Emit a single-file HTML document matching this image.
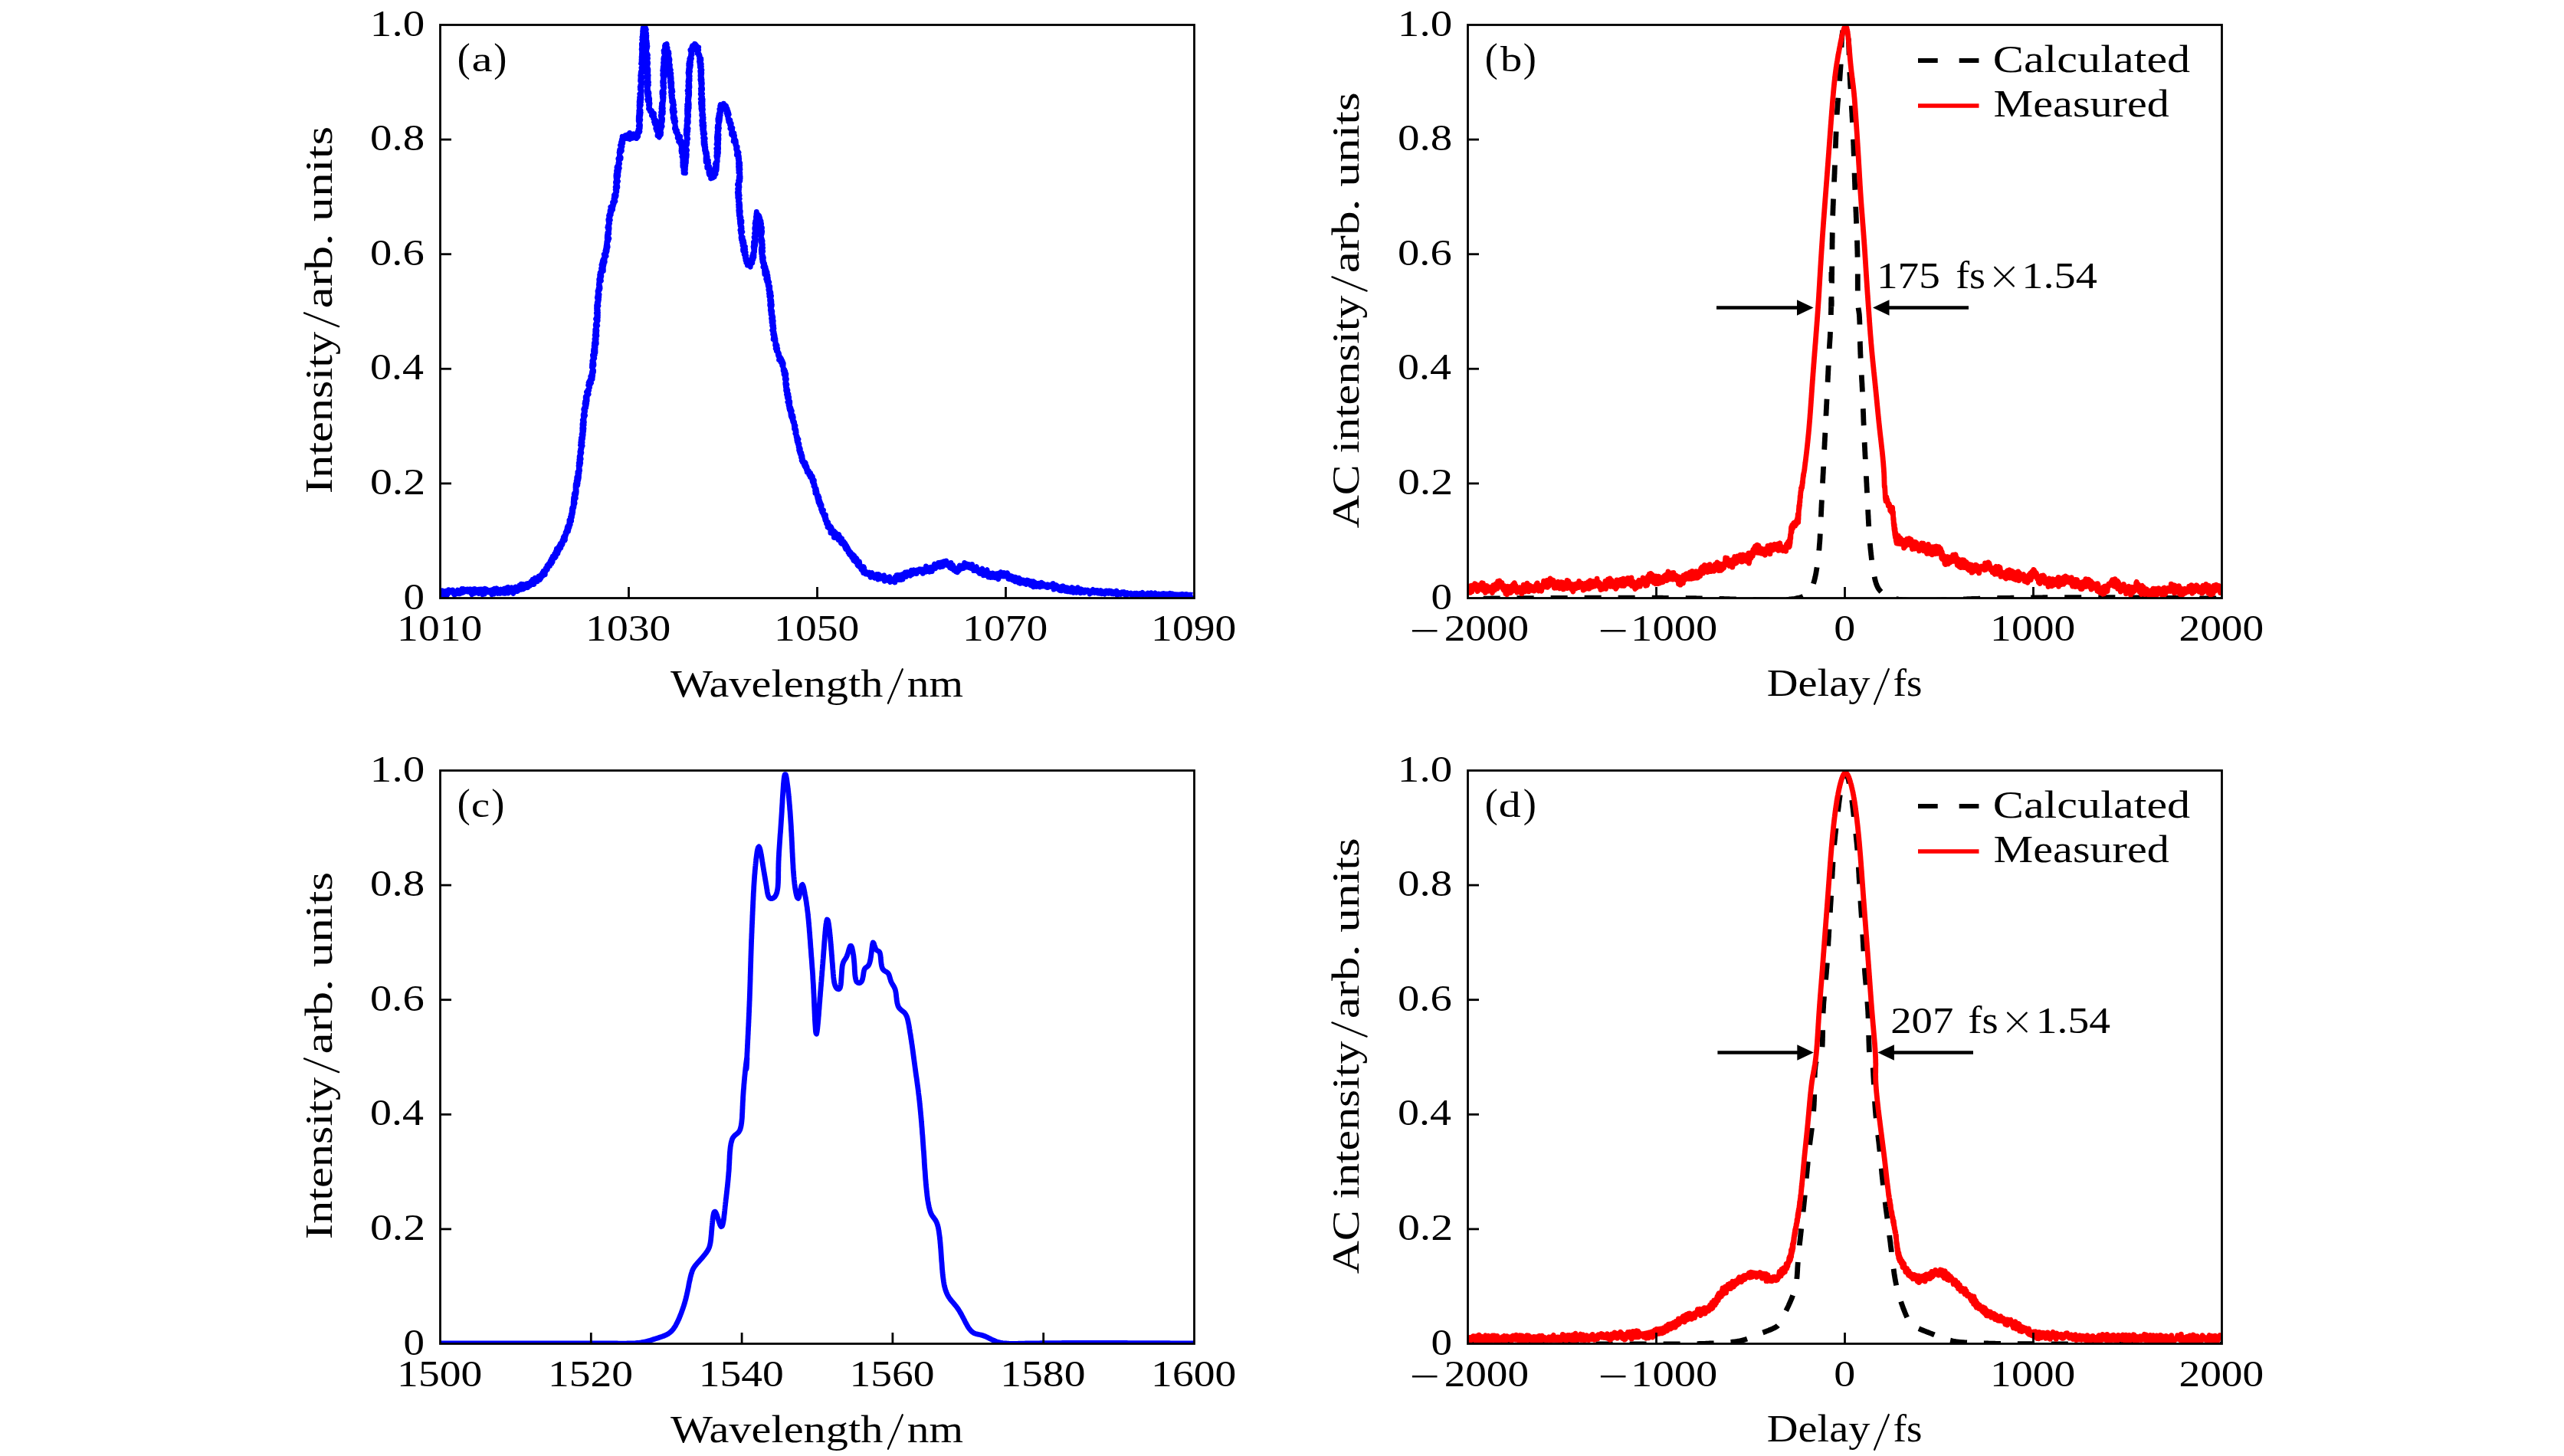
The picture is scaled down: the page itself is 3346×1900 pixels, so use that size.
<!DOCTYPE html>
<html><head><meta charset="utf-8"><style>
html,body{margin:0;padding:0;background:#fff;overflow:hidden}
svg{display:block}
text{font-family:"Liberation Serif",serif}
</style></head><body>
<svg width="3346" height="1900" viewBox="0 0 3346 1900"><defs>
<clipPath id="ca"><rect x="574.5" y="32.5" width="984.0" height="748.0"/></clipPath>
<clipPath id="cb"><rect x="1915.5" y="32.5" width="984.0" height="748.0"/></clipPath>
<clipPath id="cc"><rect x="574.5" y="1005.5" width="984.0" height="748.0"/></clipPath>
<clipPath id="cd"><rect x="1915.5" y="1005.5" width="984.0" height="748.0"/></clipPath>
</defs>
<path clip-path="url(#ca)" d="M574.0 772.9L574.6 772.3 575.2 775.8 575.8 774.4 576.4 771.9 577.0 770.9 577.6 774.1 578.2 771.0 578.8 774.2 579.4 776.9 580.0 771.6 580.6 775.4 581.2 773.9 581.8 771.1 582.4 771.5 583.0 777.4 583.6 773.9 584.2 773.8 584.8 774.9 585.4 769.7 586.0 770.3 586.6 770.5 587.2 771.3 587.8 772.6 588.4 771.2 589.0 772.3 589.6 771.1 590.2 769.8 590.8 769.8 591.4 773.9 592.0 775.1 592.6 772.3 593.2 776.2 593.8 773.8 594.4 775.2 595.0 774.9 595.6 772.6 596.2 774.7 596.8 773.6 597.4 770.0 598.0 772.8 598.6 772.0 599.2 771.3 599.8 774.9 600.4 771.4 601.0 771.3 601.6 772.4 602.2 773.6 602.8 768.3 603.4 773.7 604.0 769.9 604.6 768.4 605.2 772.9 605.8 770.6 606.4 771.3 607.0 771.6 607.6 770.6 608.2 769.2 608.8 771.2 609.4 771.9 610.0 768.9 610.6 771.7 611.2 770.4 611.8 770.1 612.4 772.3 613.0 768.9 613.6 771.9 614.2 768.9 614.8 774.2 615.4 769.9 616.0 775.8 616.6 769.7 617.2 774.8 617.8 772.7 618.4 768.6 619.0 774.4 619.6 770.3 620.2 768.6 620.8 773.5 621.4 771.4 622.0 772.6 622.6 770.2 623.2 770.9 623.8 772.7 624.4 769.2 625.0 774.6 625.6 771.9 626.2 772.6 626.8 768.9 627.4 769.4 628.0 769.7 628.6 769.2 629.2 774.4 629.8 775.9 630.4 771.3 631.0 770.2 631.6 770.4 632.2 775.1 632.8 768.2 633.4 771.2 634.0 768.5 634.6 768.9 635.2 773.0 635.8 769.7 636.4 772.3 637.0 770.5 637.6 772.9 638.2 771.3 638.8 770.5 639.4 771.3 640.0 770.2 640.6 772.4 641.2 774.2 641.8 775.8 642.4 769.6 643.0 775.2 643.6 769.2 644.2 773.9 644.8 775.0 645.4 768.1 646.0 772.0 646.6 771.1 647.2 772.4 647.8 772.0 648.4 767.8 649.0 771.9 649.6 774.5 650.2 769.6 650.8 771.3 651.4 771.2 652.0 773.1 652.6 774.4 653.2 773.4 653.8 769.0 654.4 772.9 655.0 771.3 655.6 772.6 656.2 772.5 656.8 774.1 657.4 773.6 658.0 768.2 658.6 770.3 659.2 774.4 659.8 771.2 660.4 770.4 661.0 767.3 661.5 771.7 662.1 766.5 662.7 766.2 663.3 774.0 663.9 770.9 664.5 773.1 665.1 772.2 665.7 767.1 666.3 768.6 666.9 769.7 667.5 766.6 668.0 767.3 668.6 767.8 669.2 772.7 669.8 774.5 670.4 770.8 671.0 770.8 671.6 770.5 672.1 768.3 672.7 765.9 673.3 770.3 673.9 771.7 674.5 769.5 675.1 771.6 675.6 771.5 676.2 769.5 676.8 769.3 677.4 768.7 677.9 764.0 678.5 766.7 679.1 763.7 679.7 769.4 680.2 762.1 680.8 767.1 681.4 765.2 681.9 764.6 682.5 762.6 683.1 768.9 683.6 764.8 684.2 762.8 684.8 767.5 685.3 766.1 685.9 763.0 686.5 762.5 687.0 765.8 687.6 761.6 688.1 765.3 688.7 766.6 689.3 762.8 689.8 763.6 690.4 760.9 690.9 762.0 691.5 764.4 692.0 762.2 692.5 762.6 693.1 758.8 693.6 759.2 694.2 758.6 694.7 762.5 695.2 756.2 695.7 757.3 696.3 756.6 696.8 762.6 697.3 759.5 697.8 757.4 698.3 754.2 698.8 757.4 699.3 755.3 699.8 757.5 700.2 755.1 700.7 755.2 701.2 758.9 701.6 757.1 702.1 754.4 702.5 753.6 702.9 751.9 703.5 755.5 703.8 753.9 704.4 755.7 704.6 756.6 705.1 754.0 705.5 755.4 706.0 754.1 706.3 750.0 706.9 751.6 707.0 749.9 707.6 752.2 707.9 747.5 708.3 750.7 708.6 751.4 708.8 747.3 709.2 745.1 709.8 749.3 709.8 747.7 710.3 749.4 710.7 746.5 711.3 749.8 711.3 746.6 711.9 746.2 712.1 741.9 712.1 742.9 712.6 745.0 713.3 741.6 713.2 743.4 713.9 738.2 713.9 740.7 714.6 737.7 714.4 743.1 715.3 737.0 715.2 737.4 715.6 736.2 715.7 737.6 716.1 738.4 716.9 737.2 717.0 736.5 717.6 738.5 717.7 733.3 717.7 735.0 718.5 734.9 718.2 732.1 718.6 735.6 719.1 732.6 719.5 729.5 719.7 735.4 719.6 730.1 720.2 731.9 721.1 726.1 721.1 733.2 721.4 726.5 721.9 726.7 721.7 727.5 722.1 727.2 723.0 726.7 723.2 725.6 723.7 722.6 723.6 724.7 723.6 726.1 724.1 728.2 724.8 724.5 724.3 727.0 725.3 726.6 725.1 721.0 725.5 719.0 725.7 719.2 726.2 723.2 726.2 718.4 726.4 716.1 727.1 722.9 727.2 720.0 728.0 722.2 727.6 716.0 728.9 713.8 729.1 714.1 729.2 718.6 730.0 712.6 729.3 718.4 729.7 712.9 730.8 715.5 731.2 709.3 730.3 712.1 731.1 712.3 731.6 715.3 731.8 715.0 732.4 710.4 732.3 710.2 732.5 709.7 733.4 711.3 732.8 710.9 734.1 710.2 734.4 706.5 734.1 709.1 733.6 706.4 734.4 704.2 734.1 704.7 734.8 704.6 735.4 702.8 734.7 703.9 736.3 703.2 735.2 701.1 736.5 699.2 737.0 705.3 737.4 699.9 737.6 703.8 737.2 699.5 738.1 699.6 737.3 698.2 737.4 700.3 738.3 694.5 738.2 694.6 739.2 693.5 739.0 693.1 739.0 697.1 739.8 693.8 739.4 692.0 738.7 693.9 740.1 693.7 739.6 692.8 739.5 693.5 740.2 688.1 741.4 690.1 740.7 686.8 741.5 693.4 741.2 690.0 741.0 687.8 741.9 691.6 742.5 684.4 741.5 686.5 742.9 684.5 742.6 684.6 743.1 687.9 742.8 681.7 742.8 687.3 742.7 683.6 743.5 684.9 742.9 679.0 744.3 684.4 743.9 682.2 744.6 678.1 743.1 679.3 744.5 677.1 743.5 680.1 743.8 678.0 745.4 680.3 745.7 679.9 744.9 674.9 744.6 679.0 745.4 674.0 744.5 674.6 746.2 675.5 744.6 678.1 746.5 674.2 745.2 671.5 746.6 667.3 747.0 669.9 745.8 669.8 746.5 667.7 746.4 667.5 747.3 670.9 747.0 666.0 746.1 666.8 746.9 670.1 747.1 666.5 747.7 668.1 746.4 664.1 747.8 665.8 748.3 662.2 746.7 663.8 747.2 667.3 747.4 664.9 746.9 662.1 749.0 660.0 748.9 661.9 748.4 658.8 748.1 658.4 749.0 660.4 749.2 658.3 748.9 658.7 748.1 658.0 748.9 654.3 749.9 657.4 749.3 652.1 750.1 656.5 748.1 655.4 748.4 657.1 749.9 652.7 748.3 654.1 748.6 649.3 749.5 650.4 749.2 650.5 749.7 651.3 750.3 645.7 749.6 647.2 751.1 646.2 750.6 645.8 751.3 650.0 749.2 644.9 749.7 643.4 750.1 645.2 750.8 642.1 749.8 645.6 751.0 644.7 751.5 645.6 750.9 644.0 752.3 641.0 751.9 644.5 752.2 639.1 751.9 640.5 751.0 636.5 752.2 641.3 751.0 639.0 751.3 637.0 751.3 636.1 752.1 636.5 751.5 634.7 751.0 636.2 751.1 632.9 752.0 635.6 751.2 631.6 751.8 632.1 752.7 632.9 753.8 633.1 753.7 632.3 752.1 630.3 754.2 630.6 752.3 630.2 754.2 628.1 752.1 627.7 752.9 625.5 752.7 630.3 752.7 622.9 754.0 628.7 753.3 624.4 753.1 624.5 753.0 625.4 753.0 627.1 755.0 626.0 755.0 620.3 754.5 620.9 755.4 623.9 755.5 617.4 755.4 618.7 754.2 618.5 753.9 618.3 755.9 617.0 755.5 616.4 755.5 617.9 754.0 615.7 755.7 616.6 754.8 614.4 754.0 616.9 754.9 615.9 755.7 610.0 756.2 611.6 755.5 609.3 755.3 611.8 756.6 614.1 756.1 612.0 755.9 607.3 755.3 610.6 757.2 605.4 755.0 607.8 755.3 608.7 755.9 610.7 756.0 605.4 757.1 607.3 757.5 602.4 755.7 602.9 755.2 604.2 757.7 603.8 755.8 600.0 757.3 604.9 756.5 600.3 757.6 598.7 755.9 600.3 756.0 599.5 756.6 602.3 756.3 595.9 756.1 595.4 756.2 600.3 757.0 594.7 758.2 598.8 756.3 595.4 757.5 594.8 757.3 589.2 757.0 593.4 757.1 596.3 757.1 595.2 757.3 591.3 756.8 589.2 757.4 594.9 758.9 590.7 757.2 588.6 757.2 588.3 757.6 589.5 759.0 585.0 758.2 584.0 757.0 589.1 758.1 587.2 758.7 584.7 758.4 588.1 757.6 585.8 759.7 581.1 759.6 582.5 757.5 580.9 759.5 580.7 758.3 582.0 760.1 581.5 759.1 580.9 759.8 576.7 758.7 579.3 757.7 577.8 757.9 576.5 760.0 572.2 759.8 577.3 760.0 577.6 758.1 574.2 758.9 573.2 758.6 573.8 759.7 571.9 759.3 571.9 759.3 573.2 759.2 572.9 759.5 569.9 760.5 572.3 758.4 571.3 761.0 568.4 760.3 566.3 760.7 570.4 761.1 564.7 759.7 569.3 761.2 567.6 761.0 562.6 760.5 563.9 759.1 566.6 760.7 562.3 760.1 563.6 759.8 561.7 761.0 561.5 761.6 563.2 761.8 559.6 760.7 558.7 760.4 560.9 762.0 559.1 761.0 556.7 761.0 556.8 759.7 559.0 760.8 553.3 760.1 553.6 762.2 554.6 761.4 553.1 761.4 554.8 762.4 550.9 759.9 554.8 760.0 552.9 760.4 551.8 762.0 548.2 760.7 549.4 761.9 550.5 761.9 549.9 760.3 548.1 761.2 547.1 762.1 543.9 761.5 548.8 761.7 546.1 761.5 543.8 761.1 541.6 761.5 545.5 761.9 542.9 761.3 541.4 762.7 544.5 762.9 540.4 761.4 540.4 763.6 542.1 762.3 540.1 762.5 542.9 762.8 542.3 762.3 538.7 763.6 536.0 763.4 537.7 762.8 539.4 761.7 534.0 763.4 537.4 762.4 532.3 762.2 535.6 763.2 535.6 762.9 533.8 763.8 530.7 764.0 530.2 764.3 532.2 764.4 531.5 764.6 532.1 763.0 526.6 764.3 527.5 765.1 529.2 764.6 528.2 763.2 528.0 763.9 528.4 764.8 527.3 765.7 526.4 765.0 528.8 765.2 523.1 763.5 523.6 764.8 522.6 766.2 523.3 766.1 519.8 765.5 520.7 765.6 518.3 766.2 518.4 764.6 521.8 764.2 519.7 764.2 517.5 766.9 514.7 766.2 517.8 766.0 513.3 765.6 516.5 766.8 515.0 765.6 516.7 767.5 513.0 765.9 512.2 766.1 510.8 765.5 511.5 768.2 514.4 766.7 509.6 766.3 513.1 768.5 509.7 766.2 510.6 766.2 512.9 767.5 510.0 768.1 507.4 767.2 509.0 769.3 505.5 768.9 505.3 769.5 506.0 769.2 504.5 769.3 503.9 767.7 502.8 769.0 501.4 770.4 501.6 768.0 499.3 769.0 497.5 770.0 497.9 770.2 501.5 771.0 499.1 769.9 498.5 771.5 499.8 769.7 499.6 769.4 496.6 771.8 495.0 770.9 495.5 770.1 495.5 771.0 493.3 771.0 497.5 772.5 494.3 771.8 491.1 770.7 491.4 771.4 491.9 773.1 495.1 772.3 492.2 773.1 493.4 773.7 489.3 772.9 489.1 772.9 491.9 771.8 489.9 772.6 484.8 773.9 485.6 773.8 484.7 774.3 483.4 774.3 485.8 773.1 486.6 774.1 485.5 774.4 484.8 774.5 485.7 774.6 483.4 772.4 479.3 773.3 480.8 773.0 479.5 773.1 479.1 774.3 478.0 772.7 478.8 774.7 476.7 772.7 479.8 773.4 474.3 772.5 476.5 775.0 476.3 774.8 473.9 772.7 475.3 774.9 476.6 772.7 474.6 773.1 472.7 774.4 470.5 773.9 474.3 773.8 469.0 772.9 470.8 774.1 468.5 773.9 469.5 773.2 470.4 775.8 467.5 774.5 464.3 774.8 467.7 774.0 467.0 773.4 463.6 775.3 463.3 776.1 462.7 776.2 463.0 775.5 462.2 776.0 462.6 775.6 458.8 776.1 460.0 774.7 464.8 774.6 456.4 774.4 458.3 775.8 457.6 774.9 460.3 776.9 454.8 777.0 459.9 776.8 458.2 776.9 458.8 775.0 456.0 775.6 455.8 777.1 451.3 774.8 455.5 777.0 453.3 775.1 451.5 776.2 454.4 775.3 448.3 775.9 449.2 776.9 450.4 777.1 451.3 777.7 446.6 776.7 448.6 775.8 446.7 777.3 446.3 777.3 447.1 776.3 446.8 777.7 442.3 778.3 448.2 776.3 444.8 777.2 444.6 775.9 442.4 777.4 446.7 776.2 442.8 777.2 438.2 778.2 442.6 776.2 437.3 776.9 438.9 777.1 439.6 776.7 439.0 777.6 439.4 778.4 434.4 778.9 438.0 779.0 438.0 777.0 437.6 776.7 431.9 777.9 430.5 778.7 433.6 777.1 430.1 776.7 433.3 777.3 429.9 776.8 432.4 777.2 429.3 776.8 429.9 779.0 431.5 778.1 428.3 779.4 424.7 778.2 428.6 777.7 424.5 778.6 424.7 777.7 426.6 779.1 422.5 777.9 426.2 779.7 424.8 777.2 423.8 778.0 421.1 779.0 421.0 777.4 425.3 778.2 422.5 778.5 421.3 780.2 418.5 780.0 416.1 777.5 416.3 778.2 417.0 779.0 419.1 780.3 414.4 779.8 414.4 778.5 414.1 778.3 416.8 779.1 416.0 778.4 416.1 778.8 414.0 779.4 413.0 780.0 410.8 778.3 408.4 780.3 413.4 779.8 406.8 780.4 411.2 779.6 406.4 778.8 411.3 779.1 404.3 779.8 408.1 780.3 405.1 778.6 405.0 780.5 408.0 778.9 401.9 778.8 404.2 778.5 402.3 779.5 401.7 779.0 402.1 779.9 404.0 779.9 399.2 778.6 401.4 778.6 398.5 779.9 397.4 778.7 398.3 780.9 399.2 779.7 399.4 780.5 396.1 780.7 393.9 780.2 398.1 780.4 395.6 779.1 395.5 780.4 396.6 781.5 390.8 779.8 396.0 780.1 394.9 779.4 394.3 780.6 391.2 779.3 388.2 780.3 391.6 781.7 387.5 779.5 389.0 779.8 390.2 781.0 388.5 782.1 384.2 781.5 387.3 780.1 388.5 781.7 387.7 779.9 385.6 781.3 379.7 780.0 380.0 780.6 380.2 781.4 379.9 780.5 382.2 780.2 382.0 780.1 379.4 781.8 378.0 783.0 375.0 782.0 376.5 781.9 378.7 783.1 376.4 782.6 378.1 781.4 377.6 782.1 375.4 781.0 376.6 781.9 374.0 782.9 374.0 781.7 374.2 782.4 371.6 782.4 373.4 781.8 369.3 782.4 371.7 782.2 371.2 781.4 371.9 781.7 368.8 782.2 369.6 781.7 364.6 782.4 365.6 782.2 366.8 782.9 364.6 784.5 366.4 782.9 362.0 782.4 364.6 782.7 363.2 782.6 361.1 783.3 362.9 784.9 360.2 784.0 363.4 782.6 358.7 783.7 360.4 783.3 360.6 784.2 357.5 783.2 355.8 785.3 356.1 784.0 356.6 784.4 356.7 783.8 359.5 785.2 352.4 785.0 351.8 784.5 353.0 786.6 353.2 785.9 353.3 784.5 350.3 785.4 348.8 785.9 352.9 785.0 350.8 787.2 347.4 787.4 353.4 784.9 345.7 785.4 347.7 785.4 347.8 787.0 349.6 788.1 345.2 785.7 343.4 787.5 347.2 787.8 343.5 786.1 342.5 786.1 341.3 787.0 344.3 786.9 338.6 786.4 340.3 788.6 341.5 789.2 342.1 789.3 341.0 787.6 337.6 788.9 336.2 789.3 338.0 789.4 336.9 788.2 337.2 789.0 333.9 790.2 333.9 790.1 331.5 789.8 335.2 788.2 331.9 790.3 330.9 788.8 333.7 790.2 332.1 791.1 334.1 789.3 332.3 790.1 330.1 790.4 327.0 791.1 329.5 791.9 327.7 789.8 327.4 791.2 330.2 792.2 327.4 790.4 325.3 790.6 326.5 791.1 320.8 791.5 323.2 791.1 322.3 792.3 324.9 790.5 324.7 790.6 325.3 791.7 321.6 791.8 322.2 792.6 320.5 792.6 322.2 793.2 322.2 792.7 319.2 792.3 316.6 792.4 318.2 791.3 320.5 791.9 315.3 792.2 316.5 792.7 312.1 791.8 315.5 793.6 312.7 793.7 314.4 792.7 312.7 793.7 312.7 794.0 311.5 794.1 313.2 792.2 311.2 792.3 307.4 794.8 311.1 794.2 310.2 792.8 303.6 793.2 310.0 793.4 309.1 792.7 305.4 794.7 304.8 794.2 302.7 793.8 303.5 794.1 304.4 794.3 303.1 794.9 298.8 794.1 304.8 795.1 298.3 793.3 298.3 793.7 298.9 794.6 298.3 792.9 296.8 795.0 296.7 793.9 295.3 793.7 296.0 793.3 294.5 793.3 297.2 794.7 296.9 794.5 290.6 795.3 291.2 793.8 294.2 795.5 291.8 794.2 292.4 794.8 290.9 794.9 294.0 793.8 286.8 795.3 289.2 794.8 292.2 794.1 287.9 794.2 286.8 795.5 284.9 794.6 284.3 796.3 287.0 795.5 286.0 796.2 282.4 795.0 285.4 795.4 281.2 794.5 281.5 796.4 280.8 795.1 279.9 795.7 279.1 797.2 280.3 795.0 282.0 795.1 280.1 795.2 280.6 795.9 281.4 796.1 279.6 796.0 275.9 796.1 274.6 798.1 274.8 797.0 276.2 797.7 277.1 796.6 275.8 796.3 277.2 797.7 271.1 796.8 270.1 799.0 272.5 797.2 274.2 799.5 267.6 799.6 273.5 798.4 269.6 799.5 268.0 799.4 270.4 800.3 269.0 799.5 264.1 801.0 266.4 799.7 268.1 801.5 264.8 800.8 265.7 799.6 266.9 800.4 265.7 801.5 261.1 800.8 264.7 800.8 262.1 801.4 262.0 803.0 262.6 801.6 260.6 801.0 259.5 801.9 260.7 802.9 258.4 801.5 257.6 802.1 259.2 801.3 257.3 802.7 256.3 801.4 254.5 802.4 253.2 802.9 258.1 803.7 256.7 804.2 255.4 803.9 252.7 803.5 252.9 802.0 255.0 803.7 250.8 804.8 250.3 802.8 252.6 804.8 248.3 804.7 248.6 804.8 249.5 803.7 248.8 803.1 247.6 805.4 243.9 803.6 244.9 803.6 243.3 803.1 244.0 803.8 242.7 805.1 242.3 805.2 239.8 804.3 244.1 805.9 244.2 805.5 241.2 805.3 239.3 803.8 239.8 803.5 238.3 803.6 237.6 803.6 237.4 806.1 237.1 805.1 235.8 806.5 236.5 805.0 238.5 804.2 236.1 804.9 236.2 806.3 237.0 805.4 234.5 805.7 232.8 806.0 231.1 804.3 228.5 804.7 230.1 804.9 228.6 804.7 229.3 804.5 228.5 804.7 228.3 806.4 230.9 804.7 225.2 806.3 228.7 805.1 222.8 806.7 227.1 805.2 223.9 806.1 223.1 807.3 222.8 804.8 225.4 805.2 223.3 807.4 222.1 807.1 225.0 805.4 217.2 805.4 222.9 806.9 220.9 804.9 218.3 806.2 223.5 807.2 224.2 805.6 221.1 805.3 226.3 804.5 222.6 804.8 227.5 804.7 224.4 806.8 224.4 806.2 225.2 805.9 228.9 804.0 227.4 805.2 229.9 804.6 231.3 804.4 227.2 805.6 226.7 803.8 229.4 805.1 231.2 805.0 230.8 804.9 232.0 803.9 230.8 804.2 233.6 804.5 229.1 806.5 228.7 805.7 227.9 805.9 228.0 806.9 229.3 806.5 225.6 806.0 227.5 806.3 227.4 805.2 222.2 806.4 226.2 806.9 222.8 806.5 221.2 806.8 225.7 805.3 221.9 805.5 224.2 807.9 218.5 806.5 220.9 807.0 216.7 808.3 219.5 806.8 219.6 807.6 217.4 807.3 215.8 806.7 219.1 806.0 217.6 806.0 216.5 807.6 216.2 807.7 212.9 808.6 213.5 807.0 217.0 806.9 212.7 808.1 208.4 806.9 212.7 808.1 212.1 806.8 207.2 808.3 208.3 806.9 206.6 808.1 211.5 807.8 210.2 807.5 210.5 809.3 207.2 808.0 210.4 809.9 205.1 809.6 204.7 810.1 207.1 809.2 204.6 810.2 205.3 808.3 202.5 808.8 200.3 808.8 201.8 808.1 198.6 808.0 199.0 810.5 198.2 810.8 197.1 808.4 196.7 808.3 199.0 808.4 199.0 808.6 195.1 810.5 193.3 809.7 194.9 809.6 194.3 809.9 193.6 811.4 196.7 810.4 191.9 811.1 196.9 811.1 192.1 809.4 189.6 811.3 193.0 810.3 190.1 811.9 191.3 810.1 191.1 810.4 186.0 811.8 187.7 810.9 185.9 811.8 182.3 812.1 185.2 812.8 187.2 812.8 184.4 812.3 186.5 811.2 183.1 812.3 187.2 811.5 181.8 811.7 183.3 812.8 185.4 812.1 178.2 814.9 179.7 814.3 181.2 815.2 180.4 814.5 181.5 815.7 177.4 815.5 177.0 816.2 176.5 817.0 178.2 816.4 180.0 818.6 177.5 818.8 180.9 818.9 177.0 820.4 178.3 819.1 175.6 820.0 178.4 822.0 181.6 821.6 179.3 821.8 173.5 822.0 180.3 824.5 177.8 824.2 179.7 823.8 176.9 826.5 174.9 825.3 180.3 827.2 178.0 826.8 177.6 827.4 176.5 829.2 178.5 829.7 178.2 830.9 176.5 830.6 179.8 830.5 180.7 832.6 178.2 830.8 178.7 831.1 175.4 831.6 172.6 832.7 177.9 832.4 176.3 832.8 175.3 833.5 172.5 832.8 170.2 832.4 173.6 834.1 171.7 835.0 171.5 833.8 171.9 834.5 172.4 832.9 168.8 833.0 170.3 835.4 163.9 833.3 164.5 834.0 164.4 834.1 165.3 835.2 168.0 835.5 163.2 834.2 167.6 835.2 164.0 834.6 159.4 835.4 163.2 835.4 162.9 833.6 163.3 834.9 161.7 833.8 157.6 835.5 157.6 833.8 161.0 833.9 159.3 835.1 157.2 835.4 155.9 835.7 156.2 835.4 156.0 833.8 157.5 833.2 158.0 833.3 151.6 835.1 153.2 835.2 153.0 835.9 149.7 834.6 151.5 835.3 153.7 833.5 151.8 835.5 148.8 836.2 147.1 833.7 148.9 834.3 150.0 835.2 150.0 834.4 148.6 835.2 149.1 833.8 146.7 834.7 145.0 835.5 143.3 833.9 145.4 833.8 144.3 836.1 144.3 834.5 144.3 834.7 139.3 834.3 138.9 834.8 138.2 834.0 137.3 834.4 138.1 834.2 140.8 834.1 137.3 834.9 133.9 835.5 139.1 836.4 136.9 834.4 134.5 834.2 135.4 834.1 132.4 836.6 133.2 834.4 131.3 835.4 130.3 834.5 130.1 835.5 129.8 834.7 128.2 835.9 127.7 835.7 130.4 835.1 129.3 835.2 130.8 836.9 130.1 837.0 126.6 835.5 130.8 835.0 125.1 835.9 124.9 834.6 127.0 836.6 122.1 835.7 126.7 836.3 121.0 837.0 120.4 834.8 122.4 836.9 124.6 836.5 119.3 836.5 117.9 837.3 118.7 835.8 117.6 836.3 118.5 835.3 116.4 835.8 115.8 837.3 118.3 835.2 113.4 836.3 117.0 836.2 115.2 836.7 111.3 835.8 112.7 837.6 110.4 836.5 114.1 837.0 114.0 835.9 110.9 836.5 110.6 836.2 112.6 837.9 107.3 837.0 107.1 836.7 106.9 837.9 108.2 837.7 108.2 835.8 105.1 837.5 107.8 836.2 105.8 837.1 105.3 835.6 105.4 836.1 100.1 836.8 103.6 838.2 101.8 837.3 102.1 836.1 102.2 837.1 99.5 835.8 98.6 836.9 98.7 837.3 99.9 835.8 99.0 835.8 99.2 836.2 97.9 836.5 93.2 836.0 97.2 838.3 93.9 837.2 92.0 837.4 94.9 837.0 94.0 837.9 91.1 837.3 92.8 836.3 94.1 838.6 94.0 836.9 88.5 837.3 89.4 838.6 92.6 837.0 88.2 838.5 89.4 837.8 86.3 837.6 88.6 838.0 84.8 838.9 87.0 838.9 86.7 838.6 82.4 838.6 81.7 836.5 83.0 837.9 80.7 838.9 84.8 838.1 81.0 837.6 78.3 839.0 82.5 837.0 80.6 837.4 80.0 837.1 75.1 837.1 73.9 838.0 75.2 837.9 73.8 837.5 75.9 837.0 78.0 839.2 75.3 838.2 70.8 838.0 76.8 839.4 71.3 837.4 70.0 837.5 73.2 839.6 70.7 839.1 71.9 838.2 69.3 838.3 67.5 838.0 67.1 839.3 65.4 838.5 66.7 837.5 63.8 837.6 69.1 838.3 67.0 837.5 65.1 839.0 67.8 838.0 63.8 837.1 64.5 837.6 61.9 839.4 66.3 839.3 63.5 838.4 63.0 837.3 57.3 837.5 60.2 838.1 58.4 839.1 54.8 839.8 56.9 839.5 57.4 839.3 59.3 839.7 54.9 839.0 53.3 839.1 53.1 838.3 55.0 838.3 54.4 839.5 52.0 839.6 54.3 837.8 51.9 839.3 51.0 840.3 52.4 838.7 52.4 840.2 49.6 839.6 46.9 839.9 50.1 840.3 44.6 837.9 48.4 839.5 49.8 838.6 47.6 838.3 48.2 838.6 43.0 840.5 41.7 839.8 43.7 840.7 45.6 838.6 40.8 840.8 44.6 839.9 38.1 840.9 42.0 840.3 40.1 838.9 37.6 838.9 41.0 840.9 39.7 840.4 37.6 840.9 37.1 839.4 35.7 840.7 35.4 839.8 37.1 842.1 32.8 840.3 38.6 840.5 36.6 840.2 37.0 841.5 37.3 841.6 40.8 841.8 34.9 843.3 38.6 841.2 37.8 841.3 43.4 841.4 40.4 841.2 40.1 842.1 40.3 842.9 43.8 842.2 39.7 843.6 43.7 841.8 45.3 843.0 47.1 842.6 47.5 843.1 46.7 842.6 47.7 842.6 45.1 842.0 48.6 842.2 50.0 843.1 46.2 843.8 46.7 842.6 47.8 843.8 49.3 842.2 52.8 842.5 50.8 843.2 55.3 842.1 50.3 844.1 53.2 844.3 56.1 842.7 55.1 842.6 52.7 843.7 58.2 844.6 57.5 844.3 55.5 843.0 59.7 843.1 59.0 843.9 58.9 843.4 61.5 843.7 64.4 844.4 63.2 844.9 60.5 843.9 62.8 843.5 62.7 843.1 61.8 842.9 66.4 843.6 61.8 844.1 62.2 842.9 66.2 842.8 67.6 843.0 67.5 843.8 66.0 842.9 68.6 844.9 70.3 843.5 72.7 845.4 71.6 844.1 71.2 844.5 69.5 844.7 70.5 843.1 72.0 843.2 73.5 843.3 72.0 844.6 75.7 844.5 71.7 845.5 76.2 844.0 75.7 845.1 77.3 844.3 79.5 844.9 79.1 843.9 76.9 845.4 82.2 843.3 79.2 845.0 82.1 844.9 81.4 843.8 80.3 844.1 83.1 844.6 83.2 845.1 80.5 844.3 85.8 845.6 82.9 845.6 81.7 845.2 84.8 844.3 83.1 844.2 87.4 844.0 89.4 845.6 90.8 844.5 86.4 844.9 91.4 845.0 87.7 845.1 92.2 844.1 88.2 844.6 92.0 844.4 91.7 845.4 93.8 844.7 91.5 845.8 94.6 845.9 90.4 844.3 95.7 845.4 97.5 845.2 97.2 845.7 96.8 844.7 98.1 845.6 97.5 844.5 98.3 845.6 100.4 846.2 98.5 843.6 99.4 845.9 104.5 845.9 99.4 843.8 100.9 845.6 101.0 845.8 102.9 844.0 106.2 845.0 105.4 845.0 108.2 845.7 102.3 845.4 109.3 845.1 108.2 845.9 109.9 843.8 107.7 844.9 106.6 845.5 110.5 846.5 107.5 844.9 112.4 845.4 110.2 844.5 110.6 844.8 110.6 846.4 111.1 844.5 111.9 845.3 113.7 844.0 113.5 845.4 114.7 845.4 117.9 844.1 116.6 844.9 119.7 844.2 116.3 845.6 117.9 844.4 119.8 845.2 117.7 846.1 121.9 844.3 121.1 847.0 122.0 845.6 119.3 844.4 122.3 846.1 123.9 846.8 120.5 845.5 123.4 844.8 125.0 846.5 123.6 847.0 126.4 844.8 129.8 846.4 130.2 846.5 125.7 846.9 128.5 845.3 128.8 845.8 131.8 846.8 131.4 847.5 132.1 847.7 128.8 845.5 132.1 847.6 131.7 847.1 132.4 848.0 134.8 847.4 134.8 847.4 135.3 846.4 137.0 847.2 133.5 846.9 134.6 846.7 138.2 847.0 140.6 846.5 141.9 847.8 136.7 847.4 138.1 846.8 137.1 847.6 140.3 848.3 145.2 847.8 143.9 849.5 144.0 848.1 144.4 848.7 143.4 848.0 144.1 848.8 143.3 849.5 146.2 850.5 144.2 851.7 147.1 851.6 147.0 850.8 148.2 850.3 150.6 850.6 151.0 851.3 148.1 853.5 148.2 851.5 151.8 853.5 148.8 852.5 154.4 852.6 151.4 853.3 151.8 853.9 152.8 853.9 153.1 853.2 154.9 854.9 156.3 853.4 155.6 855.7 156.8 853.6 159.1 856.4 158.4 856.1 157.8 856.7 159.5 854.8 160.0 854.6 157.9 855.3 162.3 854.5 161.8 855.3 161.6 855.1 161.0 855.4 161.3 857.4 164.4 856.4 164.6 855.4 162.9 857.9 166.9 855.8 168.0 855.7 167.7 856.1 165.6 858.4 168.4 857.5 165.8 858.3 170.1 858.8 167.4 858.3 167.9 856.9 170.6 859.2 169.9 858.4 171.4 857.8 170.1 859.6 174.2 859.6 171.1 858.9 170.9 858.0 176.8 859.8 177.0 858.7 174.6 859.0 176.8 861.2 176.5 861.6 176.6 860.2 179.1 860.7 174.4 861.8 174.6 860.1 175.6 860.4 174.4 862.5 175.8 862.3 170.4 861.5 170.3 862.7 172.9 862.2 172.2 860.7 171.5 862.2 167.2 863.0 167.9 862.3 166.3 862.3 165.9 861.3 169.1 863.7 165.5 861.3 166.2 861.6 168.9 861.8 166.4 862.5 167.4 864.1 164.9 861.7 165.6 863.5 162.9 863.5 159.8 861.7 163.2 861.7 159.8 864.3 158.3 863.7 160.0 862.2 161.6 862.8 155.3 863.4 157.1 862.4 158.0 864.3 158.9 864.6 155.2 864.3 153.6 862.9 153.1 862.5 153.0 862.5 151.2 862.3 150.9 862.8 150.7 863.0 152.4 862.7 151.3 863.5 150.7 862.6 146.6 864.7 147.5 864.7 148.4 865.0 145.0 864.4 147.3 864.8 148.7 864.2 146.5 862.9 141.7 865.2 144.0 865.3 147.9 864.3 142.3 865.4 145.3 864.2 144.7 865.2 141.8 864.7 142.9 865.4 141.2 864.4 140.1 864.4 141.0 863.8 137.7 863.9 137.0 863.2 140.2 863.1 139.1 863.7 139.9 863.4 134.9 865.2 133.8 864.9 138.6 865.2 133.8 864.9 134.1 865.1 130.0 864.5 135.0 864.3 133.9 864.5 132.9 865.9 126.3 865.9 127.1 865.4 129.2 865.6 132.3 866.1 126.5 864.2 125.9 865.1 129.9 864.6 128.6 865.9 126.9 865.5 125.9 866.2 122.8 864.8 121.4 866.2 119.9 864.2 121.7 866.2 123.3 865.7 122.0 866.4 122.3 863.9 122.7 863.9 119.5 864.0 119.2 865.7 119.8 865.8 119.3 865.6 116.7 866.6 114.5 866.2 115.8 865.4 113.6 865.7 112.8 866.6 113.6 866.1 111.4 866.5 115.3 866.3 111.8 864.7 111.6 866.5 112.1 864.8 108.5 866.4 107.7 866.2 109.4 864.7 107.1 866.7 108.5 864.7 105.6 865.0 109.4 865.6 105.0 864.9 108.4 866.3 108.6 866.0 103.9 866.4 107.8 865.4 102.2 865.7 103.6 866.4 103.8 865.7 100.4 865.2 98.4 865.4 98.1 866.4 101.1 864.8 98.3 867.2 99.2 867.1 98.1 866.9 100.0 865.1 95.4 867.1 98.6 864.7 92.1 866.3 96.5 864.8 96.4 866.7 92.3 865.2 91.9 867.4 96.0 865.2 94.0 865.2 89.7 865.7 88.0 867.5 92.7 865.2 91.8 865.0 90.2 866.3 90.8 865.5 87.9 867.4 83.8 867.3 86.4 867.6 86.8 867.6 86.3 866.3 82.2 867.5 83.9 865.2 87.5 866.7 82.1 865.8 83.6 867.1 84.4 866.4 83.1 867.5 82.0 865.5 81.6 866.3 80.8 866.8 82.6 867.5 75.5 867.1 73.8 865.8 77.9 868.2 77.6 867.9 76.2 867.7 76.0 866.9 76.1 865.8 76.4 866.4 74.2 866.9 74.8 867.4 73.5 867.8 71.8 867.8 71.1 868.5 69.1 866.6 69.7 868.3 67.7 866.0 66.2 868.7 71.1 866.4 69.0 867.7 67.7 866.7 67.2 867.2 64.3 868.3 64.4 868.2 68.0 867.5 62.4 868.0 63.1 866.9 65.8 868.3 61.3 869.0 60.0 868.1 58.3 868.9 59.6 867.4 59.7 870.1 57.3 870.3 58.4 869.3 61.8 869.5 61.9 869.5 63.3 870.1 62.1 871.1 62.5 869.1 66.5 869.2 64.1 870.0 67.0 871.1 67.0 871.1 64.6 871.4 69.6 872.1 67.3 870.6 69.7 870.2 69.1 872.3 72.3 871.4 70.3 872.7 67.8 870.7 71.1 873.1 69.9 871.9 73.2 870.9 75.5 872.8 73.1 872.7 73.3 871.8 73.6 871.7 77.4 872.1 72.1 873.8 76.8 871.8 75.1 872.0 77.0 873.2 80.1 873.0 76.4 873.4 77.2 873.5 80.9 873.1 78.3 872.6 82.4 873.1 84.2 874.0 77.9 873.0 83.9 873.4 82.2 873.6 83.7 874.4 84.7 872.9 83.9 872.9 86.7 874.4 87.7 873.5 84.2 872.5 90.0 872.9 90.0 873.0 86.2 873.6 86.3 872.6 88.3 872.8 87.8 872.8 88.3 873.9 94.1 873.7 89.0 875.3 91.3 873.1 90.5 874.3 94.8 873.4 97.1 874.6 94.5 875.8 95.7 874.1 95.7 875.2 96.3 874.0 96.0 875.4 99.6 874.5 95.9 873.9 101.0 874.8 100.0 873.9 99.8 875.6 97.9 876.2 102.9 875.9 99.6 874.6 103.4 874.9 102.1 875.4 104.1 874.4 105.2 876.1 103.8 875.0 107.0 874.3 106.9 876.0 104.9 876.9 108.4 874.8 110.6 875.9 108.2 875.3 108.4 875.8 111.3 875.7 110.1 876.7 107.6 876.7 115.2 875.8 113.1 874.8 113.9 876.0 112.3 876.4 116.0 875.9 116.8 876.4 110.7 876.9 117.8 877.4 116.8 876.1 115.6 876.5 116.6 876.7 115.9 875.4 120.3 876.0 117.2 875.9 117.2 876.3 117.6 876.3 122.0 877.8 119.5 876.5 119.9 876.5 124.7 877.3 124.3 875.9 121.3 876.2 127.5 877.5 124.7 875.8 124.5 876.7 126.2 876.5 126.8 877.6 128.1 877.1 131.1 877.5 127.6 876.8 129.1 876.8 128.0 878.5 130.7 879.0 133.4 876.6 131.4 877.1 128.6 878.7 133.0 878.5 130.8 878.5 135.3 877.0 133.4 876.7 133.0 879.0 136.6 879.0 135.6 878.6 134.3 877.5 140.1 878.7 135.1 879.6 137.0 879.0 138.4 877.0 143.1 879.1 142.1 877.7 139.7 877.2 144.6 878.1 143.7 879.8 141.9 877.5 146.4 879.4 146.3 878.7 142.7 877.9 147.8 880.2 146.0 878.4 148.1 879.5 148.1 880.5 145.8 878.8 145.3 878.4 151.2 878.3 151.5 879.8 151.9 879.5 149.6 878.1 153.7 880.2 151.8 878.8 156.0 879.3 155.6 880.7 154.5 881.0 154.3 879.7 153.7 881.0 157.5 880.4 159.7 881.2 158.7 880.8 158.8 879.4 159.3 880.2 155.7 881.3 157.7 880.2 160.4 880.3 158.2 881.1 159.9 881.7 158.5 880.9 160.2 881.3 164.1 880.9 164.5 881.1 167.5 880.5 167.1 881.2 167.3 882.0 167.8 882.2 168.5 880.5 168.0 881.1 167.8 881.2 169.1 881.7 169.9 881.9 166.4 881.6 171.8 883.4 169.9 881.7 170.9 883.1 170.6 883.0 171.2 883.6 174.6 884.5 174.3 882.3 171.8 884.7 173.9 884.0 176.0 882.8 173.4 884.8 177.0 884.3 176.6 884.6 179.8 885.4 179.7 884.1 179.8 884.8 178.8 886.5 178.4 884.9 179.7 886.0 180.9 887.8 178.2 885.6 184.8 886.5 181.4 886.8 183.4 887.7 182.8 887.5 186.9 888.7 186.6 887.9 187.4 889.4 183.9 889.5 184.3 888.8 184.1 889.8 190.4 888.4 188.1 888.7 189.5 889.0 189.7 889.6 190.7 889.1 191.1 889.8 192.5 891.0 194.1 888.8 189.6 889.6 191.4 888.9 196.8 890.3 196.0 889.2 193.8 891.5 194.5 891.7 194.5 891.6 193.5 890.6 195.3 889.8 195.2 891.2 199.9 889.3 199.2 892.0 198.6 891.9 201.2 890.3 198.0 890.3 198.5 892.4 199.7 892.3 205.0 892.3 201.2 892.4 201.0 890.8 204.8 891.4 204.9 890.7 203.4 890.0 204.2 892.0 205.3 891.7 209.2 890.8 208.9 891.4 209.9 893.0 212.5 890.5 205.6 891.8 209.6 891.8 211.2 892.2 213.6 892.7 210.1 892.4 210.2 890.7 211.6 891.0 214.4 890.8 215.5 892.5 212.1 892.1 211.0 890.9 217.3 891.1 215.7 893.5 216.7 891.1 217.8 893.5 217.3 892.9 219.1 893.7 223.2 891.3 215.8 892.1 221.0 892.2 222.3 892.1 218.8 891.9 222.7 893.7 222.0 894.1 223.2 892.6 225.5 892.4 224.8 892.1 225.6 894.6 225.8 892.1 221.0 892.8 222.3 892.5 221.4 892.5 222.1 892.9 222.0 893.3 216.8 892.9 221.3 894.8 216.3 894.1 217.9 894.5 214.8 894.4 221.7 893.8 217.4 894.3 214.7 894.4 214.6 895.3 211.5 893.8 212.8 894.4 211.0 894.1 210.0 895.4 212.8 895.5 208.5 893.4 214.1 894.3 207.0 893.4 212.5 894.8 210.0 893.5 209.5 895.1 208.0 895.4 207.9 894.0 208.5 895.5 203.4 896.0 205.7 896.3 201.5 894.8 202.5 895.0 204.7 895.7 202.5 893.9 201.5 895.1 198.0 895.1 201.5 895.9 198.1 894.7 198.8 895.0 202.7 895.0 199.0 894.1 199.0 896.2 196.9 895.2 196.4 894.3 193.1 894.9 192.6 894.9 192.8 896.6 196.0 894.9 192.4 894.7 190.0 895.3 193.1 894.4 191.6 894.4 191.6 896.6 188.8 895.9 186.3 894.9 189.4 895.0 187.0 896.5 184.6 895.9 185.4 895.2 190.6 896.1 187.4 895.4 186.5 896.3 187.5 896.2 186.8 894.9 185.4 896.9 186.6 896.0 183.9 896.3 181.6 897.3 180.3 897.0 180.2 896.1 180.4 896.7 178.8 897.6 181.1 895.2 175.5 897.3 181.0 896.0 178.3 897.3 175.3 895.4 173.8 896.5 173.1 897.1 172.0 897.5 172.1 895.3 172.0 896.6 174.3 897.3 169.6 895.2 169.4 895.6 172.9 897.8 170.1 897.1 168.3 896.8 166.1 895.9 168.7 897.3 167.5 895.6 170.8 897.8 171.4 896.2 165.1 898.0 167.7 896.1 165.8 896.2 162.8 895.8 167.1 897.1 163.5 896.0 162.9 895.9 164.4 898.2 160.2 896.2 161.3 897.9 157.6 896.0 157.7 896.3 158.1 897.1 161.7 898.3 158.6 896.4 156.1 896.6 155.4 898.2 157.1 897.3 152.5 897.6 157.6 896.6 153.8 896.9 155.0 898.6 151.5 897.9 154.9 897.6 152.9 896.3 155.5 898.2 148.3 896.7 147.6 897.0 149.5 896.6 148.6 898.5 149.6 896.8 148.6 896.8 150.4 897.7 148.7 898.5 145.0 896.6 148.1 896.5 141.9 898.3 143.6 896.6 144.8 898.0 144.4 898.5 141.7 898.6 140.4 897.5 139.2 898.7 143.9 897.5 137.2 899.2 141.0 896.7 138.8 898.0 139.8 899.2 139.6 896.7 136.4 899.1 138.9 899.3 136.4 898.7 133.0 897.5 132.5 898.0 133.1 897.3 136.0 898.2 128.9 899.2 135.1 897.6 133.8 897.3 130.9 898.9 129.0 898.7 129.3 897.4 131.3 898.5 130.0 897.7 126.1 898.4 128.5 897.3 128.9 898.3 124.2 899.2 126.4 898.3 126.7 899.0 123.0 899.3 122.8 899.2 126.5 899.7 123.4 897.5 122.3 898.1 123.0 898.9 118.7 897.0 118.2 899.7 122.0 899.6 118.4 898.2 114.4 899.4 115.0 898.6 118.3 899.2 118.9 898.4 115.7 898.9 113.1 899.5 115.6 897.8 112.0 898.7 116.4 898.4 115.3 899.6 108.4 900.0 113.8 899.0 109.9 899.5 113.5 899.7 109.0 897.8 111.6 898.4 109.1 898.1 107.9 898.9 105.1 899.7 110.7 898.5 110.0 898.2 109.9 898.4 103.3 897.9 106.4 898.6 103.0 900.2 103.0 899.2 104.0 900.1 105.2 898.8 104.2 899.4 102.0 900.2 99.5 898.9 99.7 898.0 95.0 898.5 97.0 898.7 100.5 900.1 100.0 899.5 94.3 899.8 95.7 898.9 99.9 900.5 92.7 899.7 92.3 900.5 93.0 899.2 93.9 898.4 92.5 898.7 89.4 899.2 92.7 898.8 89.8 898.6 90.1 898.7 90.9 898.6 91.5 899.3 85.9 900.0 87.1 900.5 89.7 901.2 86.8 900.4 85.2 899.7 88.7 898.7 85.5 900.9 84.0 901.4 84.6 898.8 83.1 901.5 81.3 899.6 83.4 900.2 79.4 899.2 81.0 901.6 78.4 899.4 80.7 901.7 77.8 901.0 78.0 899.9 76.7 901.6 78.2 900.2 78.9 899.7 80.1 899.9 76.8 901.7 72.7 900.8 75.8 902.5 76.1 900.5 75.1 901.6 75.0 901.8 68.9 901.2 75.0 901.8 69.8 903.1 71.4 902.4 66.9 900.8 65.0 901.3 67.0 902.5 65.7 901.8 65.8 902.4 65.5 903.0 66.6 901.6 67.1 902.5 66.2 902.9 64.5 904.0 62.9 903.3 60.5 902.9 61.4 903.2 60.5 903.4 59.7 904.6 59.6 905.2 61.3 906.2 60.7 905.1 60.1 905.6 59.8 906.5 57.2 908.5 59.7 907.3 57.5 907.3 61.4 909.2 63.6 910.0 61.9 909.0 59.6 910.7 63.5 910.0 62.9 910.7 64.9 911.7 61.7 909.5 66.6 909.5 66.6 911.2 63.6 910.0 68.4 911.7 65.2 910.1 69.5 911.4 69.7 910.5 69.1 911.2 70.5 912.9 71.7 911.5 69.1 911.7 72.2 912.5 72.3 911.4 69.2 911.9 71.5 912.6 71.1 913.4 75.2 913.3 76.9 913.3 73.3 912.6 76.5 912.7 76.2 914.5 78.8 914.1 78.8 914.8 76.4 913.4 81.1 912.4 80.2 913.4 77.8 914.9 78.4 912.6 79.1 913.1 83.5 914.7 82.1 913.1 80.3 915.3 83.7 913.4 85.6 915.3 87.1 914.4 87.0 914.7 89.3 914.0 86.6 914.6 87.7 914.4 89.5 915.3 87.0 913.4 87.9 915.9 91.2 914.1 91.6 914.1 92.5 915.0 90.0 915.3 92.4 915.3 90.0 915.8 95.6 914.1 95.4 914.6 92.6 913.7 92.4 914.3 97.0 914.5 97.5 915.7 96.3 915.6 95.9 915.4 98.7 915.2 97.0 915.1 97.2 915.3 100.6 913.9 98.0 914.1 100.4 914.3 98.1 914.9 102.3 915.7 101.8 914.7 106.4 913.8 103.8 914.3 105.8 915.4 107.9 916.1 104.1 915.5 109.2 915.2 107.5 916.4 108.6 916.2 110.5 916.2 107.5 914.7 109.0 914.9 108.8 915.0 113.0 915.0 111.4 915.8 112.2 916.1 114.9 915.3 110.5 915.6 110.8 916.1 114.9 914.4 115.9 916.6 116.5 914.6 116.1 916.4 117.4 916.0 116.6 916.5 115.0 915.2 121.6 916.5 122.3 914.5 118.5 915.5 122.4 914.2 122.5 915.1 122.3 915.6 120.7 915.5 122.5 916.6 122.7 915.0 123.1 915.1 125.9 915.9 122.7 915.2 124.8 916.2 126.9 914.7 128.8 916.4 127.0 916.3 127.3 914.3 129.1 916.6 126.9 916.1 127.8 916.3 130.5 915.8 131.5 917.1 129.8 914.5 133.5 917.1 132.1 914.4 135.2 915.1 137.1 917.0 134.7 915.0 132.4 915.6 136.5 916.5 138.0 914.9 137.3 915.1 140.2 916.8 138.0 916.2 139.3 916.6 139.2 917.2 137.7 917.2 137.4 916.5 142.6 914.9 141.7 915.7 145.3 916.7 144.9 917.1 141.6 914.9 141.3 917.3 142.4 917.5 143.0 916.4 144.2 917.2 147.0 916.5 145.9 917.0 145.8 915.9 149.4 917.2 147.1 916.6 151.8 915.8 149.0 916.7 149.3 917.3 150.4 917.7 149.8 915.7 150.6 918.0 155.6 916.3 151.4 916.8 156.8 917.0 152.6 918.1 153.3 917.7 154.4 916.2 157.1 916.0 157.8 917.8 159.6 917.6 157.9 915.9 159.2 917.1 162.0 915.7 157.5 918.5 160.3 915.9 163.3 917.8 160.1 916.1 160.7 916.5 164.9 917.4 163.8 916.3 164.2 917.3 165.2 918.8 164.1 916.5 165.4 918.3 167.7 916.7 164.6 918.7 166.2 918.2 170.3 917.4 171.7 916.6 168.5 918.2 170.4 917.0 171.0 919.1 171.9 918.1 170.7 918.4 173.6 918.8 171.8 918.5 172.7 918.0 173.9 919.7 174.6 918.2 174.0 917.1 174.4 918.9 179.3 918.8 174.3 918.3 177.8 918.7 178.5 917.8 180.0 919.8 181.5 917.6 179.8 919.2 183.4 919.5 179.8 919.4 180.5 919.6 186.2 918.9 181.0 920.3 181.0 918.0 183.2 918.1 188.3 919.6 183.8 918.1 185.1 920.1 185.3 919.7 190.7 920.2 190.1 918.9 191.0 920.4 188.7 919.2 191.3 919.9 194.5 919.7 192.5 920.0 194.0 920.5 192.2 920.8 192.1 919.9 191.3 921.3 197.0 919.5 193.1 919.5 194.2 919.5 195.9 921.1 195.6 920.9 194.9 920.4 199.8 921.7 199.2 922.1 202.0 921.3 198.3 922.1 198.6 920.3 198.8 921.3 202.9 922.6 200.0 922.5 201.2 922.1 200.2 922.7 203.2 921.2 204.0 922.5 208.3 923.2 204.9 921.0 206.3 921.1 211.3 921.3 207.2 921.1 205.5 921.1 205.2 923.2 208.7 921.8 208.7 923.9 211.4 922.0 211.9 923.3 209.3 924.4 209.5 922.4 211.4 923.9 212.4 923.7 215.2 924.6 212.4 923.9 212.1 922.6 217.4 923.8 219.7 925.4 217.5 922.9 219.5 925.7 217.2 925.1 220.3 924.6 218.6 925.2 221.0 923.6 218.2 924.2 219.1 926.5 223.6 926.2 220.3 925.9 220.3 926.6 222.0 927.0 223.1 927.1 222.0 924.8 224.3 925.2 227.3 927.1 226.4 926.1 228.8 927.9 229.9 926.6 226.0 928.4 229.4 928.1 231.0 927.6 233.0 929.2 232.3 928.3 229.5 929.2 231.5 930.7 228.7 930.3 232.0 931.9 227.9 932.2 230.8 931.2 228.0 930.4 230.4 931.7 229.0 932.3 227.7 931.8 225.7 932.6 228.4 931.6 225.2 931.9 224.6 934.1 227.1 932.3 224.2 933.9 223.7 932.6 227.0 932.2 223.5 934.9 222.8 932.5 221.6 935.0 220.1 932.6 219.5 933.1 217.9 935.2 222.1 935.6 214.7 934.6 219.6 934.6 219.1 934.8 215.8 933.3 213.9 933.6 213.8 934.8 213.0 934.6 217.4 935.1 214.1 933.8 213.5 934.0 215.6 934.2 212.2 935.8 212.3 936.2 209.1 936.3 210.3 935.4 206.0 936.1 206.1 936.0 208.9 935.6 206.9 936.0 209.2 936.3 205.9 935.3 203.8 935.1 202.6 935.8 203.6 934.8 203.0 936.2 200.2 937.0 203.6 935.0 204.7 936.4 203.7 935.1 199.7 936.4 201.6 936.5 198.3 937.4 200.5 937.3 196.2 935.1 197.5 935.1 200.0 937.4 198.3 934.8 194.0 937.5 199.5 936.3 192.9 935.4 196.4 935.8 193.3 937.2 192.0 936.9 192.8 937.7 194.5 937.4 190.7 935.1 188.2 936.6 188.6 936.6 192.1 937.1 191.3 937.7 187.4 937.1 188.5 937.3 185.6 937.6 185.6 935.6 185.3 936.5 184.7 937.5 182.4 937.4 183.9 936.3 181.0 937.3 182.5 937.9 182.5 938.0 180.2 935.4 178.4 935.5 182.2 936.6 181.7 937.9 175.9 936.0 177.6 936.0 176.4 935.6 176.4 936.8 178.5 937.8 177.8 937.6 176.7 936.5 177.1 938.1 176.2 937.9 175.3 935.9 174.9 937.1 172.8 936.2 173.0 937.8 170.3 936.1 173.5 936.0 172.1 936.3 172.6 937.8 170.8 936.5 169.3 936.3 167.9 936.1 166.5 937.2 168.5 938.5 167.1 936.5 163.7 937.6 163.5 937.4 167.1 938.2 162.8 937.9 165.7 937.0 165.6 937.6 161.5 937.9 159.7 937.5 156.7 938.2 161.6 937.6 162.6 937.8 157.3 938.7 160.1 939.2 157.7 937.0 158.7 936.8 155.1 939.0 158.1 938.2 159.7 938.0 155.6 939.2 157.9 939.8 152.2 937.3 154.2 937.6 154.1 937.6 151.4 939.8 149.5 939.6 149.4 940.2 150.2 938.5 150.3 940.4 147.0 940.0 147.3 938.0 148.8 939.4 145.9 938.5 150.5 939.3 143.0 938.9 142.5 939.3 142.8 939.0 145.8 940.7 143.5 939.1 145.6 940.1 140.7 941.6 142.8 939.7 138.7 942.2 140.9 941.4 143.7 942.0 137.3 940.2 136.5 942.5 138.3 941.2 141.2 941.6 139.8 942.6 137.4 943.7 140.0 944.3 135.1 944.3 137.0 943.8 136.7 944.1 135.2 944.4 136.3 945.2 136.9 947.2 137.9 946.6 139.8 946.1 137.5 947.7 138.3 947.5 144.1 947.7 140.9 946.6 139.2 949.0 141.7 947.3 142.0 946.9 142.4 949.5 145.1 948.6 147.6 948.8 145.5 950.1 144.8 948.0 147.6 949.6 144.0 950.9 147.9 949.5 148.7 948.6 148.7 950.0 145.9 949.1 146.8 951.2 149.4 949.3 151.2 950.6 149.1 950.0 154.1 951.3 155.7 950.2 155.9 952.8 156.7 950.8 158.0 950.7 155.8 951.1 156.6 951.1 155.7 950.8 158.7 951.1 157.6 951.9 156.0 952.9 156.8 952.5 162.2 952.2 158.2 952.2 156.8 953.9 163.1 952.9 162.5 952.4 162.5 953.0 161.5 954.2 162.3 953.9 163.0 954.3 161.0 952.8 167.7 953.8 163.8 955.7 167.8 954.7 170.0 955.9 167.0 955.5 167.0 954.7 169.7 953.8 167.9 955.3 170.5 955.8 170.3 955.2 173.9 955.2 168.6 954.5 173.3 954.5 175.4 955.1 172.6 957.0 173.9 955.7 172.6 957.6 176.4 956.1 177.0 957.3 176.4 957.9 173.7 957.0 178.4 956.3 177.0 958.6 177.1 957.4 175.5 958.2 182.3 957.9 179.8 957.9 180.0 957.1 184.3 957.5 184.1 958.1 184.0 958.8 180.9 958.9 185.7 960.5 186.3 959.2 183.0 960.2 183.3 960.5 188.8 959.1 185.0 959.9 187.5 958.9 184.5 960.0 189.7 959.6 188.1 959.8 189.0 960.0 189.4 961.8 192.8 961.3 193.2 960.2 190.0 960.8 192.0 960.6 194.8 961.1 195.2 962.0 193.5 962.2 191.7 961.0 195.6 963.1 197.7 962.1 199.8 962.0 196.2 961.5 196.7 962.1 198.7 961.3 202.2 961.5 201.1 964.0 199.0 962.6 198.8 961.7 199.1 964.2 203.1 964.5 204.8 963.0 206.2 963.8 203.9 963.0 201.9 964.7 206.9 963.7 204.4 964.0 205.5 964.7 207.7 962.7 203.8 964.6 206.4 964.6 209.1 964.0 210.6 963.3 207.6 963.7 210.5 965.2 212.1 964.6 209.6 963.5 214.0 964.4 215.4 964.9 214.4 965.7 212.8 964.7 212.8 965.8 215.5 963.5 212.7 965.5 218.6 963.5 217.1 963.7 219.0 963.7 216.3 963.9 221.5 965.6 218.6 964.5 218.2 965.6 220.6 966.0 221.0 964.8 223.5 963.9 222.0 964.3 221.9 965.8 225.1 963.9 224.8 965.2 223.4 964.8 226.2 965.5 228.0 964.9 222.2 965.8 226.9 964.9 225.2 965.9 230.6 966.1 230.7 964.3 230.2 965.8 232.3 965.9 228.5 964.3 232.1 965.1 230.7 965.9 233.0 965.9 236.0 965.5 232.1 966.1 232.6 965.2 233.5 965.3 234.9 963.6 235.6 965.1 236.7 964.0 235.8 963.1 240.3 964.6 235.9 964.2 238.9 965.1 236.8 964.4 239.0 962.5 241.0 964.0 240.4 962.5 240.3 964.5 240.1 965.0 244.5 963.1 245.5 964.6 244.6 963.5 244.3 964.5 247.6 962.6 246.5 963.8 247.6 962.9 249.3 963.7 250.0 963.4 246.7 962.3 251.3 964.4 251.5 964.2 248.9 964.5 252.7 963.0 251.9 964.6 251.6 964.5 253.3 962.7 250.2 964.6 253.8 964.3 252.8 965.2 255.0 962.8 256.3 962.6 253.0 963.0 254.2 963.3 256.8 963.0 257.7 965.2 259.5 964.3 260.7 962.8 258.0 963.5 258.4 963.4 259.5 963.5 261.4 963.6 260.4 963.9 263.0 964.3 262.7 963.4 263.0 965.0 264.1 964.7 267.8 963.7 263.6 965.4 264.5 965.5 269.7 963.6 267.2 964.0 267.8 965.4 266.6 965.7 267.2 965.7 272.3 964.1 272.0 963.7 269.9 964.4 269.4 964.0 276.5 965.4 271.4 963.8 274.4 965.1 275.8 964.8 273.4 966.1 276.1 965.8 278.3 964.2 278.2 964.5 275.8 964.3 281.0 965.4 277.4 966.4 275.4 965.7 281.8 965.5 281.7 966.0 278.5 965.6 277.4 965.1 284.3 967.1 283.8 965.6 285.9 965.1 285.8 965.9 282.4 965.0 285.0 965.7 284.3 966.5 282.4 965.2 284.9 967.2 288.3 965.4 288.1 965.5 290.6 967.6 289.9 966.8 286.6 966.1 288.1 968.0 288.3 967.6 289.4 966.1 294.5 966.7 290.6 965.8 292.1 967.9 290.7 967.5 291.2 965.6 292.0 968.1 298.1 966.2 295.0 967.6 296.0 965.9 300.2 968.0 300.0 967.2 296.1 968.0 296.0 966.4 301.7 966.3 301.1 968.8 302.7 967.6 304.0 966.6 303.4 967.5 300.6 966.5 299.8 966.8 302.7 967.1 303.2 966.7 304.2 967.1 304.2 968.0 309.9 967.5 306.7 967.0 310.2 967.6 311.2 968.4 310.6 968.4 311.5 968.4 310.5 967.4 312.8 968.1 308.8 969.2 309.4 967.9 312.1 969.0 315.3 969.9 313.0 968.6 314.3 969.3 315.5 969.7 315.7 970.1 315.3 970.5 314.5 968.3 316.4 969.0 317.9 970.9 318.2 971.1 317.4 969.8 320.4 969.0 320.3 970.3 318.7 971.2 323.0 971.0 320.1 971.1 326.1 969.5 325.1 969.6 327.0 971.7 326.6 972.5 322.0 971.0 326.6 972.5 325.2 972.6 325.3 971.4 324.3 971.8 326.5 971.8 327.9 973.2 329.2 971.1 332.3 971.2 329.2 971.4 329.8 973.1 329.6 972.5 333.0 972.0 330.3 972.5 332.7 972.3 336.0 973.2 333.8 973.1 333.8 973.9 333.6 972.5 335.5 973.2 335.3 974.3 337.6 972.9 339.8 972.9 337.8 973.6 335.6 974.7 339.3 975.6 339.3 974.6 343.4 974.0 343.0 974.5 342.5 976.6 342.6 976.6 339.1 976.1 341.5 975.4 346.2 976.7 345.2 976.9 343.1 978.3 346.5 977.3 346.5 977.9 344.2 979.3 348.3 979.4 344.7 979.2 344.9 980.2 343.1 978.9 344.8 979.7 344.3 981.8 341.6 981.9 343.2 980.1 344.3 980.2 340.8 981.8 340.9 981.4 343.1 981.8 338.0 981.2 339.1 981.7 337.3 982.7 339.1 981.5 335.9 982.9 338.0 981.3 338.8 983.0 338.0 981.5 334.7 984.0 335.6 983.7 333.3 982.2 332.4 984.1 332.4 983.1 331.6 983.3 331.9 982.7 330.4 983.4 331.6 984.5 326.2 984.2 327.6 983.5 329.9 984.6 327.5 984.6 328.4 984.2 327.4 984.7 325.6 983.8 324.5 983.0 321.9 983.8 325.7 984.2 324.8 984.2 321.4 984.5 320.2 983.7 326.2 985.0 323.2 983.8 321.3 983.5 318.9 984.5 318.9 984.0 321.0 983.4 316.2 985.2 321.3 985.7 320.5 985.9 317.1 985.7 316.5 985.7 313.5 984.4 317.6 986.3 315.1 984.6 314.5 986.5 312.5 985.5 311.4 985.9 312.5 985.9 309.9 985.5 312.1 984.1 309.4 984.8 309.5 984.9 312.3 985.8 308.1 984.3 310.5 985.7 305.5 984.5 304.6 985.8 307.5 985.9 308.4 984.9 304.6 985.0 304.9 986.3 307.0 986.3 304.1 985.9 302.1 986.4 301.7 985.2 300.7 985.4 304.7 986.0 301.6 984.9 297.1 985.5 297.9 984.8 298.6 985.9 296.9 984.8 297.2 987.1 294.6 987.4 296.8 986.2 294.2 986.6 291.7 986.7 291.4 985.6 295.1 985.5 292.2 987.6 292.2 986.3 288.7 985.1 291.4 987.2 287.8 985.9 289.9 987.4 288.9 985.7 288.2 987.1 287.5 987.6 289.1 987.6 288.0 986.8 288.9 986.4 283.0 988.0 284.5 987.0 282.0 988.3 282.7 988.3 283.8 987.8 284.3 987.6 278.9 988.5 284.9 986.9 279.5 988.9 282.4 987.0 280.7 987.3 276.3 987.7 280.4 988.5 279.1 990.7 282.2 990.4 281.1 988.8 281.7 990.7 281.4 991.8 285.0 989.9 284.1 990.3 283.6 991.5 285.9 990.2 287.2 990.0 284.0 991.3 287.3 991.6 290.4 991.0 289.5 992.2 287.1 993.1 288.6 991.3 291.4 993.1 290.8 992.4 288.8 992.3 288.7 991.7 288.9 993.6 291.7 993.6 292.4 991.7 294.0 993.4 293.4 992.2 295.4 991.6 298.1 992.8 295.8 992.1 299.6 992.7 295.9 994.4 296.8 993.5 301.5 994.5 297.5 992.2 297.0 992.7 299.4 993.7 299.8 992.2 300.1 992.6 304.2 993.3 297.2 994.7 302.0 992.2 302.7 994.2 304.9 992.3 305.8 993.2 302.2 993.1 309.6 994.7 302.2 993.8 306.6 993.5 307.3 992.7 307.4 992.6 308.6 994.2 312.8 993.5 310.9 993.1 313.3 993.1 309.9 993.8 313.3 993.8 310.2 995.1 314.4 993.2 313.7 994.4 316.5 995.0 314.2 994.6 315.5 995.0 314.5 994.6 319.0 995.4 319.5 994.5 315.2 994.1 316.5 993.2 316.3 995.0 320.0 994.7 318.9 993.7 317.8 994.2 323.1 994.2 319.5 994.6 323.1 995.3 324.6 993.7 326.2 993.2 325.2 993.4 328.8 995.6 323.4 993.4 323.3 995.0 325.9 993.7 328.2 993.4 328.0 994.4 330.7 995.7 328.0 993.6 331.1 994.3 332.7 993.5 329.5 995.2 332.8 995.4 333.5 994.2 334.6 995.4 333.6 995.2 335.8 994.6 334.9 996.1 338.5 996.4 336.1 995.1 332.5 995.3 337.1 996.3 336.7 994.6 335.6 994.3 337.6 995.1 340.5 996.6 341.2 995.6 339.4 994.9 340.1 995.3 339.4 996.1 340.9 995.7 343.2 996.0 342.2 994.9 341.6 997.1 345.1 997.6 343.9 995.9 348.3 997.6 344.0 997.1 349.2 997.3 346.5 998.3 347.0 997.8 347.2 998.2 346.6 997.6 352.3 997.7 351.1 999.1 348.5 999.3 352.7 997.5 353.1 997.5 353.2 999.9 351.9 997.6 353.4 997.5 352.0 997.8 357.9 998.8 355.2 999.3 354.5 1000.5 354.0 999.7 358.3 999.9 359.6 1001.2 355.3 1000.2 360.9 999.7 364.0 1001.0 362.0 1002.0 359.2 1001.8 362.9 1000.5 362.4 1000.9 363.3 1001.3 367.6 1002.4 362.9 1000.7 367.2 1002.5 366.0 1003.1 368.2 1002.7 365.8 1001.4 367.0 1001.7 364.6 1002.5 367.7 1001.7 366.1 1003.7 368.2 1001.6 368.3 1002.3 373.3 1002.6 372.1 1003.0 370.6 1002.1 370.3 1003.2 370.9 1004.7 376.3 1004.7 375.7 1003.5 377.3 1004.8 373.7 1004.6 375.7 1003.3 376.4 1003.4 379.4 1003.2 379.2 1004.9 381.2 1002.8 377.8 1004.6 374.4 1004.9 381.2 1004.4 377.6 1005.4 383.9 1003.5 383.0 1005.8 381.1 1005.0 384.1 1005.9 382.7 1004.0 384.4 1003.8 386.9 1004.5 388.2 1004.7 385.3 1004.8 387.8 1005.0 386.6 1005.3 388.3 1006.6 386.1 1005.6 389.4 1005.6 389.6 1004.6 391.2 1005.7 391.9 1005.3 390.5 1005.6 393.9 1006.9 393.7 1005.2 394.1 1004.7 393.0 1006.7 391.5 1007.0 394.5 1004.7 396.9 1005.0 398.4 1005.9 398.4 1004.7 398.2 1007.3 397.8 1005.9 396.1 1007.4 397.5 1006.7 396.2 1006.2 401.9 1007.2 399.5 1005.6 402.4 1005.6 403.0 1005.5 400.6 1005.7 402.4 1005.9 401.8 1006.9 406.8 1005.4 404.7 1007.0 404.1 1007.8 406.2 1005.8 407.1 1005.6 404.9 1007.7 408.0 1006.3 410.6 1008.0 411.1 1006.0 410.0 1006.4 410.7 1006.1 409.1 1006.2 408.9 1007.3 409.6 1006.3 410.9 1008.4 414.6 1007.9 411.7 1008.8 415.1 1008.8 413.6 1006.6 415.4 1007.6 414.5 1008.7 416.9 1007.8 414.3 1007.3 417.9 1007.0 420.7 1007.2 415.6 1009.2 418.7 1006.8 416.8 1007.7 419.2 1008.7 419.7 1008.9 418.7 1009.3 425.1 1008.7 423.3 1009.7 425.3 1009.2 426.9 1008.6 424.6 1009.2 430.0 1007.6 424.7 1007.8 424.6 1009.6 425.4 1008.8 425.6 1009.0 429.1 1007.7 430.9 1010.0 428.7 1009.0 431.5 1008.8 431.5 1008.8 430.9 1008.5 431.1 1008.7 433.6 1009.5 435.2 1009.6 434.0 1010.2 433.2 1010.2 433.6 1008.7 436.2 1010.7 437.0 1010.4 438.0 1011.3 439.4 1010.7 436.0 1010.2 435.4 1009.1 442.7 1009.6 439.6 1011.6 441.7 1009.4 442.7 1010.0 441.8 1012.0 443.8 1010.6 440.4 1011.8 441.7 1011.2 441.7 1012.0 444.3 1010.8 442.1 1012.7 448.5 1011.1 443.3 1012.1 444.7 1011.6 445.7 1011.9 448.1 1011.6 450.3 1012.6 450.1 1012.8 450.2 1012.5 454.1 1012.0 448.1 1013.9 453.9 1012.1 454.9 1013.7 450.3 1012.5 451.0 1014.2 451.2 1012.4 452.5 1014.3 457.5 1013.7 455.3 1014.7 454.7 1013.2 454.6 1013.2 457.6 1014.2 456.1 1015.2 458.7 1013.4 458.0 1015.0 458.4 1014.5 457.8 1015.7 460.4 1016.4 460.8 1016.7 462.6 1016.2 465.2 1015.6 464.2 1015.2 462.1 1015.5 461.6 1016.1 464.4 1017.5 464.9 1017.5 469.7 1017.4 466.6 1016.5 469.7 1018.5 469.1 1018.8 471.7 1017.6 467.7 1018.3 469.6 1019.1 470.8 1019.7 472.1 1019.1 467.2 1021.0 471.4 1019.2 473.0 1021.3 471.7 1020.9 470.7 1019.6 470.2 1021.9 473.6 1021.6 474.6 1022.1 476.5 1020.6 473.7 1020.7 476.9 1022.3 473.9 1021.9 479.4 1022.0 479.2 1023.0 481.8 1022.2 480.4 1022.2 481.5 1022.1 483.6 1023.9 482.4 1023.7 484.1 1022.3 481.9 1024.5 484.4 1023.3 482.5 1022.9 484.8 1023.5 485.6 1023.3 483.4 1023.0 488.2 1023.9 485.5 1025.2 488.1 1024.9 485.0 1023.5 488.1 1024.2 488.1 1024.1 490.7 1025.8 488.0 1023.6 486.2 1024.7 493.6 1024.9 489.1 1025.8 488.7 1025.3 494.3 1024.4 490.3 1025.4 491.1 1025.0 494.1 1026.4 494.6 1024.2 494.6 1026.2 494.4 1026.3 495.3 1024.5 494.8 1025.4 496.9 1024.8 499.6 1024.8 501.3 1025.8 499.3 1026.9 501.9 1025.0 498.6 1025.3 504.6 1025.3 499.2 1025.3 504.8 1026.1 504.8 1025.2 501.9 1026.3 501.8 1025.6 509.3 1026.9 506.1 1027.3 507.9 1025.7 505.9 1026.7 507.4 1027.3 508.2 1025.9 506.1 1026.9 508.5 1026.2 511.1 1028.0 509.0 1026.8 515.1 1027.3 513.2 1027.9 515.4 1027.2 510.2 1027.1 514.1 1026.5 514.8 1026.9 515.3 1027.5 519.2 1027.4 514.9 1029.0 514.8 1027.7 516.5 1029.0 514.1 1028.5 519.4 1028.6 516.8 1028.6 520.6 1028.1 519.6 1029.6 523.3 1027.9 524.6 1029.3 523.9 1029.7 518.3 1029.1 523.6 1028.8 525.6 1029.8 523.5 1030.1 527.9 1030.4 523.9 1029.1 529.4 1028.9 526.4 1029.3 525.5 1030.8 523.8 1030.6 529.2 1029.5 527.4 1029.8 532.8 1030.0 531.5 1030.4 530.5 1030.3 534.7 1031.7 533.5 1030.4 529.2 1031.9 535.3 1031.8 535.3 1031.8 532.2 1031.5 537.3 1032.4 533.4 1032.4 538.3 1031.9 534.2 1031.1 533.4 1033.4 536.1 1032.6 540.1 1032.9 535.8 1032.5 538.3 1031.8 539.6 1032.3 543.5 1032.1 542.5 1032.8 544.0 1032.7 543.6 1032.9 544.8 1033.3 542.2 1034.8 542.1 1033.6 541.5 1034.8 548.2 1035.3 544.9 1034.9 547.2 1034.9 546.4 1034.2 548.3 1034.5 548.6 1035.4 551.1 1034.9 550.8 1035.6 551.3 1036.0 553.1 1035.0 550.0 1036.6 550.8 1035.6 549.1 1036.5 551.0 1036.6 557.5 1036.0 552.9 1036.7 551.1 1036.8 555.2 1036.8 557.2 1037.7 555.7 1037.3 558.3 1036.3 555.5 1038.0 555.7 1036.5 559.8 1036.9 556.5 1038.0 560.1 1038.0 563.8 1038.3 561.3 1038.4 560.2 1038.8 564.3 1038.0 559.7 1038.4 559.9 1039.2 564.2 1038.4 563.1 1037.8 565.7 1039.0 561.4 1038.5 564.9 1038.3 562.8 1038.9 567.6 1039.2 570.8 1039.7 571.2 1039.5 570.8 1040.4 571.6 1040.0 568.9 1039.8 572.9 1040.0 568.9 1041.1 572.3 1040.1 574.8 1039.8 574.1 1040.8 573.4 1041.5 572.7 1042.0 573.3 1040.2 576.2 1041.9 578.0 1041.7 579.5 1041.0 578.7 1041.9 580.3 1040.8 577.0 1041.9 577.1 1042.2 578.9 1043.0 580.1 1043.0 579.4 1041.8 580.8 1042.7 581.9 1043.3 585.4 1042.2 583.6 1042.9 583.4 1042.6 587.2 1043.2 583.2 1044.3 585.5 1044.4 586.5 1043.5 588.9 1043.5 586.1 1044.2 585.5 1043.5 590.0 1044.0 587.2 1044.4 590.4 1044.5 589.3 1044.8 590.0 1044.6 593.2 1044.2 592.3 1045.9 590.9 1045.5 596.6 1045.4 595.0 1046.4 594.4 1045.4 596.7 1045.8 595.0 1045.3 593.8 1047.2 598.3 1047.0 594.9 1047.0 597.0 1046.1 601.1 1046.5 597.4 1047.3 603.1 1046.9 598.9 1047.5 600.8 1047.5 599.1 1048.2 601.7 1047.6 602.7 1048.6 603.0 1049.3 603.7 1048.4 602.7 1049.3 605.1 1049.2 606.6 1050.7 609.6 1051.1 608.6 1051.1 608.7 1051.3 604.4 1050.3 608.5 1050.7 603.5 1052.0 611.8 1052.5 608.0 1052.4 612.6 1052.5 613.2 1053.0 609.0 1053.7 614.0 1053.4 611.6 1053.2 616.0 1054.3 615.3 1053.8 613.3 1054.5 614.3 1055.4 615.2 1055.4 614.6 1055.4 616.2 1055.7 616.6 1056.8 619.2 1055.8 619.7 1056.0 618.1 1056.0 616.5 1056.3 619.7 1057.7 617.2 1057.4 622.5 1058.6 620.6 1057.3 621.4 1058.5 623.8 1058.7 620.3 1059.3 620.5 1059.7 625.7 1059.9 623.1 1060.1 628.0 1059.7 621.8 1060.4 621.9 1060.8 628.5 1061.1 628.7 1059.7 625.9 1060.7 630.0 1060.4 624.7 1060.8 628.7 1062.0 632.3 1062.4 626.8 1061.7 626.8 1062.3 634.4 1061.9 634.6 1062.9 632.0 1062.0 631.7 1063.1 632.0 1063.0 634.0 1063.4 633.7 1062.9 635.6 1064.1 638.9 1063.4 636.4 1064.4 639.9 1063.5 639.9 1064.1 638.7 1063.7 637.3 1064.7 639.8 1063.9 643.5 1065.2 637.5 1065.6 641.8 1064.6 640.6 1064.6 643.7 1065.5 639.4 1065.7 643.2 1066.1 647.2 1065.5 643.2 1066.1 642.1 1065.8 644.6 1067.1 649.6 1067.0 648.8 1066.8 650.3 1066.6 646.4 1066.8 645.7 1067.6 652.7 1068.0 646.8 1067.4 648.4 1067.2 651.4 1068.9 649.9 1067.6 652.8 1068.0 655.6 1069.0 649.4 1068.6 652.2 1069.4 652.9 1068.8 656.6 1069.1 653.6 1069.7 653.7 1069.4 655.2 1070.6 660.2 1069.7 659.5 1070.4 655.4 1069.9 659.5 1071.2 657.2 1071.0 657.9 1070.4 658.7 1071.5 661.2 1072.1 659.2 1072.0 665.7 1071.4 664.2 1072.1 659.2 1071.7 659.8 1072.4 664.0 1073.0 665.8 1072.3 665.3 1072.6 667.9 1074.0 670.0 1074.1 669.7 1074.1 670.4 1073.4 667.3 1074.1 667.1 1074.5 665.7 1073.7 668.1 1075.2 673.4 1074.1 668.5 1075.3 671.5 1075.4 672.0 1076.1 671.0 1075.2 672.0 1076.1 673.9 1076.2 675.4 1076.9 677.1 1076.5 674.5 1076.6 677.6 1077.5 672.0 1077.1 679.1 1077.3 677.8 1076.8 674.4 1077.3 677.0 1078.2 677.1 1077.7 677.7 1078.8 683.8 1078.5 683.4 1079.0 681.7 1079.3 683.4 1079.6 683.1 1079.7 682.0 1080.2 684.8 1080.0 682.3 1080.7 681.4 1080.0 687.8 1081.2 686.3 1080.4 684.7 1081.4 687.0 1081.6 688.0 1081.7 685.8 1081.6 688.8 1082.7 685.8 1083.2 688.9 1083.7 689.5 1084.0 693.0 1083.9 695.3 1083.7 689.8 1084.3 691.7 1084.5 687.5 1085.5 689.6 1085.5 693.8 1086.4 696.3 1086.8 694.6 1087.4 694.2 1087.5 696.6 1088.2 692.9 1088.4 701.5 1088.4 700.5 1089.2 696.1 1089.9 694.4 1089.5 700.2 1090.7 697.2 1091.5 701.8 1091.0 695.9 1091.4 696.1 1092.5 697.4 1092.6 697.8 1093.6 701.3 1094.1 704.6 1094.5 699.5 1094.7 697.4 1095.3 699.9 1095.6 702.2 1095.6 701.1 1096.7 702.6 1096.4 700.9 1096.8 702.7 1097.4 702.2 1097.4 708.6 1098.6 702.9 1098.4 709.5 1098.6 708.5 1099.4 706.1 1099.9 709.1 1100.1 706.1 1100.9 708.9 1100.6 708.2 1101.5 711.2 1101.2 707.0 1102.3 712.8 1102.7 708.8 1102.8 710.8 1102.9 714.7 1103.0 713.4 1103.2 709.4 1104.1 711.7 1103.8 716.5 1104.9 712.2 1105.4 716.7 1105.0 717.2 1106.1 718.1 1106.1 717.3 1105.9 714.2 1107.0 716.7 1107.0 718.2 1106.9 720.6 1108.2 718.3 1108.3 723.1 1108.8 721.0 1108.9 723.3 1109.5 720.4 1109.6 724.5 1109.6 723.7 1110.0 722.5 1110.9 724.7 1110.4 720.9 1111.0 723.1 1111.6 727.3 1112.0 723.4 1112.7 725.2 1112.9 723.6 1112.9 724.3 1113.6 730.6 1113.9 731.5 1113.8 728.4 1114.9 726.0 1114.5 729.2 1114.8 725.1 1115.7 731.9 1116.2 730.3 1116.7 733.2 1117.1 730.5 1117.4 732.8 1117.4 728.1 1118.2 729.5 1118.1 733.5 1118.8 733.9 1118.9 737.0 1118.8 735.4 1119.4 733.8 1119.9 738.3 1120.5 737.9 1120.3 734.9 1121.4 737.7 1121.2 739.1 1121.5 733.0 1122.0 736.5 1122.2 740.1 1122.5 738.2 1122.8 740.6 1123.8 740.7 1124.4 740.9 1124.0 743.2 1124.3 743.2 1125.3 741.0 1125.9 745.5 1126.0 741.0 1126.7 741.1 1127.0 739.5 1126.8 747.6 1127.8 741.3 1127.7 747.2 1128.1 747.4 1129.0 745.8 1129.6 746.7 1129.8 745.9 1129.9 749.2 1130.3 746.0 1131.0 747.0 1131.7 747.1 1132.5 747.7 1133.0 749.5 1132.9 747.8 1133.7 750.1 1134.2 750.4 1134.7 747.0 1135.6 748.3 1136.0 753.3 1136.5 748.6 1136.8 748.6 1137.9 747.7 1138.5 751.1 1138.6 748.6 1139.2 752.9 1140.3 751.5 1140.5 752.7 1141.2 754.1 1141.8 750.4 1141.9 753.8 1142.5 751.4 1143.8 749.6 1143.9 752.9 1144.1 752.2 1145.1 754.3 1145.7 756.0 1146.1 749.3 1147.3 749.8 1147.2 753.0 1147.9 753.5 1148.5 753.3 1148.9 755.2 1150.2 754.7 1150.3 754.4 1150.9 752.7 1151.3 755.0 1152.4 754.7 1152.7 751.0 1153.7 750.8 1154.2 754.2 1154.4 758.4 1154.9 757.3 1155.7 753.5 1156.3 756.4 1156.9 754.8 1157.5 753.7 1157.8 754.8 1158.6 757.4 1159.6 755.1 1159.9 756.2 1160.8 752.6 1160.9 756.5 1161.8 758.5 1161.9 759.6 1162.9 757.6 1163.1 758.9 1164.3 757.2 1165.0 755.9 1165.1 757.1 1165.8 757.3 1166.2 757.1 1167.2 756.2 1167.8 760.0 1168.1 753.2 1168.7 754.8 1169.7 754.3 1170.0 750.7 1170.9 752.9 1171.3 756.5 1171.8 750.4 1172.1 755.3 1173.2 752.8 1173.7 756.7 1174.3 751.2 1174.4 750.4 1174.7 752.3 1175.8 756.6 1175.8 750.7 1176.5 751.5 1176.9 749.8 1177.8 752.9 1178.1 756.0 1178.7 749.5 1179.9 749.4 1180.0 748.4 1180.9 749.8 1181.3 746.8 1181.7 752.3 1182.6 752.6 1183.0 751.6 1182.9 749.4 1183.8 748.0 1184.3 746.6 1185.0 749.5 1185.6 749.9 1186.3 746.6 1187.0 748.8 1187.1 748.7 1188.0 751.2 1188.4 749.7 1188.9 747.1 1189.3 744.1 1190.4 746.2 1190.6 749.5 1191.2 749.1 1191.9 745.1 1192.1 747.2 1192.7 743.8 1193.3 747.7 1194.2 744.7 1194.8 745.7 1195.6 745.1 1196.2 748.6 1196.6 743.8 1197.5 745.9 1198.2 745.6 1198.1 743.7 1198.7 744.0 1199.6 742.7 1199.8 742.8 1200.4 744.1 1201.1 742.9 1201.6 745.9 1202.8 745.4 1203.2 745.3 1203.6 742.9 1204.3 748.3 1204.6 745.8 1205.5 746.7 1206.1 745.4 1206.9 744.0 1207.3 746.5 1207.9 744.4 1208.4 739.0 1208.9 746.0 1209.3 741.1 1210.0 743.0 1211.0 743.1 1211.6 744.3 1212.2 741.0 1212.5 742.5 1213.2 746.2 1213.9 744.8 1214.2 745.5 1214.6 740.2 1215.1 743.1 1215.9 743.7 1216.3 745.7 1216.6 743.5 1217.6 740.4 1218.2 741.4 1219.0 738.5 1218.9 737.3 1219.5 736.0 1220.7 741.9 1221.1 740.9 1221.7 740.0 1221.9 739.2 1222.8 738.2 1222.9 736.9 1223.7 737.2 1224.3 734.4 1224.8 738.3 1225.6 737.8 1225.8 734.7 1226.3 734.3 1226.7 740.1 1227.8 739.2 1228.5 735.7 1228.9 733.7 1229.1 733.7 1229.9 734.1 1230.3 739.3 1230.8 736.1 1231.5 732.7 1232.4 736.0 1233.2 736.6 1233.2 734.6 1233.9 735.8 1234.6 737.2 1234.9 732.0 1235.5 733.3 1236.1 737.3 1237.3 735.9 1237.7 737.7 1238.2 737.2 1238.6 739.1 1239.4 740.7 1239.6 738.6 1240.4 735.9 1240.4 737.1 1241.1 735.8 1241.0 734.4 1241.4 741.6 1242.4 736.8 1242.3 742.2 1242.7 741.0 1243.5 739.3 1243.5 737.1 1244.4 740.5 1244.8 744.1 1244.9 741.1 1245.6 740.7 1245.9 742.3 1246.9 745.6 1247.2 744.9 1247.6 745.9 1248.7 742.4 1249.2 742.8 1249.5 746.8 1250.3 744.3 1250.6 741.3 1251.5 744.6 1251.8 739.1 1252.3 737.9 1253.1 740.6 1253.3 740.9 1253.7 740.1 1254.8 738.4 1255.0 742.0 1255.3 740.4 1256.0 739.2 1257.0 740.2 1257.2 739.4 1257.5 741.6 1258.3 739.0 1258.7 734.4 1259.8 739.2 1260.0 736.2 1261.0 737.7 1261.2 740.0 1261.8 735.9 1262.5 738.2 1263.0 740.0 1263.9 737.4 1264.5 736.6 1265.2 740.8 1265.6 738.9 1266.3 738.5 1266.4 741.4 1267.4 739.4 1267.9 738.1 1268.0 741.8 1268.6 736.3 1269.6 742.4 1269.9 739.5 1270.6 741.1 1270.8 744.7 1271.4 741.7 1272.3 741.0 1272.8 744.6 1272.9 742.7 1273.6 740.9 1274.4 739.7 1274.6 740.9 1275.1 744.2 1275.8 745.4 1276.3 746.2 1277.1 743.4 1277.6 743.4 1278.3 748.2 1278.6 745.4 1279.4 745.6 1279.5 748.6 1280.1 743.5 1280.7 743.1 1281.1 743.7 1281.9 742.0 1282.2 746.8 1283.3 750.8 1283.5 747.1 1284.4 750.5 1284.5 747.9 1285.5 748.6 1285.8 750.6 1286.6 744.8 1286.9 747.5 1287.3 744.2 1288.1 743.6 1288.4 750.4 1289.4 749.9 1289.8 753.1 1290.4 747.3 1290.7 749.9 1291.4 749.4 1291.9 750.4 1292.7 753.5 1293.5 750.9 1293.8 749.9 1294.7 751.8 1294.9 753.3 1295.4 748.0 1296.2 753.3 1296.7 749.9 1297.2 751.8 1297.8 751.5 1298.5 753.7 1299.2 751.6 1299.9 748.6 1300.7 748.8 1301.3 750.2 1301.7 754.5 1302.3 753.7 1302.9 755.7 1303.6 752.0 1303.8 747.8 1304.6 752.6 1305.1 751.4 1305.8 747.0 1306.0 746.7 1307.1 747.8 1307.2 747.0 1307.9 749.5 1308.7 749.9 1309.0 752.0 1310.0 750.2 1310.2 747.3 1311.1 752.1 1311.3 749.0 1312.2 751.1 1312.6 752.0 1313.2 752.1 1313.8 749.6 1314.3 747.6 1314.8 748.3 1315.6 749.4 1315.9 755.2 1316.5 752.9 1317.2 755.7 1317.8 752.9 1318.5 753.1 1318.8 751.6 1319.7 753.7 1320.2 751.7 1320.5 756.3 1321.1 756.8 1321.9 754.7 1322.6 756.3 1322.9 752.8 1323.4 754.9 1324.0 758.4 1324.6 758.8 1325.3 753.1 1325.8 754.5 1326.3 754.5 1326.9 756.8 1327.6 757.5 1328.1 759.1 1328.7 760.1 1329.2 756.2 1329.9 754.2 1330.1 760.3 1331.1 761.3 1331.6 761.4 1332.2 756.1 1332.5 757.1 1333.2 760.1 1333.6 759.1 1334.0 760.0 1334.7 759.7 1335.6 756.9 1335.8 758.7 1336.4 761.4 1337.3 760.3 1337.9 759.5 1338.5 758.0 1338.7 760.5 1339.3 762.6 1340.0 760.2 1340.6 757.0 1341.2 761.7 1341.7 757.5 1342.2 760.5 1343.1 759.1 1343.8 758.5 1344.1 759.5 1344.8 763.5 1345.6 758.6 1346.0 762.4 1346.4 763.4 1347.4 764.9 1347.8 765.1 1348.4 758.7 1349.0 765.9 1349.7 764.0 1350.2 759.9 1350.5 764.2 1351.2 762.3 1351.8 760.9 1352.3 765.5 1353.0 764.3 1353.9 762.1 1354.4 765.2 1354.7 763.5 1355.6 763.1 1355.9 761.3 1356.6 762.5 1357.4 766.0 1357.9 760.9 1358.3 762.7 1359.2 760.2 1359.5 762.9 1360.3 761.2 1361.0 765.1 1361.4 762.8 1362.1 762.2 1362.7 764.1 1363.3 764.7 1363.7 763.0 1364.3 765.1 1365.2 764.6 1365.4 766.0 1366.4 762.9 1366.9 762.8 1367.4 766.7 1368.0 764.1 1368.4 764.0 1369.0 764.5 1369.6 763.5 1370.1 765.3 1370.9 764.8 1371.4 765.5 1372.0 764.1 1372.6 763.5 1373.4 762.5 1373.7 761.6 1374.2 761.5 1375.2 769.2 1375.8 767.2 1376.2 763.1 1376.7 764.2 1377.3 763.8 1377.9 767.8 1378.5 763.5 1379.2 764.5 1379.8 766.0 1380.4 768.6 1380.8 768.8 1381.4 767.8 1382.1 769.7 1382.7 765.9 1383.4 770.5 1383.8 770.3 1384.5 769.6 1385.1 769.2 1385.4 770.8 1386.2 764.8 1386.6 768.7 1387.4 764.8 1388.1 766.4 1388.6 766.0 1389.0 768.6 1389.6 768.3 1390.4 771.3 1390.8 771.1 1391.4 766.7 1392.1 771.6 1392.6 771.5 1393.2 766.8 1393.7 771.9 1394.6 768.8 1395.2 768.7 1395.7 771.4 1396.3 772.2 1397.0 772.3 1397.3 768.5 1398.0 767.9 1398.8 766.5 1399.3 769.7 1399.7 770.2 1400.3 769.7 1400.9 773.3 1401.8 767.9 1402.4 770.6 1402.9 769.0 1403.3 769.3 1403.9 771.7 1404.6 769.8 1405.1 773.2 1405.8 769.3 1406.4 766.6 1407.0 770.6 1407.8 770.3 1408.3 770.3 1408.8 771.2 1409.5 770.3 1410.0 773.9 1410.5 772.1 1411.1 768.8 1411.8 770.7 1412.4 769.6 1413.0 772.6 1413.7 771.2 1414.3 773.2 1414.7 770.6 1415.5 773.2 1416.1 769.9 1416.6 770.3 1417.3 770.9 1417.9 770.9 1418.3 770.5 1419.0 771.2 1419.5 770.1 1420.0 770.4 1420.9 773.3 1421.4 773.3 1422.0 775.0 1422.6 773.5 1423.2 771.1 1423.6 772.9 1424.3 771.4 1424.9 773.4 1425.6 770.2 1426.2 769.4 1426.8 770.2 1427.4 770.1 1428.1 772.9 1428.6 773.6 1429.1 770.7 1429.7 772.3 1430.5 770.9 1430.9 770.5 1431.4 773.1 1432.1 770.4 1432.8 774.0 1433.4 772.4 1433.9 770.9 1434.6 774.3 1435.2 774.2 1435.7 771.8 1436.4 770.5 1436.9 773.8 1437.4 771.1 1438.2 774.8 1438.7 772.7 1439.3 773.1 1439.9 772.2 1440.6 773.1 1441.1 773.5 1441.7 775.2 1442.2 773.2 1443.0 771.4 1443.5 772.9 1444.2 771.0 1444.6 773.5 1445.3 772.3 1446.0 774.1 1446.5 771.4 1447.0 774.4 1447.6 770.9 1448.2 772.7 1449.0 771.5 1449.4 773.9 1450.1 771.2 1450.8 772.1 1451.4 774.9 1452.0 773.7 1452.5 773.7 1453.1 774.0 1453.6 774.9 1454.3 772.1 1454.8 771.9 1455.6 773.2 1456.1 774.5 1456.7 773.3 1457.2 771.0 1457.9 776.7 1458.4 773.6 1459.1 773.4 1459.6 773.3 1460.2 773.5 1460.9 775.2 1461.4 774.2 1462.1 774.4 1462.6 775.4 1463.2 775.1 1463.8 772.6 1464.5 772.6 1465.0 772.6 1465.7 774.4 1466.3 774.5 1466.9 772.5 1467.5 774.0 1468.1 776.0 1468.7 775.0 1469.2 773.8 1469.9 777.5 1470.5 774.6 1471.1 773.6 1471.7 774.9 1472.3 774.3 1472.9 775.0 1473.4 775.1 1474.2 775.1 1474.7 774.9 1475.3 774.7 1475.9 774.0 1476.6 776.5 1477.0 775.7 1477.7 774.9 1478.3 776.8 1479.0 775.4 1479.5 775.0 1480.1 775.4 1480.7 774.2 1481.3 774.4 1481.9 775.9 1482.5 776.7 1483.0 774.1 1483.7 774.8 1484.2 776.8 1484.9 775.7 1485.5 776.9 1486.1 774.7 1486.7 775.0 1487.3 774.6 1487.9 775.3 1488.5 775.8 1489.1 775.6 1489.7 774.6 1490.3 775.3 1490.9 773.2 1491.4 776.3 1492.1 775.8 1492.7 774.9 1493.3 775.0 1493.8 775.1 1494.5 775.3 1495.1 776.2 1495.7 775.9 1496.3 775.7 1496.9 774.7 1497.5 776.0 1498.1 774.1 1498.7 774.7 1499.3 774.8 1499.9 776.5 1500.5 776.1 1501.1 775.2 1501.7 776.7 1502.3 773.6 1502.9 775.4 1503.5 775.5 1504.1 775.5 1504.6 776.3 1505.3 776.6 1505.9 775.2 1506.5 776.4 1507.0 775.0 1507.6 773.9 1508.2 775.6 1508.9 775.6 1509.5 776.2 1510.1 777.5 1510.7 777.1 1511.3 777.4 1511.8 774.9 1512.4 775.1 1513.1 776.8 1513.6 775.6 1514.3 776.3 1514.9 776.2 1515.5 776.4 1516.1 775.0 1516.6 777.1 1517.3 776.5 1517.9 776.3 1518.5 774.5 1519.1 776.7 1519.7 775.5 1520.3 775.1 1520.9 776.8 1521.5 776.8 1522.1 775.4 1522.7 777.0 1523.3 775.1 1523.9 776.6 1524.5 777.1 1525.1 775.5 1525.7 775.7 1526.3 776.3 1526.9 774.3 1527.5 776.9 1528.1 775.5 1528.7 777.4 1529.3 774.8 1529.9 776.7 1530.5 775.0 1531.1 777.5 1531.7 775.4 1532.3 775.6 1532.9 776.3 1533.5 777.1 1534.1 775.7 1534.7 776.3 1535.3 776.6 1535.9 775.8 1536.5 777.0 1537.1 775.9 1537.7 775.8 1538.3 776.9 1538.9 776.4 1539.5 777.6 1540.1 775.9 1540.7 775.7 1541.3 776.6 1541.9 775.8 1542.5 775.4 1543.1 776.1 1543.7 775.9 1544.3 777.1 1544.9 775.9 1545.5 776.6 1546.1 776.3 1546.7 775.9 1547.3 777.6 1547.9 775.4 1548.5 775.4 1549.1 776.4 1549.7 777.1 1550.3 775.9 1550.9 776.1 1551.5 776.8 1552.1 776.1 1552.7 776.3 1553.3 776.0 1553.9 776.4 1554.5 776.4 1555.1 776.7 1555.7 776.1 1556.3 776.2" fill="none" stroke="#0000ff" stroke-width="6.8" stroke-linejoin="round"/>
<path clip-path="url(#cc)" d="M565.1 1753.0L566.6 1753.0 568.1 1753.0 569.6 1753.0 571.1 1753.0 572.6 1753.0 574.1 1753.0 575.6 1753.0 577.1 1753.0 578.6 1753.0 580.1 1753.0 581.6 1753.0 583.1 1753.0 584.6 1753.0 586.1 1753.0 587.6 1753.0 589.1 1753.0 590.6 1753.0 592.1 1753.0 593.6 1753.0 595.1 1753.0 596.6 1753.0 598.1 1753.0 599.6 1753.0 601.1 1753.0 602.6 1753.0 604.1 1753.0 605.6 1753.0 607.1 1753.0 608.6 1752.9 610.1 1752.9 611.6 1752.9 613.1 1752.9 614.6 1752.9 616.1 1752.9 617.6 1752.9 619.1 1752.9 620.6 1752.9 622.1 1752.9 623.6 1752.9 625.1 1752.9 626.6 1752.9 628.1 1752.9 629.6 1752.9 631.1 1752.9 632.6 1752.9 634.1 1752.9 635.6 1752.9 637.1 1752.9 638.6 1752.9 640.1 1752.9 641.6 1752.9 643.1 1752.9 644.6 1752.9 646.1 1752.9 647.6 1752.9 649.1 1752.9 650.6 1752.9 652.1 1752.9 653.6 1752.9 655.1 1752.9 656.6 1752.9 658.1 1752.9 659.7 1752.9 661.2 1752.9 662.7 1752.9 664.2 1752.9 665.7 1752.9 667.2 1752.9 668.7 1752.9 670.2 1752.9 671.7 1752.9 673.2 1752.9 674.7 1752.9 676.2 1752.9 677.7 1752.9 679.2 1752.9 680.7 1752.9 682.2 1752.9 683.7 1752.9 685.2 1752.9 686.7 1752.9 688.2 1752.9 689.7 1752.9 691.2 1752.9 692.7 1752.9 694.2 1752.9 695.7 1752.9 697.2 1752.9 698.7 1752.9 700.2 1752.9 701.7 1752.9 703.2 1752.9 704.7 1752.9 706.2 1752.9 707.7 1752.9 709.2 1752.9 710.7 1752.9 712.2 1752.9 713.7 1752.9 715.2 1752.9 716.7 1752.9 718.2 1752.9 719.7 1752.9 721.2 1752.9 722.7 1752.9 724.2 1752.9 725.7 1752.9 727.2 1752.9 728.7 1752.9 730.2 1752.9 731.7 1752.9 733.2 1752.9 734.7 1752.9 736.2 1752.9 737.7 1752.9 739.2 1752.9 740.7 1752.9 742.2 1752.9 743.7 1752.9 745.2 1752.9 746.7 1752.9 748.2 1752.9 749.7 1752.9 751.2 1752.9 752.7 1752.9 754.2 1752.9 755.7 1752.9 757.2 1752.9 758.7 1752.9 760.2 1752.9 761.7 1752.9 763.2 1752.9 764.7 1752.9 766.2 1752.9 767.7 1752.9 769.2 1752.9 770.7 1752.9 772.2 1752.9 773.7 1752.9 775.2 1752.9 776.7 1752.9 778.2 1752.9 779.7 1752.9 781.2 1752.9 782.7 1752.9 784.3 1752.9 785.8 1752.9 787.3 1753.0 788.8 1753.0 790.3 1753.0 791.8 1753.0 793.3 1753.0 794.8 1753.0 796.3 1753.0 797.8 1753.0 799.3 1753.0 800.8 1753.0 802.3 1753.0 803.8 1753.0 805.3 1753.0 806.8 1753.1 808.3 1753.1 809.8 1753.1 811.3 1753.1 812.8 1753.1 814.3 1753.1 815.8 1753.1 817.3 1753.1 818.8 1753.0 820.3 1753.0 821.8 1753.0 823.3 1752.9 824.8 1752.9 826.3 1752.8 827.8 1752.8 829.3 1752.7 830.8 1752.5 832.3 1752.4 833.8 1752.3 835.3 1752.1 836.7 1751.9 838.2 1751.6 839.7 1751.3 841.2 1751.0 842.6 1750.7 844.1 1750.4 845.5 1750.0 847.0 1749.6 848.4 1749.2 849.9 1748.7 851.3 1748.3 852.7 1747.8 854.2 1747.4 855.6 1746.9 857.0 1746.4 858.4 1746.0 859.9 1745.5 861.3 1745.0 862.7 1744.6 864.1 1744.1 865.6 1743.6 867.0 1743.0 868.3 1742.4 869.7 1741.8 871.0 1741.1 872.3 1740.3 873.5 1739.4 874.7 1738.5 875.8 1737.5 876.9 1736.4 877.8 1735.3 878.8 1734.1 879.6 1732.9 880.5 1731.6 881.3 1730.4 882.0 1729.1 882.7 1727.7 883.4 1726.4 884.1 1725.1 884.7 1723.7 885.4 1722.3 886.0 1721.0 886.6 1719.6 887.1 1718.2 887.7 1716.8 888.2 1715.4 888.8 1714.0 889.3 1712.6 889.8 1711.2 890.3 1709.8 890.8 1708.4 891.3 1707.0 891.8 1705.5 892.3 1704.1 892.7 1702.7 893.2 1701.2 893.6 1699.8 894.0 1698.4 894.4 1696.9 894.8 1695.5 895.2 1694.0 895.5 1692.5 895.9 1691.1 896.2 1689.6 896.5 1688.2 896.9 1686.7 897.2 1685.2 897.5 1683.8 897.8 1682.3 898.1 1680.8 898.4 1679.3 898.7 1677.9 898.9 1676.4 899.2 1674.9 899.5 1673.4 899.8 1672.0 900.2 1670.5 900.5 1669.0 900.8 1667.6 901.1 1666.1 901.5 1664.7 901.9 1663.2 902.3 1661.8 902.8 1660.3 903.2 1658.9 903.8 1657.5 904.4 1656.2 905.1 1654.8 905.9 1653.6 906.8 1652.3 907.7 1651.1 908.7 1650.0 909.6 1648.8 910.6 1647.7 911.6 1646.6 912.6 1645.5 913.6 1644.4 914.6 1643.2 915.6 1642.1 916.6 1641.0 917.6 1639.8 918.5 1638.7 919.5 1637.5 920.4 1636.3 921.3 1635.1 922.2 1633.9 923.0 1632.7 923.8 1631.4 924.5 1630.1 925.1 1628.7 925.7 1627.3 926.1 1625.9 926.5 1624.4 926.8 1622.9 927.1 1621.5 927.3 1620.0 927.5 1618.5 927.7 1617.0 927.8 1615.5 928.0 1614.0 928.1 1612.5 928.3 1611.0 928.4 1609.5 928.5 1608.0 928.6 1606.5 928.8 1605.0 928.9 1603.5 929.0 1602.1 929.1 1600.6 929.3 1599.1 929.4 1597.6 929.6 1596.1 929.7 1594.6 929.9 1593.1 930.0 1591.6 930.2 1590.1 930.4 1588.6 930.6 1587.1 930.9 1585.7 931.2 1584.2 931.6 1582.7 932.2 1581.4 933.4 1581.2 934.2 1582.5 934.8 1583.9 935.4 1585.3 935.8 1586.7 936.3 1588.1 936.8 1589.6 937.2 1591.0 937.7 1592.4 938.1 1593.9 938.6 1595.3 939.1 1596.7 939.6 1598.1 940.2 1599.5 941.1 1600.7 942.3 1600.2 942.9 1598.8 943.3 1597.4 943.6 1595.9 943.9 1594.5 944.1 1593.0 944.4 1591.5 944.6 1590.0 944.8 1588.5 944.9 1587.0 945.1 1585.5 945.3 1584.0 945.5 1582.5 945.6 1581.1 945.8 1579.6 945.9 1578.1 946.1 1576.6 946.2 1575.1 946.4 1573.6 946.6 1572.1 946.7 1570.6 946.9 1569.1 947.1 1567.6 947.2 1566.1 947.4 1564.6 947.6 1563.2 947.8 1561.7 947.9 1560.2 948.1 1558.7 948.3 1557.2 948.4 1555.7 948.6 1554.2 948.8 1552.7 948.9 1551.2 949.1 1549.7 949.3 1548.2 949.4 1546.7 949.6 1545.2 949.7 1543.8 949.9 1542.3 950.0 1540.8 950.2 1539.3 950.3 1537.8 950.4 1536.3 950.6 1534.8 950.7 1533.3 950.8 1531.8 950.9 1530.3 951.1 1528.8 951.2 1527.3 951.3 1525.8 951.4 1524.3 951.4 1522.8 951.5 1521.3 951.6 1519.8 951.7 1518.3 951.8 1516.8 951.8 1515.3 951.9 1513.8 952.0 1512.3 952.1 1510.8 952.1 1509.3 952.2 1507.8 952.3 1506.3 952.4 1504.8 952.5 1503.3 952.7 1501.8 952.8 1500.3 953.0 1498.8 953.1 1497.4 953.3 1495.9 953.6 1494.4 953.8 1492.9 954.1 1491.4 954.5 1490.0 954.9 1488.5 955.3 1487.1 955.9 1485.7 956.6 1484.4 957.5 1483.2 958.5 1482.1 959.6 1481.1 960.8 1480.1 962.0 1479.2 963.1 1478.2 964.1 1477.1 964.9 1475.8 965.6 1474.5 966.1 1473.1 966.5 1471.6 966.9 1470.2 967.2 1468.7 967.4 1467.2 967.7 1465.7 967.8 1464.2 968.0 1462.7 968.1 1461.3 968.3 1459.8 968.4 1458.3 968.5 1456.8 968.5 1455.3 968.6 1453.8 968.7 1452.3 968.8 1450.8 968.8 1449.3 968.9 1447.8 969.0 1446.3 969.0 1444.8 969.1 1443.3 969.2 1441.8 969.2 1440.3 969.3 1438.8 969.4 1437.3 969.5 1435.8 969.6 1434.3 969.6 1432.8 969.7 1431.3 969.8 1429.8 969.9 1428.3 970.0 1426.8 970.1 1425.3 970.2 1423.8 970.3 1422.3 970.5 1420.8 970.6 1419.3 970.7 1417.8 970.8 1416.3 970.9 1414.8 971.1 1413.3 971.2 1411.8 971.3 1410.3 971.5 1408.8 971.6 1407.3 971.7 1405.8 971.9 1404.3 972.0 1402.8 972.2 1401.4 972.3 1399.9 972.5 1398.4 972.6 1396.9 972.8 1395.4 972.9 1393.9 973.1 1392.4 973.3 1390.9 973.4 1389.4 973.6 1387.9 973.8 1386.4 974.0 1384.9 974.2 1383.4 974.4 1382.0 974.6 1380.5 974.9 1380.5 974.9 1382.0 974.8 1383.5 974.7 1385.0 974.7 1386.5 974.6 1388.0 974.5 1389.5 974.4 1391.0 974.3 1392.5 974.2 1394.0 974.0 1395.0 974.1 1393.5 974.1 1392.0 974.2 1390.5 974.3 1389.0 974.3 1387.5 974.4 1386.0 974.5 1384.5 974.6 1383.0 974.6 1381.5 974.7 1380.0 974.8 1378.5 974.9 1377.0 974.9 1375.5 975.0 1374.0 975.1 1372.5 975.2 1371.0 975.2 1369.5 975.3 1368.0 975.4 1366.5 975.4 1365.0 975.5 1363.5 975.6 1362.0 975.7 1360.5 975.7 1359.0 975.8 1357.5 975.9 1356.0 976.0 1354.5 976.0 1353.0 976.1 1351.5 976.2 1350.0 976.3 1348.5 976.3 1347.0 976.4 1345.5 976.5 1344.0 976.5 1342.5 976.6 1341.0 976.7 1339.5 976.8 1338.0 976.8 1336.5 976.9 1335.0 977.0 1333.5 977.0 1332.0 977.1 1330.5 977.2 1329.0 977.2 1327.5 977.3 1326.0 977.4 1324.5 977.4 1323.0 977.5 1321.5 977.6 1320.0 977.6 1318.5 977.7 1317.0 977.7 1315.5 977.8 1314.0 977.9 1312.5 977.9 1311.0 978.0 1309.5 978.0 1308.0 978.1 1306.5 978.2 1305.0 978.2 1303.5 978.3 1302.0 978.3 1300.5 978.4 1299.0 978.4 1297.5 978.5 1296.0 978.5 1294.5 978.6 1293.0 978.6 1291.5 978.7 1290.0 978.7 1288.5 978.8 1287.0 978.8 1285.5 978.9 1284.0 978.9 1282.5 979.0 1281.0 979.0 1279.5 979.1 1278.0 979.1 1276.5 979.1 1275.0 979.2 1273.5 979.2 1272.0 979.3 1270.5 979.3 1269.0 979.4 1267.5 979.4 1266.0 979.4 1264.5 979.5 1263.0 979.5 1261.5 979.6 1260.0 979.6 1258.5 979.7 1257.0 979.7 1255.5 979.8 1254.0 979.8 1252.5 979.8 1251.0 979.9 1249.5 979.9 1248.0 980.0 1246.5 980.0 1245.0 980.1 1243.5 980.1 1242.0 980.2 1240.5 980.2 1239.0 980.3 1237.5 980.3 1236.0 980.4 1234.5 980.4 1233.0 980.5 1231.5 980.5 1230.0 980.6 1228.5 980.6 1227.0 980.7 1225.5 980.8 1224.0 980.8 1222.5 980.9 1221.0 980.9 1219.5 981.0 1218.0 981.1 1216.5 981.1 1215.0 981.2 1213.5 981.2 1212.0 981.3 1210.5 981.4 1209.0 981.4 1207.5 981.5 1206.0 981.6 1204.5 981.6 1203.0 981.7 1201.5 981.8 1200.0 981.8 1198.5 981.9 1197.0 981.9 1195.5 982.0 1194.0 982.1 1192.5 982.1 1191.0 982.2 1189.5 982.3 1188.0 982.3 1186.5 982.4 1185.0 982.5 1183.5 982.5 1182.0 982.6 1180.5 982.7 1179.0 982.7 1177.5 982.8 1176.0 982.9 1174.5 983.0 1173.0 983.0 1171.5 983.1 1170.0 983.2 1168.5 983.2 1167.0 983.3 1165.5 983.4 1164.0 983.5 1162.5 983.6 1161.0 983.7 1159.5 983.7 1158.0 983.8 1156.5 983.9 1155.0 984.0 1153.5 984.1 1152.0 984.2 1150.5 984.3 1149.0 984.4 1147.5 984.5 1146.0 984.6 1144.5 984.7 1143.0 984.8 1141.5 985.0 1140.0 985.1 1138.5 985.2 1137.0 985.3 1135.5 985.5 1134.1 985.6 1132.6 985.7 1131.1 985.9 1129.6 986.0 1128.1 986.2 1126.6 986.3 1125.1 986.5 1123.6 986.6 1122.1 986.8 1120.6 987.0 1119.1 987.2 1117.6 987.4 1116.1 987.6 1114.7 987.8 1113.2 988.0 1111.7 988.3 1110.2 988.6 1108.7 989.0 1107.3 989.4 1105.9 990.4 1104.9 991.2 1106.2 991.7 1107.6 992.1 1109.0 992.4 1110.5 992.7 1112.0 993.0 1113.5 993.3 1114.9 993.5 1116.4 993.8 1117.9 994.0 1119.4 994.3 1120.9 994.5 1122.3 994.7 1123.8 995.0 1125.3 995.2 1126.8 995.4 1128.3 995.7 1129.7 995.9 1131.2 996.2 1132.7 996.4 1134.2 996.7 1135.7 996.9 1137.1 997.2 1138.6 997.4 1140.1 997.7 1141.6 997.9 1143.1 998.2 1144.5 998.4 1146.0 998.7 1147.5 998.9 1149.0 999.2 1150.5 999.4 1151.9 999.7 1153.4 999.9 1154.9 1000.2 1156.4 1000.4 1157.9 1000.6 1159.4 1000.9 1160.8 1001.1 1162.3 1001.3 1163.8 1001.6 1165.3 1001.9 1166.7 1002.3 1168.2 1002.8 1169.6 1003.5 1170.9 1004.6 1172.0 1005.9 1172.6 1007.4 1172.5 1008.8 1172.0 1010.1 1171.2 1011.2 1170.2 1012.0 1168.9 1012.7 1167.6 1013.3 1166.2 1013.8 1164.8 1014.1 1163.3 1014.4 1161.9 1014.7 1160.4 1014.9 1158.9 1015.1 1157.4 1015.2 1155.9 1015.3 1154.4 1015.4 1152.9 1015.5 1151.4 1015.5 1149.9 1015.6 1148.4 1015.6 1146.9 1015.7 1145.4 1015.7 1143.9 1015.7 1142.4 1015.7 1140.9 1015.7 1139.4 1015.7 1137.9 1015.8 1136.4 1015.8 1134.9 1015.8 1133.4 1015.8 1131.9 1015.9 1130.4 1015.9 1128.9 1015.9 1127.4 1016.0 1125.9 1016.0 1124.4 1016.1 1122.9 1016.2 1121.4 1016.2 1119.9 1016.3 1118.4 1016.4 1116.9 1016.5 1115.4 1016.5 1113.9 1016.6 1112.4 1016.7 1110.9 1016.8 1109.4 1016.9 1107.9 1017.0 1106.4 1017.1 1104.9 1017.2 1103.4 1017.3 1101.9 1017.4 1100.4 1017.5 1098.9 1017.6 1097.4 1017.7 1095.9 1017.8 1094.4 1017.9 1092.9 1018.0 1091.4 1018.1 1089.9 1018.2 1088.4 1018.4 1086.9 1018.5 1085.5 1018.6 1084.0 1018.7 1082.5 1018.8 1081.0 1018.9 1079.5 1019.0 1078.0 1019.1 1076.5 1019.2 1075.0 1019.3 1073.5 1019.4 1072.0 1019.5 1070.5 1019.6 1069.0 1019.7 1067.5 1019.8 1066.0 1019.9 1064.5 1020.0 1063.0 1020.1 1061.5 1020.2 1060.0 1020.3 1058.5 1020.3 1057.0 1020.4 1055.5 1020.5 1054.0 1020.6 1052.5 1020.7 1051.0 1020.8 1049.5 1020.9 1048.0 1021.0 1046.5 1021.0 1045.0 1021.1 1043.5 1021.2 1042.0 1021.3 1040.5 1021.4 1039.0 1021.5 1037.5 1021.6 1036.0 1021.7 1034.5 1021.8 1033.0 1021.9 1031.5 1022.0 1030.0 1022.1 1028.5 1022.2 1027.0 1022.3 1025.5 1022.4 1024.0 1022.5 1022.5 1022.7 1021.0 1022.8 1019.5 1023.0 1018.0 1023.1 1016.6 1023.3 1015.1 1023.5 1013.6 1023.8 1012.1 1024.2 1010.7 1025.2 1010.6 1025.7 1012.0 1026.0 1013.5 1026.3 1015.0 1026.6 1016.4 1026.8 1017.9 1027.0 1019.4 1027.2 1020.9 1027.4 1022.4 1027.6 1023.9 1027.8 1025.3 1028.0 1026.8 1028.2 1028.3 1028.3 1029.8 1028.5 1031.3 1028.7 1032.8 1028.8 1034.3 1029.0 1035.8 1029.1 1037.3 1029.3 1038.8 1029.4 1040.3 1029.6 1041.8 1029.7 1043.3 1029.8 1044.8 1030.0 1046.3 1030.1 1047.8 1030.2 1049.2 1030.4 1050.7 1030.5 1052.2 1030.6 1053.7 1030.7 1055.2 1030.8 1056.7 1031.0 1058.2 1031.1 1059.7 1031.2 1061.2 1031.3 1062.7 1031.4 1064.2 1031.5 1065.7 1031.6 1067.2 1031.7 1068.7 1031.8 1070.2 1031.9 1071.7 1032.0 1073.2 1032.1 1074.7 1032.2 1076.2 1032.3 1077.7 1032.4 1079.2 1032.4 1080.7 1032.5 1082.2 1032.6 1083.7 1032.7 1085.2 1032.8 1086.7 1032.9 1088.2 1032.9 1089.7 1033.0 1091.2 1033.1 1092.7 1033.2 1094.2 1033.2 1095.7 1033.3 1097.2 1033.4 1098.7 1033.5 1100.2 1033.5 1101.7 1033.6 1103.2 1033.7 1104.7 1033.7 1106.2 1033.8 1107.7 1033.9 1109.2 1033.9 1110.7 1034.0 1112.2 1034.1 1113.7 1034.2 1115.2 1034.2 1116.7 1034.3 1118.2 1034.4 1119.7 1034.5 1121.2 1034.5 1122.7 1034.6 1124.2 1034.7 1125.7 1034.8 1127.2 1034.9 1128.7 1035.0 1130.2 1035.0 1131.7 1035.1 1133.2 1035.2 1134.7 1035.3 1136.2 1035.4 1137.7 1035.6 1139.2 1035.7 1140.7 1035.8 1142.1 1035.9 1143.6 1036.1 1145.1 1036.2 1146.6 1036.3 1148.1 1036.5 1149.6 1036.7 1151.1 1036.8 1152.6 1037.0 1154.1 1037.2 1155.6 1037.4 1157.1 1037.6 1158.6 1037.8 1160.0 1038.1 1161.5 1038.3 1163.0 1038.6 1164.5 1038.9 1166.0 1039.2 1167.4 1039.6 1168.9 1040.0 1170.3 1040.6 1171.7 1041.7 1172.4 1042.5 1171.1 1042.9 1169.7 1043.3 1168.2 1043.6 1166.8 1043.9 1165.3 1044.2 1163.8 1044.4 1162.4 1044.7 1160.9 1045.0 1159.4 1045.4 1157.9 1045.7 1156.5 1046.2 1155.1 1047.2 1154.3 1047.9 1155.6 1048.4 1157.0 1048.8 1158.4 1049.1 1159.9 1049.4 1161.4 1049.7 1162.8 1050.0 1164.3 1050.3 1165.8 1050.5 1167.3 1050.8 1168.8 1051.1 1170.2 1051.3 1171.7 1051.6 1173.2 1051.8 1174.7 1052.1 1176.2 1052.3 1177.6 1052.5 1179.1 1052.7 1180.6 1052.9 1182.1 1053.2 1183.6 1053.4 1185.1 1053.5 1186.6 1053.7 1188.0 1053.9 1189.5 1054.1 1191.0 1054.3 1192.5 1054.4 1194.0 1054.6 1195.5 1054.7 1197.0 1054.9 1198.5 1055.0 1200.0 1055.2 1201.5 1055.3 1203.0 1055.4 1204.5 1055.6 1206.0 1055.7 1207.5 1055.8 1209.0 1056.0 1210.4 1056.1 1211.9 1056.2 1213.4 1056.3 1214.9 1056.4 1216.4 1056.6 1217.9 1056.7 1219.4 1056.8 1220.9 1056.9 1222.4 1057.0 1223.9 1057.1 1225.4 1057.3 1226.9 1057.4 1228.4 1057.5 1229.9 1057.6 1231.4 1057.7 1232.9 1057.8 1234.4 1057.9 1235.9 1058.0 1237.4 1058.2 1238.9 1058.3 1240.4 1058.4 1241.9 1058.5 1243.4 1058.6 1244.9 1058.7 1246.4 1058.8 1247.9 1058.9 1249.4 1059.1 1250.9 1059.2 1252.4 1059.3 1253.9 1059.4 1255.4 1059.5 1256.9 1059.6 1258.3 1059.7 1259.8 1059.8 1261.3 1059.9 1262.8 1060.0 1264.3 1060.2 1265.8 1060.3 1267.3 1060.4 1268.8 1060.5 1270.3 1060.6 1271.8 1060.7 1273.3 1060.8 1274.8 1060.8 1276.3 1060.9 1277.8 1061.0 1279.3 1061.1 1280.8 1061.2 1282.3 1061.3 1283.8 1061.4 1285.3 1061.5 1286.8 1061.5 1288.3 1061.6 1289.8 1061.7 1291.3 1061.8 1292.8 1061.8 1294.3 1061.9 1295.8 1062.0 1297.3 1062.1 1298.8 1062.1 1300.3 1062.2 1301.8 1062.3 1303.3 1062.3 1304.8 1062.4 1306.3 1062.4 1307.8 1062.5 1309.3 1062.6 1310.8 1062.6 1312.3 1062.7 1313.8 1062.8 1315.3 1062.8 1316.8 1062.9 1318.3 1063.0 1319.8 1063.0 1321.3 1063.1 1322.8 1063.2 1324.3 1063.2 1325.8 1063.3 1327.3 1063.4 1328.8 1063.4 1330.3 1063.5 1331.8 1063.6 1333.3 1063.7 1334.8 1063.8 1336.3 1063.9 1337.8 1064.0 1339.3 1064.1 1340.8 1064.2 1342.3 1064.3 1343.8 1064.4 1345.3 1064.6 1346.8 1064.9 1348.3 1065.5 1349.3 1065.9 1347.8 1066.2 1346.4 1066.4 1344.9 1066.6 1343.4 1066.8 1341.9 1066.9 1340.4 1067.1 1338.9 1067.2 1337.4 1067.4 1335.9 1067.5 1334.4 1067.6 1332.9 1067.8 1331.4 1067.9 1329.9 1068.0 1328.5 1068.1 1327.0 1068.3 1325.5 1068.4 1324.0 1068.5 1322.5 1068.6 1321.0 1068.7 1319.5 1068.8 1318.0 1069.0 1316.5 1069.1 1315.0 1069.2 1313.5 1069.3 1312.0 1069.4 1310.5 1069.5 1309.0 1069.7 1307.5 1069.8 1306.0 1069.9 1304.5 1070.0 1303.0 1070.1 1301.5 1070.3 1300.0 1070.4 1298.5 1070.5 1297.0 1070.6 1295.5 1070.7 1294.0 1070.9 1292.5 1071.0 1291.0 1071.1 1289.5 1071.2 1288.0 1071.4 1286.6 1071.5 1285.1 1071.6 1283.6 1071.7 1282.1 1071.9 1280.6 1072.0 1279.1 1072.1 1277.6 1072.2 1276.1 1072.3 1274.6 1072.5 1273.1 1072.6 1271.6 1072.7 1270.1 1072.8 1268.6 1072.9 1267.1 1073.1 1265.6 1073.2 1264.1 1073.3 1262.6 1073.4 1261.1 1073.5 1259.6 1073.7 1258.1 1073.8 1256.6 1073.9 1255.1 1074.0 1253.6 1074.1 1252.1 1074.3 1250.6 1074.4 1249.1 1074.5 1247.6 1074.6 1246.1 1074.7 1244.7 1074.8 1243.2 1074.9 1241.7 1075.0 1240.2 1075.2 1238.7 1075.3 1237.2 1075.4 1235.7 1075.5 1234.2 1075.6 1232.7 1075.7 1231.2 1075.8 1229.7 1075.9 1228.2 1076.1 1226.7 1076.2 1225.2 1076.3 1223.7 1076.4 1222.2 1076.5 1220.7 1076.7 1219.2 1076.8 1217.7 1076.9 1216.2 1077.1 1214.7 1077.2 1213.2 1077.3 1211.7 1077.5 1210.2 1077.7 1208.7 1077.8 1207.3 1078.0 1205.8 1078.3 1204.3 1078.5 1202.8 1078.8 1201.3 1079.3 1199.9 1080.2 1200.5 1080.7 1201.9 1081.0 1203.4 1081.2 1204.9 1081.5 1206.3 1081.7 1207.8 1081.9 1209.3 1082.1 1210.8 1082.3 1212.3 1082.4 1213.8 1082.6 1215.3 1082.8 1216.8 1082.9 1218.3 1083.1 1219.8 1083.2 1221.2 1083.4 1222.7 1083.5 1224.2 1083.7 1225.7 1083.8 1227.2 1083.9 1228.7 1084.1 1230.2 1084.2 1231.7 1084.3 1233.2 1084.5 1234.7 1084.6 1236.2 1084.7 1237.7 1084.8 1239.2 1085.0 1240.7 1085.1 1242.2 1085.2 1243.7 1085.3 1245.2 1085.4 1246.7 1085.6 1248.2 1085.7 1249.7 1085.8 1251.2 1085.9 1252.7 1086.0 1254.2 1086.1 1255.7 1086.3 1257.1 1086.4 1258.6 1086.5 1260.1 1086.6 1261.6 1086.7 1263.1 1086.8 1264.6 1087.0 1266.1 1087.1 1267.6 1087.2 1269.1 1087.3 1270.6 1087.5 1272.1 1087.6 1273.6 1087.7 1275.1 1087.9 1276.6 1088.1 1278.1 1088.3 1279.6 1088.5 1281.1 1088.8 1282.5 1089.2 1284.0 1089.6 1285.4 1090.1 1286.8 1090.8 1288.2 1091.7 1289.4 1092.8 1290.4 1094.2 1290.9 1095.5 1290.3 1096.3 1289.0 1096.7 1287.6 1097.0 1286.1 1097.3 1284.6 1097.4 1283.1 1097.6 1281.6 1097.7 1280.1 1097.8 1278.6 1097.9 1277.1 1098.0 1275.6 1098.1 1274.1 1098.2 1272.6 1098.3 1271.1 1098.4 1269.7 1098.5 1268.2 1098.6 1266.7 1098.7 1265.2 1098.9 1263.7 1099.0 1262.2 1099.2 1260.7 1099.5 1259.2 1099.9 1257.8 1100.3 1256.3 1100.9 1254.9 1101.6 1253.6 1102.4 1252.4 1103.3 1251.1 1104.1 1249.8 1104.8 1248.5 1105.4 1247.1 1105.9 1245.7 1106.3 1244.3 1106.8 1242.9 1107.2 1241.4 1107.6 1240.0 1108.0 1238.5 1108.5 1237.1 1109.0 1235.7 1109.6 1234.3 1110.8 1234.4 1111.5 1235.8 1112.0 1237.2 1112.3 1238.7 1112.7 1240.1 1112.9 1241.6 1113.2 1243.1 1113.4 1244.6 1113.7 1246.1 1113.9 1247.5 1114.0 1249.0 1114.2 1250.5 1114.4 1252.0 1114.5 1253.5 1114.6 1255.0 1114.8 1256.5 1114.9 1258.0 1115.0 1259.5 1115.1 1261.0 1115.2 1262.5 1115.2 1264.0 1115.3 1265.5 1115.4 1267.0 1115.5 1268.5 1115.6 1270.0 1115.7 1271.5 1115.9 1273.0 1116.1 1274.5 1116.3 1275.9 1116.6 1277.4 1117.0 1278.9 1117.5 1280.3 1118.3 1281.5 1119.5 1282.5 1120.9 1282.8 1122.4 1282.5 1123.6 1281.6 1124.5 1280.5 1125.1 1279.1 1125.6 1277.7 1125.9 1276.2 1126.2 1274.7 1126.5 1273.3 1126.7 1271.8 1126.9 1270.3 1127.1 1268.8 1127.4 1267.3 1127.8 1265.9 1128.3 1264.5 1129.2 1263.3 1130.4 1262.4 1131.7 1261.5 1132.8 1260.5 1133.6 1259.3 1134.3 1258.0 1134.8 1256.5 1135.2 1255.1 1135.6 1253.6 1135.9 1252.2 1136.1 1250.7 1136.4 1249.2 1136.6 1247.7 1136.8 1246.2 1137.0 1244.8 1137.2 1243.3 1137.4 1241.8 1137.6 1240.3 1137.7 1238.8 1137.9 1237.3 1138.1 1235.8 1138.3 1234.3 1138.5 1232.8 1138.8 1231.4 1139.3 1230.0 1140.2 1230.9 1140.7 1232.4 1141.1 1233.8 1141.6 1235.2 1142.1 1236.6 1142.7 1238.0 1143.4 1239.3 1144.5 1240.3 1145.9 1241.0 1147.2 1241.7 1148.0 1242.9 1148.5 1244.3 1148.8 1245.8 1149.0 1247.3 1149.2 1248.8 1149.3 1250.3 1149.5 1251.8 1149.6 1253.3 1149.7 1254.7 1149.9 1256.2 1150.1 1257.7 1150.3 1259.2 1150.6 1260.7 1151.0 1262.1 1151.5 1263.6 1152.2 1264.9 1153.2 1266.0 1154.3 1266.9 1155.6 1267.7 1157.0 1268.4 1158.2 1269.3 1159.2 1270.4 1159.9 1271.7 1160.5 1273.1 1160.9 1274.5 1161.3 1276.0 1161.7 1277.4 1162.2 1278.8 1162.6 1280.3 1163.2 1281.7 1163.9 1283.0 1164.6 1284.3 1165.4 1285.6 1166.2 1286.9 1166.9 1288.2 1167.5 1289.5 1168.1 1290.9 1168.5 1292.4 1168.8 1293.9 1169.1 1295.3 1169.3 1296.8 1169.5 1298.3 1169.6 1299.8 1169.8 1301.3 1170.0 1302.8 1170.1 1304.3 1170.3 1305.8 1170.6 1307.2 1170.8 1308.7 1171.2 1310.2 1171.6 1311.6 1172.1 1313.0 1172.8 1314.4 1173.7 1315.6 1174.7 1316.7 1175.8 1317.7 1176.9 1318.7 1178.1 1319.6 1179.3 1320.6 1180.4 1321.6 1181.3 1322.7 1182.1 1324.0 1182.8 1325.3 1183.4 1326.7 1183.9 1328.1 1184.3 1329.6 1184.7 1331.0 1185.0 1332.5 1185.3 1334.0 1185.6 1335.4 1185.9 1336.9 1186.2 1338.4 1186.4 1339.9 1186.7 1341.4 1186.9 1342.8 1187.2 1344.3 1187.4 1345.8 1187.6 1347.3 1187.9 1348.8 1188.1 1350.2 1188.4 1351.7 1188.6 1353.2 1188.8 1354.7 1189.0 1356.2 1189.3 1357.7 1189.5 1359.1 1189.7 1360.6 1189.9 1362.1 1190.2 1363.6 1190.4 1365.1 1190.6 1366.6 1190.8 1368.1 1191.0 1369.5 1191.2 1371.0 1191.4 1372.5 1191.6 1374.0 1191.8 1375.5 1192.0 1377.0 1192.2 1378.5 1192.4 1380.0 1192.6 1381.4 1192.8 1382.9 1193.0 1384.4 1193.2 1385.9 1193.4 1387.4 1193.6 1388.9 1193.8 1390.4 1194.0 1391.9 1194.2 1393.4 1194.4 1394.8 1194.6 1396.3 1194.8 1397.8 1195.0 1399.3 1195.2 1400.8 1195.4 1402.3 1195.6 1403.8 1195.8 1405.2 1196.1 1406.7 1196.3 1408.2 1196.5 1409.7 1196.7 1411.2 1196.9 1412.7 1197.1 1414.2 1197.3 1415.7 1197.5 1417.1 1197.7 1418.6 1197.9 1420.1 1198.1 1421.6 1198.3 1423.1 1198.5 1424.6 1198.6 1426.1 1198.8 1427.6 1199.0 1429.1 1199.2 1430.5 1199.4 1432.0 1199.5 1433.5 1199.7 1435.0 1199.9 1436.5 1200.0 1438.0 1200.2 1439.5 1200.3 1441.0 1200.5 1442.5 1200.6 1444.0 1200.8 1445.5 1200.9 1447.0 1201.1 1448.5 1201.2 1450.0 1201.4 1451.5 1201.5 1452.9 1201.6 1454.4 1201.8 1455.9 1201.9 1457.4 1202.0 1458.9 1202.2 1460.4 1202.3 1461.9 1202.4 1463.4 1202.6 1464.9 1202.7 1466.4 1202.8 1467.9 1202.9 1469.4 1203.0 1470.9 1203.2 1472.4 1203.3 1473.9 1203.4 1475.4 1203.5 1476.9 1203.6 1478.4 1203.7 1479.9 1203.9 1481.4 1204.0 1482.9 1204.1 1484.4 1204.2 1485.9 1204.3 1487.4 1204.4 1488.9 1204.5 1490.4 1204.6 1491.9 1204.7 1493.4 1204.8 1494.8 1204.9 1496.3 1205.0 1497.8 1205.1 1499.3 1205.2 1500.8 1205.4 1502.3 1205.5 1503.8 1205.6 1505.3 1205.7 1506.8 1205.8 1508.3 1205.9 1509.8 1206.0 1511.3 1206.1 1512.8 1206.2 1514.3 1206.2 1515.8 1206.3 1517.3 1206.4 1518.8 1206.5 1520.3 1206.6 1521.8 1206.7 1523.3 1206.8 1524.8 1206.9 1526.3 1207.1 1527.8 1207.2 1529.3 1207.3 1530.8 1207.4 1532.3 1207.5 1533.8 1207.6 1535.3 1207.7 1536.8 1207.8 1538.3 1207.9 1539.8 1208.1 1541.3 1208.2 1542.8 1208.3 1544.3 1208.4 1545.8 1208.6 1547.3 1208.7 1548.7 1208.9 1550.2 1209.0 1551.7 1209.2 1553.2 1209.3 1554.7 1209.5 1556.2 1209.7 1557.7 1209.8 1559.2 1210.0 1560.7 1210.2 1562.2 1210.4 1563.7 1210.6 1565.2 1210.8 1566.6 1211.1 1568.1 1211.3 1569.6 1211.6 1571.1 1211.9 1572.6 1212.2 1574.0 1212.5 1575.5 1212.9 1576.9 1213.2 1578.4 1213.7 1579.8 1214.1 1581.3 1214.6 1582.7 1215.2 1584.1 1215.9 1585.4 1216.7 1586.7 1217.6 1587.9 1218.5 1589.1 1219.4 1590.3 1220.2 1591.5 1221.1 1592.8 1221.8 1594.1 1222.4 1595.5 1222.9 1596.9 1223.4 1598.3 1223.8 1599.7 1224.2 1601.2 1224.5 1602.7 1224.8 1604.1 1225.0 1605.6 1225.3 1607.1 1225.5 1608.6 1225.7 1610.1 1225.9 1611.6 1226.1 1613.0 1226.3 1614.5 1226.4 1616.0 1226.6 1617.5 1226.8 1619.0 1226.9 1620.5 1227.0 1622.0 1227.2 1623.5 1227.3 1625.0 1227.4 1626.5 1227.5 1628.0 1227.7 1629.5 1227.8 1631.0 1227.9 1632.5 1228.0 1634.0 1228.1 1635.5 1228.2 1637.0 1228.3 1638.5 1228.4 1640.0 1228.5 1641.5 1228.6 1643.0 1228.7 1644.5 1228.8 1646.0 1229.0 1647.4 1229.1 1648.9 1229.2 1650.4 1229.3 1651.9 1229.4 1653.4 1229.5 1654.9 1229.6 1656.4 1229.8 1657.9 1229.9 1659.4 1230.0 1660.9 1230.2 1662.4 1230.3 1663.9 1230.5 1665.4 1230.7 1666.9 1230.9 1668.4 1231.1 1669.9 1231.3 1671.4 1231.5 1672.8 1231.8 1674.3 1232.0 1675.8 1232.3 1677.3 1232.6 1678.7 1233.0 1680.2 1233.4 1681.6 1233.8 1683.1 1234.3 1684.5 1234.8 1685.9 1235.4 1687.3 1236.0 1688.7 1236.6 1690.0 1237.4 1691.3 1238.1 1692.6 1239.0 1693.9 1239.8 1695.1 1240.7 1696.3 1241.7 1697.5 1242.7 1698.6 1243.6 1699.7 1244.6 1700.9 1245.6 1702.0 1246.5 1703.2 1247.5 1704.3 1248.4 1705.5 1249.3 1706.7 1250.2 1708.0 1251.0 1709.2 1251.8 1710.5 1252.6 1711.8 1253.3 1713.1 1254.1 1714.4 1254.8 1715.7 1255.5 1717.0 1256.2 1718.3 1256.9 1719.7 1257.6 1721.0 1258.3 1722.3 1259.0 1723.7 1259.6 1725.0 1260.3 1726.3 1261.1 1727.7 1261.8 1729.0 1262.5 1730.3 1263.3 1731.6 1264.1 1732.8 1265.0 1734.1 1265.9 1735.2 1266.9 1736.4 1267.9 1737.4 1269.1 1738.4 1270.4 1739.2 1271.7 1739.9 1273.1 1740.4 1274.5 1740.8 1276.0 1741.2 1277.5 1741.5 1278.9 1741.8 1280.4 1742.1 1281.9 1742.5 1283.3 1743.0 1284.7 1743.5 1286.1 1744.0 1287.5 1744.7 1288.8 1745.3 1290.2 1746.0 1291.5 1746.7 1292.8 1747.3 1294.2 1748.0 1295.5 1748.6 1296.9 1749.3 1298.3 1749.8 1299.7 1750.4 1301.1 1750.9 1302.5 1751.3 1304.0 1751.7 1305.4 1752.1 1306.9 1752.3 1308.4 1752.6 1309.9 1752.8 1311.4 1752.9 1312.9 1753.0 1314.4 1753.1 1315.9 1753.2 1317.4 1753.3 1318.9 1753.3 1320.4 1753.3 1321.9 1753.3 1323.4 1753.3 1324.9 1753.3 1326.4 1753.3 1327.9 1753.3 1329.4 1753.2 1330.9 1753.2 1332.4 1753.2 1333.9 1753.1 1335.4 1753.1 1336.9 1753.1 1338.4 1753.0 1339.9 1753.0 1341.4 1753.0 1342.9 1753.0 1344.4 1752.9 1345.9 1752.9 1347.4 1752.9 1348.9 1752.9 1350.4 1752.8 1351.9 1752.8 1353.4 1752.8 1354.9 1752.8 1356.4 1752.8 1357.9 1752.7 1359.4 1752.7 1360.9 1752.7 1362.4 1752.7 1363.9 1752.7 1365.4 1752.7 1366.9 1752.7 1368.4 1752.6 1369.9 1752.6 1371.4 1752.6 1372.9 1752.6 1374.4 1752.6 1375.9 1752.6 1377.4 1752.6 1378.9 1752.6 1380.4 1752.6 1381.9 1752.6 1383.4 1752.6 1384.9 1752.6 1386.4 1752.5 1387.9 1752.5 1389.4 1752.5 1390.9 1752.5 1392.4 1752.5 1393.9 1752.5 1395.4 1752.5 1396.9 1752.5 1398.4 1752.5 1399.9 1752.5 1401.4 1752.5 1402.9 1752.5 1404.4 1752.5 1405.9 1752.5 1407.4 1752.5 1408.9 1752.5 1410.4 1752.5 1411.9 1752.5 1413.5 1752.5 1415.0 1752.5 1416.5 1752.5 1418.0 1752.5 1419.5 1752.5 1421.0 1752.5 1422.5 1752.5 1424.0 1752.5 1425.5 1752.5 1427.0 1752.5 1428.5 1752.5 1430.0 1752.5 1431.5 1752.5 1433.0 1752.5 1434.5 1752.5 1436.0 1752.5 1437.5 1752.5 1439.0 1752.5 1440.5 1752.5 1442.0 1752.5 1443.5 1752.5 1445.0 1752.5 1446.5 1752.5 1448.0 1752.5 1449.5 1752.5 1451.0 1752.5 1452.5 1752.5 1454.0 1752.5 1455.5 1752.5 1457.0 1752.5 1458.5 1752.5 1460.0 1752.5 1461.5 1752.5 1463.0 1752.5 1464.5 1752.5 1466.0 1752.5 1467.5 1752.5 1469.0 1752.5 1470.5 1752.5 1472.0 1752.6 1473.5 1752.6 1475.0 1752.6 1476.5 1752.6 1478.0 1752.6 1479.5 1752.6 1481.0 1752.6 1482.5 1752.6 1484.0 1752.6 1485.5 1752.6 1487.0 1752.6 1488.5 1752.6 1490.0 1752.6 1491.5 1752.6 1493.0 1752.6 1494.5 1752.6 1496.0 1752.6 1497.5 1752.6 1499.0 1752.6 1500.5 1752.6 1502.0 1752.7 1503.5 1752.7 1505.0 1752.7 1506.5 1752.7 1508.0 1752.7 1509.5 1752.7 1511.0 1752.7 1512.5 1752.7 1514.0 1752.7 1515.5 1752.7 1517.0 1752.7 1518.5 1752.7 1520.0 1752.7 1521.5 1752.7 1523.0 1752.7 1524.5 1752.7 1526.0 1752.7 1527.5 1752.8 1529.0 1752.8 1530.5 1752.8 1532.0 1752.8 1533.5 1752.8 1535.0 1752.8 1536.5 1752.8 1538.0 1752.8 1539.6 1752.8 1541.1 1752.8 1542.6 1752.8 1544.1 1752.8 1545.6 1752.8 1547.1 1752.8 1548.6 1752.8 1550.1 1752.9 1551.6 1752.9 1553.1 1752.9 1554.6 1752.9 1556.1 1752.9 1557.6 1752.9 1559.1 1752.9 1560.6 1752.9 1562.1 1752.9 1563.6 1752.9 1565.1 1752.9 1566.6 1752.9 1568.1 1752.9 1569.6 1752.9 1571.1 1753.0 1572.6 1753.0 1574.1 1753.0 1575.6 1753.0 1577.1 1753.0 1578.6 1753.0 1580.1 1753.0 1581.6 1753.0 1583.1 1753.0" fill="none" stroke="#0000ff" stroke-width="6.8" stroke-linejoin="round"/>
<path clip-path="url(#cb)" d="M1891.7 781.6L1893.2 781.6 1894.7 781.5 1896.2 781.5 1897.7 781.5 1899.2 781.5 1900.7 781.5 1902.2 781.5 1903.7 781.4 1905.2 781.4 1906.7 781.4 1908.2 781.4 1909.7 781.4 1911.2 781.4 1912.7 781.4 1914.2 781.3 1915.7 781.3 1917.2 781.3 1918.7 781.3 1920.2 781.3 1921.7 781.3 1923.2 781.3 1924.7 781.2 1926.2 781.2 1927.7 781.2 1929.2 781.2 1930.7 781.2 1932.2 781.2 1933.7 781.2 1935.2 781.1 1936.7 781.1 1938.2 781.1 1939.7 781.1 1941.2 781.1 1942.7 781.1 1944.2 781.1 1945.7 781.0 1947.2 781.0 1948.7 781.0 1950.2 781.0 1951.7 781.0 1953.2 781.0 1954.7 781.0 1956.2 780.9 1957.7 780.9 1959.2 780.9 1960.7 780.9 1962.2 780.9 1963.7 780.9 1965.2 780.9 1966.7 780.9 1968.2 780.8 1969.7 780.8 1971.2 780.8 1972.7 780.8 1974.2 780.8 1975.7 780.8 1977.2 780.8 1978.7 780.8 1980.2 780.7 1981.7 780.7 1983.2 780.7 1984.7 780.7 1986.2 780.7 1987.7 780.7 1989.2 780.7 1990.7 780.7 1992.2 780.6 1993.7 780.6 1995.2 780.6 1996.7 780.6 1998.2 780.6 1999.7 780.6 2001.2 780.6 2002.7 780.6 2004.2 780.5 2005.8 780.5 2007.3 780.5 2008.8 780.5 2010.3 780.5 2011.8 780.5 2013.3 780.5 2014.8 780.5 2016.3 780.5 2017.8 780.4 2019.3 780.4 2020.8 780.4 2022.3 780.4 2023.8 780.4 2025.3 780.4 2026.8 780.4 2028.3 780.4 2029.8 780.4 2031.3 780.4 2032.8 780.3 2034.3 780.3 2035.8 780.3 2037.3 780.3 2038.8 780.3 2040.3 780.3 2041.8 780.3 2043.3 780.3 2044.8 780.3 2046.3 780.3 2047.8 780.3 2049.3 780.2 2050.8 780.2 2052.3 780.2 2053.8 780.2 2055.3 780.2 2056.8 780.2 2058.3 780.2 2059.8 780.2 2061.3 780.2 2062.8 780.2 2064.3 780.2 2065.8 780.2 2067.3 780.2 2068.8 780.2 2070.3 780.2 2071.8 780.1 2073.3 780.1 2074.8 780.1 2076.3 780.1 2077.8 780.1 2079.3 780.1 2080.8 780.1 2082.3 780.1 2083.8 780.1 2085.3 780.1 2086.8 780.1 2088.3 780.1 2089.8 780.1 2091.3 780.1 2092.8 780.1 2094.3 780.1 2095.8 780.1 2097.3 780.1 2098.8 780.1 2100.3 780.1 2101.8 780.1 2103.3 780.1 2104.8 780.1 2106.3 780.1 2107.8 780.1 2109.3 780.1 2110.8 780.1 2112.3 780.1 2113.8 780.1 2115.3 780.1 2116.8 780.1 2118.3 780.1 2119.8 780.1 2121.3 780.1 2122.8 780.1 2124.3 780.1 2125.8 780.1 2127.3 780.1 2128.8 780.1 2130.4 780.1 2131.9 780.1 2133.4 780.1 2134.9 780.1 2136.4 780.1 2137.9 780.1 2139.4 780.1 2140.9 780.1 2142.4 780.1 2143.9 780.1 2145.4 780.1 2146.9 780.1 2148.4 780.1 2149.9 780.1 2151.4 780.1 2152.9 780.1 2154.4 780.1 2155.9 780.2 2157.4 780.2 2158.9 780.2 2160.4 780.2 2161.9 780.2 2163.4 780.2 2164.9 780.2 2166.4 780.2 2167.9 780.2 2169.4 780.2 2170.9 780.3 2172.4 780.3 2173.9 780.3 2175.4 780.3 2176.9 780.3 2178.4 780.3 2179.9 780.3 2181.4 780.3 2182.9 780.4 2184.4 780.4 2185.9 780.4 2187.4 780.4 2188.9 780.4 2190.4 780.4 2191.9 780.5 2193.4 780.5 2194.9 780.5 2196.4 780.5 2197.9 780.5 2199.4 780.5 2200.9 780.6 2202.4 780.6 2203.9 780.6 2205.4 780.6 2206.9 780.6 2208.4 780.7 2209.9 780.7 2211.4 780.7 2212.9 780.7 2214.4 780.8 2215.9 780.8 2217.4 780.8 2218.9 780.8 2220.4 780.9 2221.9 780.9 2223.4 780.9 2224.9 781.0 2226.4 781.0 2227.9 781.0 2229.4 781.1 2230.9 781.1 2232.4 781.1 2233.9 781.2 2235.4 781.2 2236.9 781.2 2238.4 781.3 2239.9 781.3 2241.4 781.3 2242.9 781.4 2244.4 781.4 2245.9 781.5 2247.4 781.5 2248.9 781.5 2250.4 781.6 2251.9 781.6 2253.4 781.7 2254.9 781.7 2256.4 781.7 2257.9 781.8 2259.4 781.8 2260.9 781.9 2262.4 781.9 2263.9 782.0 2265.4 782.0 2266.9 782.1 2268.4 782.1 2269.9 782.1 2271.4 782.2 2272.9 782.2 2274.4 782.3 2275.9 782.3 2277.4 782.4 2278.9 782.4 2280.4 782.5 2281.9 782.5 2283.4 782.5 2285.0 782.6 2286.5 782.6 2288.0 782.7 2289.5 782.7 2291.0 782.7 2292.5 782.8 2294.0 782.8 2295.5 782.8 2297.0 782.9 2298.5 782.9 2300.0 782.9 2301.5 782.9 2303.0 782.9 2304.5 783.0 2306.0 783.0 2307.5 783.0 2309.0 783.0 2310.5 783.0 2312.0 783.0 2313.5 783.0 2315.0 783.0 2316.5 783.0 2318.0 782.9 2319.5 782.9 2321.0 782.9 2322.5 782.8 2324.0 782.8 2325.5 782.7 2327.0 782.7 2328.5 782.6 2330.0 782.5 2331.5 782.4 2333.0 782.3 2334.5 782.2 2336.0 782.0 2337.5 781.9 2338.9 781.7 2340.4 781.5 2341.9 781.3 2343.4 781.0 2344.9 780.7 2346.3 780.4 2347.8 780.1 2349.2 779.7 2350.7 779.2 2352.1 778.7 2353.4 778.1 2354.8 777.4 2356.1 776.6 2357.3 775.8 2358.5 774.9 2359.6 773.8 2360.6 772.7 2361.6 771.6 2362.4 770.4 2363.2 769.1 2364.0 767.8 2364.6 766.4 2365.2 765.0 2365.8 763.6 2366.3 762.2 2366.7 760.8 2367.2 759.4 2367.6 757.9 2368.0 756.5 2368.3 755.0 2368.7 753.5 2369.0 752.1 2369.3 750.6 2369.6 749.1 2369.9 747.7 2370.1 746.2 2370.4 744.7 2370.6 743.2 2370.9 741.7 2371.1 740.3 2371.4 738.8 2371.6 737.3 2371.8 735.8 2372.0 734.3 2372.2 732.8 2372.4 731.3 2372.6 729.9 2372.7 728.4 2372.9 726.9 2373.1 725.4 2373.2 723.9 2373.4 722.4 2373.5 720.9 2373.7 719.4 2373.8 717.9 2374.0 716.4 2374.1 714.9 2374.2 713.4 2374.3 711.9 2374.4 710.4 2374.6 708.9 2374.7 707.4 2374.8 705.9 2374.9 704.4 2375.0 702.9 2375.1 701.4 2375.1 699.9 2375.2 698.4 2375.3 697.0 2375.4 695.5 2375.5 694.0 2375.5 692.5 2375.6 691.0 2375.7 689.5 2375.8 688.0 2375.8 686.5 2375.9 685.0 2376.0 683.5 2376.0 682.0 2376.1 680.5 2376.2 679.0 2376.2 677.5 2376.3 676.0 2376.4 674.5 2376.4 673.0 2376.5 671.5 2376.6 670.0 2376.6 668.5 2376.7 667.0 2376.8 665.5 2376.8 664.0 2376.9 662.5 2377.0 661.0 2377.0 659.5 2377.1 658.0 2377.2 656.5 2377.3 655.0 2377.3 653.5 2377.4 652.0 2377.5 650.5 2377.6 649.0 2377.6 647.5 2377.7 646.0 2377.8 644.5 2377.9 643.0 2377.9 641.5 2378.0 640.0 2378.1 638.5 2378.2 637.0 2378.2 635.5 2378.3 634.0 2378.4 632.5 2378.5 631.0 2378.6 629.5 2378.6 628.0 2378.7 626.5 2378.8 625.0 2378.9 623.5 2378.9 622.0 2379.0 620.5 2379.1 619.0 2379.2 617.5 2379.3 616.0 2379.3 614.5 2379.4 613.0 2379.5 611.5 2379.6 610.0 2379.6 608.5 2379.7 607.0 2379.8 605.5 2379.9 604.0 2379.9 602.5 2380.0 601.0 2380.1 599.5 2380.2 598.0 2380.2 596.5 2380.3 595.0 2380.4 593.5 2380.5 592.0 2380.5 590.5 2380.6 589.0 2380.7 587.5 2380.8 586.0 2380.8 584.5 2380.9 583.0 2381.0 581.5 2381.1 580.0 2381.1 578.5 2381.2 577.0 2381.3 575.5 2381.4 574.0 2381.4 572.5 2381.5 571.0 2381.6 569.5 2381.7 568.0 2381.7 566.5 2381.8 565.0 2381.9 563.5 2382.0 562.0 2382.0 560.5 2382.1 559.0 2382.2 557.5 2382.3 556.0 2382.3 554.5 2382.4 553.0 2382.5 551.5 2382.6 550.0 2382.6 548.5 2382.7 547.0 2382.8 545.5 2382.9 544.0 2382.9 542.5 2383.0 541.0 2383.1 539.5 2383.2 538.0 2383.2 536.5 2383.3 535.0 2383.4 533.5 2383.5 532.0 2383.5 530.5 2383.6 529.0 2383.7 527.5 2383.8 526.0 2383.8 524.5 2383.9 523.0 2384.0 521.5 2384.1 520.0 2384.1 518.5 2384.2 517.0 2384.3 515.5 2384.4 514.0 2384.4 512.5 2384.5 511.0 2384.6 509.5 2384.7 508.0 2384.7 506.5 2384.8 505.0 2384.9 503.5 2384.9 502.0 2385.0 500.5 2385.1 499.0 2385.2 497.5 2385.2 496.0 2385.3 494.5 2385.4 493.0 2385.4 491.5 2385.5 490.0 2385.6 488.5 2385.7 487.0 2385.7 485.5 2385.8 484.0 2385.9 482.5 2385.9 481.0 2386.0 479.5 2386.1 478.0 2386.2 476.5 2386.2 475.0 2386.3 473.5 2386.4 472.0 2386.5 470.5 2386.5 469.0 2386.6 467.5 2386.7 466.0 2386.8 464.5 2386.8 463.0 2386.9 461.5 2387.0 460.0 2387.1 458.5 2387.2 457.0 2387.3 455.5 2387.3 454.1 2387.4 452.6 2387.5 451.1 2387.6 449.6 2387.7 448.1 2387.8 446.6 2387.9 445.1 2388.0 443.6 2388.1 442.1 2388.2 440.6 2388.3 439.1 2388.3 437.6 2388.4 436.1 2388.5 434.6 2388.6 433.1 2388.7 431.6 2388.7 430.1 2388.8 428.6 2388.9 427.1 2388.9 425.6 2389.0 424.1 2389.0 422.6 2389.1 421.1 2389.1 419.6 2389.2 418.1 2389.2 416.6 2389.3 415.1 2389.3 413.6 2389.4 412.1 2389.4 410.6 2389.4 409.1 2389.4 407.6 2389.5 406.1 2389.5 404.6 2389.5 403.1 2389.6 401.6 2389.6 400.1 2389.6 398.6 2389.6 397.1 2389.6 395.6 2389.7 394.1 2389.7 392.6 2389.7 391.1 2389.7 389.6 2389.7 388.1 2389.7 386.5 2389.8 385.0 2389.8 383.5 2389.8 382.0 2389.8 380.5 2389.8 379.0 2389.8 377.5 2389.8 376.0 2389.8 374.5 2389.8 373.0 2389.9 371.5 2389.9 370.0 2389.9 368.5 2389.9 367.0 2389.9 365.5 2389.9 364.0 2389.9 362.5 2389.9 361.0 2389.9 359.5 2389.9 358.0 2389.9 356.5 2389.9 355.0 2390.0 355.5 2390.0 357.0 2390.0 358.5 2390.0 360.0 2390.0 361.5 2390.0 363.0 2390.0 364.5 2390.0 366.0 2390.0 367.5 2390.0 369.0 2390.0 370.5 2390.0 372.0 2390.0 373.5 2390.0 375.0 2390.0 376.5 2390.0 378.0 2390.0 379.5 2390.0 381.0 2390.0 382.5 2390.0 384.0 2390.0 385.5 2390.0 387.0 2390.0 388.5 2390.0 390.0 2390.0 391.5 2390.0 393.0 2390.0 394.5 2390.0 396.0 2390.0 397.5 2390.0 399.0 2390.1 400.2 2390.1 398.7 2390.2 397.2 2390.2 395.7 2390.2 394.2 2390.2 392.7 2390.2 391.2 2390.2 389.7 2390.3 388.2 2390.3 386.7 2390.3 385.2 2390.3 383.7 2390.3 382.2 2390.3 380.7 2390.4 379.2 2390.4 377.7 2390.4 376.2 2390.4 374.7 2390.4 373.2 2390.4 371.7 2390.4 370.2 2390.5 368.7 2390.5 367.2 2390.5 365.7 2390.5 364.2 2390.5 362.7 2390.5 361.2 2390.5 359.7 2390.6 358.2 2390.6 356.7 2390.6 355.2 2390.6 353.7 2390.6 352.2 2390.6 350.7 2390.7 349.2 2390.7 347.7 2390.7 346.2 2390.7 344.7 2390.7 343.2 2390.7 341.6 2390.8 340.1 2390.8 338.6 2390.8 337.1 2390.8 335.6 2390.8 334.1 2390.8 332.6 2390.9 331.1 2390.9 329.6 2390.9 328.1 2390.9 326.6 2390.9 325.1 2391.0 323.6 2391.0 322.1 2391.0 320.6 2391.0 319.1 2391.0 317.6 2391.1 316.1 2391.1 314.6 2391.1 313.1 2391.1 311.6 2391.2 310.1 2391.2 308.6 2391.2 307.1 2391.2 305.6 2391.2 304.1 2391.3 302.6 2391.3 301.1 2391.3 299.6 2391.4 298.1 2391.4 296.6 2391.4 295.1 2391.5 293.6 2391.5 292.1 2391.5 290.6 2391.6 289.1 2391.6 287.6 2391.6 286.1 2391.7 284.6 2391.7 283.1 2391.7 281.6 2391.8 280.1 2391.8 278.6 2391.9 277.1 2391.9 275.6 2392.0 274.1 2392.0 272.6 2392.1 271.1 2392.1 269.6 2392.2 268.1 2392.3 266.6 2392.3 265.1 2392.4 263.6 2392.4 262.1 2392.5 260.6 2392.6 259.1 2392.7 257.6 2392.7 256.1 2392.8 254.6 2392.9 253.1 2392.9 251.6 2393.0 250.1 2393.1 248.6 2393.1 247.1 2393.2 245.6 2393.3 244.1 2393.4 242.6 2393.4 241.1 2393.5 239.6 2393.6 238.1 2393.6 236.6 2393.7 235.1 2393.7 233.6 2393.8 232.1 2393.9 230.6 2393.9 229.1 2394.0 227.6 2394.1 226.1 2394.1 224.6 2394.2 223.1 2394.2 221.6 2394.3 220.1 2394.3 218.6 2394.4 217.1 2394.5 215.6 2394.5 214.1 2394.6 212.6 2394.6 211.1 2394.7 209.6 2394.8 208.1 2394.8 206.6 2394.9 205.1 2394.9 203.6 2395.0 202.1 2395.0 200.6 2395.1 199.1 2395.2 197.6 2395.2 196.1 2395.3 194.6 2395.3 193.1 2395.4 191.6 2395.4 190.1 2395.5 188.6 2395.6 187.1 2395.6 185.6 2395.7 184.1 2395.7 182.6 2395.8 181.1 2395.8 179.6 2395.9 178.1 2396.0 176.6 2396.0 175.1 2396.1 173.6 2396.1 172.1 2396.2 170.6 2396.3 169.1 2396.3 167.6 2396.4 166.1 2396.5 164.6 2396.5 163.1 2396.6 161.6 2396.7 160.1 2396.8 158.6 2396.8 157.1 2396.9 155.6 2397.0 154.1 2397.1 152.6 2397.2 151.1 2397.2 149.6 2397.3 148.1 2397.4 146.6 2397.5 145.1 2397.6 143.6 2397.7 142.1 2397.8 140.6 2397.9 139.1 2398.0 137.6 2398.1 136.1 2398.2 134.6 2398.3 133.1 2398.5 131.6 2398.6 130.1 2398.7 128.7 2398.8 127.2 2398.9 125.7 2399.1 124.2 2399.2 122.7 2399.3 121.2 2399.5 119.7 2399.6 118.2 2399.7 116.7 2399.9 115.2 2400.0 113.7 2400.1 112.2 2400.2 110.7 2400.4 109.2 2400.5 107.7 2400.6 106.2 2400.7 104.7 2400.9 103.2 2401.0 101.7 2401.1 100.2 2401.2 98.7 2401.3 97.2 2401.4 95.7 2401.5 94.2 2401.6 92.7 2401.7 91.2 2401.8 89.7 2401.9 88.2 2402.0 86.7 2402.1 85.2 2402.1 83.7 2402.2 82.2 2402.3 80.7 2402.4 79.3 2402.4 77.8 2402.5 76.2 2402.5 74.7 2402.6 73.2 2402.6 71.7 2402.7 70.2 2402.7 68.7 2402.8 67.2 2402.8 65.7 2402.9 64.2 2402.9 62.7 2403.0 61.2 2403.1 59.7 2403.1 58.2 2403.2 56.7 2403.3 55.2 2403.3 53.7 2403.4 52.3 2403.5 50.8 2403.7 49.3 2403.8 47.8 2403.9 46.3 2404.1 44.8 2404.3 43.3 2404.5 41.8 2404.8 40.3 2405.2 38.9 2405.7 37.4 2406.3 36.1 2407.5 35.2 2408.9 35.7 2409.7 36.9 2410.3 38.3 2410.7 39.7 2411.0 41.2 2411.3 42.7 2411.5 44.2 2411.7 45.6 2411.9 47.1 2412.0 48.6 2412.1 50.1 2412.3 51.6 2412.4 53.1 2412.4 54.6 2412.5 56.1 2412.6 57.6 2412.7 59.1 2412.7 60.6 2412.8 62.1 2412.8 63.6 2412.9 65.1 2412.9 66.6 2413.0 68.1 2413.0 69.6 2413.1 71.1 2413.1 72.6 2413.2 74.1 2413.2 75.6 2413.2 77.1 2413.3 78.6 2413.3 80.1 2413.4 81.6 2413.4 83.1 2413.5 84.6 2413.5 86.1 2413.6 87.6 2413.6 89.1 2413.7 90.6 2413.7 92.1 2413.8 93.6 2413.9 95.1 2413.9 96.6 2414.0 98.1 2414.1 99.6 2414.2 101.1 2414.2 102.6 2414.3 104.1 2414.4 105.6 2414.5 107.1 2414.5 108.6 2414.6 110.1 2414.7 111.6 2414.8 113.1 2414.9 114.6 2415.0 116.1 2415.0 117.6 2415.1 119.1 2415.2 120.6 2415.3 122.1 2415.4 123.6 2415.5 125.1 2415.6 126.6 2415.7 128.1 2415.7 129.6 2415.8 131.1 2415.9 132.6 2416.0 134.1 2416.1 135.6 2416.2 137.1 2416.3 138.6 2416.4 140.1 2416.4 141.6 2416.5 143.1 2416.6 144.6 2416.7 146.1 2416.8 147.6 2416.9 149.1 2416.9 150.6 2417.0 152.1 2417.1 153.6 2417.2 155.1 2417.3 156.6 2417.3 158.1 2417.4 159.6 2417.5 161.1 2417.6 162.6 2417.6 164.1 2417.7 165.6 2417.8 167.1 2417.9 168.6 2417.9 170.1 2418.0 171.6 2418.1 173.1 2418.1 174.6 2418.2 176.1 2418.3 177.6 2418.4 179.1 2418.4 180.6 2418.5 182.1 2418.5 183.6 2418.6 185.1 2418.7 186.6 2418.7 188.1 2418.8 189.6 2418.9 191.1 2418.9 192.6 2419.0 194.1 2419.0 195.6 2419.1 197.1 2419.1 198.6 2419.2 200.1 2419.3 201.6 2419.3 203.1 2419.4 204.6 2419.4 206.1 2419.5 207.6 2419.5 209.1 2419.6 210.6 2419.6 212.1 2419.7 213.6 2419.7 215.1 2419.8 216.6 2419.8 218.1 2419.9 219.6 2419.9 221.1 2420.0 222.6 2420.0 224.1 2420.1 225.6 2420.1 227.1 2420.2 228.6 2420.2 230.1 2420.3 231.6 2420.3 233.1 2420.4 234.6 2420.4 236.1 2420.5 237.6 2420.5 239.1 2420.6 240.6 2420.6 242.1 2420.7 243.6 2420.7 245.1 2420.8 246.6 2420.9 248.1 2420.9 249.6 2421.0 251.1 2421.0 252.6 2421.1 254.1 2421.1 255.6 2421.2 257.1 2421.3 258.6 2421.3 260.1 2421.4 261.6 2421.4 263.1 2421.5 264.6 2421.6 266.1 2421.6 267.6 2421.7 269.1 2421.7 270.6 2421.8 272.1 2421.9 273.6 2421.9 275.1 2422.0 276.6 2422.1 278.1 2422.1 279.6 2422.2 281.1 2422.2 282.6 2422.3 284.1 2422.4 285.6 2422.4 287.1 2422.5 288.6 2422.5 290.1 2422.6 291.6 2422.7 293.1 2422.7 294.6 2422.8 296.1 2422.8 297.6 2422.9 299.1 2423.0 300.6 2423.0 302.1 2423.1 303.6 2423.1 305.1 2423.2 306.6 2423.2 308.1 2423.3 309.6 2423.4 311.1 2423.4 312.6 2423.5 314.1 2423.5 315.6 2423.6 317.1 2423.6 318.6 2423.6 320.1 2423.7 321.6 2423.7 323.1 2423.8 324.6 2423.8 326.1 2423.9 327.6 2423.9 329.1 2423.9 330.6 2424.0 332.1 2424.0 333.6 2424.0 335.1 2424.1 336.6 2424.1 338.1 2424.1 339.6 2424.2 341.1 2424.2 342.6 2424.2 344.1 2424.2 345.6 2424.2 347.1 2424.3 348.6 2424.3 350.1 2424.3 351.6 2424.3 353.1 2424.3 354.6 2424.3 356.1 2424.3 357.6 2424.3 359.1 2424.3 360.6 2424.3 362.1 2424.3 363.6 2424.3 365.1 2424.3 366.6 2424.3 368.1 2424.3 369.6 2424.3 371.1 2424.3 372.6 2424.3 374.1 2424.3 375.6 2424.3 377.1 2424.3 378.6 2424.3 380.1 2424.4 381.6 2424.4 383.1 2424.4 384.6 2424.4 386.1 2424.4 387.6 2424.4 389.1 2424.5 390.6 2424.5 392.1 2424.5 393.6 2424.6 395.1 2424.7 396.6 2424.7 398.1 2424.9 399.6 2425.0 401.1 2425.2 402.6 2425.4 404.1 2425.7 405.6 2425.9 407.1 2426.1 408.6 2426.3 410.1 2426.4 411.5 2426.5 413.0 2426.6 414.5 2426.6 416.0 2426.7 417.5 2426.8 419.0 2426.8 420.5 2426.9 422.0 2426.9 423.5 2426.9 425.0 2427.0 426.5 2427.0 428.0 2427.0 429.5 2427.1 431.0 2427.1 432.5 2427.1 434.1 2427.2 435.6 2427.2 437.1 2427.2 438.6 2427.2 440.1 2427.3 441.6 2427.3 443.1 2427.3 444.6 2427.4 446.1 2427.4 447.6 2427.4 449.1 2427.5 450.6 2427.5 452.1 2427.6 453.6 2427.6 455.1 2427.7 456.6 2427.7 458.1 2427.8 459.6 2427.8 461.1 2427.9 462.6 2428.0 464.1 2428.0 465.6 2428.1 467.1 2428.2 468.6 2428.2 470.1 2428.3 471.6 2428.4 473.1 2428.5 474.6 2428.5 476.1 2428.6 477.6 2428.7 479.1 2428.8 480.6 2428.9 482.1 2428.9 483.6 2429.0 485.1 2429.1 486.6 2429.2 488.0 2429.3 489.5 2429.4 491.0 2429.5 492.5 2429.5 494.0 2429.6 495.5 2429.7 497.0 2429.8 498.5 2429.9 500.0 2430.0 501.5 2430.0 503.0 2430.1 504.5 2430.2 506.0 2430.3 507.5 2430.3 509.0 2430.4 510.5 2430.5 512.0 2430.5 513.5 2430.6 515.0 2430.7 516.5 2430.7 518.0 2430.8 519.5 2430.9 521.0 2430.9 522.5 2431.0 524.0 2431.0 525.5 2431.1 527.0 2431.2 528.5 2431.2 530.0 2431.3 531.5 2431.3 533.0 2431.4 534.5 2431.4 536.0 2431.5 537.5 2431.6 539.0 2431.6 540.5 2431.7 542.0 2431.7 543.5 2431.8 545.0 2431.8 546.5 2431.9 548.0 2431.9 549.5 2432.0 551.0 2432.1 552.5 2432.1 554.0 2432.2 555.5 2432.2 557.0 2432.3 558.5 2432.4 560.0 2432.4 561.5 2432.5 563.0 2432.6 564.5 2432.6 566.0 2432.7 567.5 2432.8 569.0 2432.8 570.5 2432.9 572.0 2433.0 573.5 2433.0 575.0 2433.1 576.5 2433.2 578.0 2433.3 579.5 2433.3 581.0 2433.4 582.5 2433.5 584.0 2433.6 585.5 2433.6 587.0 2433.7 588.5 2433.8 590.0 2433.9 591.5 2433.9 593.0 2434.0 594.5 2434.1 596.0 2434.2 597.5 2434.3 599.0 2434.3 600.5 2434.4 602.0 2434.5 603.5 2434.6 605.0 2434.7 606.5 2434.7 608.0 2434.8 609.5 2434.9 611.0 2435.0 612.5 2435.1 614.0 2435.1 615.5 2435.2 617.0 2435.3 618.5 2435.4 620.0 2435.4 621.5 2435.5 623.0 2435.6 624.5 2435.7 626.0 2435.7 627.5 2435.8 629.0 2435.9 630.5 2436.0 632.0 2436.0 633.5 2436.1 635.0 2436.2 636.5 2436.3 638.0 2436.3 639.5 2436.4 641.0 2436.5 642.5 2436.6 644.0 2436.6 645.5 2436.7 647.0 2436.8 648.5 2436.9 650.0 2436.9 651.5 2437.0 653.0 2437.1 654.5 2437.2 656.0 2437.2 657.5 2437.3 659.0 2437.4 660.5 2437.5 662.0 2437.5 663.5 2437.6 665.0 2437.7 666.5 2437.8 668.0 2437.8 669.5 2437.9 671.0 2438.0 672.5 2438.1 674.0 2438.1 675.5 2438.2 677.0 2438.3 678.5 2438.4 680.0 2438.4 681.5 2438.5 683.0 2438.6 684.5 2438.7 686.0 2438.8 687.5 2438.9 689.0 2439.0 690.5 2439.1 692.0 2439.2 693.5 2439.3 695.0 2439.4 696.5 2439.5 698.0 2439.6 699.5 2439.7 701.0 2439.8 702.5 2439.9 704.0 2440.0 705.5 2440.1 706.9 2440.3 708.4 2440.4 709.9 2440.5 711.4 2440.7 712.9 2440.8 714.4 2440.9 715.9 2441.1 717.4 2441.2 718.9 2441.4 720.4 2441.6 721.9 2441.7 723.4 2441.9 724.9 2442.1 726.4 2442.2 727.9 2442.4 729.3 2442.6 730.8 2442.8 732.3 2443.0 733.8 2443.2 735.3 2443.4 736.8 2443.6 738.3 2443.9 739.8 2444.1 741.2 2444.3 742.7 2444.6 744.2 2444.8 745.7 2445.1 747.2 2445.3 748.6 2445.6 750.1 2445.9 751.6 2446.2 753.1 2446.5 754.5 2446.8 756.0 2447.2 757.5 2447.6 758.9 2448.0 760.3 2448.5 761.8 2449.0 763.2 2449.6 764.6 2450.2 765.9 2450.9 767.2 2451.7 768.5 2452.6 769.7 2453.5 770.9 2454.5 772.0 2455.6 773.1 2456.7 774.1 2457.9 775.0 2459.1 775.9 2460.4 776.7 2461.7 777.4 2463.0 778.1 2464.4 778.7 2465.8 779.3 2467.2 779.8 2468.6 780.2 2470.1 780.6 2471.5 781.0 2473.0 781.3 2474.5 781.6 2476.0 781.8 2477.4 782.1 2478.9 782.3 2480.4 782.5 2481.9 782.6 2483.4 782.8 2484.9 782.9 2486.4 783.0 2487.9 783.1 2489.4 783.2 2490.9 783.3 2492.4 783.4 2493.9 783.4 2495.4 783.5 2496.9 783.5 2498.4 783.6 2499.9 783.6 2501.4 783.6 2502.9 783.6 2504.4 783.6 2505.9 783.6 2507.4 783.6 2508.9 783.6 2510.4 783.6 2511.9 783.6 2513.4 783.6 2514.9 783.6 2516.4 783.5 2517.9 783.5 2519.4 783.5 2520.9 783.4 2522.4 783.4 2523.9 783.3 2525.4 783.3 2526.9 783.3 2528.4 783.2 2529.9 783.2 2531.4 783.1 2532.9 783.1 2534.4 783.0 2535.9 783.0 2537.4 782.9 2538.9 782.8 2540.4 782.8 2541.9 782.7 2543.4 782.7 2544.9 782.6 2546.4 782.6 2547.9 782.5 2549.4 782.4 2550.9 782.4 2552.4 782.3 2553.9 782.3 2555.4 782.2 2556.9 782.1 2558.4 782.1 2559.9 782.0 2561.4 782.0 2562.9 781.9 2564.4 781.9 2565.9 781.8 2567.4 781.7 2568.9 781.7 2570.4 781.6 2571.9 781.6 2573.4 781.5 2574.9 781.5 2576.4 781.4 2577.9 781.4 2579.4 781.3 2580.9 781.3 2582.4 781.2 2583.9 781.2 2585.4 781.1 2586.9 781.1 2588.4 781.0 2589.9 781.0 2591.4 781.0 2592.9 780.9 2594.4 780.9 2595.9 780.8 2597.4 780.8 2598.9 780.8 2600.4 780.7 2601.9 780.7 2603.4 780.6 2604.9 780.6 2606.4 780.6 2607.9 780.5 2609.4 780.5 2610.9 780.5 2612.4 780.5 2613.9 780.4 2615.4 780.4 2616.9 780.4 2618.4 780.3 2619.9 780.3 2621.4 780.3 2622.9 780.3 2624.4 780.2 2625.9 780.2 2627.4 780.2 2628.9 780.2 2630.4 780.1 2631.9 780.1 2633.4 780.1 2634.9 780.1 2636.4 780.0 2637.9 780.0 2639.4 780.0 2640.9 780.0 2642.4 780.0 2643.9 780.0 2645.4 779.9 2647.0 779.9 2648.5 779.9 2650.0 779.9 2651.5 779.9 2653.0 779.9 2654.5 779.8 2656.0 779.8 2657.5 779.8 2659.0 779.8 2660.5 779.8 2662.0 779.8 2663.5 779.8 2665.0 779.8 2666.5 779.7 2668.0 779.7 2669.5 779.7 2671.0 779.7 2672.5 779.7 2674.0 779.7 2675.5 779.7 2677.0 779.7 2678.5 779.7 2680.0 779.7 2681.5 779.7 2683.0 779.7 2684.5 779.6 2686.0 779.6 2687.5 779.6 2689.0 779.6 2690.5 779.6 2692.0 779.6 2693.5 779.6 2695.0 779.6 2696.5 779.6 2698.0 779.6 2699.5 779.6 2701.0 779.6 2702.5 779.6 2704.0 779.6 2705.5 779.6 2707.0 779.6 2708.5 779.6 2710.0 779.6 2711.5 779.6 2713.0 779.6 2714.5 779.6 2716.0 779.6 2717.5 779.6 2719.0 779.6 2720.5 779.6 2722.0 779.6 2723.5 779.6 2725.0 779.6 2726.5 779.6 2728.0 779.6 2729.5 779.6 2731.0 779.6 2732.5 779.6 2734.0 779.6 2735.5 779.6 2737.0 779.6 2738.5 779.7 2740.0 779.7 2741.5 779.7 2743.0 779.7 2744.5 779.7 2746.0 779.7 2747.5 779.7 2749.0 779.7 2750.5 779.7 2752.0 779.7 2753.5 779.7 2755.0 779.7 2756.5 779.7 2758.0 779.7 2759.5 779.7 2761.0 779.8 2762.5 779.8 2764.0 779.8 2765.5 779.8 2767.0 779.8 2768.5 779.8 2770.1 779.8 2771.6 779.8 2773.1 779.8 2774.6 779.8 2776.1 779.8 2777.6 779.9 2779.1 779.9 2780.6 779.9 2782.1 779.9 2783.6 779.9 2785.1 779.9 2786.6 779.9 2788.1 779.9 2789.6 779.9 2791.1 780.0 2792.6 780.0 2794.1 780.0 2795.6 780.0 2797.1 780.0 2798.6 780.0 2800.1 780.0 2801.6 780.0 2803.1 780.1 2804.6 780.1 2806.1 780.1 2807.6 780.1 2809.1 780.1 2810.6 780.1 2812.1 780.1 2813.6 780.2 2815.1 780.2 2816.6 780.2 2818.1 780.2 2819.6 780.2 2821.1 780.2 2822.6 780.2 2824.1 780.3 2825.6 780.3 2827.1 780.3 2828.6 780.3 2830.1 780.3 2831.6 780.3 2833.1 780.3 2834.6 780.4 2836.1 780.4 2837.6 780.4 2839.1 780.4 2840.6 780.4 2842.1 780.4 2843.6 780.5 2845.1 780.5 2846.6 780.5 2848.1 780.5 2849.6 780.5 2851.1 780.5 2852.6 780.6 2854.1 780.6 2855.6 780.6 2857.1 780.6 2858.6 780.6 2860.1 780.6 2861.6 780.7 2863.1 780.7 2864.6 780.7 2866.1 780.7 2867.6 780.7 2869.1 780.7 2870.6 780.8 2872.1 780.8 2873.6 780.8 2875.1 780.8 2876.6 780.8 2878.1 780.8 2879.6 780.9 2881.1 780.9 2882.6 780.9 2884.1 780.9 2885.6 780.9 2887.1 781.0 2888.6 781.0 2890.1 781.0 2891.6 781.0 2893.1 781.0 2894.6 781.0 2896.1 781.1 2897.6 781.1 2899.1 781.1 2900.7 781.1 2902.2 781.1 2903.7 781.2 2905.2 781.2 2906.7 781.2 2908.2 781.2 2909.7 781.2 2911.2 781.2 2912.7 781.3 2914.2 781.3 2915.7 781.3 2917.2 781.3 2918.7 781.3 2920.2 781.4 2921.7 781.4 2923.2 781.4 2924.7 781.4 2926.2 781.4 2927.7 781.5 2929.2 781.5 2930.7 781.5 2932.2 781.5 2933.7 781.5 2935.2 781.5 2936.7 781.6" fill="none" stroke="#000" stroke-width="6.8" stroke-dasharray="22 22"/>
<path clip-path="url(#cb)" d="M1916.8 765.0L1917.4 769.1 1918.0 765.0 1918.6 773.4 1919.2 767.5 1919.8 770.3 1920.4 764.2 1921.0 772.1 1921.6 769.4 1922.2 767.2 1922.8 766.9 1923.4 764.6 1924.0 766.1 1924.6 761.7 1925.2 768.5 1925.8 762.2 1926.4 764.1 1927.0 768.1 1927.6 765.0 1928.2 771.6 1928.8 764.2 1929.4 768.4 1930.0 763.7 1930.6 764.6 1931.2 767.3 1931.8 769.0 1932.4 768.7 1933.0 763.4 1933.6 760.6 1934.2 764.9 1934.8 767.8 1935.4 761.2 1936.0 770.5 1936.6 764.0 1937.2 770.5 1937.8 766.5 1938.4 773.4 1939.0 771.0 1939.6 770.8 1940.2 764.5 1940.8 768.3 1941.4 769.7 1942.0 771.3 1942.6 767.5 1943.2 766.0 1943.8 770.2 1944.4 769.3 1945.0 768.8 1945.6 771.6 1946.2 769.9 1946.8 767.5 1947.4 773.5 1948.0 766.6 1948.6 763.8 1949.2 766.7 1949.8 764.2 1950.4 770.1 1951.0 764.8 1951.6 768.3 1952.2 761.8 1952.8 766.7 1953.4 767.9 1954.0 768.1 1954.6 758.7 1955.2 759.1 1955.8 762.7 1956.4 762.5 1957.0 757.9 1957.6 763.4 1958.2 763.3 1958.8 764.6 1959.4 765.5 1960.0 760.3 1960.6 767.2 1961.2 768.1 1961.8 769.3 1962.4 770.1 1963.0 764.3 1963.6 768.8 1964.2 765.1 1964.8 774.6 1965.4 769.1 1966.0 767.8 1966.6 775.7 1967.2 768.8 1967.8 765.3 1968.4 773.2 1969.0 772.3 1969.6 769.8 1970.2 773.2 1970.8 765.5 1971.4 773.5 1972.0 769.2 1972.6 770.7 1973.2 767.9 1973.8 771.3 1974.4 762.8 1975.0 769.0 1975.6 763.6 1976.2 760.6 1976.8 761.8 1977.4 765.0 1978.0 764.1 1978.6 768.6 1979.2 770.8 1979.8 773.0 1980.4 767.9 1981.0 772.0 1981.6 768.0 1982.2 768.2 1982.8 768.5 1983.4 766.8 1984.0 772.7 1984.6 770.5 1985.2 768.6 1985.8 774.7 1986.4 768.2 1987.0 771.3 1987.6 771.5 1988.2 763.2 1988.8 766.3 1989.4 772.2 1990.0 763.1 1990.6 765.7 1991.2 769.1 1991.8 767.7 1992.4 768.5 1993.0 761.2 1993.6 762.4 1994.2 763.0 1994.8 771.8 1995.4 768.4 1996.0 766.6 1996.6 764.0 1997.2 765.6 1997.8 770.3 1998.4 770.3 1999.0 767.1 1999.6 765.6 2000.2 766.8 2000.8 767.1 2001.4 766.2 2002.0 771.2 2002.6 766.8 2003.2 769.1 2003.8 768.5 2004.4 769.0 2005.0 762.4 2005.6 768.2 2006.2 760.9 2006.8 766.5 2007.4 769.4 2008.0 771.0 2008.6 763.6 2009.2 765.5 2009.8 766.2 2010.4 766.2 2011.0 770.5 2011.6 771.2 2012.2 767.5 2012.8 763.3 2013.4 762.9 2014.0 764.7 2014.6 758.1 2015.2 763.1 2015.8 760.8 2016.4 765.9 2017.0 760.9 2017.6 757.9 2018.2 761.3 2018.8 757.4 2019.4 766.3 2020.0 760.6 2020.6 759.7 2021.2 764.8 2021.8 757.2 2022.3 757.2 2022.9 754.9 2023.5 756.7 2024.1 761.4 2024.7 760.3 2025.3 757.4 2025.9 757.0 2026.5 758.2 2027.1 757.3 2027.7 764.5 2028.3 767.4 2028.9 765.8 2029.5 764.0 2030.1 764.8 2030.7 760.7 2031.3 767.0 2031.9 764.0 2032.5 759.8 2033.1 759.4 2033.7 763.4 2034.3 763.6 2034.9 764.6 2035.5 767.9 2036.1 761.3 2036.7 767.2 2037.3 759.6 2037.9 766.3 2038.5 764.2 2039.1 761.6 2039.7 760.2 2040.3 768.9 2040.9 766.3 2041.5 767.2 2042.1 766.8 2042.7 766.7 2043.3 762.1 2043.9 764.6 2044.5 767.6 2045.1 757.4 2045.7 767.5 2046.3 759.6 2046.9 758.4 2047.5 761.2 2048.1 765.4 2048.7 764.4 2049.3 762.8 2049.9 763.1 2050.5 762.1 2051.1 769.3 2051.7 768.1 2052.3 770.3 2052.9 772.0 2053.5 765.3 2054.1 762.7 2054.7 764.1 2055.3 762.7 2055.9 762.4 2056.5 762.0 2057.1 767.9 2057.7 763.1 2058.3 763.3 2058.9 761.5 2059.5 766.4 2060.1 766.5 2060.7 758.4 2061.3 762.5 2061.9 765.8 2062.5 761.9 2063.1 764.8 2063.7 761.7 2064.3 765.0 2064.9 761.3 2065.5 764.6 2066.1 770.1 2066.7 765.6 2067.3 769.4 2067.9 766.8 2068.5 764.1 2069.1 761.3 2069.7 768.2 2070.3 761.5 2070.9 764.6 2071.5 765.8 2072.1 764.6 2072.7 759.4 2073.3 764.7 2073.9 768.2 2074.5 761.1 2075.1 757.7 2075.7 758.1 2076.3 766.4 2076.9 759.2 2077.5 765.9 2078.1 766.0 2078.7 765.5 2079.3 758.6 2079.9 760.1 2080.5 764.5 2081.1 764.9 2081.7 762.7 2082.3 758.4 2082.9 759.8 2083.5 764.2 2084.1 755.2 2084.7 761.7 2085.3 764.7 2085.9 761.8 2086.5 759.7 2087.1 765.7 2087.7 764.7 2088.3 761.4 2088.9 769.6 2089.5 766.5 2090.1 763.0 2090.7 767.5 2091.3 768.5 2091.9 765.4 2092.5 764.0 2093.1 764.8 2093.7 763.8 2094.3 764.5 2094.9 758.5 2095.5 768.4 2096.1 760.3 2096.7 759.9 2097.3 761.5 2097.9 764.4 2098.5 756.0 2099.1 756.1 2099.7 759.8 2100.3 764.5 2100.9 755.0 2101.5 765.3 2102.1 756.6 2102.7 761.2 2103.3 757.3 2103.9 765.0 2104.5 763.2 2105.1 759.0 2105.7 765.8 2106.3 764.5 2106.9 761.3 2107.5 760.3 2108.1 764.1 2108.7 768.3 2109.3 766.3 2109.9 757.0 2110.5 765.8 2111.1 763.1 2111.7 762.5 2112.3 759.8 2112.9 760.1 2113.5 758.9 2114.1 759.0 2114.7 756.4 2115.3 761.9 2115.9 764.4 2116.5 764.4 2117.1 760.4 2117.7 762.7 2118.3 755.1 2118.9 761.5 2119.5 764.5 2120.1 756.4 2120.7 756.0 2121.3 758.8 2121.9 756.7 2122.5 762.2 2123.1 759.4 2123.7 761.6 2124.3 754.5 2124.9 760.0 2125.4 754.7 2126.0 761.1 2126.6 762.2 2127.2 758.8 2127.8 761.6 2128.4 761.4 2129.0 753.9 2129.6 764.6 2130.2 759.8 2130.8 761.4 2131.4 759.7 2132.0 759.3 2132.6 763.4 2133.2 766.9 2133.8 768.5 2134.4 762.9 2135.0 765.2 2135.6 767.0 2136.2 764.0 2136.8 764.1 2137.4 763.5 2138.0 758.6 2138.6 757.4 2139.2 763.6 2139.8 758.8 2140.4 765.2 2141.0 759.9 2141.6 760.7 2142.2 760.3 2142.8 761.8 2143.4 758.0 2144.0 754.0 2144.6 756.5 2145.2 756.7 2145.8 754.8 2146.4 756.5 2147.0 755.2 2147.6 764.3 2148.2 757.2 2148.8 760.2 2149.4 763.8 2150.0 762.2 2150.6 752.1 2151.2 757.8 2151.8 759.2 2152.4 749.1 2153.0 757.8 2153.6 756.6 2154.2 748.3 2154.8 749.8 2155.4 750.1 2156.0 749.9 2156.6 750.7 2157.2 759.2 2157.8 751.7 2158.4 760.5 2159.0 756.4 2159.6 761.1 2160.2 761.7 2160.8 752.0 2161.4 759.5 2162.0 756.8 2162.6 760.9 2163.2 758.4 2163.8 761.6 2164.4 752.1 2165.0 755.9 2165.6 761.1 2166.1 753.7 2166.7 760.4 2167.3 758.0 2167.9 757.5 2168.5 758.6 2169.1 759.8 2169.7 753.3 2170.3 759.5 2170.9 754.8 2171.5 755.8 2172.1 751.4 2172.7 755.6 2173.3 750.6 2173.9 750.1 2174.5 752.8 2175.1 757.7 2175.7 754.4 2176.3 749.9 2176.9 745.9 2177.5 751.5 2178.1 755.8 2178.7 752.5 2179.3 753.2 2179.9 754.7 2180.4 750.3 2181.0 755.6 2181.6 754.5 2182.2 747.6 2182.8 749.9 2183.4 756.1 2184.0 747.4 2184.6 754.8 2185.2 753.7 2185.8 752.3 2186.4 751.3 2187.0 750.9 2187.6 751.2 2188.2 756.8 2188.8 752.6 2189.3 757.5 2189.9 753.7 2190.5 761.9 2191.1 752.9 2191.7 758.4 2192.3 753.7 2192.9 763.2 2193.5 758.9 2194.1 757.4 2194.7 758.3 2195.3 755.2 2195.8 753.8 2196.4 761.1 2197.0 750.9 2197.6 753.3 2198.2 750.7 2198.8 756.7 2199.4 752.9 2200.0 749.2 2200.6 748.8 2201.1 751.5 2201.7 752.2 2202.3 752.1 2202.9 755.0 2203.5 751.1 2204.1 755.4 2204.7 749.6 2205.2 747.0 2205.8 753.8 2206.4 750.9 2207.0 755.4 2207.6 754.4 2208.2 745.3 2208.7 751.1 2209.3 754.9 2209.9 747.7 2210.5 752.8 2211.1 751.5 2211.7 754.2 2212.2 747.1 2212.8 752.1 2213.4 745.7 2214.0 747.6 2214.6 748.4 2215.1 754.2 2215.7 749.4 2216.3 753.2 2216.9 748.4 2217.5 745.4 2218.0 745.5 2218.6 751.7 2219.2 744.5 2219.8 741.5 2220.3 740.9 2220.9 740.2 2221.5 747.4 2222.1 742.7 2222.6 748.2 2223.2 745.0 2223.8 740.7 2224.4 737.4 2224.9 742.3 2225.5 738.5 2226.1 738.5 2226.7 745.8 2227.2 740.8 2227.8 738.1 2228.4 746.6 2229.0 739.0 2229.5 745.9 2230.1 745.8 2230.7 741.0 2231.2 736.6 2231.8 745.7 2232.4 745.5 2232.9 744.6 2233.5 745.4 2234.1 742.3 2234.7 744.0 2235.2 738.8 2235.8 745.0 2236.4 743.6 2236.9 745.3 2237.5 738.7 2238.1 736.4 2238.6 740.4 2239.2 737.2 2239.8 736.2 2240.3 737.2 2240.9 733.9 2241.5 739.5 2242.0 738.2 2242.6 737.6 2243.2 744.6 2243.7 735.7 2244.3 739.6 2244.9 738.7 2245.4 743.9 2246.0 744.2 2246.6 737.6 2247.1 743.1 2247.7 736.2 2248.3 741.1 2248.9 738.9 2249.4 741.5 2250.0 739.7 2250.6 734.6 2251.1 735.4 2251.7 727.9 2252.3 735.0 2252.8 736.5 2253.4 730.8 2254.0 728.4 2254.6 735.7 2255.1 734.2 2255.7 731.7 2256.3 734.1 2256.9 738.5 2257.4 731.3 2258.0 736.7 2258.6 735.5 2259.1 733.9 2259.7 735.3 2260.3 730.6 2260.9 740.2 2261.4 730.4 2262.0 731.7 2262.6 732.4 2263.2 729.6 2263.7 726.5 2264.3 733.2 2264.9 735.3 2265.5 730.5 2266.0 734.8 2266.6 730.3 2267.2 725.9 2267.7 732.0 2268.3 728.3 2268.9 732.1 2269.4 728.1 2270.0 730.5 2270.5 729.5 2271.1 724.2 2271.7 725.5 2272.2 731.5 2272.8 733.1 2273.3 730.5 2273.9 732.9 2274.4 723.9 2275.0 730.3 2275.5 730.7 2276.0 727.9 2276.6 729.3 2277.1 725.1 2277.7 726.4 2278.2 731.3 2278.7 732.2 2279.3 724.5 2279.8 727.8 2280.3 730.3 2280.9 728.6 2281.4 727.7 2281.9 722.0 2282.5 735.0 2283.0 732.0 2283.5 722.5 2284.0 726.1 2284.6 723.0 2285.1 728.3 2285.6 725.8 2286.2 720.7 2286.7 722.3 2287.2 726.0 2287.8 717.3 2288.3 717.9 2288.8 720.2 2289.4 715.0 2289.9 717.6 2290.5 712.8 2291.0 716.0 2291.5 713.9 2292.1 712.1 2292.6 721.2 2293.2 711.2 2293.7 711.7 2294.3 721.4 2294.9 711.9 2295.4 714.7 2296.0 720.5 2296.5 714.8 2297.1 721.0 2297.7 721.8 2298.2 720.6 2298.8 719.5 2299.4 716.1 2299.9 719.1 2300.5 722.5 2301.1 716.8 2301.7 721.1 2302.2 720.3 2302.8 717.0 2303.4 724.3 2304.0 716.3 2304.6 721.3 2305.2 721.6 2305.7 721.3 2306.3 720.5 2306.9 712.5 2307.5 717.3 2308.1 713.9 2308.7 715.8 2309.3 714.8 2309.9 722.9 2310.4 716.4 2311.0 711.2 2311.6 714.6 2312.2 716.8 2312.8 716.5 2313.4 716.6 2314.0 717.6 2314.6 715.7 2315.2 711.9 2315.7 710.2 2316.3 714.3 2316.9 711.3 2317.5 716.4 2318.1 716.7 2318.7 714.3 2319.3 712.7 2319.9 710.0 2320.4 711.1 2321.0 718.4 2321.6 714.2 2322.2 711.2 2322.8 708.7 2323.4 717.8 2323.9 715.5 2324.5 712.9 2325.1 713.6 2325.7 716.2 2326.2 717.8 2326.8 718.6 2327.4 717.4 2327.9 717.7 2328.5 717.1 2329.0 715.7 2329.5 713.9 2330.1 714.7 2330.6 719.3 2331.1 711.5 2331.5 709.9 2332.0 710.0 2332.4 709.1 2332.9 713.6 2333.3 712.9 2333.6 707.1 2334.0 714.2 2334.3 714.2 2334.6 708.2 2334.8 708.0 2335.1 705.2 2335.3 713.0 2335.5 707.1 2335.7 710.5 2335.9 702.2 2336.1 708.5 2336.3 704.0 2336.5 697.9 2336.6 703.4 2336.8 702.6 2336.9 698.7 2337.1 694.0 2337.2 696.7 2337.4 689.2 2337.6 688.0 2337.7 693.8 2337.9 690.8 2338.1 694.3 2338.3 688.0 2338.5 690.9 2338.7 685.5 2339.0 688.0 2339.2 689.2 2339.5 689.5 2339.9 687.4 2340.2 686.9 2340.6 682.7 2341.0 682.3 2341.4 684.1 2341.8 685.7 2342.2 683.4 2342.7 686.1 2343.1 681.7 2343.5 684.2 2343.8 684.4 2344.2 684.3 2344.5 680.7 2344.8 678.8 2345.0 682.0 2345.2 681.1 2345.4 678.5 2345.6 676.3 2345.8 676.3 2345.9 674.9 2346.0 677.7 2346.1 677.4 2346.2 671.1 2346.3 673.2 2346.4 671.7 2346.5 674.5 2346.5 672.9 2346.6 672.3 2346.6 678.7 2346.7 681.4 2346.7 677.5 2346.8 677.0 2346.8 676.6 2346.9 674.4 2346.9 673.8 2347.0 677.4 2347.0 673.3 2347.1 672.7 2347.1 672.3 2347.2 672.8 2347.2 669.6 2347.3 668.5 2347.3 664.9 2347.4 666.9 2347.4 664.4 2347.5 663.6 2347.5 664.6 2347.6 662.7 2347.7 660.1 2347.7 662.0 2347.8 660.2 2347.9 663.7 2347.9 663.8 2348.0 662.1 2348.0 662.1 2348.1 662.2 2348.2 659.6 2348.3 658.9 2348.3 657.0 2348.4 656.6 2348.5 659.5 2348.5 654.9 2348.6 657.7 2348.7 653.7 2348.8 653.3 2348.8 654.4 2348.9 655.4 2349.0 650.6 2349.1 649.6 2349.1 648.6 2349.2 647.4 2349.3 647.5 2349.4 647.8 2349.5 649.1 2349.5 647.8 2349.6 646.4 2349.7 645.6 2349.8 642.5 2349.9 642.8 2350.0 641.9 2350.0 642.3 2350.1 641.5 2350.2 639.8 2350.3 638.8 2350.4 637.1 2350.5 638.5 2350.6 638.2 2350.6 637.7 2350.7 637.4 2350.8 639.0 2350.9 638.0 2351.0 636.9 2351.1 637.5 2351.2 635.9 2351.3 636.1 2351.3 636.1 2351.4 634.2 2351.5 635.8 2351.6 633.7 2351.7 636.0 2351.8 633.7 2351.9 632.6 2352.0 633.5 2352.1 631.3 2352.2 629.0 2352.3 630.4 2352.3 629.7 2352.4 630.6 2352.5 629.7 2352.6 626.8 2352.7 626.8 2352.8 624.3 2352.9 624.0 2353.0 622.8 2353.1 623.5 2353.2 620.6 2353.3 620.8 2353.4 621.2 2353.4 619.6 2353.5 619.0 2353.6 620.9 2353.7 618.5 2353.8 617.9 2353.9 617.2 2354.0 617.1 2354.1 616.4 2354.2 616.7 2354.3 616.6 2354.3 615.7 2354.4 615.1 2354.5 614.5 2354.6 613.7 2354.7 614.3 2354.8 613.0 2354.8 612.3 2354.9 612.3 2355.0 611.4 2355.1 610.0 2355.2 609.5 2355.3 608.2 2355.3 608.3 2355.4 607.8 2355.5 606.9 2355.6 606.0 2355.7 605.6 2355.7 605.0 2355.8 604.5 2355.9 603.9 2356.0 603.3 2356.0 602.8 2356.1 602.2 2356.2 601.6 2356.3 601.0 2356.3 600.4 2356.4 599.8 2356.5 599.2 2356.6 598.6 2356.6 598.0 2356.7 597.4 2356.8 596.8 2356.9 596.2 2356.9 595.6 2357.0 595.0 2357.1 594.4 2357.1 593.8 2357.2 593.2 2357.3 592.6 2357.4 592.0 2357.4 591.4 2357.5 590.8 2357.6 590.2 2357.6 589.6 2357.7 589.0 2357.8 588.5 2357.8 587.9 2357.9 587.3 2358.0 586.7 2358.0 586.1 2358.1 585.5 2358.2 584.9 2358.2 584.3 2358.3 583.7 2358.4 583.1 2358.4 582.5 2358.5 581.9 2358.6 581.3 2358.6 580.7 2358.7 580.1 2358.7 579.5 2358.8 578.9 2358.9 578.3 2358.9 577.7 2359.0 577.1 2359.1 576.5 2359.1 575.9 2359.2 575.3 2359.2 574.7 2359.3 574.1 2359.4 573.5 2359.4 572.9 2359.5 572.3 2359.5 571.7 2359.6 571.1 2359.7 570.5 2359.7 569.9 2359.8 569.3 2359.8 568.8 2359.9 568.2 2359.9 567.6 2360.0 567.0 2360.1 566.4 2360.1 565.8 2360.2 565.2 2360.2 564.6 2360.3 564.0 2360.3 563.4 2360.4 562.8 2360.5 562.2 2360.5 561.6 2360.6 561.0 2360.6 560.4 2360.7 559.8 2360.7 559.2 2360.8 558.6 2360.8 558.0 2360.9 557.4 2360.9 556.8 2361.0 556.2 2361.0 555.6 2361.1 555.0 2361.1 554.4 2361.2 553.8 2361.2 553.2 2361.3 552.6 2361.3 552.0 2361.4 551.4 2361.4 550.8 2361.5 550.2 2361.5 549.6 2361.6 549.0 2361.6 548.4 2361.7 547.8 2361.7 547.2 2361.8 546.6 2361.8 546.0 2361.9 545.4 2361.9 544.8 2362.0 544.2 2362.0 543.6 2362.0 543.0 2362.1 542.4 2362.1 541.8 2362.2 541.2 2362.2 540.6 2362.3 540.0 2362.3 539.4 2362.4 538.8 2362.4 538.2 2362.5 537.6 2362.5 537.0 2362.5 536.5 2362.6 535.9 2362.6 535.3 2362.7 534.7 2362.7 534.1 2362.8 533.5 2362.8 532.9 2362.8 532.3 2362.9 531.7 2362.9 531.1 2363.0 530.5 2363.0 529.9 2363.1 529.3 2363.1 528.7 2363.1 528.1 2363.2 527.5 2363.2 526.9 2363.3 526.3 2363.3 525.7 2363.4 525.1 2363.4 524.5 2363.4 523.9 2363.5 523.3 2363.5 522.7 2363.6 522.1 2363.6 521.5 2363.6 520.9 2363.7 520.3 2363.7 519.7 2363.8 519.1 2363.8 518.5 2363.9 517.9 2363.9 517.3 2363.9 516.7 2364.0 516.1 2364.0 515.5 2364.1 514.9 2364.1 514.3 2364.1 513.7 2364.2 513.1 2364.2 512.5 2364.3 511.9 2364.3 511.3 2364.4 510.7 2364.4 510.1 2364.4 509.5 2364.5 508.9 2364.5 508.3 2364.6 507.7 2364.6 507.1 2364.6 506.5 2364.7 505.9 2364.7 505.3 2364.8 504.7 2364.8 504.1 2364.9 503.5 2364.9 502.9 2364.9 502.3 2365.0 501.7 2365.0 501.1 2365.1 500.5 2365.1 499.9 2365.2 499.3 2365.2 498.7 2365.2 498.1 2365.3 497.5 2365.3 496.9 2365.4 496.3 2365.4 495.7 2365.5 495.1 2365.5 494.5 2365.6 493.9 2365.6 493.3 2365.6 492.7 2365.7 492.1 2365.7 491.5 2365.8 490.9 2365.8 490.3 2365.9 489.7 2365.9 489.1 2365.9 488.6 2366.0 488.0 2366.0 487.4 2366.1 486.8 2366.1 486.2 2366.2 485.6 2366.2 485.0 2366.3 484.4 2366.3 483.8 2366.3 483.2 2366.4 482.6 2366.4 482.0 2366.5 481.4 2366.5 480.8 2366.6 480.2 2366.6 479.6 2366.7 479.0 2366.7 478.4 2366.8 477.8 2366.8 477.2 2366.8 476.6 2366.9 476.0 2366.9 475.4 2367.0 474.8 2367.0 474.2 2367.1 473.6 2367.1 473.0 2367.2 472.4 2367.2 471.8 2367.3 471.2 2367.3 470.6 2367.3 470.0 2367.4 469.4 2367.4 468.8 2367.5 468.2 2367.5 467.6 2367.6 467.0 2367.6 466.4 2367.7 465.8 2367.7 465.2 2367.8 464.6 2367.8 464.0 2367.9 463.4 2367.9 462.8 2367.9 462.2 2368.0 461.6 2368.0 461.0 2368.1 460.4 2368.1 459.8 2368.2 459.2 2368.2 458.6 2368.3 458.0 2368.3 457.4 2368.4 456.8 2368.4 456.2 2368.5 455.6 2368.5 455.0 2368.6 454.4 2368.6 453.8 2368.6 453.2 2368.7 452.6 2368.7 452.0 2368.8 451.4 2368.8 450.8 2368.9 450.2 2368.9 449.6 2369.0 449.0 2369.0 448.5 2369.1 447.9 2369.1 447.3 2369.2 446.7 2369.2 446.1 2369.3 445.5 2369.3 444.9 2369.3 444.3 2369.4 443.7 2369.4 443.1 2369.5 442.5 2369.5 441.9 2369.6 441.3 2369.6 440.7 2369.7 440.1 2369.7 439.5 2369.8 438.9 2369.8 438.3 2369.9 437.7 2369.9 437.1 2369.9 436.5 2370.0 435.9 2370.0 435.3 2370.1 434.7 2370.1 434.1 2370.2 433.5 2370.2 432.9 2370.3 432.3 2370.3 431.7 2370.4 431.1 2370.4 430.5 2370.5 429.9 2370.5 429.3 2370.5 428.7 2370.6 428.1 2370.6 427.5 2370.7 426.9 2370.7 426.3 2370.8 425.7 2370.8 425.1 2370.9 424.5 2370.9 423.9 2371.0 423.3 2371.0 422.7 2371.0 422.1 2371.1 421.5 2371.1 420.9 2371.2 420.3 2371.2 419.7 2371.3 419.1 2371.3 418.5 2371.4 417.9 2371.4 417.3 2371.4 416.7 2371.5 416.1 2371.5 415.5 2371.6 414.9 2371.6 414.3 2371.7 413.7 2371.7 413.1 2371.8 412.5 2371.8 411.9 2371.8 411.3 2371.9 410.7 2371.9 410.1 2372.0 409.5 2372.0 408.9 2372.1 408.3 2372.1 407.7 2372.1 407.2 2372.2 406.6 2372.2 406.0 2372.3 405.4 2372.3 404.8 2372.4 404.2 2372.4 403.6 2372.4 403.0 2372.5 402.4 2372.5 401.8 2372.6 401.2 2372.6 400.6 2372.6 400.0 2372.7 399.4 2372.7 398.8 2372.8 398.2 2372.8 397.6 2372.8 397.0 2372.9 396.4 2372.9 395.8 2373.0 395.2 2373.0 394.6 2373.0 394.0 2373.1 393.4 2373.1 392.8 2373.2 392.2 2373.2 391.6 2373.2 391.0 2373.3 390.4 2373.3 389.8 2373.3 389.2 2373.4 388.6 2373.4 388.0 2373.5 387.4 2373.5 386.8 2373.5 386.2 2373.6 385.6 2373.6 385.0 2373.6 384.4 2373.7 383.8 2373.7 383.2 2373.7 382.6 2373.8 382.0 2373.8 381.4 2373.9 380.8 2373.9 380.2 2373.9 379.6 2374.0 379.0 2374.0 378.4 2374.0 377.8 2374.1 377.2 2374.1 376.6 2374.1 376.0 2374.2 375.4 2374.2 374.8 2374.2 374.2 2374.3 373.6 2374.3 373.0 2374.4 372.4 2374.4 371.8 2374.4 371.2 2374.5 370.6 2374.5 370.0 2374.5 369.4 2374.6 368.8 2374.6 368.2 2374.6 367.6 2374.7 367.0 2374.7 366.4 2374.7 365.8 2374.8 365.2 2374.8 364.6 2374.8 364.0 2374.9 363.4 2374.9 362.8 2374.9 362.2 2375.0 361.6 2375.0 361.0 2375.1 360.4 2375.1 359.8 2375.1 359.2 2375.2 358.6 2375.2 358.0 2375.2 357.4 2375.3 356.8 2375.3 356.2 2375.3 355.6 2375.4 355.0 2375.4 354.4 2375.4 353.8 2375.5 353.2 2375.5 352.6 2375.6 352.0 2375.6 351.4 2375.6 350.8 2375.7 350.2 2375.7 349.6 2375.7 349.0 2375.8 348.4 2375.8 347.8 2375.8 347.2 2375.9 346.6 2375.9 346.0 2376.0 345.4 2376.0 344.8 2376.0 344.2 2376.1 343.6 2376.1 343.0 2376.1 342.4 2376.2 341.8 2376.2 341.2 2376.2 340.6 2376.3 340.0 2376.3 339.5 2376.4 338.9 2376.4 338.3 2376.4 337.7 2376.5 337.1 2376.5 336.5 2376.5 335.9 2376.6 335.3 2376.6 334.7 2376.7 334.1 2376.7 333.5 2376.7 332.9 2376.8 332.3 2376.8 331.7 2376.9 331.1 2376.9 330.5 2376.9 329.9 2377.0 329.3 2377.0 328.7 2377.0 328.1 2377.1 327.5 2377.1 326.9 2377.2 326.3 2377.2 325.7 2377.2 325.1 2377.3 324.5 2377.3 323.9 2377.4 323.3 2377.4 322.7 2377.4 322.1 2377.5 321.5 2377.5 320.9 2377.6 320.3 2377.6 319.7 2377.6 319.1 2377.7 318.5 2377.7 317.9 2377.8 317.3 2377.8 316.7 2377.8 316.1 2377.9 315.5 2377.9 314.9 2378.0 314.3 2378.0 313.7 2378.0 313.1 2378.1 312.5 2378.1 311.9 2378.2 311.3 2378.2 310.7 2378.2 310.1 2378.3 309.5 2378.3 308.9 2378.4 308.3 2378.4 307.7 2378.4 307.1 2378.5 306.5 2378.5 305.9 2378.6 305.3 2378.6 304.7 2378.7 304.1 2378.7 303.5 2378.7 302.9 2378.8 302.3 2378.8 301.7 2378.9 301.1 2378.9 300.5 2379.0 299.9 2379.0 299.3 2379.0 298.7 2379.1 298.1 2379.1 297.5 2379.2 296.9 2379.2 296.3 2379.3 295.7 2379.3 295.1 2379.3 294.5 2379.4 293.9 2379.4 293.3 2379.5 292.7 2379.5 292.1 2379.6 291.5 2379.6 290.9 2379.6 290.3 2379.7 289.7 2379.7 289.1 2379.8 288.5 2379.8 287.9 2379.9 287.3 2379.9 286.7 2379.9 286.2 2380.0 285.6 2380.0 285.0 2380.1 284.4 2380.1 283.8 2380.2 283.2 2380.2 282.6 2380.3 282.0 2380.3 281.4 2380.3 280.8 2380.4 280.2 2380.4 279.6 2380.5 279.0 2380.5 278.4 2380.6 277.8 2380.6 277.2 2380.7 276.6 2380.7 276.0 2380.8 275.4 2380.8 274.8 2380.8 274.2 2380.9 273.6 2380.9 273.0 2381.0 272.4 2381.0 271.8 2381.1 271.2 2381.1 270.6 2381.2 270.0 2381.2 269.4 2381.2 268.8 2381.3 268.2 2381.3 267.6 2381.4 267.0 2381.4 266.4 2381.5 265.8 2381.5 265.2 2381.6 264.6 2381.6 264.0 2381.7 263.4 2381.7 262.8 2381.8 262.2 2381.8 261.6 2381.8 261.0 2381.9 260.4 2381.9 259.8 2382.0 259.2 2382.0 258.6 2382.1 258.0 2382.1 257.4 2382.2 256.8 2382.2 256.2 2382.3 255.6 2382.3 255.0 2382.3 254.4 2382.4 253.8 2382.4 253.2 2382.5 252.6 2382.5 252.0 2382.6 251.4 2382.6 250.8 2382.7 250.2 2382.7 249.6 2382.8 249.0 2382.8 248.4 2382.9 247.8 2382.9 247.2 2382.9 246.6 2383.0 246.0 2383.0 245.4 2383.1 244.9 2383.1 244.3 2383.2 243.7 2383.2 243.1 2383.3 242.5 2383.3 241.9 2383.4 241.3 2383.4 240.7 2383.4 240.1 2383.5 239.5 2383.5 238.9 2383.6 238.3 2383.6 237.7 2383.7 237.1 2383.7 236.5 2383.8 235.9 2383.8 235.3 2383.9 234.7 2383.9 234.1 2384.0 233.5 2384.0 232.9 2384.0 232.3 2384.1 231.7 2384.1 231.1 2384.2 230.5 2384.2 229.9 2384.3 229.3 2384.3 228.7 2384.4 228.1 2384.4 227.5 2384.4 226.9 2384.5 226.3 2384.5 225.7 2384.6 225.1 2384.6 224.5 2384.7 223.9 2384.7 223.3 2384.8 222.7 2384.8 222.1 2384.9 221.5 2384.9 220.9 2384.9 220.3 2385.0 219.7 2385.0 219.1 2385.1 218.5 2385.1 217.9 2385.2 217.3 2385.2 216.7 2385.3 216.1 2385.3 215.5 2385.4 214.9 2385.4 214.3 2385.4 213.7 2385.5 213.1 2385.5 212.5 2385.6 211.9 2385.6 211.3 2385.7 210.7 2385.7 210.1 2385.8 209.5 2385.8 208.9 2385.8 208.3 2385.9 207.7 2385.9 207.1 2386.0 206.5 2386.0 205.9 2386.1 205.3 2386.1 204.7 2386.2 204.1 2386.2 203.6 2386.2 203.0 2386.3 202.4 2386.3 201.8 2386.4 201.2 2386.4 200.6 2386.5 200.0 2386.5 199.4 2386.6 198.8 2386.6 198.2 2386.6 197.6 2386.7 197.0 2386.7 196.4 2386.8 195.8 2386.8 195.2 2386.9 194.6 2386.9 194.0 2386.9 193.4 2387.0 192.8 2387.0 192.2 2387.1 191.6 2387.1 191.0 2387.2 190.4 2387.2 189.8 2387.3 189.2 2387.3 188.6 2387.3 188.0 2387.4 187.4 2387.4 186.8 2387.5 186.2 2387.5 185.6 2387.6 185.0 2387.6 184.4 2387.6 183.8 2387.7 183.2 2387.7 182.6 2387.8 182.0 2387.8 181.4 2387.9 180.8 2387.9 180.2 2388.0 179.6 2388.0 179.0 2388.0 178.4 2388.1 177.8 2388.1 177.2 2388.2 176.6 2388.2 176.0 2388.3 175.4 2388.3 174.8 2388.3 174.2 2388.4 173.6 2388.4 173.0 2388.5 172.4 2388.5 171.8 2388.6 171.2 2388.6 170.6 2388.7 170.0 2388.7 169.4 2388.7 168.8 2388.8 168.2 2388.8 167.6 2388.9 167.0 2388.9 166.4 2389.0 165.8 2389.0 165.2 2389.0 164.6 2389.1 164.0 2389.1 163.4 2389.2 162.8 2389.2 162.2 2389.3 161.6 2389.3 161.0 2389.4 160.4 2389.4 159.8 2389.4 159.2 2389.5 158.7 2389.5 158.1 2389.6 157.5 2389.6 156.9 2389.7 156.3 2389.7 155.7 2389.8 155.1 2389.8 154.5 2389.8 153.9 2389.9 153.3 2389.9 152.7 2390.0 152.1 2390.0 151.5 2390.1 150.9 2390.1 150.3 2390.2 149.7 2390.2 149.1 2390.3 148.5 2390.3 147.9 2390.3 147.3 2390.4 146.7 2390.4 146.1 2390.5 145.5 2390.5 144.9 2390.6 144.3 2390.6 143.7 2390.7 143.1 2390.7 142.5 2390.8 141.9 2390.8 141.3 2390.9 140.7 2390.9 140.1 2391.0 139.5 2391.0 138.9 2391.1 138.3 2391.1 137.7 2391.2 137.1 2391.2 136.5 2391.2 135.9 2391.3 135.3 2391.3 134.7 2391.4 134.1 2391.4 133.5 2391.5 132.9 2391.5 132.3 2391.6 131.7 2391.6 131.1 2391.7 130.5 2391.7 129.9 2391.8 129.3 2391.8 128.7 2391.9 128.1 2391.9 127.5 2392.0 126.9 2392.0 126.3 2392.1 125.7 2392.2 125.1 2392.2 124.5 2392.3 123.9 2392.3 123.3 2392.4 122.8 2392.4 122.2 2392.5 121.6 2392.5 121.0 2392.6 120.4 2392.6 119.8 2392.7 119.2 2392.7 118.6 2392.8 118.0 2392.9 117.4 2392.9 116.8 2393.0 116.2 2393.0 115.6 2393.1 115.0 2393.1 114.4 2393.2 113.8 2393.3 113.2 2393.3 112.6 2393.4 112.0 2393.4 111.4 2393.5 110.8 2393.6 110.2 2393.6 109.6 2393.7 109.0 2393.7 108.4 2393.8 107.8 2393.9 107.2 2393.9 106.6 2394.0 106.0 2394.1 105.4 2394.1 104.8 2394.2 104.2 2394.3 103.6 2394.3 103.0 2394.4 102.4 2394.5 101.8 2394.5 101.2 2394.6 100.7 2394.7 100.1 2394.7 99.5 2394.8 98.9 2394.9 98.3 2394.9 97.7 2395.0 97.1 2395.1 96.5 2395.2 95.9 2395.2 95.3 2395.3 94.7 2395.4 94.1 2395.5 93.5 2395.6 92.9 2395.6 92.3 2395.7 91.7 2395.8 91.1 2395.9 90.5 2396.0 89.9 2396.0 89.3 2396.1 88.7 2396.2 88.2 2396.3 87.6 2396.4 87.0 2396.5 86.4 2396.6 85.8 2396.7 85.2 2396.7 84.6 2396.8 84.0 2396.9 83.4 2397.0 82.8 2397.1 82.2 2397.2 81.6 2397.3 81.0 2397.4 80.4 2397.5 79.8 2397.6 79.3 2397.7 78.7 2397.8 78.1 2397.9 77.5 2398.0 76.9 2398.1 76.3 2398.2 75.7 2398.3 75.1 2398.4 74.5 2398.5 73.9 2398.6 73.3 2398.7 72.7 2398.8 72.2 2398.9 71.6 2399.0 71.0 2399.1 70.4 2399.2 69.8 2399.3 69.2 2399.5 68.6 2399.6 68.0 2399.7 67.4 2399.8 66.8 2399.9 66.3 2400.0 65.7 2400.1 65.1 2400.2 64.5 2400.3 63.9 2400.5 63.3 2400.6 62.7 2400.7 62.1 2400.8 61.5 2400.9 60.9 2401.0 60.4 2401.1 59.8 2401.2 59.2 2401.4 58.6 2401.5 58.0 2401.6 57.4 2401.7 56.8 2401.8 56.2 2401.9 55.6 2402.1 55.1 2402.2 54.5 2402.3 53.9 2402.4 53.3 2402.5 52.7 2402.7 52.1 2402.8 51.5 2402.9 50.9 2403.0 50.4 2403.2 49.8 2403.3 49.2 2403.4 48.6 2403.6 48.0 2403.7 47.4 2403.8 46.8 2404.0 46.3 2404.1 45.7 2404.2 45.1 2404.4 44.5 2404.5 43.9 2404.7 43.3 2404.8 42.8 2405.0 42.2 2405.1 41.6 2405.3 41.0 2405.4 40.4 2405.6 39.9 2405.8 39.3 2406.0 38.7 2406.2 38.1 2406.4 37.6 2406.6 37.0 2406.8 36.5 2407.0 35.9 2407.3 35.4 2407.6 34.9 2408.0 34.4 2408.6 34.2 2409.1 34.5 2409.4 35.0 2409.6 35.5 2409.8 36.1 2410.0 36.7 2410.2 37.2 2410.3 37.8 2410.4 38.4 2410.6 39.0 2410.7 39.6 2410.8 40.2 2410.9 40.8 2411.0 41.4 2411.1 42.0 2411.2 42.5 2411.2 43.1 2411.3 43.7 2411.4 44.3 2411.5 44.9 2411.6 45.5 2411.6 46.1 2411.7 46.7 2411.8 47.3 2411.8 47.9 2411.9 48.5 2412.0 49.1 2412.0 49.7 2412.1 50.3 2412.2 50.9 2412.2 51.5 2412.3 52.1 2412.3 52.7 2412.4 53.3 2412.4 53.9 2412.5 54.5 2412.6 55.1 2412.6 55.7 2412.7 56.3 2412.7 56.9 2412.8 57.5 2412.8 58.1 2412.9 58.7 2412.9 59.3 2413.0 59.9 2413.0 60.5 2413.1 61.1 2413.1 61.6 2413.2 62.2 2413.2 62.8 2413.3 63.4 2413.3 64.0 2413.4 64.6 2413.4 65.2 2413.5 65.8 2413.5 66.4 2413.6 67.0 2413.6 67.6 2413.7 68.2 2413.7 68.8 2413.8 69.4 2413.8 70.0 2413.9 70.6 2413.9 71.2 2414.0 71.8 2414.0 72.4 2414.1 73.0 2414.1 73.6 2414.2 74.2 2414.2 74.8 2414.3 75.4 2414.3 76.0 2414.4 76.6 2414.4 77.2 2414.5 77.8 2414.5 78.4 2414.6 79.0 2414.7 79.6 2414.7 80.2 2414.8 80.8 2414.8 81.4 2414.9 82.0 2414.9 82.6 2415.0 83.2 2415.1 83.8 2415.1 84.4 2415.2 85.0 2415.2 85.6 2415.3 86.2 2415.4 86.8 2415.4 87.4 2415.5 88.0 2415.5 88.6 2415.6 89.1 2415.7 89.7 2415.7 90.3 2415.8 90.9 2415.9 91.5 2415.9 92.1 2416.0 92.7 2416.1 93.3 2416.1 93.9 2416.2 94.5 2416.3 95.1 2416.4 95.7 2416.4 96.3 2416.5 96.9 2416.6 97.5 2416.6 98.1 2416.7 98.7 2416.8 99.3 2416.9 99.9 2416.9 100.5 2417.0 101.1 2417.1 101.7 2417.2 102.3 2417.2 102.9 2417.3 103.5 2417.4 104.0 2417.5 104.6 2417.5 105.2 2417.6 105.8 2417.7 106.4 2417.8 107.0 2417.8 107.6 2417.9 108.2 2418.0 108.8 2418.1 109.4 2418.1 110.0 2418.2 110.6 2418.3 111.2 2418.4 111.8 2418.4 112.4 2418.5 113.0 2418.6 113.6 2418.6 114.2 2418.7 114.8 2418.8 115.4 2418.8 116.0 2418.9 116.6 2419.0 117.2 2419.0 117.8 2419.1 118.4 2419.2 119.0 2419.2 119.5 2419.3 120.1 2419.3 120.7 2419.4 121.3 2419.5 121.9 2419.5 122.5 2419.6 123.1 2419.6 123.7 2419.7 124.3 2419.7 124.9 2419.8 125.5 2419.8 126.1 2419.9 126.7 2420.0 127.3 2420.0 127.9 2420.1 128.5 2420.1 129.1 2420.2 129.7 2420.2 130.3 2420.3 130.9 2420.3 131.5 2420.3 132.1 2420.4 132.7 2420.4 133.3 2420.5 133.9 2420.5 134.5 2420.6 135.1 2420.6 135.7 2420.7 136.3 2420.7 136.9 2420.8 137.5 2420.8 138.1 2420.9 138.7 2420.9 139.3 2420.9 139.9 2421.0 140.5 2421.0 141.1 2421.1 141.7 2421.1 142.3 2421.2 142.9 2421.2 143.5 2421.2 144.1 2421.3 144.7 2421.3 145.3 2421.4 145.9 2421.4 146.5 2421.4 147.1 2421.5 147.7 2421.5 148.3 2421.6 148.9 2421.6 149.5 2421.7 150.1 2421.7 150.7 2421.7 151.3 2421.8 151.9 2421.8 152.5 2421.9 153.1 2421.9 153.7 2421.9 154.3 2422.0 154.9 2422.0 155.5 2422.1 156.1 2422.1 156.7 2422.2 157.2 2422.2 157.8 2422.2 158.4 2422.3 159.0 2422.3 159.6 2422.4 160.2 2422.4 160.8 2422.4 161.4 2422.5 162.0 2422.5 162.6 2422.6 163.2 2422.6 163.8 2422.6 164.4 2422.7 165.0 2422.7 165.6 2422.8 166.2 2422.8 166.8 2422.8 167.4 2422.9 168.0 2422.9 168.6 2423.0 169.2 2423.0 169.8 2423.0 170.4 2423.1 171.0 2423.1 171.6 2423.2 172.2 2423.2 172.8 2423.2 173.4 2423.3 174.0 2423.3 174.6 2423.4 175.2 2423.4 175.8 2423.4 176.4 2423.5 177.0 2423.5 177.6 2423.5 178.2 2423.6 178.8 2423.6 179.4 2423.7 180.0 2423.7 180.6 2423.7 181.2 2423.8 181.8 2423.8 182.4 2423.9 183.0 2423.9 183.6 2423.9 184.2 2424.0 184.8 2424.0 185.4 2424.0 186.0 2424.1 186.6 2424.1 187.2 2424.2 187.8 2424.2 188.4 2424.2 189.0 2424.3 189.6 2424.3 190.2 2424.3 190.8 2424.4 191.4 2424.4 192.0 2424.5 192.6 2424.5 193.2 2424.5 193.8 2424.6 194.4 2424.6 195.0 2424.6 195.6 2424.7 196.2 2424.7 196.8 2424.8 197.4 2424.8 198.0 2424.8 198.6 2424.9 199.2 2424.9 199.8 2424.9 200.4 2425.0 201.0 2425.0 201.6 2425.0 202.2 2425.1 202.8 2425.1 203.4 2425.2 204.0 2425.2 204.6 2425.2 205.2 2425.3 205.8 2425.3 206.4 2425.3 207.0 2425.4 207.6 2425.4 208.2 2425.4 208.8 2425.5 209.4 2425.5 210.0 2425.5 210.6 2425.6 211.2 2425.6 211.8 2425.6 212.4 2425.7 213.0 2425.7 213.6 2425.7 214.2 2425.8 214.8 2425.8 215.4 2425.9 216.0 2425.9 216.6 2425.9 217.2 2426.0 217.8 2426.0 218.4 2426.0 219.0 2426.1 219.6 2426.1 220.2 2426.1 220.8 2426.2 221.4 2426.2 222.0 2426.2 222.6 2426.3 223.1 2426.3 223.7 2426.3 224.3 2426.4 224.9 2426.4 225.5 2426.4 226.1 2426.5 226.7 2426.5 227.3 2426.5 227.9 2426.6 228.5 2426.6 229.1 2426.6 229.7 2426.7 230.3 2426.7 230.9 2426.7 231.5 2426.8 232.1 2426.8 232.7 2426.9 233.3 2426.9 233.9 2426.9 234.5 2427.0 235.1 2427.0 235.7 2427.0 236.3 2427.1 236.9 2427.1 237.5 2427.1 238.1 2427.2 238.7 2427.2 239.3 2427.2 239.9 2427.3 240.5 2427.3 241.1 2427.3 241.7 2427.4 242.3 2427.4 242.9 2427.5 243.5 2427.5 244.1 2427.5 244.7 2427.6 245.3 2427.6 245.9 2427.6 246.5 2427.7 247.1 2427.7 247.7 2427.8 248.3 2427.8 248.9 2427.8 249.5 2427.9 250.1 2427.9 250.7 2427.9 251.3 2428.0 251.9 2428.0 252.5 2428.1 253.1 2428.1 253.7 2428.1 254.3 2428.2 254.9 2428.2 255.5 2428.3 256.1 2428.3 256.7 2428.3 257.3 2428.4 257.9 2428.4 258.5 2428.5 259.1 2428.5 259.7 2428.5 260.3 2428.6 260.9 2428.6 261.5 2428.7 262.1 2428.7 262.7 2428.8 263.3 2428.8 263.9 2428.8 264.5 2428.9 265.1 2428.9 265.7 2429.0 266.3 2429.0 266.9 2429.1 267.5 2429.1 268.1 2429.1 268.7 2429.2 269.3 2429.2 269.9 2429.3 270.5 2429.3 271.1 2429.4 271.7 2429.4 272.3 2429.5 272.9 2429.5 273.5 2429.6 274.1 2429.6 274.7 2429.6 275.3 2429.7 275.9 2429.7 276.5 2429.8 277.1 2429.8 277.7 2429.9 278.3 2429.9 278.9 2430.0 279.5 2430.0 280.1 2430.1 280.6 2430.1 281.2 2430.1 281.8 2430.2 282.4 2430.2 283.0 2430.3 283.6 2430.3 284.2 2430.4 284.8 2430.4 285.4 2430.5 286.0 2430.5 286.6 2430.6 287.2 2430.6 287.8 2430.7 288.4 2430.7 289.0 2430.7 289.6 2430.8 290.2 2430.8 290.8 2430.9 291.4 2430.9 292.0 2431.0 292.6 2431.0 293.2 2431.1 293.8 2431.1 294.4 2431.2 295.0 2431.2 295.6 2431.3 296.2 2431.3 296.8 2431.4 297.4 2431.4 298.0 2431.4 298.6 2431.5 299.2 2431.5 299.8 2431.6 300.4 2431.6 301.0 2431.7 301.6 2431.7 302.2 2431.8 302.8 2431.8 303.4 2431.9 304.0 2431.9 304.6 2431.9 305.2 2432.0 305.8 2432.0 306.4 2432.1 307.0 2432.1 307.6 2432.2 308.2 2432.2 308.8 2432.2 309.4 2432.3 310.0 2432.3 310.6 2432.4 311.2 2432.4 311.8 2432.5 312.4 2432.5 313.0 2432.6 313.6 2432.6 314.2 2432.6 314.8 2432.7 315.4 2432.7 316.0 2432.8 316.6 2432.8 317.2 2432.8 317.8 2432.9 318.4 2432.9 319.0 2433.0 319.6 2433.0 320.2 2433.1 320.8 2433.1 321.4 2433.1 322.0 2433.2 322.6 2433.2 323.1 2433.3 323.7 2433.3 324.3 2433.3 324.9 2433.4 325.5 2433.4 326.1 2433.5 326.7 2433.5 327.3 2433.5 327.9 2433.6 328.5 2433.6 329.1 2433.7 329.7 2433.7 330.3 2433.7 330.9 2433.8 331.5 2433.8 332.1 2433.9 332.7 2433.9 333.3 2433.9 333.9 2434.0 334.5 2434.0 335.1 2434.0 335.7 2434.1 336.3 2434.1 336.9 2434.2 337.5 2434.2 338.1 2434.2 338.7 2434.3 339.3 2434.3 339.9 2434.4 340.5 2434.4 341.1 2434.4 341.7 2434.5 342.3 2434.5 342.9 2434.5 343.5 2434.6 344.1 2434.6 344.7 2434.7 345.3 2434.7 345.9 2434.7 346.5 2434.8 347.1 2434.8 347.7 2434.8 348.3 2434.9 348.9 2434.9 349.5 2435.0 350.1 2435.0 350.7 2435.0 351.3 2435.1 351.9 2435.1 352.5 2435.1 353.1 2435.2 353.7 2435.2 354.3 2435.3 354.9 2435.3 355.5 2435.3 356.1 2435.4 356.7 2435.4 357.3 2435.4 357.9 2435.5 358.5 2435.5 359.1 2435.6 359.7 2435.6 360.3 2435.6 360.9 2435.7 361.5 2435.7 362.1 2435.8 362.7 2435.8 363.3 2435.8 363.9 2435.9 364.5 2435.9 365.1 2435.9 365.7 2436.0 366.3 2436.0 366.9 2436.1 367.5 2436.1 368.1 2436.1 368.7 2436.2 369.3 2436.2 369.9 2436.3 370.5 2436.3 371.1 2436.3 371.7 2436.4 372.3 2436.4 372.9 2436.4 373.5 2436.5 374.1 2436.5 374.7 2436.6 375.3 2436.6 375.9 2436.7 376.5 2436.7 377.1 2436.7 377.7 2436.8 378.3 2436.8 378.9 2436.9 379.5 2436.9 380.1 2436.9 380.7 2437.0 381.3 2437.0 381.9 2437.1 382.5 2437.1 383.0 2437.1 383.6 2437.2 384.2 2437.2 384.8 2437.3 385.4 2437.3 386.0 2437.4 386.6 2437.4 387.2 2437.4 387.8 2437.5 388.4 2437.5 389.0 2437.6 389.6 2437.6 390.2 2437.6 390.8 2437.7 391.4 2437.7 392.0 2437.8 392.6 2437.8 393.2 2437.9 393.8 2437.9 394.4 2437.9 395.0 2438.0 395.6 2438.0 396.2 2438.1 396.8 2438.1 397.4 2438.1 398.0 2438.2 398.6 2438.2 399.2 2438.3 399.8 2438.3 400.4 2438.4 401.0 2438.4 401.6 2438.4 402.2 2438.5 402.8 2438.5 403.4 2438.6 404.0 2438.6 404.6 2438.6 405.2 2438.7 405.8 2438.7 406.4 2438.8 407.0 2438.8 407.6 2438.9 408.2 2438.9 408.8 2438.9 409.4 2439.0 410.0 2439.0 410.6 2439.1 411.2 2439.1 411.8 2439.1 412.4 2439.2 413.0 2439.2 413.6 2439.3 414.2 2439.3 414.8 2439.4 415.4 2439.4 416.0 2439.4 416.6 2439.5 417.2 2439.5 417.8 2439.6 418.4 2439.6 419.0 2439.6 419.6 2439.7 420.2 2439.7 420.8 2439.8 421.4 2439.8 422.0 2439.9 422.6 2439.9 423.2 2439.9 423.8 2440.0 424.4 2440.0 425.0 2440.1 425.6 2440.1 426.2 2440.2 426.8 2440.2 427.4 2440.3 428.0 2440.3 428.6 2440.3 429.2 2440.4 429.8 2440.4 430.4 2440.5 431.0 2440.5 431.6 2440.6 432.1 2440.6 432.7 2440.7 433.3 2440.7 433.9 2440.7 434.5 2440.8 435.1 2440.8 435.7 2440.9 436.3 2440.9 436.9 2441.0 437.5 2441.0 438.1 2441.1 438.7 2441.1 439.3 2441.2 439.9 2441.2 440.5 2441.3 441.1 2441.3 441.7 2441.4 442.3 2441.4 442.9 2441.5 443.5 2441.5 444.1 2441.6 444.7 2441.6 445.3 2441.7 445.9 2441.7 446.5 2441.7 447.1 2441.8 447.7 2441.8 448.3 2441.9 448.9 2442.0 449.5 2442.0 450.1 2442.1 450.7 2442.1 451.3 2442.2 451.9 2442.2 452.5 2442.3 453.1 2442.3 453.7 2442.4 454.3 2442.4 454.9 2442.5 455.5 2442.5 456.1 2442.6 456.7 2442.6 457.3 2442.7 457.9 2442.7 458.5 2442.8 459.1 2442.9 459.7 2442.9 460.3 2443.0 460.9 2443.0 461.5 2443.1 462.1 2443.1 462.7 2443.2 463.3 2443.2 463.8 2443.3 464.4 2443.4 465.0 2443.4 465.6 2443.5 466.2 2443.5 466.8 2443.6 467.4 2443.7 468.0 2443.7 468.6 2443.8 469.2 2443.8 469.8 2443.9 470.4 2443.9 471.0 2444.0 471.6 2444.1 472.2 2444.1 472.8 2444.2 473.4 2444.2 474.0 2444.3 474.6 2444.4 475.2 2444.4 475.8 2444.5 476.4 2444.5 477.0 2444.6 477.6 2444.7 478.2 2444.7 478.8 2444.8 479.4 2444.9 480.0 2444.9 480.6 2445.0 481.2 2445.0 481.8 2445.1 482.4 2445.2 483.0 2445.2 483.6 2445.3 484.2 2445.3 484.8 2445.4 485.4 2445.5 485.9 2445.5 486.5 2445.6 487.1 2445.7 487.7 2445.7 488.3 2445.8 488.9 2445.8 489.5 2445.9 490.1 2446.0 490.7 2446.0 491.3 2446.1 491.9 2446.2 492.5 2446.2 493.1 2446.3 493.7 2446.3 494.3 2446.4 494.9 2446.5 495.5 2446.5 496.1 2446.6 496.7 2446.7 497.3 2446.7 497.9 2446.8 498.5 2446.8 499.1 2446.9 499.7 2447.0 500.3 2447.0 500.9 2447.1 501.5 2447.1 502.1 2447.2 502.7 2447.3 503.3 2447.3 503.9 2447.4 504.5 2447.4 505.1 2447.5 505.7 2447.6 506.2 2447.6 506.8 2447.7 507.4 2447.7 508.0 2447.8 508.6 2447.9 509.2 2447.9 509.8 2448.0 510.4 2448.0 511.0 2448.1 511.6 2448.2 512.2 2448.2 512.8 2448.3 513.4 2448.3 514.0 2448.4 514.6 2448.5 515.2 2448.5 515.8 2448.6 516.4 2448.6 517.0 2448.7 517.6 2448.8 518.2 2448.8 518.8 2448.9 519.4 2448.9 520.0 2449.0 520.6 2449.0 521.2 2449.1 521.8 2449.2 522.4 2449.2 523.0 2449.3 523.6 2449.3 524.2 2449.4 524.8 2449.4 525.4 2449.5 526.0 2449.6 526.6 2449.6 527.2 2449.7 527.8 2449.7 528.4 2449.8 528.9 2449.8 529.5 2449.9 530.1 2450.0 530.7 2450.0 531.3 2450.1 531.9 2450.1 532.5 2450.2 533.1 2450.3 533.7 2450.3 534.3 2450.4 534.9 2450.4 535.5 2450.5 536.1 2450.5 536.7 2450.6 537.3 2450.7 537.9 2450.7 538.5 2450.8 539.1 2450.8 539.7 2450.9 540.3 2451.0 540.9 2451.0 541.5 2451.1 542.1 2451.1 542.7 2451.2 543.3 2451.3 543.9 2451.3 544.5 2451.4 545.1 2451.4 545.7 2451.5 546.3 2451.6 546.9 2451.6 547.5 2451.7 548.1 2451.7 548.7 2451.8 549.3 2451.9 549.9 2451.9 550.5 2452.0 551.1 2452.0 551.6 2452.1 552.2 2452.2 552.8 2452.2 553.4 2452.3 554.0 2452.4 554.6 2452.4 555.2 2452.5 555.8 2452.6 556.4 2452.6 557.0 2452.7 557.6 2452.7 558.2 2452.8 558.8 2452.9 559.4 2452.9 560.0 2453.0 560.6 2453.1 561.2 2453.1 561.8 2453.2 562.4 2453.3 563.0 2453.3 563.6 2453.4 564.2 2453.5 564.8 2453.5 565.4 2453.6 566.0 2453.7 566.6 2453.7 567.2 2453.8 567.8 2453.9 568.4 2453.9 569.0 2454.0 569.5 2454.1 570.1 2454.1 570.7 2454.2 571.3 2454.3 571.9 2454.4 572.5 2454.4 573.1 2454.5 573.7 2454.6 574.3 2454.6 574.9 2454.7 575.5 2454.8 576.1 2454.8 576.7 2454.9 577.3 2455.0 577.9 2455.0 578.5 2455.1 579.1 2455.2 579.7 2455.2 580.3 2455.3 580.9 2455.4 581.5 2455.4 582.1 2455.5 582.7 2455.6 583.3 2455.6 583.9 2455.7 584.5 2455.8 585.1 2455.8 585.7 2455.9 586.2 2456.0 586.8 2456.0 587.4 2456.1 588.0 2456.2 588.6 2456.2 589.2 2456.3 589.8 2456.4 590.4 2456.4 591.0 2456.5 591.6 2456.5 592.2 2456.6 592.8 2456.7 593.4 2456.7 594.0 2456.8 594.6 2456.8 595.2 2456.9 595.8 2457.0 596.4 2457.0 597.0 2457.1 597.6 2457.1 598.2 2457.2 598.8 2457.2 599.4 2457.3 600.0 2457.3 600.6 2457.4 601.2 2457.5 601.8 2457.5 602.4 2457.6 603.0 2457.6 603.6 2457.7 604.1 2457.7 604.7 2457.8 605.5 2457.8 605.6 2457.8 606.5 2457.9 606.8 2457.9 608.0 2458.0 608.2 2458.0 608.8 2458.1 609.8 2458.1 609.9 2458.2 610.6 2458.2 611.0 2458.2 611.8 2458.3 611.8 2458.3 612.9 2458.3 612.5 2458.4 614.4 2458.4 615.6 2458.4 615.6 2458.5 615.0 2458.5 615.9 2458.5 616.0 2458.6 616.9 2458.6 618.1 2458.6 617.4 2458.7 618.5 2458.7 619.6 2458.7 619.5 2458.8 620.9 2458.8 622.2 2458.8 623.1 2458.8 622.3 2458.9 622.6 2458.9 625.9 2458.9 626.6 2458.9 626.5 2459.0 628.1 2459.0 627.7 2459.0 629.5 2459.1 632.3 2459.1 632.3 2459.1 633.4 2459.1 632.9 2459.2 635.0 2459.2 634.0 2459.2 634.7 2459.3 635.0 2459.3 634.5 2459.3 634.2 2459.4 635.2 2459.4 635.0 2459.4 635.1 2459.5 634.7 2459.5 635.9 2459.6 636.4 2459.6 635.0 2459.7 637.1 2459.7 635.7 2459.8 638.2 2459.8 638.8 2459.9 638.7 2459.9 639.8 2460.0 641.6 2460.0 642.4 2460.1 643.1 2460.2 645.8 2460.2 645.5 2460.3 649.3 2460.4 646.7 2460.5 647.4 2460.6 651.8 2460.7 651.8 2460.8 652.2 2460.9 649.0 2461.0 654.0 2461.1 649.8 2461.2 650.3 2461.3 650.3 2461.5 649.8 2461.6 649.8 2461.8 652.4 2461.9 648.9 2462.1 652.7 2462.3 652.7 2462.5 652.8 2462.7 655.0 2462.9 651.9 2463.2 653.6 2463.4 655.4 2463.7 657.5 2464.0 656.1 2464.3 660.1 2464.6 657.4 2464.9 660.0 2465.2 657.3 2465.5 658.7 2465.8 659.8 2466.1 661.9 2466.4 662.1 2466.7 666.2 2467.0 666.0 2467.3 662.2 2467.6 666.6 2467.8 665.4 2468.1 667.9 2468.4 663.7 2468.6 662.6 2468.8 663.4 2469.0 666.6 2469.2 667.4 2469.4 662.1 2469.5 662.1 2469.7 663.3 2469.8 670.6 2469.9 669.7 2470.0 668.4 2470.2 670.8 2470.3 670.0 2470.4 671.5 2470.5 668.3 2470.5 669.0 2470.6 675.0 2470.7 678.2 2470.8 678.4 2470.9 676.0 2470.9 678.1 2471.0 675.7 2471.1 683.1 2471.1 683.0 2471.2 677.3 2471.2 679.4 2471.3 680.6 2471.4 682.8 2471.4 686.0 2471.5 684.9 2471.5 685.4 2471.6 682.5 2471.7 683.2 2471.7 682.8 2471.8 685.9 2471.8 688.8 2471.9 690.5 2472.0 686.1 2472.1 686.1 2472.1 691.9 2472.2 684.7 2472.3 689.2 2472.4 689.4 2472.5 692.8 2472.6 695.4 2472.7 691.1 2472.8 697.6 2472.9 695.0 2473.0 689.8 2473.2 696.5 2473.3 700.8 2473.5 700.3 2473.6 695.1 2473.8 700.6 2474.0 695.6 2474.2 704.9 2474.4 701.6 2474.6 706.9 2474.8 700.1 2475.1 709.0 2475.3 700.8 2475.6 702.2 2475.9 707.7 2476.2 704.2 2476.5 704.1 2476.8 709.3 2477.2 699.2 2477.6 704.8 2477.9 703.2 2478.3 701.4 2478.7 709.5 2479.2 701.7 2479.6 708.0 2480.1 702.8 2480.5 702.7 2481.0 705.5 2481.5 710.2 2482.0 704.3 2482.5 710.5 2483.0 706.4 2483.5 708.2 2484.1 706.6 2484.6 715.0 2485.1 705.5 2485.7 713.5 2486.3 709.2 2486.8 712.8 2487.4 710.4 2487.9 708.8 2488.5 703.4 2489.1 710.4 2489.7 706.7 2490.2 704.2 2490.8 705.9 2491.4 702.7 2492.0 704.4 2492.6 711.1 2493.2 705.7 2493.8 703.7 2494.4 707.5 2494.9 710.6 2495.5 716.5 2496.1 710.3 2496.7 708.8 2497.3 707.0 2497.9 709.2 2498.5 709.9 2499.1 716.1 2499.7 707.4 2500.3 714.4 2500.9 708.3 2501.5 715.0 2502.1 713.9 2502.7 714.7 2503.3 715.3 2503.9 715.4 2504.5 718.9 2505.1 716.7 2505.7 717.2 2506.3 715.7 2506.9 711.8 2507.5 708.9 2508.1 717.4 2508.7 715.9 2509.3 714.4 2509.9 709.2 2510.5 718.9 2511.1 711.9 2511.7 714.0 2512.3 718.6 2512.9 719.2 2513.4 718.7 2514.0 719.6 2514.6 722.5 2515.2 721.7 2515.8 717.1 2516.4 710.4 2517.0 721.9 2517.6 715.4 2518.2 722.3 2518.7 713.2 2519.3 715.1 2519.9 715.9 2520.4 714.9 2521.0 721.2 2521.6 723.9 2522.1 715.3 2522.7 713.7 2523.2 715.8 2523.8 721.7 2524.3 720.6 2524.9 721.8 2525.4 722.6 2526.0 713.2 2526.5 720.5 2527.0 712.8 2527.5 715.2 2528.1 717.5 2528.6 722.3 2529.1 715.9 2529.6 720.1 2530.1 713.6 2530.7 719.3 2531.2 719.4 2531.7 721.6 2532.2 715.4 2532.7 716.8 2533.2 718.2 2533.7 728.1 2534.3 720.3 2534.8 729.5 2535.3 724.1 2535.8 727.0 2536.3 726.2 2536.8 725.2 2537.4 731.2 2537.9 735.6 2538.4 731.8 2538.9 736.6 2539.5 734.9 2540.0 728.8 2540.5 727.3 2541.1 727.7 2541.6 726.6 2542.1 735.9 2542.7 727.0 2543.2 729.5 2543.7 729.1 2544.3 730.9 2544.8 734.1 2545.4 731.9 2545.9 727.0 2546.4 732.8 2547.0 727.2 2547.5 727.4 2548.1 727.8 2548.6 724.1 2549.2 731.6 2549.8 724.2 2550.3 732.4 2550.9 724.3 2551.4 727.9 2552.0 723.6 2552.5 726.7 2553.1 733.3 2553.7 728.2 2554.2 737.6 2554.8 737.7 2555.4 733.6 2555.9 729.9 2556.5 734.3 2557.1 739.6 2557.6 734.1 2558.2 736.6 2558.8 740.6 2559.3 739.1 2559.9 734.8 2560.5 730.7 2561.0 740.3 2561.6 739.2 2562.2 738.5 2562.8 730.8 2563.3 740.6 2563.9 732.0 2564.5 733.8 2565.1 738.6 2565.7 733.4 2566.2 733.7 2566.8 736.4 2567.4 735.3 2568.0 742.8 2568.6 742.1 2569.1 737.4 2569.7 744.1 2570.3 736.6 2570.9 743.7 2571.5 737.8 2572.1 744.8 2572.6 737.2 2573.2 747.2 2573.8 747.1 2574.4 746.5 2575.0 740.9 2575.6 740.5 2576.2 738.2 2576.8 740.5 2577.4 744.8 2578.0 744.5 2578.5 737.2 2579.1 738.5 2579.7 740.8 2580.3 738.3 2580.9 745.7 2581.5 739.7 2582.1 743.7 2582.7 747.9 2583.3 744.3 2583.9 740.7 2584.5 740.9 2585.1 741.0 2585.7 739.0 2586.3 742.5 2586.9 740.0 2587.5 742.4 2588.1 740.4 2588.7 739.2 2589.3 741.5 2589.9 743.8 2590.5 734.9 2591.1 743.4 2591.7 737.4 2592.3 737.7 2592.9 735.3 2593.5 739.2 2594.1 740.3 2594.7 734.0 2595.3 741.0 2595.9 734.8 2596.5 737.8 2597.1 739.9 2597.7 743.7 2598.3 743.9 2598.9 743.2 2599.5 741.4 2600.1 746.9 2600.7 741.3 2601.2 745.3 2601.8 743.4 2602.4 748.0 2603.0 749.2 2603.6 748.7 2604.2 740.3 2604.8 739.3 2605.4 741.6 2605.9 747.0 2606.5 749.1 2607.1 747.3 2607.7 744.4 2608.3 739.4 2608.8 743.5 2609.4 744.1 2610.0 740.4 2610.5 744.8 2611.1 752.4 2611.7 746.0 2612.2 750.4 2612.8 751.5 2613.4 749.9 2613.9 747.5 2614.5 747.9 2615.1 750.4 2615.6 747.5 2616.2 753.4 2616.7 748.0 2617.3 753.5 2617.9 755.1 2618.4 749.2 2619.0 745.4 2619.5 744.9 2620.1 747.1 2620.6 745.7 2621.2 753.5 2621.8 745.7 2622.3 743.8 2622.9 754.0 2623.4 745.3 2624.0 745.9 2624.6 749.6 2625.1 749.2 2625.7 745.2 2626.3 750.2 2626.8 750.5 2627.4 755.0 2627.9 753.4 2628.5 746.8 2629.1 755.8 2629.7 754.2 2630.2 748.0 2630.8 748.2 2631.4 756.7 2632.0 750.9 2632.5 751.7 2633.1 752.4 2633.7 745.8 2634.3 752.6 2634.8 757.6 2635.4 747.9 2636.0 754.5 2636.6 752.2 2637.2 750.3 2637.8 754.1 2638.4 750.4 2639.0 752.7 2639.5 755.1 2640.1 750.1 2640.7 749.7 2641.3 753.9 2641.9 758.3 2642.5 754.2 2643.1 755.0 2643.7 759.1 2644.3 758.5 2644.9 756.1 2645.5 758.4 2646.1 760.2 2646.7 752.4 2647.3 750.4 2647.9 756.7 2648.5 756.6 2649.0 756.0 2649.6 748.2 2650.2 756.8 2650.8 748.9 2651.4 746.1 2652.0 748.7 2652.6 753.1 2653.2 752.1 2653.8 743.4 2654.4 743.9 2655.0 746.1 2655.6 746.1 2656.2 749.1 2656.8 748.5 2657.4 747.9 2658.0 750.9 2658.6 755.2 2659.2 754.5 2659.8 753.1 2660.4 760.0 2661.0 756.8 2661.6 752.9 2662.2 761.5 2662.8 755.8 2663.4 757.8 2664.0 751.3 2664.6 751.6 2665.2 751.7 2665.8 756.4 2666.4 750.9 2667.0 759.0 2667.6 752.1 2668.2 758.9 2668.8 761.1 2669.4 761.1 2670.0 757.6 2670.6 755.9 2671.2 761.0 2671.8 760.7 2672.4 757.6 2673.0 765.6 2673.5 761.7 2674.1 755.0 2674.7 759.6 2675.3 762.6 2675.9 764.6 2676.5 763.0 2677.1 763.7 2677.7 764.8 2678.3 760.3 2678.9 755.7 2679.5 763.7 2680.1 757.8 2680.7 758.4 2681.3 761.2 2681.9 759.8 2682.5 757.6 2683.1 761.1 2683.7 756.0 2684.3 762.9 2684.9 758.5 2685.5 758.9 2686.1 753.4 2686.7 765.3 2687.3 761.5 2687.9 756.2 2688.5 761.5 2689.1 761.8 2689.7 754.7 2690.3 761.4 2690.9 762.4 2691.5 754.6 2692.1 755.0 2692.7 760.9 2693.3 762.1 2693.9 753.0 2694.4 758.2 2695.0 756.3 2695.6 751.9 2696.2 757.8 2696.8 759.6 2697.4 756.3 2698.0 759.3 2698.6 753.7 2699.2 755.9 2699.8 757.0 2700.4 758.4 2701.0 756.3 2701.6 760.5 2702.2 759.4 2702.8 757.1 2703.4 753.6 2704.0 763.4 2704.6 765.0 2705.2 760.8 2705.8 761.8 2706.4 757.8 2707.0 760.3 2707.6 760.7 2708.2 765.7 2708.8 756.5 2709.4 764.4 2710.0 759.1 2710.6 756.6 2711.2 760.3 2711.8 765.1 2712.4 762.4 2713.0 765.7 2713.6 762.4 2714.2 763.2 2714.8 760.6 2715.4 768.4 2716.0 768.3 2716.5 760.0 2717.1 768.7 2717.7 765.1 2718.3 765.7 2718.9 760.2 2719.5 763.9 2720.1 758.3 2720.7 765.7 2721.3 765.5 2721.9 755.7 2722.5 760.3 2723.1 765.3 2723.7 762.8 2724.3 757.1 2724.9 763.8 2725.5 756.2 2726.1 756.4 2726.7 759.9 2727.3 761.9 2727.9 766.6 2728.5 758.4 2729.1 769.0 2729.7 759.9 2730.3 767.8 2730.9 767.9 2731.5 767.4 2732.1 762.1 2732.7 764.8 2733.3 765.6 2733.9 762.3 2734.5 767.7 2735.1 765.9 2735.7 763.7 2736.3 762.1 2736.9 771.0 2737.5 761.7 2738.1 763.3 2738.6 772.0 2739.2 769.1 2739.8 770.6 2740.4 769.6 2741.0 773.8 2741.6 772.7 2742.2 773.4 2742.8 773.2 2743.4 773.3 2744.0 775.2 2744.6 766.4 2745.2 766.4 2745.8 774.8 2746.4 765.1 2747.0 765.0 2747.6 766.8 2748.2 767.1 2748.8 766.3 2749.4 766.1 2750.0 771.8 2750.6 766.7 2751.2 764.7 2751.8 762.0 2752.4 763.2 2753.0 764.2 2753.6 762.7 2754.2 763.1 2754.8 761.3 2755.4 758.6 2756.0 760.3 2756.6 756.7 2757.2 761.1 2757.7 759.4 2758.3 764.7 2758.9 758.0 2759.5 765.1 2760.1 755.6 2760.7 765.6 2761.3 759.3 2761.9 762.2 2762.5 762.5 2763.1 758.2 2763.7 768.3 2764.3 759.3 2764.9 762.2 2765.5 767.7 2766.1 763.1 2766.7 767.0 2767.3 772.1 2767.9 771.5 2768.5 766.1 2769.1 763.9 2769.7 768.4 2770.3 763.1 2770.9 767.4 2771.5 762.4 2772.1 764.6 2772.7 770.9 2773.3 771.3 2773.9 769.1 2774.5 774.9 2775.1 772.6 2775.7 772.2 2776.3 773.1 2776.9 773.3 2777.5 771.1 2778.1 765.1 2778.7 766.9 2779.3 767.1 2779.9 770.2 2780.5 776.4 2781.1 768.2 2781.7 767.5 2782.3 766.4 2782.9 773.5 2783.5 767.3 2784.1 768.8 2784.7 766.3 2785.3 771.5 2785.9 767.8 2786.5 769.6 2787.1 769.1 2787.7 760.7 2788.3 759.3 2788.9 765.9 2789.5 765.3 2790.1 762.3 2790.7 762.8 2791.3 768.2 2791.9 771.9 2792.5 767.3 2793.1 768.8 2793.7 768.2 2794.3 775.5 2794.9 764.9 2795.5 764.4 2796.1 774.2 2796.7 774.0 2797.3 766.1 2797.9 770.1 2798.5 769.0 2799.1 775.7 2799.7 772.9 2800.3 770.3 2800.9 772.6 2801.5 768.8 2802.1 770.2 2802.7 773.9 2803.3 772.8 2803.9 774.8 2804.5 774.8 2805.1 780.3 2805.7 778.9 2806.3 773.5 2806.9 775.9 2807.5 770.5 2808.1 770.8 2808.7 776.4 2809.3 773.1 2809.9 768.1 2810.5 776.8 2811.1 771.6 2811.7 769.3 2812.3 778.1 2812.9 774.6 2813.5 768.4 2814.1 773.2 2814.7 776.4 2815.3 775.7 2815.9 772.4 2816.5 769.4 2817.1 767.7 2817.7 772.8 2818.3 772.5 2818.9 769.5 2819.5 769.0 2820.1 770.5 2820.7 775.0 2821.3 774.3 2821.9 777.9 2822.5 771.9 2823.1 774.2 2823.7 767.3 2824.3 767.0 2824.9 774.8 2825.5 775.4 2826.1 774.3 2826.7 769.8 2827.3 771.2 2827.9 769.6 2828.5 770.0 2829.1 767.5 2829.7 771.2 2830.3 767.8 2830.9 771.4 2831.5 771.0 2832.1 770.4 2832.7 771.4 2833.3 762.1 2833.9 767.4 2834.5 765.8 2835.1 768.7 2835.7 766.4 2836.3 767.7 2836.9 763.8 2837.5 773.8 2838.1 763.9 2838.7 765.6 2839.3 768.2 2839.9 773.2 2840.5 769.7 2841.1 769.1 2841.7 770.2 2842.3 767.6 2842.9 769.1 2843.5 764.6 2844.1 771.3 2844.7 775.2 2845.3 768.7 2845.9 767.9 2846.5 777.1 2847.1 777.2 2847.7 774.0 2848.3 772.6 2848.9 775.7 2849.5 768.6 2850.1 772.1 2850.7 770.4 2851.3 768.2 2851.9 773.8 2852.5 772.5 2853.1 770.4 2853.7 772.2 2854.3 769.7 2854.9 768.8 2855.5 772.2 2856.1 770.6 2856.7 765.1 2857.3 768.9 2857.9 767.3 2858.5 767.0 2859.1 771.3 2859.7 763.6 2860.3 770.8 2860.9 774.2 2861.5 767.2 2862.1 771.0 2862.7 764.8 2863.3 772.4 2863.9 768.9 2864.5 769.5 2865.1 765.4 2865.7 765.9 2866.3 763.8 2866.9 764.1 2867.5 769.9 2868.1 767.4 2868.7 770.9 2869.3 766.1 2869.9 772.2 2870.5 766.9 2871.1 768.3 2871.7 771.7 2872.3 769.5 2872.9 769.7 2873.5 774.2 2874.1 766.5 2874.7 764.3 2875.3 772.8 2875.9 766.5 2876.5 765.4 2877.1 766.1 2877.7 770.6 2878.3 769.2 2878.9 762.5 2879.5 765.4 2880.1 763.7 2880.7 765.9 2881.3 766.1 2881.9 774.1 2882.5 764.3 2883.1 769.6 2883.7 774.6 2884.3 769.4 2884.9 776.5 2885.5 768.7 2886.1 773.3 2886.7 772.7 2887.3 773.2 2887.9 775.1 2888.5 768.2 2889.1 764.2 2889.7 771.4 2890.3 769.6 2890.9 771.1 2891.5 769.6 2892.1 763.1 2892.7 769.8 2893.3 769.4 2893.9 764.5 2894.5 767.8 2895.1 766.0 2895.7 764.4 2896.3 770.1 2896.9 771.4 2897.5 773.5 2898.1 767.1" fill="none" stroke="#ff0000" stroke-width="6.8" stroke-linejoin="round"/>
<path clip-path="url(#cd)" d="M1906.6 1754.2L1908.1 1754.2 1909.6 1754.2 1911.1 1754.2 1912.6 1754.2 1914.2 1754.2 1915.7 1754.2 1917.2 1754.2 1918.7 1754.2 1920.2 1754.2 1921.7 1754.2 1923.2 1754.2 1924.7 1754.1 1926.2 1754.1 1927.7 1754.1 1929.2 1754.1 1930.7 1754.1 1932.2 1754.1 1933.7 1754.1 1935.2 1754.1 1936.7 1754.1 1938.2 1754.1 1939.7 1754.1 1941.2 1754.1 1942.7 1754.1 1944.2 1754.1 1945.7 1754.1 1947.2 1754.1 1948.7 1754.1 1950.2 1754.1 1951.7 1754.1 1953.2 1754.1 1954.7 1754.1 1956.2 1754.1 1957.7 1754.1 1959.2 1754.1 1960.7 1754.1 1962.2 1754.1 1963.7 1754.1 1965.2 1754.1 1966.7 1754.1 1968.2 1754.1 1969.7 1754.1 1971.2 1754.1 1972.7 1754.1 1974.2 1754.1 1975.7 1754.1 1977.2 1754.1 1978.7 1754.1 1980.2 1754.1 1981.7 1754.1 1983.2 1754.1 1984.7 1754.1 1986.2 1754.1 1987.7 1754.1 1989.2 1754.1 1990.7 1754.1 1992.2 1754.1 1993.8 1754.1 1995.3 1754.1 1996.8 1754.0 1998.3 1754.0 1999.8 1754.0 2001.3 1754.0 2002.8 1754.0 2004.3 1754.0 2005.8 1754.0 2007.3 1754.0 2008.8 1754.0 2010.3 1754.0 2011.8 1754.0 2013.3 1754.0 2014.8 1754.0 2016.3 1754.0 2017.8 1754.0 2019.3 1754.0 2020.8 1754.0 2022.3 1754.0 2023.8 1754.0 2025.3 1754.0 2026.8 1754.0 2028.3 1754.0 2029.8 1754.0 2031.3 1754.0 2032.8 1754.0 2034.3 1754.0 2035.8 1754.0 2037.3 1754.0 2038.8 1754.0 2040.3 1754.0 2041.8 1754.0 2043.3 1754.0 2044.8 1754.0 2046.3 1754.0 2047.8 1754.0 2049.3 1754.0 2050.8 1754.0 2052.3 1754.0 2053.8 1754.0 2055.3 1754.0 2056.8 1754.0 2058.3 1754.0 2059.8 1754.0 2061.3 1754.0 2062.8 1754.0 2064.3 1754.0 2065.8 1754.0 2067.3 1754.0 2068.8 1754.0 2070.3 1754.0 2071.9 1754.0 2073.4 1754.0 2074.9 1754.0 2076.4 1754.0 2077.9 1754.0 2079.4 1754.0 2080.9 1754.0 2082.4 1754.0 2083.9 1754.0 2085.4 1754.0 2086.9 1754.0 2088.4 1754.0 2089.9 1754.0 2091.4 1754.0 2092.9 1754.0 2094.4 1754.0 2095.9 1754.0 2097.4 1754.0 2098.9 1754.0 2100.4 1754.0 2101.9 1754.0 2103.4 1754.0 2104.9 1754.0 2106.4 1754.0 2107.9 1754.0 2109.4 1754.0 2110.9 1754.0 2112.4 1754.0 2113.9 1754.0 2115.4 1754.0 2116.9 1754.0 2118.4 1754.0 2119.9 1754.0 2121.4 1754.0 2122.9 1754.0 2124.4 1754.0 2125.9 1754.0 2127.4 1754.0 2128.9 1754.0 2130.4 1754.0 2131.9 1754.0 2133.4 1754.0 2134.9 1754.0 2136.4 1754.0 2137.9 1754.0 2139.4 1754.0 2140.9 1754.0 2142.4 1754.0 2143.9 1754.0 2145.4 1754.0 2146.9 1754.0 2148.4 1754.0 2149.9 1754.0 2151.5 1754.0 2153.0 1754.0 2154.5 1754.0 2156.0 1754.0 2157.5 1754.0 2159.0 1754.0 2160.5 1754.0 2162.0 1754.0 2163.5 1754.0 2165.0 1754.0 2166.5 1754.0 2168.0 1754.0 2169.5 1754.0 2171.0 1754.0 2172.5 1754.0 2174.0 1754.0 2175.5 1754.0 2177.0 1754.0 2178.5 1754.0 2180.0 1754.0 2181.5 1754.0 2183.0 1754.0 2184.5 1754.0 2186.0 1754.0 2187.5 1754.0 2189.0 1754.0 2190.5 1754.0 2192.0 1754.0 2193.5 1754.0 2195.0 1753.9 2196.5 1753.9 2198.0 1753.9 2199.5 1753.9 2201.0 1753.9 2202.5 1753.8 2204.0 1753.8 2205.5 1753.8 2207.0 1753.8 2208.5 1753.7 2210.0 1753.7 2211.5 1753.7 2213.0 1753.6 2214.5 1753.6 2216.0 1753.6 2217.5 1753.5 2219.0 1753.5 2220.5 1753.4 2222.0 1753.4 2223.5 1753.3 2225.0 1753.3 2226.5 1753.2 2228.0 1753.2 2229.5 1753.1 2231.0 1753.0 2232.5 1753.0 2234.0 1752.9 2235.5 1752.8 2237.0 1752.8 2238.5 1752.7 2240.0 1752.6 2241.5 1752.5 2243.0 1752.5 2244.5 1752.4 2246.0 1752.3 2247.5 1752.2 2249.0 1752.1 2250.5 1752.0 2252.0 1751.9 2253.5 1751.8 2255.0 1751.7 2256.5 1751.6 2258.0 1751.4 2259.5 1751.3 2261.0 1751.1 2262.5 1751.0 2264.0 1750.8 2265.5 1750.6 2267.0 1750.4 2268.5 1750.1 2269.9 1749.9 2271.4 1749.6 2272.9 1749.2 2274.3 1748.9 2275.8 1748.5 2277.2 1748.1 2278.6 1747.6 2280.1 1747.1 2281.5 1746.6 2282.9 1746.0 2284.3 1745.4 2285.6 1744.9 2287.0 1744.3 2288.4 1743.7 2289.8 1743.1 2291.2 1742.5 2292.6 1742.0 2294.0 1741.4 2295.4 1740.9 2296.8 1740.3 2298.2 1739.8 2299.6 1739.3 2301.0 1738.8 2302.4 1738.2 2303.8 1737.7 2305.2 1737.2 2306.6 1736.6 2308.0 1736.1 2309.4 1735.5 2310.8 1735.0 2312.2 1734.4 2313.6 1733.8 2314.9 1733.1 2316.3 1732.5 2317.6 1731.7 2318.8 1730.9 2320.0 1730.0 2321.0 1728.9 2321.9 1727.7 2322.7 1726.4 2323.4 1725.1 2324.1 1723.8 2324.8 1722.4 2325.5 1721.1 2326.1 1719.7 2326.8 1718.4 2327.5 1717.1 2328.2 1715.7 2328.9 1714.4 2329.5 1713.0 2330.2 1711.7 2330.9 1710.3 2331.5 1709.0 2332.2 1707.6 2332.8 1706.3 2333.5 1704.9 2334.1 1703.6 2334.7 1702.2 2335.3 1700.8 2335.9 1699.5 2336.5 1698.1 2337.1 1696.7 2337.7 1695.3 2338.3 1693.9 2338.8 1692.5 2339.4 1691.1 2339.9 1689.7 2340.4 1688.3 2340.9 1686.9 2341.4 1685.5 2341.8 1684.0 2342.2 1682.6 2342.6 1681.1 2343.0 1679.7 2343.3 1678.2 2343.6 1676.7 2343.9 1675.3 2344.2 1673.8 2344.4 1672.3 2344.6 1670.8 2344.8 1669.3 2344.9 1667.8 2345.1 1666.3 2345.2 1664.8 2345.3 1663.3 2345.4 1661.8 2345.5 1660.3 2345.6 1658.8 2345.7 1657.3 2345.7 1655.8 2345.8 1654.3 2345.9 1652.8 2346.0 1651.3 2346.1 1649.8 2346.2 1648.3 2346.3 1646.8 2346.4 1645.4 2346.5 1643.9 2346.7 1642.4 2346.8 1640.9 2346.9 1639.4 2347.1 1637.9 2347.2 1636.4 2347.3 1634.9 2347.5 1633.4 2347.6 1631.9 2347.8 1630.4 2347.9 1628.9 2348.1 1627.4 2348.3 1625.9 2348.4 1624.4 2348.6 1622.9 2348.7 1621.4 2348.9 1619.9 2349.1 1618.4 2349.2 1617.0 2349.4 1615.5 2349.5 1614.0 2349.7 1612.5 2349.9 1611.0 2350.0 1609.5 2350.2 1608.0 2350.4 1606.5 2350.5 1605.0 2350.7 1603.5 2350.9 1602.0 2351.0 1600.5 2351.2 1599.0 2351.4 1597.5 2351.5 1596.1 2351.7 1594.6 2351.9 1593.1 2352.0 1591.6 2352.2 1590.1 2352.3 1588.6 2352.5 1587.1 2352.6 1585.6 2352.8 1584.1 2353.0 1582.6 2353.1 1581.1 2353.3 1579.6 2353.4 1578.1 2353.6 1576.6 2353.7 1575.1 2353.9 1573.6 2354.0 1572.2 2354.2 1570.7 2354.3 1569.2 2354.5 1567.7 2354.6 1566.2 2354.8 1564.7 2354.9 1563.2 2355.1 1561.7 2355.2 1560.2 2355.3 1558.7 2355.5 1557.2 2355.6 1555.7 2355.8 1554.2 2355.9 1552.7 2356.0 1551.2 2356.2 1549.7 2356.3 1548.2 2356.5 1546.7 2356.6 1545.2 2356.7 1543.7 2356.9 1542.3 2357.0 1540.8 2357.2 1539.3 2357.3 1537.8 2357.4 1536.3 2357.6 1534.8 2357.7 1533.3 2357.8 1531.8 2358.0 1530.3 2358.1 1528.8 2358.3 1527.3 2358.4 1525.8 2358.5 1524.3 2358.7 1522.8 2358.8 1521.3 2359.0 1519.8 2359.1 1518.3 2359.2 1516.8 2359.4 1515.3 2359.5 1513.8 2359.7 1512.3 2359.8 1510.9 2360.0 1509.4 2360.1 1507.9 2360.3 1506.4 2360.4 1504.9 2360.6 1503.4 2360.8 1501.9 2360.9 1500.4 2361.1 1498.9 2361.3 1497.4 2361.4 1495.9 2361.6 1494.4 2361.8 1492.9 2362.0 1491.4 2362.1 1490.0 2362.3 1488.5 2362.5 1487.0 2362.7 1485.5 2362.9 1484.0 2363.1 1482.5 2363.3 1481.0 2363.5 1479.5 2363.7 1478.0 2363.9 1476.5 2364.1 1475.1 2364.3 1473.6 2364.4 1472.1 2364.6 1470.6 2364.8 1469.1 2365.0 1467.6 2365.2 1466.1 2365.3 1464.6 2365.5 1463.1 2365.7 1461.6 2365.8 1460.1 2366.0 1458.6 2366.1 1457.2 2366.2 1455.7 2366.4 1454.2 2366.5 1452.7 2366.6 1451.2 2366.7 1449.7 2366.8 1448.2 2366.9 1446.7 2367.0 1445.2 2367.1 1443.7 2367.2 1442.2 2367.3 1440.7 2367.3 1439.2 2367.4 1437.7 2367.5 1436.2 2367.5 1434.7 2367.6 1433.2 2367.6 1431.7 2367.6 1430.2 2367.7 1428.7 2367.7 1427.2 2367.7 1425.7 2367.8 1424.2 2367.8 1422.7 2367.8 1421.2 2367.8 1419.7 2367.9 1418.2 2367.9 1416.7 2367.9 1415.1 2367.9 1413.6 2368.0 1412.1 2368.0 1410.6 2368.0 1409.1 2368.1 1407.6 2368.1 1406.1 2368.2 1404.6 2368.2 1403.1 2368.3 1401.6 2368.4 1400.1 2368.4 1398.6 2368.5 1397.1 2368.6 1395.6 2368.8 1394.1 2368.9 1392.6 2369.1 1391.2 2369.3 1389.7 2369.5 1388.2 2369.8 1386.7 2370.3 1385.3 2370.9 1383.9 2372.1 1383.1 2373.6 1383.1 2375.0 1382.7 2375.8 1381.4 2376.3 1380.0 2376.7 1378.6 2377.0 1377.1 2377.2 1375.6 2377.4 1374.1 2377.6 1372.6 2377.7 1371.1 2377.8 1369.6 2377.9 1368.1 2378.0 1366.6 2378.1 1365.1 2378.2 1363.6 2378.2 1362.1 2378.3 1360.6 2378.3 1359.1 2378.4 1357.6 2378.4 1356.1 2378.4 1354.6 2378.5 1353.1 2378.5 1351.6 2378.5 1350.1 2378.6 1348.6 2378.6 1347.1 2378.6 1345.6 2378.6 1344.1 2378.7 1342.6 2378.7 1341.1 2378.7 1339.6 2378.7 1338.1 2378.8 1336.6 2378.8 1335.1 2378.8 1333.6 2378.8 1332.1 2378.9 1330.6 2378.9 1329.1 2379.0 1327.6 2379.0 1326.1 2379.1 1324.6 2379.1 1323.1 2379.2 1321.6 2379.2 1320.1 2379.3 1318.6 2379.4 1317.1 2379.5 1315.6 2379.6 1314.1 2379.6 1312.6 2379.7 1311.1 2379.8 1309.6 2379.9 1308.1 2380.0 1306.6 2380.2 1305.1 2380.3 1303.6 2380.4 1302.1 2380.5 1300.6 2380.6 1299.1 2380.8 1297.6 2380.9 1296.1 2381.0 1294.6 2381.2 1293.1 2381.3 1291.6 2381.5 1290.1 2381.6 1288.6 2381.7 1287.1 2381.9 1285.6 2382.0 1284.1 2382.2 1282.7 2382.3 1281.2 2382.5 1279.7 2382.6 1278.2 2382.7 1276.7 2382.9 1275.2 2383.0 1273.7 2383.1 1272.2 2383.3 1270.7 2383.4 1269.2 2383.5 1267.7 2383.6 1266.2 2383.7 1264.7 2383.9 1263.2 2384.0 1261.7 2384.1 1260.2 2384.2 1258.7 2384.3 1257.2 2384.4 1255.7 2384.5 1254.2 2384.6 1252.7 2384.7 1251.2 2384.8 1249.7 2384.9 1248.2 2385.0 1246.7 2385.1 1245.2 2385.1 1243.7 2385.2 1242.2 2385.3 1240.7 2385.4 1239.2 2385.5 1237.7 2385.6 1236.2 2385.7 1234.7 2385.8 1233.2 2385.9 1231.7 2385.9 1230.2 2386.0 1228.7 2386.1 1227.2 2386.2 1225.7 2386.3 1224.2 2386.4 1222.7 2386.5 1221.2 2386.5 1219.7 2386.6 1218.2 2386.7 1216.7 2386.8 1215.2 2386.9 1213.7 2387.0 1212.2 2387.1 1210.7 2387.2 1209.2 2387.3 1207.7 2387.4 1206.2 2387.4 1204.7 2387.5 1203.2 2387.6 1201.7 2387.7 1200.2 2387.8 1198.7 2387.9 1197.2 2388.0 1195.7 2388.1 1194.2 2388.2 1192.7 2388.3 1191.2 2388.4 1189.7 2388.5 1188.2 2388.6 1186.7 2388.6 1185.2 2388.7 1183.7 2388.8 1182.3 2388.9 1180.8 2389.0 1179.3 2389.1 1177.8 2389.2 1176.3 2389.3 1174.8 2389.4 1173.3 2389.4 1171.8 2389.5 1170.3 2389.6 1168.8 2389.7 1167.3 2389.8 1165.8 2389.9 1164.3 2390.0 1162.8 2390.0 1161.3 2390.1 1159.8 2390.2 1158.3 2390.3 1156.8 2390.4 1155.3 2390.4 1153.8 2390.5 1152.3 2390.6 1150.8 2390.7 1149.3 2390.8 1147.8 2390.8 1146.3 2390.9 1144.8 2391.0 1143.3 2391.1 1141.8 2391.2 1140.3 2391.2 1138.8 2391.3 1137.3 2391.4 1135.8 2391.5 1134.3 2391.6 1132.8 2391.7 1131.3 2391.8 1129.8 2391.8 1128.3 2391.9 1126.8 2392.0 1125.3 2392.1 1123.8 2392.2 1122.3 2392.3 1120.8 2392.4 1119.3 2392.5 1117.8 2392.6 1116.3 2392.7 1114.8 2392.8 1113.3 2392.9 1111.8 2393.1 1110.3 2393.2 1108.8 2393.3 1107.3 2393.4 1105.8 2393.6 1104.3 2393.7 1102.8 2393.8 1101.3 2394.0 1099.8 2394.1 1098.3 2394.3 1096.8 2394.4 1095.3 2394.6 1093.8 2394.7 1092.3 2394.9 1090.8 2395.0 1089.4 2395.2 1087.9 2395.4 1086.4 2395.5 1084.9 2395.7 1083.4 2395.9 1081.9 2396.0 1080.4 2396.2 1078.9 2396.4 1077.4 2396.6 1075.9 2396.7 1074.4 2396.9 1072.9 2397.1 1071.4 2397.3 1070.0 2397.4 1068.5 2397.6 1067.0 2397.8 1065.5 2398.0 1064.0 2398.1 1062.5 2398.3 1061.0 2398.5 1059.5 2398.7 1058.0 2398.8 1056.5 2399.0 1055.0 2399.2 1053.5 2399.4 1052.1 2399.5 1050.6 2399.7 1049.1 2399.9 1047.6 2400.1 1046.1 2400.3 1044.6 2400.5 1043.1 2400.7 1041.6 2400.9 1040.1 2401.1 1038.6 2401.3 1037.2 2401.5 1035.7 2401.7 1034.2 2402.0 1032.7 2402.2 1031.2 2402.4 1029.7 2402.7 1028.3 2402.9 1026.8 2403.2 1025.3 2403.4 1023.8 2403.7 1022.3 2404.0 1020.9 2404.3 1019.4 2404.6 1017.9 2405.0 1016.5 2405.3 1015.0 2405.8 1013.6 2406.2 1012.1 2406.8 1010.7 2407.6 1009.5 2408.9 1009.2 2409.8 1010.3 2410.4 1011.7 2410.9 1013.1 2411.4 1014.5 2411.8 1016.0 2412.2 1017.4 2412.5 1018.9 2412.8 1020.4 2413.1 1021.8 2413.4 1023.3 2413.7 1024.8 2414.0 1026.3 2414.3 1027.7 2414.5 1029.2 2414.8 1030.7 2415.0 1032.2 2415.3 1033.7 2415.5 1035.2 2415.7 1036.6 2415.9 1038.1 2416.1 1039.6 2416.3 1041.1 2416.5 1042.6 2416.7 1044.1 2416.9 1045.6 2417.1 1047.1 2417.3 1048.6 2417.5 1050.0 2417.6 1051.5 2417.8 1053.0 2418.0 1054.5 2418.2 1056.0 2418.3 1057.5 2418.5 1059.0 2418.7 1060.5 2418.8 1062.0 2419.0 1063.5 2419.2 1065.0 2419.3 1066.5 2419.5 1067.9 2419.7 1069.4 2419.8 1070.9 2420.0 1072.4 2420.2 1073.9 2420.4 1075.4 2420.5 1076.9 2420.7 1078.4 2420.9 1079.9 2421.1 1081.4 2421.2 1082.9 2421.4 1084.4 2421.6 1085.9 2421.7 1087.3 2421.9 1088.8 2422.1 1090.3 2422.2 1091.8 2422.4 1093.3 2422.5 1094.8 2422.7 1096.3 2422.8 1097.8 2423.0 1099.3 2423.1 1100.8 2423.3 1102.3 2423.4 1103.8 2423.5 1105.3 2423.7 1106.8 2423.8 1108.3 2423.9 1109.8 2424.0 1111.3 2424.1 1112.8 2424.2 1114.3 2424.4 1115.8 2424.5 1117.3 2424.6 1118.8 2424.7 1120.3 2424.8 1121.8 2424.8 1123.3 2424.9 1124.8 2425.0 1126.2 2425.1 1127.7 2425.2 1129.2 2425.3 1130.7 2425.4 1132.2 2425.5 1133.7 2425.5 1135.2 2425.6 1136.7 2425.7 1138.2 2425.8 1139.7 2425.9 1141.2 2425.9 1142.7 2426.0 1144.2 2426.1 1145.7 2426.2 1147.2 2426.3 1148.7 2426.4 1150.2 2426.4 1151.7 2426.5 1153.2 2426.6 1154.7 2426.7 1156.2 2426.8 1157.7 2426.8 1159.2 2426.9 1160.7 2427.0 1162.2 2427.1 1163.7 2427.2 1165.2 2427.3 1166.7 2427.4 1168.2 2427.5 1169.7 2427.6 1171.2 2427.7 1172.7 2427.8 1174.2 2427.9 1175.7 2428.0 1177.2 2428.1 1178.7 2428.2 1180.2 2428.3 1181.7 2428.4 1183.2 2428.5 1184.7 2428.6 1186.2 2428.7 1187.7 2428.8 1189.2 2428.9 1190.7 2429.0 1192.2 2429.1 1193.7 2429.2 1195.2 2429.3 1196.7 2429.4 1198.2 2429.5 1199.7 2429.6 1201.2 2429.7 1202.7 2429.8 1204.2 2429.9 1205.7 2430.0 1207.2 2430.1 1208.7 2430.2 1210.2 2430.3 1211.7 2430.3 1213.2 2430.4 1214.7 2430.5 1216.2 2430.6 1217.7 2430.7 1219.2 2430.8 1220.7 2430.9 1222.2 2431.0 1223.7 2431.1 1225.2 2431.1 1226.7 2431.2 1228.2 2431.3 1229.7 2431.4 1231.2 2431.5 1232.7 2431.5 1234.2 2431.6 1235.7 2431.7 1237.2 2431.8 1238.7 2431.9 1240.2 2432.0 1241.7 2432.0 1243.2 2432.1 1244.7 2432.2 1246.2 2432.3 1247.7 2432.4 1249.2 2432.5 1250.7 2432.5 1252.2 2432.6 1253.7 2432.7 1255.2 2432.8 1256.7 2432.9 1258.2 2433.0 1259.7 2433.1 1261.2 2433.2 1262.7 2433.3 1264.2 2433.4 1265.7 2433.5 1267.2 2433.6 1268.7 2433.7 1270.2 2433.8 1271.7 2434.0 1273.2 2434.1 1274.7 2434.2 1276.2 2434.3 1277.7 2434.5 1279.1 2434.6 1280.6 2434.7 1282.1 2434.9 1283.6 2435.0 1285.1 2435.1 1286.6 2435.3 1288.1 2435.4 1289.6 2435.6 1291.1 2435.7 1292.6 2435.8 1294.1 2436.0 1295.6 2436.1 1297.1 2436.2 1298.6 2436.3 1300.1 2436.5 1301.6 2436.6 1303.1 2436.7 1304.6 2436.8 1306.1 2436.9 1307.6 2437.0 1309.1 2437.1 1310.6 2437.2 1312.1 2437.3 1313.6 2437.4 1315.1 2437.5 1316.6 2437.6 1318.1 2437.7 1319.6 2437.8 1321.1 2437.8 1322.6 2437.9 1324.1 2438.0 1325.6 2438.0 1327.1 2438.1 1328.6 2438.1 1330.1 2438.2 1331.6 2438.2 1333.1 2438.3 1334.6 2438.3 1336.1 2438.4 1337.6 2438.4 1339.1 2438.4 1340.6 2438.5 1342.1 2438.5 1343.6 2438.6 1345.1 2438.6 1346.6 2438.6 1348.1 2438.7 1349.6 2438.7 1351.1 2438.7 1352.6 2438.8 1354.1 2438.8 1355.6 2438.8 1357.1 2438.9 1358.6 2438.9 1360.1 2439.0 1361.6 2439.0 1363.1 2439.1 1364.6 2439.1 1366.1 2439.2 1367.6 2439.2 1369.1 2439.3 1370.6 2439.4 1372.1 2439.5 1373.6 2439.6 1375.1 2439.7 1376.6 2439.8 1378.1 2440.0 1379.6 2440.2 1381.1 2440.5 1382.5 2441.5 1383.2 2442.6 1383.3 2443.1 1384.7 2443.4 1386.2 2443.6 1387.7 2443.8 1389.2 2443.9 1390.7 2444.0 1392.2 2444.2 1393.7 2444.3 1395.2 2444.4 1396.7 2444.5 1398.2 2444.6 1399.7 2444.7 1401.2 2444.7 1402.7 2444.8 1404.2 2444.9 1405.7 2445.0 1407.2 2445.1 1408.7 2445.1 1410.2 2445.2 1411.7 2445.3 1413.2 2445.3 1414.7 2445.4 1416.2 2445.5 1417.7 2445.5 1419.2 2445.6 1420.7 2445.7 1422.2 2445.8 1423.7 2445.8 1425.2 2445.9 1426.7 2446.0 1428.2 2446.0 1429.7 2446.1 1431.2 2446.2 1432.7 2446.3 1434.2 2446.4 1435.7 2446.5 1437.2 2446.6 1438.7 2446.7 1440.2 2446.8 1441.7 2446.9 1443.2 2447.0 1444.7 2447.1 1446.1 2447.2 1447.6 2447.3 1449.1 2447.4 1450.6 2447.6 1452.1 2447.7 1453.6 2447.8 1455.1 2448.0 1456.6 2448.1 1458.1 2448.3 1459.6 2448.4 1461.1 2448.6 1462.6 2448.7 1464.1 2448.9 1465.6 2449.1 1467.1 2449.2 1468.6 2449.4 1470.1 2449.6 1471.6 2449.8 1473.0 2449.9 1474.5 2450.1 1476.0 2450.3 1477.5 2450.5 1479.0 2450.6 1480.5 2450.8 1482.0 2451.0 1483.5 2451.2 1485.0 2451.3 1486.5 2451.5 1488.0 2451.7 1489.5 2451.9 1490.9 2452.0 1492.4 2452.2 1493.9 2452.3 1495.4 2452.5 1496.9 2452.6 1498.4 2452.8 1499.9 2453.0 1501.4 2453.1 1502.9 2453.2 1504.4 2453.4 1505.9 2453.5 1507.4 2453.7 1508.9 2453.8 1510.4 2454.0 1511.9 2454.1 1513.4 2454.3 1514.9 2454.4 1516.4 2454.5 1517.8 2454.7 1519.3 2454.8 1520.8 2455.0 1522.3 2455.1 1523.8 2455.3 1525.3 2455.4 1526.8 2455.6 1528.3 2455.7 1529.8 2455.8 1531.3 2456.0 1532.8 2456.1 1534.3 2456.3 1535.8 2456.4 1537.3 2456.6 1538.8 2456.8 1540.3 2456.9 1541.8 2457.1 1543.3 2457.2 1544.7 2457.4 1546.2 2457.6 1547.7 2457.7 1549.2 2457.9 1550.7 2458.1 1552.2 2458.2 1553.7 2458.4 1555.2 2458.6 1556.7 2458.8 1558.2 2459.0 1559.7 2459.1 1561.2 2459.3 1562.6 2459.5 1564.1 2459.7 1565.6 2459.9 1567.1 2460.1 1568.6 2460.3 1570.1 2460.5 1571.6 2460.7 1573.1 2460.8 1574.6 2461.0 1576.1 2461.2 1577.5 2461.4 1579.0 2461.6 1580.5 2461.8 1582.0 2462.0 1583.5 2462.2 1585.0 2462.4 1586.5 2462.6 1588.0 2462.8 1589.5 2463.0 1590.9 2463.2 1592.4 2463.4 1593.9 2463.6 1595.4 2463.8 1596.9 2464.0 1598.4 2464.1 1599.9 2464.3 1601.4 2464.5 1602.9 2464.7 1604.4 2464.9 1605.8 2465.1 1607.3 2465.3 1608.8 2465.5 1610.3 2465.7 1611.8 2465.8 1613.3 2466.0 1614.8 2466.2 1616.3 2466.4 1617.8 2466.6 1619.3 2466.8 1620.7 2467.0 1622.2 2467.1 1623.7 2467.3 1625.2 2467.5 1626.7 2467.7 1628.2 2467.9 1629.7 2468.1 1631.2 2468.3 1632.7 2468.4 1634.2 2468.6 1635.7 2468.8 1637.1 2469.0 1638.6 2469.2 1640.1 2469.4 1641.6 2469.5 1643.1 2469.7 1644.6 2469.9 1646.1 2470.1 1647.6 2470.3 1649.1 2470.5 1650.6 2470.7 1652.0 2470.8 1653.5 2471.0 1655.0 2471.2 1656.5 2471.4 1658.0 2471.6 1659.5 2471.8 1661.0 2472.0 1662.5 2472.2 1664.0 2472.5 1665.4 2472.7 1666.9 2473.0 1668.4 2473.2 1669.9 2473.5 1671.4 2473.8 1672.8 2474.1 1674.3 2474.4 1675.8 2474.7 1677.2 2475.0 1678.7 2475.4 1680.2 2475.7 1681.6 2476.1 1683.1 2476.5 1684.5 2476.9 1686.0 2477.3 1687.4 2477.7 1688.9 2478.1 1690.3 2478.6 1691.8 2479.0 1693.2 2479.4 1694.6 2479.9 1696.1 2480.4 1697.5 2480.8 1698.9 2481.3 1700.3 2481.8 1701.8 2482.3 1703.2 2482.8 1704.6 2483.3 1706.0 2483.8 1707.4 2484.4 1708.8 2484.9 1710.2 2485.5 1711.6 2486.0 1713.0 2486.6 1714.4 2487.2 1715.8 2487.8 1717.2 2488.4 1718.5 2489.0 1719.9 2489.7 1721.2 2490.4 1722.6 2491.1 1723.9 2491.9 1725.2 2492.8 1726.4 2493.7 1727.5 2494.8 1728.6 2496.0 1729.5 2497.2 1730.4 2498.5 1731.1 2499.9 1731.8 2501.2 1732.5 2502.6 1733.1 2503.9 1733.7 2505.3 1734.3 2506.7 1734.9 2508.1 1735.5 2509.5 1736.0 2510.9 1736.6 2512.3 1737.2 2513.7 1737.7 2515.1 1738.3 2516.5 1738.8 2517.9 1739.3 2519.3 1739.9 2520.7 1740.4 2522.1 1741.0 2523.5 1741.5 2524.9 1742.1 2526.2 1742.6 2527.6 1743.2 2529.0 1743.7 2530.4 1744.3 2531.8 1744.8 2533.2 1745.4 2534.6 1745.9 2536.1 1746.4 2537.5 1746.9 2538.9 1747.4 2540.3 1747.9 2541.8 1748.3 2543.2 1748.7 2544.7 1749.1 2546.1 1749.4 2547.6 1749.8 2549.1 1750.1 2550.5 1750.3 2552.0 1750.6 2553.5 1750.8 2555.0 1751.0 2556.5 1751.2 2558.0 1751.3 2559.5 1751.5 2561.0 1751.6 2562.5 1751.7 2564.0 1751.8 2565.5 1751.9 2567.0 1752.0 2568.5 1752.1 2570.0 1752.2 2571.5 1752.3 2573.0 1752.3 2574.5 1752.4 2576.0 1752.5 2577.5 1752.5 2579.0 1752.6 2580.5 1752.7 2582.0 1752.7 2583.5 1752.8 2585.0 1752.8 2586.5 1752.9 2588.0 1752.9 2589.5 1752.9 2591.0 1753.0 2592.5 1753.0 2594.0 1753.0 2595.5 1753.1 2597.0 1753.1 2598.5 1753.1 2600.0 1753.2 2601.5 1753.2 2603.0 1753.2 2604.5 1753.3 2606.0 1753.3 2607.5 1753.3 2609.0 1753.3 2610.5 1753.3 2612.0 1753.4 2613.5 1753.4 2615.0 1753.4 2616.5 1753.4 2618.0 1753.4 2619.5 1753.5 2621.0 1753.5 2622.5 1753.5 2624.0 1753.5 2625.5 1753.5 2627.0 1753.5 2628.5 1753.5 2630.0 1753.6 2631.5 1753.6 2633.0 1753.6 2634.5 1753.6 2636.0 1753.6 2637.5 1753.6 2639.0 1753.6 2640.5 1753.6 2642.0 1753.6 2643.5 1753.7 2645.0 1753.7 2646.5 1753.7 2648.0 1753.7 2649.5 1753.7 2651.0 1753.7 2652.5 1753.7 2654.0 1753.7 2655.5 1753.7 2657.0 1753.7 2658.5 1753.7 2660.1 1753.7 2661.6 1753.7 2663.1 1753.7 2664.6 1753.8 2666.1 1753.8 2667.6 1753.8 2669.1 1753.8 2670.6 1753.8 2672.1 1753.8 2673.6 1753.8 2675.1 1753.8 2676.6 1753.8 2678.1 1753.8 2679.6 1753.8 2681.1 1753.8 2682.6 1753.8 2684.1 1753.8 2685.6 1753.8 2687.1 1753.8 2688.6 1753.8 2690.1 1753.8 2691.6 1753.8 2693.1 1753.9 2694.6 1753.9 2696.1 1753.9 2697.6 1753.9 2699.1 1753.9 2700.6 1753.9 2702.1 1753.9 2703.6 1753.9 2705.1 1753.9 2706.6 1753.9 2708.1 1753.9 2709.6 1753.9 2711.1 1753.9 2712.6 1753.9 2714.1 1753.9 2715.6 1753.9 2717.1 1753.9 2718.6 1753.9 2720.1 1753.9 2721.6 1753.9 2723.1 1753.9 2724.6 1753.9 2726.1 1753.9 2727.6 1753.9 2729.1 1753.9 2730.6 1753.9 2732.1 1754.0 2733.6 1754.0 2735.1 1754.0 2736.6 1754.0 2738.1 1754.0 2739.7 1754.0 2741.2 1754.0 2742.7 1754.0 2744.2 1754.0 2745.7 1754.0 2747.2 1754.0 2748.7 1754.0 2750.2 1754.0 2751.7 1754.0 2753.2 1754.0 2754.7 1754.0 2756.2 1754.0 2757.7 1754.0 2759.2 1754.0 2760.7 1754.0 2762.2 1754.0 2763.7 1754.0 2765.2 1754.0 2766.7 1754.0 2768.2 1754.0 2769.7 1754.0 2771.2 1754.0 2772.7 1754.0 2774.2 1754.0 2775.7 1754.0 2777.2 1754.0 2778.7 1754.0 2780.2 1754.0 2781.7 1754.0 2783.2 1754.0 2784.7 1754.0 2786.2 1754.0 2787.7 1754.1 2789.2 1754.1 2790.7 1754.1 2792.2 1754.1 2793.7 1754.1 2795.2 1754.1 2796.7 1754.1 2798.2 1754.1 2799.7 1754.1 2801.2 1754.1 2802.7 1754.1 2804.2 1754.1 2805.7 1754.1 2807.2 1754.1 2808.7 1754.1 2810.2 1754.1 2811.7 1754.1 2813.2 1754.1 2814.7 1754.1 2816.2 1754.1 2817.8 1754.1 2819.3 1754.1 2820.8 1754.1 2822.3 1754.1 2823.8 1754.1 2825.3 1754.1 2826.8 1754.1 2828.3 1754.1 2829.8 1754.1 2831.3 1754.1 2832.8 1754.1 2834.3 1754.1 2835.8 1754.1 2837.3 1754.1 2838.8 1754.1 2840.3 1754.1 2841.8 1754.1 2843.3 1754.1 2844.8 1754.1 2846.3 1754.1 2847.8 1754.1 2849.3 1754.1 2850.8 1754.1 2852.3 1754.1 2853.8 1754.1 2855.3 1754.1 2856.8 1754.1 2858.3 1754.1 2859.8 1754.1 2861.3 1754.1 2862.8 1754.1 2864.3 1754.1 2865.8 1754.1 2867.3 1754.1 2868.8 1754.1 2870.3 1754.1 2871.8 1754.1 2873.3 1754.2 2874.8 1754.2 2876.3 1754.2 2877.8 1754.2 2879.3 1754.2 2880.8 1754.2 2882.3 1754.2 2883.8 1754.2 2885.3 1754.2 2886.8 1754.2 2888.3 1754.2 2889.8 1754.2 2891.3 1754.2 2892.8 1754.2 2894.3 1754.2 2895.8 1754.2 2897.4 1754.2 2898.9 1754.2 2900.4 1754.2" fill="none" stroke="#000" stroke-width="6.8" stroke-dasharray="22 22"/>
<path clip-path="url(#cd)" d="M1916.8 1745.3L1917.4 1748.6 1918.0 1745.4 1918.6 1747.0 1919.2 1746.9 1919.8 1749.0 1920.4 1748.2 1921.0 1747.0 1921.6 1745.7 1922.2 1743.7 1922.8 1747.7 1923.4 1743.6 1924.0 1745.0 1924.6 1747.2 1925.2 1744.1 1925.8 1749.8 1926.4 1750.3 1927.0 1743.7 1927.6 1748.2 1928.2 1745.5 1928.8 1744.9 1929.4 1747.1 1930.0 1742.1 1930.6 1750.5 1931.2 1749.7 1931.8 1749.4 1932.4 1747.9 1933.0 1748.7 1933.6 1744.2 1934.2 1749.3 1934.8 1748.8 1935.4 1748.1 1936.0 1744.4 1936.6 1747.5 1937.2 1750.2 1937.8 1744.8 1938.4 1742.8 1939.0 1744.9 1939.6 1744.9 1940.2 1743.4 1940.8 1750.1 1941.4 1749.7 1942.0 1744.8 1942.6 1743.3 1943.2 1751.2 1943.8 1749.1 1944.4 1750.3 1945.0 1750.9 1945.6 1746.4 1946.2 1743.7 1946.8 1743.8 1947.4 1743.1 1948.0 1747.1 1948.6 1747.0 1949.2 1742.9 1949.8 1743.9 1950.4 1749.5 1951.0 1743.2 1951.6 1748.1 1952.2 1746.9 1952.8 1744.1 1953.4 1749.9 1954.0 1743.5 1954.6 1747.0 1955.2 1750.6 1955.8 1747.0 1956.4 1745.6 1957.0 1748.1 1957.6 1748.9 1958.2 1748.2 1958.8 1748.0 1959.4 1747.2 1960.0 1748.3 1960.6 1744.8 1961.2 1748.7 1961.8 1744.5 1962.4 1744.4 1963.0 1743.4 1963.6 1749.0 1964.2 1745.2 1964.8 1747.4 1965.4 1746.3 1966.0 1749.0 1966.6 1743.7 1967.2 1743.9 1967.8 1747.3 1968.4 1744.5 1969.0 1747.6 1969.6 1746.8 1970.2 1747.5 1970.8 1747.9 1971.4 1744.7 1972.0 1746.4 1972.6 1749.9 1973.2 1744.3 1973.8 1743.4 1974.4 1743.0 1975.0 1747.8 1975.7 1746.2 1976.3 1746.9 1976.9 1745.2 1977.5 1747.2 1978.1 1748.3 1978.7 1742.1 1979.3 1742.9 1979.9 1744.7 1980.5 1746.0 1981.1 1743.7 1981.7 1748.3 1982.3 1745.6 1982.9 1752.5 1983.5 1742.7 1984.1 1746.2 1984.7 1744.7 1985.3 1750.2 1985.9 1742.8 1986.5 1744.5 1987.1 1746.5 1987.7 1743.5 1988.3 1747.2 1988.9 1749.7 1989.5 1747.7 1990.1 1744.5 1990.7 1747.4 1991.3 1749.9 1991.9 1745.6 1992.5 1742.7 1993.1 1748.3 1993.7 1743.5 1994.3 1748.9 1994.9 1742.9 1995.5 1745.2 1996.1 1745.7 1996.7 1748.0 1997.3 1744.5 1997.9 1747.5 1998.5 1746.5 1999.1 1749.5 1999.7 1750.5 2000.3 1748.5 2000.9 1746.7 2001.5 1744.4 2002.1 1749.9 2002.7 1749.2 2003.3 1746.9 2003.9 1744.6 2004.5 1747.6 2005.1 1745.3 2005.7 1749.9 2006.3 1749.7 2006.9 1745.4 2007.5 1745.6 2008.1 1743.6 2008.7 1743.3 2009.3 1749.0 2009.9 1744.1 2010.5 1750.5 2011.1 1747.0 2011.7 1747.2 2012.3 1743.2 2012.9 1744.5 2013.5 1748.3 2014.1 1744.5 2014.7 1746.3 2015.3 1745.1 2015.9 1748.2 2016.5 1745.9 2017.1 1748.7 2017.7 1746.0 2018.3 1748.8 2018.9 1749.2 2019.5 1747.1 2020.1 1748.6 2020.7 1745.7 2021.3 1744.7 2021.9 1747.7 2022.5 1748.4 2023.1 1748.9 2023.7 1749.6 2024.3 1745.8 2024.9 1744.4 2025.5 1744.3 2026.1 1746.5 2026.7 1743.4 2027.3 1742.4 2027.9 1748.7 2028.5 1748.0 2029.1 1745.4 2029.7 1745.7 2030.3 1748.9 2030.9 1749.0 2031.5 1746.3 2032.1 1746.3 2032.7 1744.8 2033.3 1744.9 2033.9 1748.0 2034.5 1746.8 2035.1 1749.6 2035.7 1747.7 2036.3 1747.4 2036.9 1748.0 2037.5 1748.8 2038.1 1744.0 2038.7 1747.8 2039.3 1741.4 2039.9 1742.0 2040.5 1745.5 2041.1 1742.3 2041.7 1743.3 2042.3 1748.5 2042.9 1744.9 2043.5 1746.8 2044.1 1749.8 2044.7 1743.5 2045.3 1743.2 2045.9 1742.5 2046.5 1746.4 2047.1 1744.8 2047.7 1742.4 2048.3 1745.7 2048.9 1744.1 2049.5 1744.7 2050.1 1748.4 2050.7 1742.7 2051.3 1744.9 2051.9 1744.1 2052.5 1749.0 2053.1 1741.8 2053.7 1745.8 2054.3 1743.0 2054.9 1748.9 2055.5 1743.4 2056.1 1740.2 2056.7 1743.7 2057.3 1748.5 2057.9 1745.1 2058.5 1748.4 2059.1 1743.0 2059.7 1743.1 2060.3 1746.5 2060.9 1747.6 2061.5 1747.6 2062.1 1742.6 2062.7 1741.1 2063.3 1748.6 2063.9 1742.5 2064.5 1745.5 2065.1 1742.1 2065.7 1741.8 2066.3 1744.5 2066.9 1746.7 2067.5 1749.4 2068.1 1748.5 2068.7 1746.1 2069.3 1746.0 2069.9 1748.4 2070.5 1742.7 2071.1 1746.4 2071.7 1748.2 2072.3 1747.6 2072.9 1746.7 2073.5 1748.7 2074.1 1748.1 2074.7 1744.3 2075.3 1743.7 2075.9 1745.1 2076.5 1744.4 2077.1 1742.5 2077.7 1747.5 2078.3 1741.4 2078.9 1746.1 2079.5 1747.7 2080.1 1748.2 2080.7 1748.4 2081.3 1748.3 2081.9 1746.7 2082.5 1744.2 2083.1 1745.0 2083.7 1743.8 2084.3 1742.8 2084.9 1747.2 2085.5 1745.5 2086.1 1741.8 2086.7 1744.1 2087.3 1742.5 2087.9 1743.3 2088.5 1743.1 2089.1 1742.2 2089.7 1740.4 2090.3 1745.1 2090.9 1743.4 2091.5 1744.3 2092.1 1741.3 2092.7 1745.3 2093.3 1742.1 2093.9 1745.5 2094.5 1743.6 2095.1 1742.2 2095.7 1743.4 2096.3 1742.2 2096.9 1745.9 2097.5 1740.7 2098.1 1746.3 2098.7 1746.1 2099.3 1745.6 2099.9 1747.4 2100.5 1743.1 2101.1 1748.3 2101.7 1748.2 2102.3 1741.8 2102.9 1741.0 2103.5 1742.2 2104.1 1746.3 2104.7 1745.5 2105.3 1743.4 2105.9 1742.0 2106.5 1745.4 2107.1 1739.0 2107.7 1743.5 2108.3 1744.3 2108.9 1741.2 2109.5 1742.5 2110.1 1742.4 2110.7 1746.2 2111.3 1740.2 2111.9 1743.4 2112.5 1740.3 2113.1 1742.9 2113.7 1740.4 2114.2 1743.8 2114.8 1738.2 2115.4 1744.4 2116.0 1739.4 2116.6 1743.6 2117.2 1746.5 2117.8 1743.9 2118.4 1744.5 2119.0 1741.5 2119.6 1744.3 2120.2 1748.1 2120.8 1741.4 2121.4 1746.9 2122.0 1742.7 2122.6 1744.9 2123.2 1744.5 2123.8 1743.1 2124.4 1738.5 2125.0 1740.3 2125.6 1740.8 2126.2 1744.8 2126.8 1738.2 2127.4 1740.3 2128.0 1743.1 2128.6 1741.6 2129.2 1747.2 2129.8 1740.7 2130.4 1744.6 2131.0 1737.4 2131.6 1742.7 2132.2 1741.3 2132.8 1738.9 2133.4 1744.8 2134.0 1743.1 2134.6 1737.6 2135.2 1744.9 2135.8 1736.7 2136.4 1740.8 2137.0 1743.6 2137.6 1737.2 2138.2 1744.9 2138.8 1743.7 2139.4 1739.1 2140.0 1743.4 2140.6 1741.3 2141.2 1741.6 2141.8 1741.4 2142.4 1742.5 2143.0 1743.3 2143.6 1740.6 2144.2 1742.9 2144.8 1742.1 2145.4 1744.8 2146.0 1743.9 2146.6 1740.3 2147.2 1741.0 2147.8 1742.3 2148.4 1746.2 2149.0 1739.6 2149.6 1743.6 2150.2 1740.2 2150.8 1743.5 2151.4 1745.9 2152.0 1738.9 2152.5 1739.0 2153.1 1744.2 2153.7 1743.0 2154.3 1743.2 2154.9 1738.2 2155.5 1740.0 2156.0 1739.1 2156.6 1745.0 2157.2 1737.3 2157.8 1742.4 2158.4 1738.9 2158.9 1739.0 2159.5 1735.6 2160.1 1742.9 2160.6 1738.0 2161.2 1739.5 2161.8 1734.5 2162.4 1739.6 2162.9 1739.6 2163.5 1738.8 2164.1 1737.7 2164.6 1734.4 2165.2 1740.4 2165.8 1739.2 2166.3 1734.3 2166.9 1734.1 2167.4 1738.3 2168.0 1736.8 2168.6 1734.6 2169.1 1739.8 2169.7 1736.9 2170.2 1736.3 2170.8 1733.0 2171.3 1738.9 2171.9 1735.4 2172.4 1737.0 2173.0 1737.1 2173.5 1732.9 2174.1 1730.4 2174.6 1736.9 2175.2 1733.7 2175.7 1736.7 2176.2 1730.6 2176.8 1730.7 2177.3 1728.1 2177.9 1730.4 2178.4 1732.7 2178.9 1727.8 2179.5 1729.3 2180.0 1734.2 2180.5 1728.4 2181.0 1728.0 2181.6 1727.4 2182.1 1732.8 2182.6 1727.2 2183.1 1731.2 2183.7 1730.2 2184.2 1726.0 2184.7 1730.6 2185.2 1731.3 2185.7 1728.3 2186.2 1732.2 2186.8 1730.8 2187.3 1724.1 2187.8 1725.4 2188.3 1729.4 2188.8 1725.8 2189.3 1723.7 2189.9 1728.5 2190.4 1721.0 2190.9 1725.1 2191.4 1727.6 2191.9 1725.1 2192.5 1722.1 2193.0 1725.3 2193.5 1720.7 2194.0 1724.2 2194.5 1724.3 2195.1 1721.9 2195.6 1719.2 2196.1 1717.9 2196.7 1719.8 2197.2 1720.1 2197.7 1717.2 2198.3 1725.0 2198.8 1723.9 2199.3 1722.3 2199.9 1720.8 2200.4 1715.5 2201.0 1715.2 2201.5 1720.5 2202.1 1722.0 2202.6 1715.2 2203.2 1721.4 2203.7 1714.1 2204.3 1719.0 2204.8 1715.2 2205.4 1714.0 2205.9 1715.2 2206.5 1720.8 2207.0 1716.3 2207.6 1721.3 2208.1 1715.1 2208.7 1716.8 2209.3 1720.0 2209.8 1719.2 2210.4 1714.3 2210.9 1713.8 2211.5 1719.7 2212.0 1714.3 2212.6 1715.0 2213.2 1712.8 2213.7 1714.4 2214.3 1715.2 2214.8 1712.4 2215.4 1708.6 2215.9 1713.1 2216.5 1711.0 2217.0 1712.0 2217.6 1710.2 2218.2 1708.2 2218.7 1714.4 2219.3 1716.4 2219.8 1711.2 2220.4 1713.5 2220.9 1710.3 2221.5 1712.4 2222.0 1713.6 2222.6 1708.0 2223.1 1709.2 2223.6 1714.0 2224.2 1706.7 2224.7 1707.3 2225.3 1714.0 2225.8 1711.5 2226.3 1708.8 2226.9 1707.0 2227.4 1708.7 2227.9 1707.1 2228.5 1709.7 2229.0 1709.0 2229.5 1710.7 2230.0 1710.5 2230.5 1705.2 2231.1 1707.4 2231.6 1702.8 2232.1 1702.6 2232.6 1708.2 2233.1 1708.1 2233.5 1703.7 2234.0 1699.7 2234.5 1705.0 2235.0 1707.2 2235.4 1699.4 2235.9 1700.5 2236.3 1701.6 2236.7 1697.0 2237.1 1697.0 2237.6 1701.7 2238.0 1703.3 2238.3 1702.3 2238.7 1698.9 2239.1 1697.1 2239.5 1700.6 2239.8 1700.2 2240.2 1694.6 2240.5 1697.3 2240.9 1692.0 2241.2 1691.3 2241.5 1696.5 2241.8 1696.9 2242.2 1696.9 2242.5 1689.0 2242.8 1689.0 2243.1 1693.3 2243.4 1687.6 2243.7 1692.8 2244.1 1693.4 2244.4 1692.1 2244.7 1691.4 2245.0 1689.0 2245.4 1688.2 2245.7 1691.9 2246.1 1687.9 2246.4 1691.7 2246.8 1687.1 2247.2 1683.8 2247.6 1685.5 2248.0 1680.8 2248.4 1683.1 2248.8 1688.6 2249.3 1683.4 2249.7 1684.4 2250.1 1680.5 2250.6 1681.5 2251.1 1682.4 2251.5 1679.2 2252.0 1680.4 2252.5 1687.1 2252.9 1682.7 2253.4 1679.7 2253.9 1682.7 2254.4 1677.7 2254.9 1676.3 2255.4 1679.5 2255.9 1681.1 2256.4 1679.0 2256.9 1679.3 2257.4 1680.9 2257.9 1674.8 2258.4 1681.7 2258.9 1675.2 2259.4 1675.8 2259.9 1674.6 2260.4 1674.9 2260.9 1672.3 2261.4 1679.1 2261.9 1677.2 2262.4 1679.3 2262.9 1673.9 2263.4 1675.2 2263.9 1672.2 2264.4 1676.9 2264.9 1671.7 2265.4 1672.3 2265.9 1672.9 2266.4 1673.3 2266.9 1674.8 2267.4 1673.4 2267.9 1670.7 2268.4 1668.5 2268.8 1669.1 2269.3 1669.5 2269.8 1666.8 2270.3 1667.1 2270.8 1672.2 2271.3 1672.1 2271.8 1667.9 2272.4 1672.9 2272.9 1671.9 2273.4 1669.3 2273.9 1666.2 2274.4 1666.6 2275.0 1670.2 2275.5 1669.8 2276.0 1664.7 2276.6 1666.8 2277.1 1669.5 2277.7 1667.1 2278.2 1664.4 2278.8 1664.5 2279.4 1666.9 2279.9 1666.8 2280.5 1665.1 2281.1 1663.7 2281.7 1662.4 2282.2 1661.2 2282.8 1661.1 2283.4 1667.0 2284.0 1663.2 2284.6 1660.1 2285.2 1666.6 2285.8 1660.4 2286.4 1666.4 2287.0 1662.2 2287.6 1661.4 2288.2 1662.6 2288.8 1661.0 2289.4 1661.5 2290.0 1665.0 2290.6 1664.7 2291.2 1663.5 2291.8 1661.4 2292.4 1666.7 2293.0 1661.6 2293.6 1665.3 2294.2 1663.2 2294.8 1663.3 2295.4 1662.0 2296.0 1661.5 2296.6 1660.5 2297.1 1661.8 2297.7 1661.0 2298.3 1666.3 2298.9 1663.1 2299.5 1668.1 2300.1 1667.8 2300.6 1667.2 2301.2 1666.8 2301.8 1662.1 2302.3 1663.9 2302.9 1666.2 2303.4 1664.4 2304.0 1667.6 2304.5 1662.3 2305.0 1671.7 2305.5 1663.8 2306.0 1670.0 2306.5 1671.7 2307.0 1663.6 2307.5 1667.0 2308.0 1668.7 2308.5 1666.8 2309.0 1669.2 2309.5 1669.8 2310.1 1671.4 2310.6 1667.3 2311.2 1670.9 2311.8 1668.1 2312.4 1671.8 2313.0 1670.3 2313.6 1670.0 2314.1 1666.5 2314.7 1667.4 2315.2 1669.8 2315.7 1666.2 2316.2 1667.8 2316.7 1670.5 2317.2 1667.2 2317.7 1670.9 2318.2 1667.6 2318.6 1669.2 2319.1 1668.0 2319.5 1670.1 2320.0 1668.8 2320.4 1665.4 2320.9 1667.4 2321.3 1664.6 2321.7 1662.7 2322.1 1659.4 2322.5 1663.1 2323.0 1662.4 2323.4 1663.5 2323.8 1663.7 2324.2 1665.1 2324.6 1660.9 2325.0 1656.4 2325.4 1660.1 2325.8 1656.2 2326.1 1658.9 2326.5 1657.1 2326.9 1661.6 2327.3 1660.5 2327.6 1654.6 2328.0 1655.3 2328.4 1660.2 2328.7 1659.3 2329.1 1655.2 2329.4 1659.7 2329.8 1654.6 2330.1 1654.3 2330.5 1653.5 2330.8 1653.4 2331.1 1649.3 2331.5 1653.1 2331.8 1655.2 2332.1 1650.8 2332.4 1649.5 2332.7 1651.9 2333.0 1652.4 2333.2 1648.0 2333.5 1648.6 2333.8 1647.2 2334.0 1648.6 2334.3 1644.9 2334.5 1647.1 2334.7 1641.8 2335.0 1645.5 2335.2 1645.6 2335.4 1640.1 2335.6 1645.5 2335.8 1642.5 2335.9 1643.1 2336.1 1641.6 2336.3 1643.6 2336.5 1643.6 2336.6 1637.7 2336.8 1638.3 2336.9 1636.2 2337.1 1640.6 2337.2 1637.5 2337.4 1631.5 2337.5 1635.4 2337.6 1639.9 2337.8 1636.0 2337.9 1634.1 2338.0 1632.5 2338.2 1633.7 2338.3 1635.5 2338.4 1632.1 2338.5 1629.8 2338.6 1628.5 2338.7 1630.0 2338.8 1630.0 2339.0 1629.3 2339.1 1632.4 2339.2 1623.9 2339.3 1628.4 2339.4 1630.6 2339.5 1626.3 2339.6 1623.5 2339.7 1627.7 2339.8 1622.1 2339.9 1628.6 2340.0 1622.1 2340.1 1623.4 2340.2 1620.4 2340.3 1621.3 2340.4 1623.2 2340.5 1620.5 2340.6 1621.1 2340.7 1617.7 2340.8 1621.7 2340.8 1618.4 2340.9 1615.4 2341.0 1618.0 2341.1 1615.6 2341.2 1619.4 2341.3 1612.9 2341.4 1615.7 2341.5 1612.1 2341.6 1612.1 2341.7 1613.4 2341.8 1611.5 2341.9 1609.1 2342.0 1609.4 2342.1 1612.1 2342.2 1608.6 2342.3 1607.8 2342.4 1606.1 2342.5 1609.9 2342.6 1604.7 2342.7 1608.9 2342.8 1609.2 2342.9 1604.9 2343.0 1606.7 2343.1 1606.9 2343.2 1603.2 2343.3 1602.0 2343.4 1603.7 2343.6 1604.5 2343.7 1601.3 2343.8 1600.9 2343.9 1599.5 2344.0 1600.7 2344.1 1597.7 2344.2 1600.0 2344.3 1598.3 2344.4 1599.3 2344.5 1597.5 2344.6 1596.4 2344.7 1595.4 2344.8 1596.3 2344.9 1595.9 2345.0 1592.0 2345.1 1592.2 2345.2 1595.2 2345.3 1593.7 2345.4 1592.1 2345.5 1591.5 2345.6 1593.2 2345.8 1589.2 2345.9 1588.7 2346.0 1585.6 2346.1 1587.1 2346.2 1588.1 2346.3 1583.7 2346.4 1588.4 2346.5 1586.6 2346.6 1586.5 2346.7 1584.4 2346.8 1584.6 2346.8 1585.4 2346.9 1580.6 2347.0 1584.3 2347.1 1580.3 2347.2 1579.2 2347.3 1578.1 2347.4 1578.8 2347.5 1579.2 2347.6 1579.4 2347.7 1576.9 2347.8 1578.1 2347.9 1577.6 2348.0 1577.7 2348.0 1575.3 2348.1 1573.4 2348.2 1574.0 2348.3 1575.3 2348.4 1572.4 2348.5 1569.9 2348.6 1568.5 2348.6 1571.8 2348.7 1571.2 2348.8 1571.5 2348.9 1569.2 2348.9 1567.7 2349.0 1567.8 2349.1 1567.9 2349.2 1565.8 2349.2 1565.0 2349.3 1566.4 2349.4 1565.3 2349.5 1566.0 2349.5 1565.3 2349.6 1563.8 2349.7 1561.0 2349.7 1560.3 2349.8 1561.0 2349.9 1560.1 2350.0 1560.3 2350.0 1560.9 2350.1 1558.4 2350.2 1558.7 2350.2 1557.8 2350.3 1559.1 2350.3 1558.2 2350.4 1555.9 2350.5 1556.0 2350.5 1553.8 2350.6 1554.9 2350.7 1553.1 2350.7 1552.2 2350.8 1552.7 2350.8 1552.4 2350.9 1551.5 2351.0 1548.1 2351.0 1550.0 2351.1 1548.6 2351.1 1549.8 2351.2 1547.3 2351.2 1547.6 2351.3 1548.0 2351.4 1547.5 2351.4 1544.9 2351.5 1544.3 2351.5 1545.6 2351.6 1543.3 2351.6 1545.5 2351.7 1543.5 2351.8 1541.2 2351.8 1541.8 2351.9 1541.5 2351.9 1540.6 2352.0 1540.9 2352.0 1539.5 2352.1 1539.9 2352.1 1538.8 2352.2 1538.3 2352.2 1537.1 2352.3 1536.3 2352.4 1535.6 2352.4 1534.6 2352.5 1534.8 2352.5 1534.5 2352.6 1533.6 2352.6 1533.1 2352.7 1532.6 2352.7 1531.7 2352.8 1531.4 2352.8 1531.2 2352.9 1529.7 2352.9 1529.5 2353.0 1528.5 2353.0 1528.4 2353.1 1527.7 2353.1 1526.8 2353.2 1526.4 2353.3 1525.9 2353.3 1525.2 2353.4 1524.7 2353.4 1523.9 2353.5 1523.5 2353.5 1522.8 2353.6 1522.2 2353.6 1521.7 2353.7 1521.1 2353.7 1520.5 2353.8 1519.9 2353.9 1519.3 2353.9 1518.7 2354.0 1518.1 2354.0 1517.5 2354.1 1516.9 2354.1 1516.3 2354.2 1515.7 2354.2 1515.1 2354.3 1514.5 2354.4 1513.9 2354.4 1513.3 2354.5 1512.7 2354.5 1512.1 2354.6 1511.5 2354.6 1510.9 2354.7 1510.3 2354.8 1509.7 2354.8 1509.1 2354.9 1508.5 2354.9 1507.9 2355.0 1507.3 2355.1 1506.7 2355.1 1506.1 2355.2 1505.5 2355.2 1504.9 2355.3 1504.3 2355.4 1503.7 2355.4 1503.1 2355.5 1502.5 2355.5 1501.9 2355.6 1501.3 2355.7 1500.7 2355.7 1500.1 2355.8 1499.5 2355.9 1498.9 2355.9 1498.4 2356.0 1497.8 2356.0 1497.2 2356.1 1496.6 2356.2 1496.0 2356.2 1495.4 2356.3 1494.8 2356.3 1494.2 2356.4 1493.6 2356.5 1493.0 2356.5 1492.4 2356.6 1491.8 2356.7 1491.2 2356.7 1490.6 2356.8 1490.0 2356.8 1489.4 2356.9 1488.8 2357.0 1488.2 2357.0 1487.6 2357.1 1487.0 2357.1 1486.4 2357.2 1485.8 2357.3 1485.2 2357.3 1484.6 2357.4 1484.0 2357.5 1483.4 2357.5 1482.8 2357.6 1482.2 2357.6 1481.6 2357.7 1481.0 2357.8 1480.4 2357.8 1479.8 2357.9 1479.2 2357.9 1478.6 2358.0 1478.0 2358.1 1477.5 2358.1 1476.9 2358.2 1476.3 2358.2 1475.7 2358.3 1475.1 2358.4 1474.5 2358.4 1473.9 2358.5 1473.3 2358.5 1472.7 2358.6 1472.1 2358.7 1471.5 2358.7 1470.9 2358.8 1470.3 2358.8 1469.7 2358.9 1469.1 2358.9 1468.5 2359.0 1467.9 2359.1 1467.3 2359.1 1466.7 2359.2 1466.1 2359.2 1465.5 2359.3 1464.9 2359.3 1464.3 2359.4 1463.7 2359.4 1463.1 2359.5 1462.5 2359.6 1461.9 2359.6 1461.3 2359.7 1460.7 2359.7 1460.1 2359.8 1459.5 2359.8 1458.9 2359.9 1458.3 2359.9 1457.7 2360.0 1457.1 2360.0 1456.5 2360.1 1455.9 2360.2 1455.3 2360.2 1454.7 2360.3 1454.1 2360.3 1453.5 2360.4 1452.9 2360.4 1452.3 2360.5 1451.7 2360.5 1451.2 2360.6 1450.6 2360.6 1450.0 2360.7 1449.4 2360.7 1448.8 2360.8 1448.2 2360.8 1447.6 2360.9 1447.0 2360.9 1446.4 2361.0 1445.8 2361.0 1445.2 2361.1 1444.6 2361.2 1444.0 2361.2 1443.4 2361.3 1442.8 2361.3 1442.2 2361.4 1441.6 2361.4 1441.0 2361.5 1440.4 2361.5 1439.8 2361.6 1439.2 2361.6 1438.6 2361.7 1438.0 2361.7 1437.4 2361.8 1436.8 2361.9 1436.2 2361.9 1435.6 2362.0 1435.0 2362.0 1434.4 2362.1 1433.8 2362.1 1433.2 2362.2 1432.6 2362.2 1432.0 2362.3 1431.4 2362.4 1430.8 2362.4 1430.2 2362.5 1429.6 2362.5 1429.0 2362.6 1428.4 2362.7 1427.8 2362.7 1427.2 2362.8 1426.6 2362.8 1426.0 2362.9 1425.4 2363.0 1424.9 2363.0 1424.3 2363.1 1423.7 2363.2 1423.1 2363.2 1422.5 2363.3 1421.9 2363.3 1421.3 2363.4 1420.7 2363.5 1420.1 2363.6 1419.5 2363.6 1418.9 2363.7 1418.3 2363.8 1417.7 2363.8 1417.1 2363.9 1416.5 2364.0 1415.9 2364.1 1415.3 2364.1 1414.7 2364.2 1414.1 2364.3 1413.5 2364.4 1412.9 2364.4 1412.3 2364.5 1411.7 2364.6 1411.1 2364.7 1410.5 2364.8 1410.0 2364.9 1409.4 2365.0 1408.8 2365.1 1408.2 2365.1 1407.6 2365.2 1407.0 2365.3 1406.4 2365.4 1405.8 2365.5 1405.2 2365.6 1404.6 2365.7 1404.0 2365.8 1403.4 2365.9 1402.8 2366.0 1402.3 2366.2 1401.7 2366.3 1401.1 2366.4 1400.5 2366.5 1399.9 2366.6 1399.3 2366.7 1398.7 2366.8 1398.1 2366.9 1397.5 2367.0 1396.9 2367.1 1396.4 2367.2 1395.8 2367.4 1395.2 2367.5 1394.6 2367.6 1394.0 2367.7 1393.4 2367.8 1392.8 2367.9 1392.2 2368.0 1391.6 2368.1 1391.0 2368.2 1390.4 2368.3 1389.8 2368.4 1389.3 2368.5 1388.7 2368.6 1388.1 2368.7 1387.5 2368.8 1386.9 2368.9 1386.3 2368.9 1385.7 2369.0 1385.1 2369.1 1384.5 2369.2 1383.9 2369.3 1383.3 2369.3 1382.7 2369.4 1382.1 2369.5 1381.5 2369.6 1380.9 2369.6 1380.3 2369.7 1379.7 2369.8 1379.1 2369.8 1378.6 2369.9 1378.0 2370.0 1377.4 2370.0 1376.8 2370.1 1376.2 2370.2 1375.6 2370.2 1375.0 2370.3 1374.4 2370.3 1373.8 2370.4 1373.2 2370.4 1372.6 2370.5 1372.0 2370.5 1371.4 2370.6 1370.8 2370.7 1370.2 2370.7 1369.6 2370.8 1369.0 2370.8 1368.4 2370.9 1367.8 2370.9 1367.2 2370.9 1366.6 2371.0 1366.0 2371.0 1365.4 2371.1 1364.8 2371.1 1364.2 2371.2 1363.6 2371.2 1363.0 2371.3 1362.4 2371.3 1361.8 2371.4 1361.2 2371.4 1360.6 2371.4 1360.0 2371.5 1359.4 2371.5 1358.8 2371.6 1358.2 2371.6 1357.6 2371.6 1357.0 2371.7 1356.4 2371.7 1355.8 2371.8 1355.2 2371.8 1354.6 2371.8 1354.0 2371.9 1353.4 2371.9 1352.8 2372.0 1352.2 2372.0 1351.6 2372.0 1351.0 2372.1 1350.4 2372.1 1349.8 2372.1 1349.2 2372.2 1348.6 2372.2 1348.0 2372.3 1347.4 2372.3 1346.8 2372.3 1346.2 2372.4 1345.6 2372.4 1345.0 2372.4 1344.4 2372.5 1343.8 2372.5 1343.2 2372.6 1342.6 2372.6 1342.0 2372.6 1341.4 2372.7 1340.8 2372.7 1340.2 2372.7 1339.6 2372.8 1339.0 2372.8 1338.4 2372.8 1337.8 2372.9 1337.2 2372.9 1336.6 2372.9 1336.0 2373.0 1335.4 2373.0 1334.8 2373.1 1334.2 2373.1 1333.6 2373.1 1333.0 2373.2 1332.4 2373.2 1331.9 2373.2 1331.3 2373.3 1330.7 2373.3 1330.1 2373.4 1329.5 2373.4 1328.9 2373.4 1328.3 2373.5 1327.7 2373.5 1327.1 2373.5 1326.5 2373.6 1325.9 2373.6 1325.3 2373.7 1324.7 2373.7 1324.1 2373.7 1323.5 2373.8 1322.9 2373.8 1322.3 2373.9 1321.7 2373.9 1321.1 2373.9 1320.5 2374.0 1319.9 2374.0 1319.3 2374.1 1318.7 2374.1 1318.1 2374.2 1317.5 2374.2 1316.9 2374.2 1316.3 2374.3 1315.7 2374.3 1315.1 2374.4 1314.5 2374.4 1313.9 2374.5 1313.3 2374.5 1312.7 2374.5 1312.1 2374.6 1311.5 2374.6 1310.9 2374.7 1310.3 2374.7 1309.7 2374.8 1309.1 2374.8 1308.5 2374.8 1307.9 2374.9 1307.3 2374.9 1306.7 2375.0 1306.1 2375.0 1305.5 2375.1 1304.9 2375.1 1304.3 2375.2 1303.7 2375.2 1303.1 2375.3 1302.5 2375.3 1301.9 2375.3 1301.3 2375.4 1300.7 2375.4 1300.1 2375.5 1299.5 2375.5 1298.9 2375.6 1298.3 2375.6 1297.7 2375.7 1297.1 2375.7 1296.5 2375.8 1295.9 2375.8 1295.3 2375.9 1294.7 2375.9 1294.1 2376.0 1293.5 2376.0 1292.9 2376.0 1292.3 2376.1 1291.7 2376.1 1291.1 2376.2 1290.5 2376.2 1289.9 2376.3 1289.3 2376.3 1288.7 2376.4 1288.1 2376.4 1287.5 2376.5 1286.9 2376.5 1286.3 2376.6 1285.7 2376.6 1285.2 2376.7 1284.6 2376.7 1284.0 2376.8 1283.4 2376.8 1282.8 2376.9 1282.2 2376.9 1281.6 2376.9 1281.0 2377.0 1280.4 2377.0 1279.8 2377.1 1279.2 2377.1 1278.6 2377.2 1278.0 2377.2 1277.4 2377.3 1276.8 2377.3 1276.2 2377.4 1275.6 2377.4 1275.0 2377.5 1274.4 2377.5 1273.8 2377.6 1273.2 2377.6 1272.6 2377.7 1272.0 2377.7 1271.4 2377.7 1270.8 2377.8 1270.2 2377.8 1269.6 2377.9 1269.0 2377.9 1268.4 2378.0 1267.8 2378.0 1267.2 2378.1 1266.6 2378.1 1266.0 2378.2 1265.4 2378.2 1264.8 2378.3 1264.2 2378.3 1263.6 2378.3 1263.0 2378.4 1262.4 2378.4 1261.8 2378.5 1261.2 2378.5 1260.6 2378.6 1260.0 2378.6 1259.4 2378.7 1258.8 2378.7 1258.2 2378.7 1257.6 2378.8 1257.0 2378.8 1256.4 2378.9 1255.8 2378.9 1255.2 2379.0 1254.6 2379.0 1254.0 2379.1 1253.4 2379.1 1252.8 2379.2 1252.2 2379.2 1251.6 2379.2 1251.0 2379.3 1250.4 2379.3 1249.8 2379.4 1249.2 2379.4 1248.6 2379.5 1248.0 2379.5 1247.4 2379.6 1246.8 2379.6 1246.2 2379.6 1245.6 2379.7 1245.0 2379.7 1244.4 2379.8 1243.8 2379.8 1243.3 2379.9 1242.7 2379.9 1242.1 2380.0 1241.5 2380.0 1240.9 2380.0 1240.3 2380.1 1239.7 2380.1 1239.1 2380.2 1238.5 2380.2 1237.9 2380.3 1237.3 2380.3 1236.7 2380.4 1236.1 2380.4 1235.5 2380.4 1234.9 2380.5 1234.3 2380.5 1233.7 2380.6 1233.1 2380.6 1232.5 2380.7 1231.9 2380.7 1231.3 2380.8 1230.7 2380.8 1230.1 2380.8 1229.5 2380.9 1228.9 2380.9 1228.3 2381.0 1227.7 2381.0 1227.1 2381.1 1226.5 2381.1 1225.9 2381.2 1225.3 2381.2 1224.7 2381.2 1224.1 2381.3 1223.5 2381.3 1222.9 2381.4 1222.3 2381.4 1221.7 2381.5 1221.1 2381.5 1220.5 2381.6 1219.9 2381.6 1219.3 2381.6 1218.7 2381.7 1218.1 2381.7 1217.5 2381.8 1216.9 2381.8 1216.3 2381.9 1215.7 2381.9 1215.1 2382.0 1214.5 2382.0 1213.9 2382.0 1213.3 2382.1 1212.7 2382.1 1212.1 2382.2 1211.5 2382.2 1210.9 2382.3 1210.3 2382.3 1209.7 2382.4 1209.1 2382.4 1208.5 2382.5 1207.9 2382.5 1207.3 2382.5 1206.7 2382.6 1206.1 2382.6 1205.5 2382.7 1204.9 2382.7 1204.3 2382.8 1203.7 2382.8 1203.1 2382.9 1202.5 2382.9 1201.9 2382.9 1201.3 2383.0 1200.7 2383.0 1200.1 2383.1 1199.5 2383.1 1199.0 2383.2 1198.4 2383.2 1197.8 2383.3 1197.2 2383.3 1196.6 2383.4 1196.0 2383.4 1195.4 2383.4 1194.8 2383.5 1194.2 2383.5 1193.6 2383.6 1193.0 2383.6 1192.4 2383.7 1191.8 2383.7 1191.2 2383.8 1190.6 2383.8 1190.0 2383.9 1189.4 2383.9 1188.8 2383.9 1188.2 2384.0 1187.6 2384.0 1187.0 2384.1 1186.4 2384.1 1185.8 2384.2 1185.2 2384.2 1184.6 2384.3 1184.0 2384.3 1183.4 2384.4 1182.8 2384.4 1182.2 2384.4 1181.6 2384.5 1181.0 2384.5 1180.4 2384.6 1179.8 2384.6 1179.2 2384.7 1178.6 2384.7 1178.0 2384.8 1177.4 2384.8 1176.8 2384.8 1176.2 2384.9 1175.6 2384.9 1175.0 2385.0 1174.4 2385.0 1173.8 2385.1 1173.2 2385.1 1172.6 2385.2 1172.0 2385.2 1171.4 2385.2 1170.8 2385.3 1170.2 2385.3 1169.6 2385.4 1169.0 2385.4 1168.4 2385.5 1167.8 2385.5 1167.2 2385.6 1166.6 2385.6 1166.0 2385.6 1165.4 2385.7 1164.8 2385.7 1164.2 2385.8 1163.6 2385.8 1163.0 2385.9 1162.4 2385.9 1161.8 2386.0 1161.2 2386.0 1160.6 2386.0 1160.0 2386.1 1159.4 2386.1 1158.8 2386.2 1158.2 2386.2 1157.6 2386.3 1157.0 2386.3 1156.4 2386.3 1155.8 2386.4 1155.2 2386.4 1154.6 2386.5 1154.1 2386.5 1153.5 2386.6 1152.9 2386.6 1152.3 2386.6 1151.7 2386.7 1151.1 2386.7 1150.5 2386.8 1149.9 2386.8 1149.3 2386.9 1148.7 2386.9 1148.1 2387.0 1147.5 2387.0 1146.9 2387.0 1146.3 2387.1 1145.7 2387.1 1145.1 2387.2 1144.5 2387.2 1143.9 2387.3 1143.3 2387.3 1142.7 2387.3 1142.1 2387.4 1141.5 2387.4 1140.9 2387.5 1140.3 2387.5 1139.7 2387.6 1139.1 2387.6 1138.5 2387.6 1137.9 2387.7 1137.3 2387.7 1136.7 2387.8 1136.1 2387.8 1135.5 2387.9 1134.9 2387.9 1134.3 2388.0 1133.7 2388.0 1133.1 2388.0 1132.5 2388.1 1131.9 2388.1 1131.3 2388.2 1130.7 2388.2 1130.1 2388.3 1129.5 2388.3 1128.9 2388.4 1128.3 2388.4 1127.7 2388.4 1127.1 2388.5 1126.5 2388.5 1125.9 2388.6 1125.3 2388.6 1124.7 2388.7 1124.1 2388.7 1123.5 2388.8 1122.9 2388.8 1122.3 2388.9 1121.7 2388.9 1121.1 2388.9 1120.5 2389.0 1119.9 2389.0 1119.3 2389.1 1118.7 2389.1 1118.1 2389.2 1117.5 2389.2 1116.9 2389.3 1116.3 2389.3 1115.7 2389.4 1115.1 2389.4 1114.5 2389.5 1113.9 2389.5 1113.3 2389.6 1112.7 2389.6 1112.1 2389.7 1111.5 2389.7 1110.9 2389.8 1110.4 2389.8 1109.8 2389.9 1109.2 2389.9 1108.6 2389.9 1108.0 2390.0 1107.4 2390.0 1106.8 2390.1 1106.2 2390.1 1105.6 2390.2 1105.0 2390.3 1104.4 2390.3 1103.8 2390.4 1103.2 2390.4 1102.6 2390.5 1102.0 2390.5 1101.4 2390.6 1100.8 2390.6 1100.2 2390.7 1099.6 2390.7 1099.0 2390.8 1098.4 2390.8 1097.8 2390.9 1097.2 2390.9 1096.6 2391.0 1096.0 2391.0 1095.4 2391.1 1094.8 2391.2 1094.2 2391.2 1093.6 2391.3 1093.0 2391.3 1092.4 2391.4 1091.8 2391.4 1091.2 2391.5 1090.6 2391.5 1090.0 2391.6 1089.4 2391.7 1088.8 2391.7 1088.2 2391.8 1087.6 2391.8 1087.0 2391.9 1086.4 2392.0 1085.8 2392.0 1085.2 2392.1 1084.6 2392.1 1084.0 2392.2 1083.4 2392.3 1082.9 2392.3 1082.3 2392.4 1081.7 2392.5 1081.1 2392.5 1080.5 2392.6 1079.9 2392.6 1079.3 2392.7 1078.7 2392.8 1078.1 2392.8 1077.5 2392.9 1076.9 2393.0 1076.3 2393.0 1075.7 2393.1 1075.1 2393.2 1074.5 2393.2 1073.9 2393.3 1073.3 2393.4 1072.7 2393.4 1072.1 2393.5 1071.5 2393.6 1070.9 2393.6 1070.3 2393.7 1069.7 2393.8 1069.1 2393.9 1068.5 2393.9 1067.9 2394.0 1067.3 2394.1 1066.7 2394.1 1066.1 2394.2 1065.6 2394.3 1065.0 2394.4 1064.4 2394.4 1063.8 2394.5 1063.2 2394.6 1062.6 2394.7 1062.0 2394.7 1061.4 2394.8 1060.8 2394.9 1060.2 2395.0 1059.6 2395.0 1059.0 2395.1 1058.4 2395.2 1057.8 2395.3 1057.2 2395.4 1056.6 2395.4 1056.0 2395.5 1055.4 2395.6 1054.8 2395.7 1054.2 2395.8 1053.6 2395.9 1053.1 2395.9 1052.5 2396.0 1051.9 2396.1 1051.3 2396.2 1050.7 2396.3 1050.1 2396.4 1049.5 2396.5 1048.9 2396.6 1048.3 2396.7 1047.7 2396.8 1047.1 2396.8 1046.5 2396.9 1045.9 2397.0 1045.3 2397.1 1044.7 2397.2 1044.2 2397.3 1043.6 2397.4 1043.0 2397.5 1042.4 2397.6 1041.8 2397.7 1041.2 2397.8 1040.6 2397.9 1040.0 2398.0 1039.4 2398.2 1038.8 2398.3 1038.2 2398.4 1037.6 2398.5 1037.1 2398.6 1036.5 2398.7 1035.9 2398.8 1035.3 2398.9 1034.7 2399.1 1034.1 2399.2 1033.5 2399.3 1032.9 2399.4 1032.3 2399.5 1031.8 2399.7 1031.2 2399.8 1030.6 2399.9 1030.0 2400.0 1029.4 2400.2 1028.8 2400.3 1028.2 2400.4 1027.7 2400.6 1027.1 2400.7 1026.5 2400.8 1025.9 2401.0 1025.3 2401.1 1024.7 2401.3 1024.2 2401.4 1023.6 2401.6 1023.0 2401.7 1022.4 2401.9 1021.8 2402.0 1021.2 2402.2 1020.7 2402.3 1020.1 2402.5 1019.5 2402.7 1018.9 2402.8 1018.4 2403.0 1017.8 2403.2 1017.2 2403.4 1016.6 2403.6 1016.1 2403.8 1015.5 2404.0 1014.9 2404.2 1014.4 2404.4 1013.8 2404.6 1013.3 2404.8 1012.7 2405.1 1012.2 2405.3 1011.6 2405.6 1011.1 2405.9 1010.6 2406.2 1010.1 2406.6 1009.6 2407.0 1009.1 2407.5 1008.7 2408.0 1008.5 2408.6 1008.5 2409.2 1008.7 2409.7 1009.0 2410.1 1009.5 2410.4 1009.9 2410.8 1010.4 2411.1 1010.9 2411.4 1011.5 2411.7 1012.0 2411.9 1012.5 2412.2 1013.1 2412.4 1013.6 2412.6 1014.2 2412.8 1014.8 2413.1 1015.3 2413.3 1015.9 2413.5 1016.4 2413.6 1017.0 2413.8 1017.6 2414.0 1018.2 2414.2 1018.7 2414.4 1019.3 2414.5 1019.9 2414.7 1020.5 2414.9 1021.0 2415.0 1021.6 2415.2 1022.2 2415.4 1022.8 2415.5 1023.3 2415.7 1023.9 2415.8 1024.5 2416.0 1025.1 2416.1 1025.7 2416.3 1026.3 2416.4 1026.8 2416.5 1027.4 2416.7 1028.0 2416.8 1028.6 2416.9 1029.2 2417.1 1029.8 2417.2 1030.3 2417.3 1030.9 2417.5 1031.5 2417.6 1032.1 2417.7 1032.7 2417.8 1033.3 2418.0 1033.9 2418.1 1034.5 2418.2 1035.0 2418.3 1035.6 2418.4 1036.2 2418.5 1036.8 2418.7 1037.4 2418.8 1038.0 2418.9 1038.6 2419.0 1039.2 2419.1 1039.8 2419.2 1040.4 2419.3 1040.9 2419.4 1041.5 2419.5 1042.1 2419.6 1042.7 2419.7 1043.3 2419.8 1043.9 2419.9 1044.5 2420.0 1045.1 2420.1 1045.7 2420.2 1046.3 2420.3 1046.9 2420.4 1047.5 2420.5 1048.1 2420.5 1048.7 2420.6 1049.2 2420.7 1049.8 2420.8 1050.4 2420.9 1051.0 2421.0 1051.6 2421.1 1052.2 2421.2 1052.8 2421.2 1053.4 2421.3 1054.0 2421.4 1054.6 2421.5 1055.2 2421.6 1055.8 2421.6 1056.4 2421.7 1057.0 2421.8 1057.6 2421.9 1058.2 2422.0 1058.8 2422.0 1059.4 2422.1 1059.9 2422.2 1060.5 2422.3 1061.1 2422.3 1061.7 2422.4 1062.3 2422.5 1062.9 2422.6 1063.5 2422.6 1064.1 2422.7 1064.7 2422.8 1065.3 2422.8 1065.9 2422.9 1066.5 2423.0 1067.1 2423.1 1067.7 2423.1 1068.3 2423.2 1068.9 2423.3 1069.5 2423.3 1070.1 2423.4 1070.7 2423.5 1071.3 2423.5 1071.9 2423.6 1072.5 2423.7 1073.1 2423.7 1073.7 2423.8 1074.3 2423.9 1074.9 2423.9 1075.4 2424.0 1076.0 2424.1 1076.6 2424.1 1077.2 2424.2 1077.8 2424.3 1078.4 2424.3 1079.0 2424.4 1079.6 2424.5 1080.2 2424.5 1080.8 2424.6 1081.4 2424.6 1082.0 2424.7 1082.6 2424.8 1083.2 2424.8 1083.8 2424.9 1084.4 2424.9 1085.0 2425.0 1085.6 2425.1 1086.2 2425.1 1086.8 2425.2 1087.4 2425.2 1088.0 2425.3 1088.6 2425.4 1089.2 2425.4 1089.8 2425.5 1090.4 2425.5 1091.0 2425.6 1091.6 2425.7 1092.2 2425.7 1092.8 2425.8 1093.4 2425.8 1094.0 2425.9 1094.6 2425.9 1095.2 2426.0 1095.8 2426.0 1096.4 2426.1 1097.0 2426.2 1097.6 2426.2 1098.1 2426.3 1098.7 2426.3 1099.3 2426.4 1099.9 2426.4 1100.5 2426.5 1101.1 2426.5 1101.7 2426.6 1102.3 2426.6 1102.9 2426.7 1103.5 2426.7 1104.1 2426.8 1104.7 2426.8 1105.3 2426.9 1105.9 2426.9 1106.5 2427.0 1107.1 2427.0 1107.7 2427.1 1108.3 2427.1 1108.9 2427.2 1109.5 2427.2 1110.1 2427.3 1110.7 2427.3 1111.3 2427.4 1111.9 2427.4 1112.5 2427.5 1113.1 2427.5 1113.7 2427.6 1114.3 2427.6 1114.9 2427.7 1115.5 2427.7 1116.1 2427.8 1116.7 2427.8 1117.3 2427.9 1117.9 2427.9 1118.5 2428.0 1119.1 2428.0 1119.7 2428.0 1120.3 2428.1 1120.9 2428.1 1121.5 2428.2 1122.1 2428.2 1122.7 2428.3 1123.3 2428.3 1123.9 2428.4 1124.5 2428.4 1125.1 2428.5 1125.7 2428.5 1126.3 2428.6 1126.9 2428.6 1127.5 2428.6 1128.1 2428.7 1128.7 2428.7 1129.3 2428.8 1129.9 2428.8 1130.5 2428.9 1131.1 2428.9 1131.7 2429.0 1132.3 2429.0 1132.9 2429.0 1133.5 2429.1 1134.1 2429.1 1134.7 2429.2 1135.2 2429.2 1135.8 2429.3 1136.4 2429.3 1137.0 2429.4 1137.6 2429.4 1138.2 2429.4 1138.8 2429.5 1139.4 2429.5 1140.0 2429.6 1140.6 2429.6 1141.2 2429.7 1141.8 2429.7 1142.4 2429.7 1143.0 2429.8 1143.6 2429.8 1144.2 2429.9 1144.8 2429.9 1145.4 2430.0 1146.0 2430.0 1146.6 2430.0 1147.2 2430.1 1147.8 2430.1 1148.4 2430.2 1149.0 2430.2 1149.6 2430.3 1150.2 2430.3 1150.8 2430.3 1151.4 2430.4 1152.0 2430.4 1152.6 2430.5 1153.2 2430.5 1153.8 2430.6 1154.4 2430.6 1155.0 2430.7 1155.6 2430.7 1156.2 2430.7 1156.8 2430.8 1157.4 2430.8 1158.0 2430.9 1158.6 2430.9 1159.2 2431.0 1159.8 2431.0 1160.4 2431.0 1161.0 2431.1 1161.6 2431.1 1162.2 2431.2 1162.8 2431.2 1163.4 2431.3 1164.0 2431.3 1164.6 2431.3 1165.2 2431.4 1165.8 2431.4 1166.4 2431.5 1167.0 2431.5 1167.6 2431.6 1168.2 2431.6 1168.8 2431.7 1169.4 2431.7 1170.0 2431.7 1170.6 2431.8 1171.2 2431.8 1171.8 2431.9 1172.4 2431.9 1173.0 2432.0 1173.6 2432.0 1174.2 2432.1 1174.8 2432.1 1175.4 2432.1 1176.0 2432.2 1176.6 2432.2 1177.2 2432.3 1177.8 2432.3 1178.4 2432.4 1179.0 2432.4 1179.6 2432.5 1180.2 2432.5 1180.8 2432.5 1181.4 2432.6 1181.9 2432.6 1182.5 2432.7 1183.1 2432.7 1183.7 2432.8 1184.3 2432.8 1184.9 2432.9 1185.5 2432.9 1186.1 2432.9 1186.7 2433.0 1187.3 2433.0 1187.9 2433.1 1188.5 2433.1 1189.1 2433.2 1189.7 2433.2 1190.3 2433.3 1190.9 2433.3 1191.5 2433.3 1192.1 2433.4 1192.7 2433.4 1193.3 2433.5 1193.9 2433.5 1194.5 2433.6 1195.1 2433.6 1195.7 2433.7 1196.3 2433.7 1196.9 2433.8 1197.5 2433.8 1198.1 2433.8 1198.7 2433.9 1199.3 2433.9 1199.9 2434.0 1200.5 2434.0 1201.1 2434.1 1201.7 2434.1 1202.3 2434.2 1202.9 2434.2 1203.5 2434.3 1204.1 2434.3 1204.7 2434.3 1205.3 2434.4 1205.9 2434.4 1206.5 2434.5 1207.1 2434.5 1207.7 2434.6 1208.3 2434.6 1208.9 2434.7 1209.5 2434.7 1210.1 2434.8 1210.7 2434.8 1211.3 2434.8 1211.9 2434.9 1212.5 2434.9 1213.1 2435.0 1213.7 2435.0 1214.3 2435.1 1214.9 2435.1 1215.5 2435.2 1216.1 2435.2 1216.7 2435.3 1217.3 2435.3 1217.9 2435.3 1218.5 2435.4 1219.1 2435.4 1219.7 2435.5 1220.3 2435.5 1220.9 2435.6 1221.5 2435.6 1222.1 2435.7 1222.7 2435.7 1223.3 2435.8 1223.9 2435.8 1224.5 2435.9 1225.0 2435.9 1225.6 2435.9 1226.2 2436.0 1226.8 2436.0 1227.4 2436.1 1228.0 2436.1 1228.6 2436.2 1229.2 2436.2 1229.8 2436.3 1230.4 2436.3 1231.0 2436.4 1231.6 2436.4 1232.2 2436.4 1232.8 2436.5 1233.4 2436.5 1234.0 2436.6 1234.6 2436.6 1235.2 2436.7 1235.8 2436.7 1236.4 2436.8 1237.0 2436.8 1237.6 2436.9 1238.2 2436.9 1238.8 2436.9 1239.4 2437.0 1240.0 2437.0 1240.6 2437.1 1241.2 2437.1 1241.8 2437.2 1242.4 2437.2 1243.0 2437.3 1243.6 2437.3 1244.2 2437.4 1244.8 2437.4 1245.4 2437.4 1246.0 2437.5 1246.6 2437.5 1247.2 2437.6 1247.8 2437.6 1248.4 2437.7 1249.0 2437.7 1249.6 2437.8 1250.2 2437.8 1250.8 2437.8 1251.4 2437.9 1252.0 2437.9 1252.6 2438.0 1253.2 2438.0 1253.8 2438.1 1254.4 2438.1 1255.0 2438.2 1255.6 2438.2 1256.2 2438.2 1256.8 2438.3 1257.4 2438.3 1258.0 2438.4 1258.6 2438.4 1259.2 2438.5 1259.8 2438.5 1260.4 2438.6 1261.0 2438.6 1261.6 2438.6 1262.2 2438.7 1262.8 2438.7 1263.4 2438.8 1264.0 2438.8 1264.6 2438.9 1265.2 2438.9 1265.8 2439.0 1266.4 2439.0 1267.0 2439.0 1267.6 2439.1 1268.2 2439.1 1268.7 2439.2 1269.3 2439.2 1269.9 2439.3 1270.5 2439.3 1271.1 2439.3 1271.7 2439.4 1272.3 2439.4 1272.9 2439.5 1273.5 2439.5 1274.1 2439.6 1274.7 2439.6 1275.3 2439.6 1275.9 2439.7 1276.5 2439.7 1277.1 2439.8 1277.7 2439.8 1278.3 2439.9 1278.9 2439.9 1279.5 2439.9 1280.1 2440.0 1280.7 2440.0 1281.3 2440.1 1281.9 2440.1 1282.5 2440.2 1283.1 2440.2 1283.7 2440.2 1284.3 2440.3 1284.9 2440.3 1285.5 2440.4 1286.1 2440.4 1286.7 2440.5 1287.3 2440.5 1287.9 2440.5 1288.5 2440.6 1289.1 2440.6 1289.7 2440.7 1290.3 2440.7 1290.9 2440.8 1291.5 2440.8 1292.1 2440.8 1292.7 2440.9 1293.3 2440.9 1293.9 2441.0 1294.5 2441.0 1295.1 2441.1 1295.7 2441.1 1296.3 2441.1 1296.9 2441.2 1297.5 2441.2 1298.1 2441.3 1298.7 2441.3 1299.3 2441.4 1299.9 2441.4 1300.5 2441.5 1301.1 2441.5 1301.7 2441.5 1302.3 2441.6 1302.9 2441.6 1303.5 2441.7 1304.1 2441.7 1304.7 2441.8 1305.3 2441.8 1305.9 2441.9 1306.5 2441.9 1307.1 2441.9 1307.7 2442.0 1308.3 2442.0 1308.9 2442.1 1309.5 2442.1 1310.1 2442.2 1310.7 2442.2 1311.3 2442.3 1311.9 2442.3 1312.5 2442.4 1313.1 2442.4 1313.7 2442.4 1314.3 2442.5 1314.9 2442.5 1315.5 2442.6 1316.0 2442.6 1316.6 2442.7 1317.2 2442.7 1317.8 2442.8 1318.4 2442.8 1319.0 2442.9 1319.6 2442.9 1320.2 2443.0 1320.8 2443.0 1321.4 2443.1 1322.0 2443.1 1322.6 2443.2 1323.2 2443.2 1323.8 2443.3 1324.4 2443.3 1325.0 2443.4 1325.6 2443.4 1326.2 2443.5 1326.8 2443.5 1327.4 2443.6 1328.0 2443.6 1328.6 2443.7 1329.2 2443.7 1329.8 2443.8 1330.4 2443.8 1331.0 2443.9 1331.6 2443.9 1332.2 2444.0 1332.8 2444.0 1333.4 2444.1 1334.0 2444.1 1334.6 2444.2 1335.2 2444.2 1335.8 2444.3 1336.4 2444.3 1337.0 2444.4 1337.6 2444.4 1338.2 2444.5 1338.8 2444.6 1339.4 2444.6 1340.0 2444.7 1340.6 2444.7 1341.2 2444.8 1341.8 2444.8 1342.4 2444.9 1343.0 2444.9 1343.6 2445.0 1344.2 2445.0 1344.8 2445.1 1345.4 2445.1 1346.0 2445.2 1346.6 2445.2 1347.2 2445.3 1347.8 2445.3 1348.3 2445.4 1348.9 2445.4 1349.5 2445.5 1350.1 2445.5 1350.7 2445.6 1351.3 2445.6 1351.9 2445.7 1352.5 2445.7 1353.1 2445.8 1353.7 2445.8 1354.3 2445.9 1354.9 2445.9 1355.5 2446.0 1356.1 2446.0 1356.7 2446.1 1357.3 2446.1 1357.9 2446.2 1358.5 2446.2 1359.1 2446.3 1359.7 2446.3 1360.3 2446.4 1360.9 2446.4 1361.5 2446.5 1362.1 2446.5 1362.7 2446.6 1363.3 2446.6 1363.9 2446.7 1364.5 2446.7 1365.1 2446.7 1365.7 2446.8 1366.3 2446.8 1366.9 2446.9 1367.5 2446.9 1368.1 2447.0 1368.7 2447.0 1369.3 2447.0 1369.9 2447.1 1370.5 2447.1 1371.1 2447.1 1371.7 2447.2 1372.3 2447.2 1372.9 2447.3 1373.5 2447.3 1374.1 2447.3 1374.7 2447.4 1375.3 2447.4 1375.9 2447.4 1376.5 2447.5 1377.1 2447.5 1377.7 2447.5 1378.3 2447.5 1378.9 2447.6 1379.5 2447.6 1380.1 2447.6 1380.7 2447.6 1381.3 2447.6 1381.9 2447.7 1382.5 2447.7 1383.1 2447.7 1383.7 2447.7 1384.3 2447.7 1384.9 2447.7 1385.5 2447.7 1386.1 2447.7 1386.7 2447.8 1387.3 2447.8 1387.9 2447.8 1388.5 2447.8 1389.1 2447.8 1389.7 2447.8 1390.3 2447.8 1390.9 2447.7 1391.5 2447.7 1392.1 2447.7 1392.7 2447.7 1393.3 2447.7 1393.9 2447.7 1394.5 2447.7 1395.1 2447.7 1395.7 2447.7 1396.3 2447.7 1396.9 2447.7 1397.5 2447.7 1398.1 2447.7 1398.7 2447.7 1399.3 2447.7 1399.9 2447.6 1400.5 2447.6 1401.1 2447.6 1401.7 2447.6 1402.3 2447.6 1402.9 2447.6 1403.5 2447.7 1404.1 2447.7 1404.7 2447.7 1405.3 2447.7 1405.9 2447.7 1406.5 2447.7 1407.1 2447.7 1407.7 2447.7 1408.3 2447.7 1408.9 2447.8 1409.5 2447.8 1410.1 2447.8 1410.7 2447.8 1411.3 2447.9 1411.9 2447.9 1412.5 2447.9 1413.1 2448.0 1413.7 2448.0 1414.3 2448.0 1414.9 2448.1 1415.5 2448.1 1416.1 2448.1 1416.7 2448.2 1417.3 2448.2 1417.9 2448.3 1418.5 2448.3 1419.1 2448.4 1419.7 2448.4 1420.3 2448.4 1420.9 2448.5 1421.5 2448.5 1422.1 2448.6 1422.7 2448.6 1423.3 2448.7 1423.9 2448.7 1424.5 2448.8 1425.1 2448.8 1425.7 2448.9 1426.3 2449.0 1426.9 2449.0 1427.5 2449.1 1428.1 2449.1 1428.7 2449.2 1429.3 2449.2 1429.8 2449.3 1430.4 2449.4 1431.0 2449.4 1431.6 2449.5 1432.2 2449.5 1432.8 2449.6 1433.4 2449.7 1434.0 2449.7 1434.6 2449.8 1435.2 2449.8 1435.8 2449.9 1436.4 2450.0 1437.0 2450.0 1437.6 2450.1 1438.2 2450.2 1438.8 2450.2 1439.4 2450.3 1440.0 2450.4 1440.6 2450.4 1441.2 2450.5 1441.8 2450.6 1442.4 2450.6 1443.0 2450.7 1443.6 2450.8 1444.2 2450.8 1444.8 2450.9 1445.4 2451.0 1446.0 2451.0 1446.6 2451.1 1447.2 2451.2 1447.8 2451.3 1448.3 2451.3 1448.9 2451.4 1449.5 2451.5 1450.1 2451.5 1450.7 2451.6 1451.3 2451.7 1451.9 2451.8 1452.5 2451.8 1453.1 2451.9 1453.7 2452.0 1454.3 2452.0 1454.9 2452.1 1455.5 2452.2 1456.1 2452.3 1456.7 2452.3 1457.3 2452.4 1457.9 2452.5 1458.5 2452.6 1459.1 2452.6 1459.7 2452.7 1460.3 2452.8 1460.9 2452.9 1461.5 2452.9 1462.1 2453.0 1462.7 2453.1 1463.2 2453.2 1463.8 2453.2 1464.4 2453.3 1465.0 2453.4 1465.6 2453.5 1466.2 2453.5 1466.8 2453.6 1467.4 2453.7 1468.0 2453.8 1468.6 2453.8 1469.2 2453.9 1469.8 2454.0 1470.4 2454.1 1471.0 2454.1 1471.6 2454.2 1472.2 2454.3 1472.8 2454.4 1473.4 2454.4 1474.0 2454.5 1474.6 2454.6 1475.2 2454.7 1475.8 2454.7 1476.3 2454.8 1476.9 2454.9 1477.5 2455.0 1478.1 2455.1 1478.7 2455.1 1479.3 2455.2 1479.9 2455.3 1480.5 2455.4 1481.1 2455.4 1481.7 2455.5 1482.3 2455.6 1482.9 2455.7 1483.5 2455.7 1484.1 2455.8 1484.7 2455.9 1485.3 2456.0 1485.9 2456.0 1486.5 2456.1 1487.1 2456.2 1487.7 2456.3 1488.3 2456.4 1488.9 2456.4 1489.4 2456.5 1490.0 2456.6 1490.6 2456.7 1491.2 2456.7 1491.8 2456.8 1492.4 2456.9 1493.0 2457.0 1493.6 2457.0 1494.2 2457.1 1494.8 2457.2 1495.4 2457.3 1496.0 2457.3 1496.6 2457.4 1497.2 2457.5 1497.8 2457.6 1498.4 2457.6 1499.0 2457.7 1499.6 2457.8 1500.2 2457.9 1500.8 2457.9 1501.4 2458.0 1502.0 2458.1 1502.6 2458.1 1503.1 2458.2 1503.7 2458.3 1504.3 2458.4 1504.9 2458.4 1505.5 2458.5 1506.1 2458.6 1506.7 2458.7 1507.3 2458.7 1507.9 2458.8 1508.5 2458.9 1509.1 2458.9 1509.7 2459.0 1510.3 2459.1 1510.9 2459.2 1511.5 2459.2 1512.1 2459.3 1512.7 2459.4 1513.3 2459.4 1513.9 2459.5 1514.5 2459.6 1515.1 2459.7 1515.7 2459.7 1516.3 2459.8 1516.9 2459.9 1517.5 2459.9 1518.0 2460.0 1518.6 2460.1 1519.2 2460.1 1519.8 2460.2 1520.4 2460.3 1521.0 2460.3 1521.6 2460.4 1522.2 2460.5 1522.9 2460.5 1523.3 2460.6 1524.1 2460.7 1524.7 2460.7 1525.0 2460.8 1525.9 2460.9 1526.2 2460.9 1526.8 2461.0 1527.5 2461.1 1528.2 2461.1 1528.7 2461.2 1529.6 2461.3 1529.7 2461.3 1530.8 2461.4 1531.3 2461.5 1531.7 2461.5 1532.3 2461.6 1533.2 2461.7 1533.1 2461.7 1534.2 2461.8 1534.6 2461.9 1536.0 2461.9 1536.1 2462.0 1536.3 2462.1 1538.0 2462.1 1537.7 2462.2 1538.2 2462.3 1539.4 2462.3 1538.6 2462.4 1540.4 2462.5 1541.7 2462.5 1540.4 2462.6 1541.6 2462.7 1542.9 2462.7 1542.2 2462.8 1543.9 2462.9 1544.6 2463.0 1545.0 2463.0 1544.5 2463.1 1545.3 2463.2 1546.1 2463.2 1548.3 2463.3 1548.4 2463.4 1547.9 2463.5 1547.7 2463.5 1550.1 2463.6 1548.6 2463.7 1550.9 2463.8 1551.1 2463.8 1551.4 2463.9 1552.0 2464.0 1554.1 2464.1 1552.8 2464.1 1553.0 2464.2 1556.0 2464.3 1554.8 2464.4 1557.7 2464.5 1557.0 2464.5 1558.9 2464.6 1557.6 2464.7 1557.7 2464.8 1559.8 2464.9 1561.5 2464.9 1559.7 2465.0 1559.6 2465.1 1561.2 2465.2 1560.4 2465.3 1562.3 2465.4 1563.2 2465.5 1564.5 2465.5 1564.4 2465.6 1566.9 2465.7 1565.5 2465.8 1564.7 2465.9 1566.5 2466.0 1568.8 2466.1 1569.1 2466.2 1570.4 2466.3 1566.5 2466.4 1569.7 2466.5 1569.3 2466.6 1572.8 2466.7 1573.6 2466.8 1570.7 2466.9 1572.3 2467.0 1571.8 2467.1 1572.4 2467.2 1572.4 2467.3 1573.7 2467.4 1575.8 2467.5 1575.9 2467.6 1577.8 2467.7 1579.4 2467.8 1579.6 2467.9 1580.4 2468.0 1580.7 2468.1 1579.6 2468.2 1582.1 2468.3 1580.1 2468.4 1582.2 2468.5 1581.3 2468.6 1585.2 2468.8 1585.0 2468.9 1582.4 2469.0 1584.4 2469.1 1584.4 2469.2 1585.7 2469.3 1587.2 2469.4 1587.4 2469.5 1586.7 2469.6 1588.4 2469.7 1589.9 2469.9 1590.8 2470.0 1588.9 2470.1 1590.7 2470.2 1589.1 2470.3 1593.2 2470.4 1594.6 2470.5 1594.0 2470.6 1594.2 2470.8 1593.2 2470.9 1596.0 2471.0 1593.8 2471.1 1596.4 2471.2 1597.9 2471.3 1593.5 2471.4 1598.4 2471.5 1597.4 2471.6 1596.5 2471.8 1600.1 2471.9 1599.1 2472.0 1601.1 2472.1 1602.1 2472.2 1603.1 2472.3 1601.6 2472.4 1601.3 2472.5 1604.2 2472.6 1603.4 2472.7 1604.4 2472.8 1604.2 2472.9 1604.9 2473.0 1607.7 2473.1 1606.7 2473.2 1606.3 2473.3 1606.1 2473.4 1607.6 2473.5 1608.2 2473.6 1607.7 2473.7 1608.3 2473.8 1609.6 2473.9 1610.6 2474.0 1612.6 2474.1 1611.7 2474.2 1614.8 2474.3 1613.8 2474.4 1613.3 2474.4 1611.8 2474.5 1613.5 2474.6 1615.8 2474.7 1616.4 2474.7 1616.1 2474.8 1621.3 2474.9 1621.2 2474.9 1622.3 2475.0 1620.5 2475.1 1620.6 2475.1 1621.5 2475.2 1623.5 2475.3 1622.8 2475.3 1621.9 2475.4 1623.1 2475.5 1627.6 2475.5 1627.4 2475.6 1623.4 2475.6 1627.4 2475.7 1624.8 2475.8 1624.9 2475.9 1628.7 2475.9 1627.2 2476.0 1627.2 2476.1 1631.5 2476.2 1628.3 2476.3 1630.4 2476.4 1630.3 2476.5 1635.8 2476.6 1631.0 2476.7 1630.2 2476.8 1631.8 2476.9 1637.5 2477.1 1632.8 2477.2 1633.7 2477.4 1634.7 2477.5 1634.7 2477.7 1641.5 2477.9 1636.2 2478.0 1635.5 2478.2 1643.0 2478.4 1640.3 2478.6 1638.5 2478.8 1638.9 2479.0 1640.9 2479.2 1645.4 2479.5 1643.0 2479.7 1641.2 2479.9 1641.8 2480.2 1643.9 2480.4 1642.6 2480.7 1647.0 2480.9 1644.8 2481.2 1648.4 2481.5 1648.1 2481.7 1645.3 2482.0 1647.9 2482.3 1645.5 2482.6 1646.7 2482.9 1653.6 2483.2 1653.8 2483.5 1649.0 2483.8 1648.0 2484.1 1650.6 2484.4 1651.7 2484.7 1649.1 2485.0 1653.9 2485.4 1653.6 2485.7 1653.2 2486.0 1653.7 2486.4 1656.4 2486.7 1659.8 2487.1 1656.5 2487.4 1655.1 2487.8 1659.7 2488.2 1660.6 2488.5 1655.3 2488.9 1659.9 2489.3 1658.7 2489.7 1660.2 2490.1 1662.7 2490.5 1664.1 2490.9 1658.6 2491.3 1662.5 2491.7 1660.0 2492.1 1663.1 2492.6 1665.1 2493.0 1663.6 2493.4 1663.2 2493.9 1663.5 2494.3 1666.5 2494.8 1662.5 2495.3 1666.2 2495.7 1666.5 2496.2 1668.7 2496.7 1663.6 2497.2 1668.7 2497.7 1668.5 2498.3 1663.5 2498.8 1666.9 2499.3 1665.0 2499.9 1665.1 2500.4 1664.7 2501.0 1664.7 2501.5 1670.4 2502.1 1672.0 2502.7 1666.4 2503.3 1670.9 2503.9 1664.8 2504.4 1673.6 2505.0 1665.9 2505.6 1670.7 2506.2 1667.9 2506.8 1671.3 2507.4 1666.8 2508.0 1670.8 2508.6 1665.4 2509.2 1665.5 2509.8 1668.3 2510.4 1666.4 2511.0 1666.1 2511.6 1664.3 2512.1 1672.0 2512.7 1667.4 2513.2 1668.6 2513.8 1662.8 2514.4 1665.7 2514.9 1668.8 2515.4 1666.5 2516.0 1666.6 2516.5 1667.7 2517.1 1665.7 2517.6 1667.5 2518.1 1662.1 2518.7 1668.6 2519.2 1667.8 2519.7 1663.8 2520.3 1663.3 2520.8 1659.4 2521.3 1666.4 2521.9 1659.6 2522.4 1665.3 2522.9 1661.4 2523.5 1659.8 2524.0 1663.9 2524.6 1661.3 2525.1 1662.6 2525.7 1657.3 2526.2 1660.7 2526.8 1658.3 2527.4 1660.6 2527.9 1660.8 2528.5 1662.6 2529.1 1661.8 2529.7 1664.1 2530.3 1661.8 2530.9 1661.6 2531.5 1658.9 2532.1 1657.1 2532.7 1661.0 2533.3 1657.9 2533.9 1663.4 2534.4 1657.6 2535.0 1665.1 2535.6 1665.7 2536.1 1661.3 2536.7 1661.2 2537.2 1667.8 2537.7 1663.6 2538.2 1658.6 2538.7 1660.5 2539.2 1666.2 2539.7 1664.0 2540.2 1666.3 2540.7 1668.9 2541.1 1669.7 2541.6 1662.4 2542.0 1666.8 2542.5 1667.2 2542.9 1663.6 2543.4 1670.5 2543.8 1666.0 2544.3 1668.8 2544.7 1669.0 2545.2 1668.7 2545.6 1665.5 2546.0 1669.7 2546.5 1667.6 2546.9 1668.6 2547.4 1668.1 2547.8 1671.1 2548.3 1670.9 2548.7 1672.6 2549.2 1675.6 2549.6 1672.3 2550.1 1673.4 2550.5 1672.6 2551.0 1675.3 2551.4 1675.1 2551.9 1670.7 2552.3 1673.9 2552.8 1676.9 2553.3 1677.9 2553.7 1675.9 2554.2 1674.7 2554.6 1676.5 2555.1 1673.8 2555.5 1681.7 2556.0 1681.0 2556.5 1676.3 2556.9 1678.6 2557.4 1676.5 2557.8 1681.6 2558.3 1682.9 2558.7 1684.9 2559.2 1681.9 2559.6 1681.7 2560.1 1680.9 2560.5 1684.8 2561.0 1681.2 2561.4 1682.5 2561.9 1683.1 2562.3 1684.8 2562.8 1683.1 2563.2 1687.0 2563.6 1683.2 2564.1 1688.7 2564.5 1681.9 2564.9 1688.6 2565.3 1685.3 2565.8 1685.7 2566.2 1684.7 2566.6 1688.5 2567.0 1687.8 2567.4 1691.2 2567.8 1690.2 2568.2 1689.4 2568.6 1691.1 2569.0 1690.9 2569.4 1689.0 2569.8 1690.8 2570.2 1690.8 2570.6 1691.4 2571.0 1690.7 2571.3 1694.6 2571.7 1693.3 2572.1 1695.9 2572.5 1690.8 2572.9 1697.7 2573.3 1698.0 2573.7 1695.0 2574.1 1694.4 2574.5 1693.9 2574.8 1696.2 2575.2 1694.0 2575.6 1701.6 2576.0 1691.8 2576.4 1699.8 2576.8 1694.9 2577.2 1699.0 2577.6 1698.2 2578.1 1704.0 2578.5 1697.3 2578.9 1702.0 2579.3 1706.1 2579.7 1701.4 2580.2 1700.4 2580.6 1704.0 2581.1 1705.9 2581.5 1702.0 2581.9 1703.3 2582.4 1707.7 2582.8 1703.8 2583.3 1703.0 2583.8 1705.9 2584.2 1708.1 2584.7 1707.7 2585.2 1708.0 2585.6 1705.9 2586.1 1706.0 2586.6 1710.5 2587.0 1709.8 2587.5 1705.7 2588.0 1712.0 2588.5 1708.1 2589.0 1710.7 2589.5 1713.4 2590.0 1707.5 2590.5 1707.1 2591.0 1713.0 2591.5 1715.5 2592.0 1709.6 2592.5 1716.8 2593.0 1716.6 2593.5 1712.4 2594.0 1713.5 2594.5 1717.0 2595.0 1716.1 2595.5 1711.7 2596.1 1712.6 2596.6 1715.2 2597.1 1717.5 2597.6 1711.9 2598.1 1715.5 2598.7 1719.1 2599.2 1713.7 2599.7 1718.3 2600.3 1716.2 2600.8 1715.9 2601.3 1718.2 2601.9 1717.8 2602.4 1714.3 2603.0 1716.9 2603.5 1721.7 2604.0 1721.2 2604.6 1716.0 2605.1 1716.4 2605.7 1719.8 2606.2 1721.8 2606.8 1722.9 2607.3 1719.3 2607.9 1723.3 2608.5 1718.9 2609.0 1722.8 2609.6 1720.7 2610.1 1723.5 2610.7 1717.7 2611.2 1723.4 2611.8 1721.5 2612.4 1721.9 2612.9 1719.9 2613.5 1724.1 2614.0 1720.2 2614.6 1722.9 2615.2 1724.5 2615.7 1721.4 2616.3 1722.9 2616.8 1728.0 2617.4 1726.5 2618.0 1726.7 2618.5 1726.4 2619.1 1721.9 2619.6 1729.1 2620.2 1726.8 2620.7 1722.2 2621.3 1726.5 2621.9 1724.0 2622.4 1722.8 2623.0 1723.9 2623.5 1722.7 2624.1 1722.4 2624.6 1724.6 2625.2 1724.8 2625.7 1725.1 2626.3 1730.2 2626.8 1730.7 2627.4 1732.9 2627.9 1725.3 2628.5 1727.2 2629.0 1726.1 2629.6 1726.3 2630.1 1724.8 2630.7 1727.4 2631.2 1734.1 2631.8 1731.1 2632.3 1731.2 2632.9 1728.9 2633.4 1732.5 2634.0 1727.5 2634.5 1734.2 2635.0 1727.8 2635.6 1736.9 2636.1 1733.7 2636.7 1734.1 2637.2 1730.7 2637.8 1734.6 2638.3 1731.7 2638.8 1737.7 2639.4 1733.1 2639.9 1733.3 2640.5 1732.0 2641.0 1733.2 2641.6 1733.9 2642.1 1735.1 2642.6 1736.3 2643.2 1733.2 2643.7 1735.5 2644.3 1736.3 2644.8 1735.7 2645.4 1735.5 2645.9 1739.0 2646.4 1736.0 2647.0 1740.2 2647.5 1734.0 2648.1 1741.3 2648.6 1737.8 2649.2 1740.1 2649.7 1741.0 2650.3 1737.6 2650.8 1742.3 2651.4 1742.4 2652.0 1739.2 2652.5 1743.2 2653.1 1739.3 2653.6 1741.2 2654.2 1737.9 2654.8 1744.5 2655.3 1743.9 2655.9 1738.6 2656.5 1737.9 2657.1 1740.8 2657.6 1744.7 2658.2 1746.6 2658.8 1743.3 2659.4 1742.4 2660.0 1745.0 2660.6 1746.8 2661.1 1738.4 2661.7 1745.1 2662.3 1740.9 2662.9 1741.2 2663.5 1744.1 2664.1 1745.5 2664.7 1740.1 2665.3 1739.4 2665.9 1740.6 2666.5 1742.3 2667.1 1739.3 2667.7 1741.3 2668.3 1741.7 2668.9 1744.5 2669.5 1746.3 2670.1 1745.9 2670.7 1740.0 2671.3 1743.5 2671.9 1738.8 2672.5 1738.8 2673.1 1739.8 2673.7 1746.2 2674.3 1741.7 2674.9 1744.2 2675.5 1747.4 2676.1 1743.7 2676.7 1742.8 2677.3 1744.9 2677.9 1744.1 2678.5 1740.9 2679.1 1738.2 2679.7 1739.7 2680.3 1743.4 2680.9 1741.5 2681.5 1740.9 2682.1 1745.9 2682.7 1743.2 2683.3 1747.4 2683.9 1739.9 2684.5 1743.2 2685.1 1742.7 2685.7 1741.2 2686.3 1741.7 2686.9 1741.6 2687.5 1742.2 2688.1 1743.6 2688.7 1744.7 2689.3 1742.9 2689.9 1741.3 2690.5 1745.8 2691.1 1743.1 2691.7 1746.4 2692.3 1744.9 2692.9 1746.2 2693.5 1741.6 2694.1 1744.8 2694.7 1743.9 2695.3 1742.2 2695.9 1740.1 2696.5 1743.2 2697.1 1743.7 2697.7 1739.6 2698.3 1742.5 2698.9 1744.3 2699.5 1744.0 2700.1 1742.8 2700.7 1746.1 2701.3 1742.9 2701.9 1742.8 2702.5 1744.8 2703.1 1741.8 2703.6 1745.9 2704.2 1744.7 2704.8 1742.6 2705.4 1747.7 2706.0 1746.4 2706.6 1744.0 2707.2 1746.3 2707.8 1744.0 2708.4 1741.6 2709.0 1745.8 2709.6 1748.8 2710.2 1744.9 2710.8 1747.1 2711.4 1744.6 2712.0 1746.5 2712.6 1745.7 2713.2 1748.0 2713.8 1746.8 2714.4 1742.8 2715.0 1745.2 2715.6 1747.8 2716.2 1748.3 2716.8 1747.4 2717.4 1743.4 2718.0 1745.7 2718.6 1746.9 2719.2 1743.7 2719.8 1744.8 2720.4 1748.4 2721.0 1748.5 2721.6 1747.8 2722.2 1749.1 2722.8 1745.3 2723.4 1748.6 2724.0 1742.6 2724.6 1747.3 2725.2 1746.0 2725.8 1749.3 2726.4 1748.6 2727.0 1748.3 2727.6 1749.0 2728.2 1749.6 2728.8 1745.6 2729.4 1744.0 2730.0 1743.8 2730.6 1747.8 2731.2 1743.4 2731.8 1746.3 2732.4 1744.7 2733.0 1748.4 2733.6 1745.3 2734.2 1747.7 2734.8 1749.6 2735.4 1750.5 2736.0 1749.0 2736.6 1745.0 2737.2 1748.4 2737.8 1748.8 2738.4 1745.1 2739.0 1742.6 2739.6 1743.1 2740.2 1743.3 2740.8 1747.8 2741.4 1750.2 2742.0 1744.9 2742.6 1745.6 2743.2 1742.9 2743.8 1741.4 2744.4 1744.3 2745.0 1745.2 2745.6 1744.3 2746.2 1747.9 2746.8 1742.7 2747.4 1748.4 2748.0 1744.8 2748.6 1742.1 2749.2 1749.3 2749.8 1741.3 2750.4 1749.4 2751.0 1749.2 2751.6 1746.6 2752.2 1744.2 2752.8 1747.4 2753.4 1743.5 2754.0 1748.0 2754.6 1749.3 2755.2 1744.9 2755.8 1742.9 2756.4 1748.8 2757.0 1742.9 2757.6 1747.1 2758.2 1742.1 2758.8 1748.1 2759.4 1747.2 2760.0 1748.9 2760.6 1746.5 2761.2 1744.2 2761.8 1746.3 2762.4 1744.1 2763.0 1750.1 2763.6 1743.2 2764.2 1742.4 2764.8 1742.5 2765.4 1742.9 2766.0 1745.4 2766.6 1747.1 2767.2 1744.8 2767.8 1745.1 2768.4 1745.6 2769.0 1748.2 2769.6 1744.1 2770.2 1742.0 2770.8 1745.0 2771.4 1742.4 2772.0 1746.4 2772.6 1748.9 2773.2 1743.6 2773.8 1745.3 2774.4 1742.1 2775.0 1746.1 2775.6 1750.0 2776.2 1746.4 2776.8 1748.9 2777.4 1749.2 2778.0 1749.8 2778.6 1742.5 2779.2 1749.5 2779.8 1749.5 2780.4 1746.2 2781.0 1745.3 2781.6 1746.0 2782.2 1744.9 2782.8 1746.4 2783.4 1743.0 2784.0 1741.8 2784.6 1744.2 2785.2 1742.1 2785.8 1745.1 2786.4 1751.1 2787.0 1746.4 2787.6 1748.4 2788.2 1749.1 2788.8 1744.4 2789.4 1746.2 2790.0 1749.3 2790.6 1745.2 2791.2 1745.3 2791.8 1747.0 2792.4 1746.8 2793.0 1743.8 2793.6 1745.9 2794.2 1744.3 2794.8 1748.7 2795.4 1744.5 2796.0 1747.7 2796.6 1743.3 2797.2 1742.6 2797.8 1744.4 2798.4 1741.3 2799.0 1748.5 2799.6 1744.3 2800.2 1749.1 2800.8 1742.0 2801.4 1742.8 2802.0 1744.6 2802.6 1745.9 2803.2 1748.6 2803.8 1746.4 2804.4 1749.0 2805.0 1750.2 2805.6 1748.5 2806.2 1742.4 2806.8 1745.0 2807.4 1746.0 2808.0 1748.7 2808.6 1748.0 2809.2 1745.0 2809.8 1742.6 2810.4 1750.5 2811.0 1748.1 2811.6 1746.8 2812.2 1749.7 2812.8 1745.3 2813.4 1744.2 2814.0 1750.6 2814.6 1742.8 2815.2 1745.5 2815.8 1746.4 2816.4 1748.3 2817.0 1747.7 2817.6 1743.6 2818.2 1748.0 2818.8 1749.0 2819.4 1742.3 2820.0 1748.4 2820.6 1749.6 2821.2 1744.4 2821.8 1743.7 2822.4 1746.7 2823.0 1744.3 2823.6 1749.2 2824.2 1748.7 2824.8 1745.4 2825.4 1745.5 2826.0 1749.0 2826.6 1743.5 2827.2 1751.5 2827.8 1749.0 2828.4 1749.3 2829.0 1750.1 2829.6 1744.7 2830.2 1746.3 2830.8 1749.8 2831.4 1750.2 2832.0 1746.0 2832.6 1749.6 2833.2 1748.7 2833.8 1742.6 2834.4 1746.2 2835.0 1750.0 2835.6 1746.4 2836.2 1747.9 2836.8 1751.5 2837.4 1747.0 2838.0 1747.6 2838.6 1748.3 2839.2 1748.0 2839.8 1746.7 2840.4 1746.8 2841.0 1747.0 2841.6 1742.8 2842.2 1744.6 2842.8 1747.5 2843.4 1744.8 2844.0 1743.5 2844.6 1742.6 2845.2 1744.3 2845.8 1749.0 2846.4 1741.2 2847.0 1749.1 2847.6 1745.1 2848.2 1749.7 2848.8 1749.4 2849.4 1748.1 2850.1 1749.6 2850.7 1749.9 2851.3 1745.4 2851.9 1746.0 2852.5 1746.6 2853.1 1751.1 2853.7 1744.3 2854.3 1746.4 2854.9 1748.0 2855.5 1749.9 2856.1 1743.8 2856.7 1749.9 2857.3 1750.2 2857.9 1742.9 2858.5 1744.4 2859.1 1748.7 2859.7 1749.7 2860.3 1747.0 2860.9 1748.8 2861.5 1743.7 2862.1 1742.0 2862.7 1749.7 2863.3 1743.0 2863.9 1748.6 2864.5 1749.4 2865.1 1750.4 2865.7 1744.5 2866.3 1746.1 2866.9 1748.4 2867.5 1743.6 2868.1 1745.7 2868.7 1749.4 2869.3 1746.1 2869.9 1747.3 2870.5 1748.2 2871.1 1745.7 2871.7 1747.2 2872.3 1748.3 2872.9 1749.3 2873.5 1746.6 2874.1 1742.6 2874.7 1745.5 2875.3 1746.5 2875.9 1744.2 2876.5 1748.0 2877.1 1747.6 2877.7 1745.7 2878.3 1747.4 2878.9 1745.7 2879.5 1749.1 2880.1 1747.0 2880.7 1745.7 2881.3 1745.2 2881.9 1750.2 2882.5 1744.8 2883.1 1742.5 2883.7 1748.9 2884.3 1748.4 2884.9 1743.6 2885.5 1748.8 2886.1 1743.3 2886.7 1748.6 2887.3 1749.4 2887.9 1749.3 2888.5 1744.1 2889.1 1748.6 2889.7 1743.3 2890.3 1749.9 2890.9 1743.1 2891.5 1748.3 2892.1 1744.2 2892.7 1747.0 2893.3 1750.7 2893.9 1749.6 2894.5 1746.0 2895.1 1747.5 2895.7 1744.6 2896.3 1744.9 2896.9 1742.5 2897.5 1742.7 2898.1 1747.5" fill="none" stroke="#ff0000" stroke-width="6.8" stroke-linejoin="round"/>
<rect x="574.5" y="32.5" width="984.0" height="748.0" fill="none" stroke="#000" stroke-width="2.8"/>
<line x1="574.5" y1="630.9" x2="589.0" y2="630.9" stroke="#000" stroke-width="2.8"/>
<line x1="574.5" y1="481.3" x2="589.0" y2="481.3" stroke="#000" stroke-width="2.8"/>
<line x1="574.5" y1="331.7" x2="589.0" y2="331.7" stroke="#000" stroke-width="2.8"/>
<line x1="574.5" y1="182.1" x2="589.0" y2="182.1" stroke="#000" stroke-width="2.8"/>
<rect x="574.5" y="1005.5" width="984.0" height="748.0" fill="none" stroke="#000" stroke-width="2.8"/>
<line x1="574.5" y1="1603.9" x2="589.0" y2="1603.9" stroke="#000" stroke-width="2.8"/>
<line x1="574.5" y1="1454.3" x2="589.0" y2="1454.3" stroke="#000" stroke-width="2.8"/>
<line x1="574.5" y1="1304.7" x2="589.0" y2="1304.7" stroke="#000" stroke-width="2.8"/>
<line x1="574.5" y1="1155.1" x2="589.0" y2="1155.1" stroke="#000" stroke-width="2.8"/>
<rect x="1915.5" y="32.5" width="984.0" height="748.0" fill="none" stroke="#000" stroke-width="2.8"/>
<line x1="1915.5" y1="630.9" x2="1930.0" y2="630.9" stroke="#000" stroke-width="2.8"/>
<line x1="1915.5" y1="481.3" x2="1930.0" y2="481.3" stroke="#000" stroke-width="2.8"/>
<line x1="1915.5" y1="331.7" x2="1930.0" y2="331.7" stroke="#000" stroke-width="2.8"/>
<line x1="1915.5" y1="182.1" x2="1930.0" y2="182.1" stroke="#000" stroke-width="2.8"/>
<rect x="1915.5" y="1005.5" width="984.0" height="748.0" fill="none" stroke="#000" stroke-width="2.8"/>
<line x1="1915.5" y1="1603.9" x2="1930.0" y2="1603.9" stroke="#000" stroke-width="2.8"/>
<line x1="1915.5" y1="1454.3" x2="1930.0" y2="1454.3" stroke="#000" stroke-width="2.8"/>
<line x1="1915.5" y1="1304.7" x2="1930.0" y2="1304.7" stroke="#000" stroke-width="2.8"/>
<line x1="1915.5" y1="1155.1" x2="1930.0" y2="1155.1" stroke="#000" stroke-width="2.8"/>
<line x1="820.5" y1="780.5" x2="820.5" y2="766.0" stroke="#000" stroke-width="2.8"/>
<line x1="1066.5" y1="780.5" x2="1066.5" y2="766.0" stroke="#000" stroke-width="2.8"/>
<line x1="1312.5" y1="780.5" x2="1312.5" y2="766.0" stroke="#000" stroke-width="2.8"/>
<line x1="2161.5" y1="780.5" x2="2161.5" y2="766.0" stroke="#000" stroke-width="2.8"/>
<line x1="2407.5" y1="780.5" x2="2407.5" y2="766.0" stroke="#000" stroke-width="2.8"/>
<line x1="2653.5" y1="780.5" x2="2653.5" y2="766.0" stroke="#000" stroke-width="2.8"/>
<line x1="771.3" y1="1753.5" x2="771.3" y2="1739.0" stroke="#000" stroke-width="2.8"/>
<line x1="968.1" y1="1753.5" x2="968.1" y2="1739.0" stroke="#000" stroke-width="2.8"/>
<line x1="1164.9" y1="1753.5" x2="1164.9" y2="1739.0" stroke="#000" stroke-width="2.8"/>
<line x1="1361.7" y1="1753.5" x2="1361.7" y2="1739.0" stroke="#000" stroke-width="2.8"/>
<line x1="2161.5" y1="1753.5" x2="2161.5" y2="1739.0" stroke="#000" stroke-width="2.8"/>
<line x1="2407.5" y1="1753.5" x2="2407.5" y2="1739.0" stroke="#000" stroke-width="2.8"/>
<line x1="2653.5" y1="1753.5" x2="2653.5" y2="1739.0" stroke="#000" stroke-width="2.8"/>
<g font-family="Liberation Serif, serif" fill="#000">
<text x="526.61" y="794.80" font-size="49" textLength="27.49" lengthAdjust="spacingAndGlyphs" >0</text>
<text x="482.90" y="644.90" font-size="49" textLength="72.29" lengthAdjust="spacingAndGlyphs" >0.2</text>
<text x="482.97" y="495.30" font-size="49" textLength="69.90" lengthAdjust="spacingAndGlyphs" >0.4</text>
<text x="482.94" y="345.70" font-size="49" textLength="70.74" lengthAdjust="spacingAndGlyphs" >0.6</text>
<text x="482.93" y="196.10" font-size="49" textLength="71.24" lengthAdjust="spacingAndGlyphs" >0.8</text>
<text x="482.89" y="46.50" font-size="49" textLength="71.28" lengthAdjust="spacingAndGlyphs" >1.0</text>
<text x="526.61" y="1767.80" font-size="49" textLength="27.49" lengthAdjust="spacingAndGlyphs" >0</text>
<text x="482.90" y="1617.90" font-size="49" textLength="72.29" lengthAdjust="spacingAndGlyphs" >0.2</text>
<text x="482.97" y="1468.30" font-size="49" textLength="69.90" lengthAdjust="spacingAndGlyphs" >0.4</text>
<text x="482.94" y="1318.70" font-size="49" textLength="70.74" lengthAdjust="spacingAndGlyphs" >0.6</text>
<text x="482.93" y="1169.10" font-size="49" textLength="71.24" lengthAdjust="spacingAndGlyphs" >0.8</text>
<text x="482.89" y="1019.50" font-size="49" textLength="71.28" lengthAdjust="spacingAndGlyphs" >1.0</text>
<text x="1867.61" y="794.80" font-size="49" textLength="27.49" lengthAdjust="spacingAndGlyphs" >0</text>
<text x="1823.90" y="644.90" font-size="49" textLength="72.29" lengthAdjust="spacingAndGlyphs" >0.2</text>
<text x="1823.97" y="495.30" font-size="49" textLength="69.90" lengthAdjust="spacingAndGlyphs" >0.4</text>
<text x="1823.94" y="345.70" font-size="49" textLength="70.74" lengthAdjust="spacingAndGlyphs" >0.6</text>
<text x="1823.93" y="196.10" font-size="49" textLength="71.24" lengthAdjust="spacingAndGlyphs" >0.8</text>
<text x="1823.89" y="46.50" font-size="49" textLength="71.28" lengthAdjust="spacingAndGlyphs" >1.0</text>
<text x="1867.61" y="1767.80" font-size="49" textLength="27.49" lengthAdjust="spacingAndGlyphs" >0</text>
<text x="1823.90" y="1617.90" font-size="49" textLength="72.29" lengthAdjust="spacingAndGlyphs" >0.2</text>
<text x="1823.97" y="1468.30" font-size="49" textLength="69.90" lengthAdjust="spacingAndGlyphs" >0.4</text>
<text x="1823.94" y="1318.70" font-size="49" textLength="70.74" lengthAdjust="spacingAndGlyphs" >0.6</text>
<text x="1823.93" y="1169.10" font-size="49" textLength="71.24" lengthAdjust="spacingAndGlyphs" >0.8</text>
<text x="1823.89" y="1019.50" font-size="49" textLength="71.28" lengthAdjust="spacingAndGlyphs" >1.0</text>
<text x="518.12" y="835.50" font-size="49" textLength="111.10" lengthAdjust="spacingAndGlyphs" >1010</text>
<text x="764.12" y="835.50" font-size="49" textLength="111.10" lengthAdjust="spacingAndGlyphs" >1030</text>
<text x="1010.12" y="835.50" font-size="49" textLength="111.10" lengthAdjust="spacingAndGlyphs" >1050</text>
<text x="1256.12" y="835.50" font-size="49" textLength="111.10" lengthAdjust="spacingAndGlyphs" >1070</text>
<text x="1502.12" y="835.50" font-size="49" textLength="111.10" lengthAdjust="spacingAndGlyphs" >1090</text>
<text x="518.12" y="1808.50" font-size="49" textLength="111.10" lengthAdjust="spacingAndGlyphs" >1500</text>
<text x="714.92" y="1808.50" font-size="49" textLength="111.10" lengthAdjust="spacingAndGlyphs" >1520</text>
<text x="911.72" y="1808.50" font-size="49" textLength="111.10" lengthAdjust="spacingAndGlyphs" >1540</text>
<text x="1108.52" y="1808.50" font-size="49" textLength="111.10" lengthAdjust="spacingAndGlyphs" >1560</text>
<text x="1305.32" y="1808.50" font-size="49" textLength="111.10" lengthAdjust="spacingAndGlyphs" >1580</text>
<text x="1502.12" y="1808.50" font-size="49" textLength="111.10" lengthAdjust="spacingAndGlyphs" >1600</text>
<line x1="1842.9" y1="823.2" x2="1875.5" y2="823.2" stroke="#000" stroke-width="2.6"/>
<text x="1884.67" y="835.50" font-size="49" textLength="110.43" lengthAdjust="spacingAndGlyphs" >2000</text>
<line x1="2088.9" y1="823.2" x2="2121.5" y2="823.2" stroke="#000" stroke-width="2.6"/>
<text x="2128.13" y="835.50" font-size="49" textLength="113.02" lengthAdjust="spacingAndGlyphs" >1000</text>
<text x="2393.17" y="835.50" font-size="49" textLength="27.96" lengthAdjust="spacingAndGlyphs" >0</text>
<text x="2597.12" y="835.50" font-size="49" textLength="111.10" lengthAdjust="spacingAndGlyphs" >1000</text>
<text x="2843.47" y="835.50" font-size="49" textLength="110.74" lengthAdjust="spacingAndGlyphs" >2000</text>
<line x1="1842.9" y1="1796.2" x2="1875.5" y2="1796.2" stroke="#000" stroke-width="2.6"/>
<text x="1884.67" y="1808.50" font-size="49" textLength="110.43" lengthAdjust="spacingAndGlyphs" >2000</text>
<line x1="2088.9" y1="1796.2" x2="2121.5" y2="1796.2" stroke="#000" stroke-width="2.6"/>
<text x="2128.13" y="1808.50" font-size="49" textLength="113.02" lengthAdjust="spacingAndGlyphs" >1000</text>
<text x="2393.17" y="1808.50" font-size="49" textLength="27.96" lengthAdjust="spacingAndGlyphs" >0</text>
<text x="2597.12" y="1808.50" font-size="49" textLength="111.10" lengthAdjust="spacingAndGlyphs" >1000</text>
<text x="2843.47" y="1808.50" font-size="49" textLength="110.74" lengthAdjust="spacingAndGlyphs" >2000</text>
<text x="875.04" y="908.50" font-size="50" textLength="277.31" lengthAdjust="spacingAndGlyphs" >Wavelength</text>
<text x="1183.79" y="908.50" font-size="50" textLength="73.21" lengthAdjust="spacingAndGlyphs" >nm</text>
<line x1="1177.8" y1="873.2" x2="1158.9" y2="917.7" stroke="#000" stroke-width="2.3" stroke-linecap="round"/>
<text x="2305.78" y="908.00" font-size="50" textLength="134.64" lengthAdjust="spacingAndGlyphs" >Delay</text>
<text x="2470.59" y="908.00" font-size="50" textLength="37.91" lengthAdjust="spacingAndGlyphs" >fs</text>
<line x1="2464.8" y1="873.0" x2="2446.1" y2="918.8" stroke="#000" stroke-width="2.3" stroke-linecap="round"/>
<g transform="translate(433.3 0.0) rotate(-90)"><text x="-644.18" y="0.00" font-size="50" textLength="211.52" lengthAdjust="spacingAndGlyphs" >Intensity</text></g>
<g transform="translate(433.3 0.0) rotate(-90)"><text x="-402.45" y="0.00" font-size="50" textLength="237.75" lengthAdjust="spacingAndGlyphs" >arb. units</text></g>
<line x1="397.0" y1="408.4" x2="442.2" y2="426.1" stroke="#000" stroke-width="2.3" stroke-linecap="round"/>
<g transform="translate(1772.9 0.0) rotate(-90)"><text x="-689.38" y="0.00" font-size="50" textLength="303.72" lengthAdjust="spacingAndGlyphs" >AC intensity</text></g>
<g transform="translate(1772.9 0.0) rotate(-90)"><text x="-356.33" y="0.00" font-size="50" textLength="235.92" lengthAdjust="spacingAndGlyphs" >arb. units</text></g>
<line x1="1738.4" y1="361.4" x2="1783.6" y2="379.6" stroke="#000" stroke-width="2.3" stroke-linecap="round"/>
<text x="875.04" y="1881.50" font-size="50" textLength="277.31" lengthAdjust="spacingAndGlyphs" >Wavelength</text>
<text x="1183.79" y="1881.50" font-size="50" textLength="73.21" lengthAdjust="spacingAndGlyphs" >nm</text>
<line x1="1177.8" y1="1846.2" x2="1158.9" y2="1890.7" stroke="#000" stroke-width="2.3" stroke-linecap="round"/>
<text x="2305.78" y="1881.00" font-size="50" textLength="134.64" lengthAdjust="spacingAndGlyphs" >Delay</text>
<text x="2470.59" y="1881.00" font-size="50" textLength="37.91" lengthAdjust="spacingAndGlyphs" >fs</text>
<line x1="2464.8" y1="1846.0" x2="2446.1" y2="1891.8" stroke="#000" stroke-width="2.3" stroke-linecap="round"/>
<g transform="translate(433.3 973.0) rotate(-90)"><text x="-644.18" y="0.00" font-size="50" textLength="211.52" lengthAdjust="spacingAndGlyphs" >Intensity</text></g>
<g transform="translate(433.3 973.0) rotate(-90)"><text x="-402.45" y="0.00" font-size="50" textLength="237.75" lengthAdjust="spacingAndGlyphs" >arb. units</text></g>
<line x1="397.0" y1="1381.4" x2="442.2" y2="1399.1" stroke="#000" stroke-width="2.3" stroke-linecap="round"/>
<g transform="translate(1772.9 973.0) rotate(-90)"><text x="-689.38" y="0.00" font-size="50" textLength="303.72" lengthAdjust="spacingAndGlyphs" >AC intensity</text></g>
<g transform="translate(1772.9 973.0) rotate(-90)"><text x="-356.33" y="0.00" font-size="50" textLength="235.92" lengthAdjust="spacingAndGlyphs" >arb. units</text></g>
<line x1="1738.4" y1="1334.4" x2="1783.6" y2="1352.6" stroke="#000" stroke-width="2.3" stroke-linecap="round"/>
<text x="596.76" y="93.40" font-size="53" textLength="16.99" lengthAdjust="spacingAndGlyphs" >(</text>
<text x="615.45" y="93.30" font-size="47" textLength="27.19" lengthAdjust="spacingAndGlyphs" >a</text>
<text x="644.24" y="93.40" font-size="53" textLength="17.11" lengthAdjust="spacingAndGlyphs" >)</text>
<text x="1937.86" y="93.40" font-size="53" textLength="16.99" lengthAdjust="spacingAndGlyphs" >(</text>
<text x="1957.90" y="93.30" font-size="47" textLength="28.25" lengthAdjust="spacingAndGlyphs" >b</text>
<text x="1987.84" y="93.40" font-size="53" textLength="17.11" lengthAdjust="spacingAndGlyphs" >)</text>
<text x="596.76" y="1066.40" font-size="53" textLength="16.99" lengthAdjust="spacingAndGlyphs" >(</text>
<text x="615.04" y="1066.30" font-size="47" textLength="24.03" lengthAdjust="spacingAndGlyphs" >c</text>
<text x="641.24" y="1066.40" font-size="53" textLength="17.11" lengthAdjust="spacingAndGlyphs" >)</text>
<text x="1937.86" y="1066.40" font-size="53" textLength="16.99" lengthAdjust="spacingAndGlyphs" >(</text>
<text x="1955.81" y="1066.30" font-size="47" textLength="28.89" lengthAdjust="spacingAndGlyphs" >d</text>
<text x="1987.84" y="1066.40" font-size="53" textLength="17.11" lengthAdjust="spacingAndGlyphs" >)</text>
<line x1="2503" y1="79.0" x2="2582.5" y2="79.0" stroke="#000" stroke-width="6.2" stroke-dasharray="25.7 28"/>
<line x1="2503" y1="138.0" x2="2582.5" y2="138.0" stroke="#ff0000" stroke-width="5.6"/>
<text x="2600.73" y="93.80" font-size="50" textLength="257.51" lengthAdjust="spacingAndGlyphs" >Calculated</text>
<text x="2601.52" y="152.00" font-size="50" textLength="229.39" lengthAdjust="spacingAndGlyphs" >Measured</text>
<line x1="2503" y1="1052.0" x2="2582.5" y2="1052.0" stroke="#000" stroke-width="6.2" stroke-dasharray="25.7 28"/>
<line x1="2503" y1="1111.0" x2="2582.5" y2="1111.0" stroke="#ff0000" stroke-width="5.6"/>
<text x="2600.73" y="1066.80" font-size="50" textLength="257.51" lengthAdjust="spacingAndGlyphs" >Calculated</text>
<text x="2601.52" y="1125.00" font-size="50" textLength="229.39" lengthAdjust="spacingAndGlyphs" >Measured</text>
<line x1="2240.0" y1="401.5" x2="2351.5" y2="401.5" stroke="#000" stroke-width="4.4"/>
<polygon points="2345.0,391.2 2366.5,401.5 2345.0,411.8" fill="#000"/>
<line x1="2459.0" y1="401.5" x2="2569.0" y2="401.5" stroke="#000" stroke-width="4.4"/>
<polygon points="2465.5,391.2 2444.0,401.5 2465.5,411.8" fill="#000"/>
<line x1="2241.4" y1="1373.5" x2="2351.8" y2="1373.5" stroke="#000" stroke-width="4.4"/>
<polygon points="2345.3,1363.2 2366.8,1373.5 2345.3,1383.8" fill="#000"/>
<line x1="2465.4" y1="1373.5" x2="2575.0" y2="1373.5" stroke="#000" stroke-width="4.4"/>
<polygon points="2471.9,1363.2 2450.4,1373.5 2471.9,1383.8" fill="#000"/>
<text x="2448.95" y="375.80" font-size="49" textLength="82.81" lengthAdjust="spacingAndGlyphs" >175</text>
<text x="2552.15" y="375.80" font-size="50" textLength="38.79" lengthAdjust="spacingAndGlyphs" >fs</text>
<text x="2638.35" y="375.80" font-size="49" textLength="98.53" lengthAdjust="spacingAndGlyphs" >1.54</text>
<text x="2467.30" y="1348.00" font-size="49" textLength="81.98" lengthAdjust="spacingAndGlyphs" >207</text>
<text x="2568.32" y="1348.00" font-size="50" textLength="39.34" lengthAdjust="spacingAndGlyphs" >fs</text>
<text x="2656.82" y="1348.00" font-size="49" textLength="97.25" lengthAdjust="spacingAndGlyphs" >1.54</text>
<path d="M2603.2 348.8L2627.8 373.4M2603.2 373.4L2627.8 348.8" stroke="#000" stroke-width="2.3" stroke-linecap="round" fill="none"/>
<path d="M2620.1 1321.6L2644.7 1346.2M2620.1 1346.2L2644.7 1321.6" stroke="#000" stroke-width="2.3" stroke-linecap="round" fill="none"/>
</g></svg>
</body></html>
